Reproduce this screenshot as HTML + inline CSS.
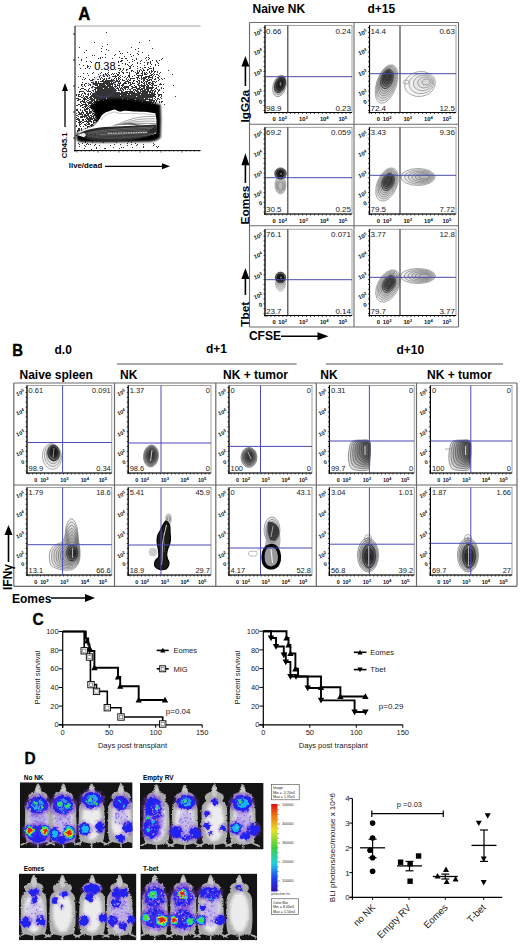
<!DOCTYPE html>
<html><head><meta charset="utf-8"><title>Figure</title><style>
html,body{margin:0;padding:0;background:#fff;width:520px;height:944px;overflow:hidden}
svg{display:block}
text{font-family:"Liberation Sans",sans-serif}
</style></head><body>
<svg width="520" height="944" viewBox="0 0 520 944">
<rect width="520" height="944" fill="#fff"/>
<text x="0" y="0" font-size="17.6" font-weight="bold" stroke="#000" stroke-width="0.35" transform="translate(78.2,20.2) scale(0.95,1)">A</text>
<line x1="75.0" y1="26.0" x2="200.6" y2="26.0" stroke="#9a9a9a" stroke-width="0.9" />
<path d="M106 32h1v1h-1zM149 40h1v1h-1zM94 42h1v1h-1zM139 42h1v1h-1zM107 44h1v1h-1zM102 46h1v1h-1zM79 47h1v1h-1zM131 47h1v1h-1zM101 48h1v1h-1zM138 48h1v1h-1zM152 48h1v1h-1zM106 49h1v1h-1zM135 49h1v1h-1zM86 50h1v1h-1zM108 50h1v1h-1zM101 51h1v1h-1zM119 51h1v1h-1zM138 51h1v1h-1zM84 52h1v1h-1zM127 52h1v1h-1zM142 52h1v1h-1zM120 53h1v1h-1zM122 53h1v1h-1zM137 53h1v1h-1zM105 54h1v1h-1zM115 54h1v1h-1zM130 54h1v1h-1zM138 54h1v1h-1zM92 55h1v1h-1zM94 55h1v1h-1zM114 55h1v1h-1zM133 55h1v1h-1zM148 55h1v1h-1zM124 56h1v1h-1zM131 56h1v1h-1zM78 57h1v1h-1zM86 57h1v1h-1zM100 57h1v1h-1zM102 57h1v1h-1zM105 57h1v1h-1zM119 57h1v1h-1zM146 57h1v1h-1zM148 57h1v1h-1zM98 58h1v1h-1zM100 58h1v1h-1zM112 58h1v1h-1zM121 58h1v1h-1zM122 58h1v1h-1zM125 58h1v1h-1zM126 58h1v1h-1zM136 58h1v1h-1zM145 58h1v1h-1zM149 58h1v1h-1zM162 58h1v1h-1zM81 59h1v1h-1zM132 59h1v1h-1zM136 59h1v1h-1zM148 59h1v1h-1zM161 59h1v1h-1zM81 60h1v1h-1zM121 60h1v1h-1zM122 60h1v1h-1zM127 60h1v1h-1zM134 60h1v1h-1zM141 60h1v1h-1zM146 60h1v1h-1zM152 60h1v1h-1zM156 60h1v1h-1zM159 60h1v1h-1zM86 61h1v1h-1zM90 61h1v1h-1zM118 61h1v1h-1zM120 61h1v1h-1zM121 61h1v1h-1zM132 61h1v1h-1zM140 61h1v1h-1zM150 61h1v1h-1zM156 61h1v1h-1zM91 62h1v1h-1zM96 62h1v1h-1zM99 62h1v1h-1zM118 62h1v1h-1zM129 62h1v1h-1zM137 62h1v1h-1zM144 62h1v1h-1zM147 62h1v1h-1zM148 62h1v1h-1zM150 62h1v1h-1zM157 62h1v1h-1zM122 63h1v1h-1zM125 63h1v1h-1zM137 63h1v1h-1zM140 63h1v1h-1zM147 63h1v1h-1zM150 63h1v1h-1zM158 63h1v1h-1zM79 64h1v1h-1zM125 64h1v1h-1zM127 64h1v1h-1zM132 64h1v1h-1zM147 64h1v1h-1zM151 64h1v1h-1zM155 64h1v1h-1zM83 65h1v1h-1zM87 65h1v1h-1zM118 65h1v1h-1zM119 65h1v1h-1zM128 65h1v1h-1zM131 65h1v1h-1zM144 65h1v1h-1zM155 65h1v1h-1zM158 65h1v1h-1zM87 66h1v1h-1zM88 66h1v1h-1zM90 66h1v1h-1zM129 66h1v1h-1zM130 66h1v1h-1zM133 66h1v1h-1zM137 66h1v1h-1zM150 66h1v1h-1zM87 67h1v1h-1zM130 67h1v1h-1zM140 67h1v1h-1zM144 67h1v1h-1zM145 67h1v1h-1zM148 67h1v1h-1zM153 67h1v1h-1zM80 68h1v1h-1zM85 68h1v1h-1zM89 68h1v1h-1zM118 68h1v1h-1zM119 68h1v1h-1zM120 68h1v1h-1zM123 68h1v1h-1zM129 68h1v1h-1zM130 68h1v1h-1zM137 68h1v1h-1zM142 68h1v1h-1zM149 68h1v1h-1zM150 68h1v1h-1zM151 68h1v1h-1zM153 68h1v1h-1zM115 69h1v1h-1zM120 69h1v1h-1zM123 69h1v1h-1zM126 69h1v1h-1zM127 69h1v1h-1zM140 69h1v1h-1zM143 69h1v1h-1zM147 69h1v1h-1zM148 69h1v1h-1zM153 69h1v1h-1zM108 70h1v1h-1zM119 70h1v1h-1zM122 70h1v1h-1zM126 70h1v1h-1zM131 70h1v1h-1zM132 70h1v1h-1zM137 70h1v1h-1zM139 70h1v1h-1zM141 70h1v1h-1zM143 70h1v1h-1zM144 70h1v1h-1zM147 70h1v1h-1zM151 70h1v1h-1zM153 70h1v1h-1zM168 70h1v1h-1zM121 71h1v1h-1zM131 71h1v1h-1zM133 71h1v1h-1zM137 71h1v1h-1zM139 71h1v1h-1zM142 71h1v1h-1zM149 71h1v1h-1zM151 71h1v1h-1zM152 71h1v1h-1zM154 71h1v1h-1zM155 71h1v1h-1zM157 71h1v1h-1zM93 72h1v1h-1zM101 72h1v1h-1zM108 72h1v1h-1zM118 72h1v1h-1zM119 72h1v1h-1zM122 72h1v1h-1zM123 72h1v1h-1zM126 72h1v1h-1zM127 72h1v1h-1zM129 72h1v1h-1zM135 72h1v1h-1zM137 72h1v1h-1zM138 72h1v1h-1zM142 72h1v1h-1zM144 72h1v1h-1zM146 72h1v1h-1zM149 72h1v1h-1zM151 72h1v1h-1zM154 72h1v1h-1zM157 72h1v1h-1zM160 72h1v1h-1zM83 73h1v1h-1zM87 73h1v1h-1zM92 73h1v1h-1zM100 73h1v1h-1zM105 73h1v1h-1zM107 73h1v1h-1zM112 73h1v1h-1zM114 73h1v1h-1zM116 73h1v1h-1zM119 73h1v1h-1zM123 73h1v1h-1zM129 73h1v1h-1zM136 73h1v1h-1zM137 73h1v1h-1zM138 73h1v1h-1zM141 73h1v1h-1zM142 73h1v1h-1zM144 73h1v1h-1zM145 73h1v1h-1zM147 73h1v1h-1zM150 73h1v1h-1zM153 73h1v1h-1zM159 73h1v1h-1zM98 74h1v1h-1zM103 74h1v1h-1zM105 74h1v1h-1zM106 74h1v1h-1zM108 74h1v1h-1zM111 74h1v1h-1zM113 74h1v1h-1zM117 74h1v1h-1zM118 74h1v1h-1zM129 74h1v1h-1zM136 74h1v1h-1zM142 74h1v1h-1zM144 74h1v1h-1zM145 74h1v1h-1zM146 74h1v1h-1zM151 74h1v1h-1zM152 74h1v1h-1zM154 74h1v1h-1zM156 74h1v1h-1zM157 74h1v1h-1zM172 74h1v1h-1zM88 75h1v1h-1zM100 75h1v1h-1zM103 75h1v1h-1zM106 75h1v1h-1zM107 75h1v1h-1zM109 75h1v1h-1zM115 75h1v1h-1zM117 75h1v1h-1zM118 75h1v1h-1zM120 75h1v1h-1zM128 75h1v1h-1zM129 75h1v1h-1zM134 75h1v1h-1zM137 75h1v1h-1zM138 75h1v1h-1zM139 75h1v1h-1zM140 75h1v1h-1zM141 75h1v1h-1zM142 75h1v1h-1zM149 75h1v1h-1zM150 75h1v1h-1zM151 75h1v1h-1zM153 75h1v1h-1zM158 75h1v1h-1zM78 76h1v1h-1zM80 76h1v1h-1zM99 76h1v1h-1zM103 76h1v1h-1zM104 76h1v1h-1zM107 76h1v1h-1zM112 76h1v1h-1zM113 76h1v1h-1zM114 76h1v1h-1zM115 76h1v1h-1zM116 76h1v1h-1zM119 76h1v1h-1zM122 76h1v1h-1zM125 76h1v1h-1zM128 76h1v1h-1zM129 76h1v1h-1zM132 76h1v1h-1zM138 76h1v1h-1zM141 76h1v1h-1zM145 76h1v1h-1zM146 76h1v1h-1zM147 76h1v1h-1zM148 76h1v1h-1zM149 76h1v1h-1zM152 76h1v1h-1zM155 76h1v1h-1zM159 76h1v1h-1zM83 77h1v1h-1zM94 77h1v1h-1zM99 77h1v1h-1zM101 77h1v1h-1zM109 77h1v1h-1zM115 77h1v1h-1zM118 77h1v1h-1zM120 77h1v1h-1zM124 77h1v1h-1zM127 77h1v1h-1zM129 77h1v1h-1zM136 77h1v1h-1zM137 77h1v1h-1zM138 77h1v1h-1zM141 77h1v1h-1zM143 77h1v1h-1zM144 77h1v1h-1zM145 77h1v1h-1zM146 77h1v1h-1zM148 77h1v1h-1zM149 77h1v1h-1zM150 77h1v1h-1zM151 77h1v1h-1zM152 77h1v1h-1zM157 77h1v1h-1zM158 77h1v1h-1zM85 78h1v1h-1zM100 78h1v1h-1zM102 78h1v1h-1zM104 78h1v1h-1zM106 78h1v1h-1zM108 78h1v1h-1zM109 78h1v1h-1zM114 78h1v1h-1zM116 78h1v1h-1zM118 78h1v1h-1zM119 78h1v1h-1zM126 78h1v1h-1zM130 78h1v1h-1zM131 78h1v1h-1zM132 78h1v1h-1zM133 78h1v1h-1zM134 78h1v1h-1zM137 78h1v1h-1zM139 78h1v1h-1zM141 78h1v1h-1zM142 78h1v1h-1zM143 78h1v1h-1zM144 78h1v1h-1zM145 78h1v1h-1zM148 78h1v1h-1zM152 78h1v1h-1zM155 78h1v1h-1zM158 78h1v1h-1zM161 78h1v1h-1zM164 78h1v1h-1zM82 79h1v1h-1zM84 79h1v1h-1zM89 79h1v1h-1zM92 79h1v1h-1zM93 79h1v1h-1zM97 79h1v1h-1zM98 79h1v1h-1zM100 79h1v1h-1zM103 79h1v1h-1zM104 79h1v1h-1zM106 79h1v1h-1zM111 79h1v1h-1zM113 79h1v1h-1zM116 79h1v1h-1zM118 79h1v1h-1zM120 79h1v1h-1zM122 79h1v1h-1zM126 79h1v1h-1zM128 79h1v1h-1zM130 79h1v1h-1zM137 79h1v1h-1zM141 79h1v1h-1zM143 79h1v1h-1zM144 79h1v1h-1zM146 79h1v1h-1zM147 79h1v1h-1zM149 79h1v1h-1zM150 79h1v1h-1zM151 79h1v1h-1zM154 79h1v1h-1zM155 79h1v1h-1zM159 79h1v1h-1zM162 79h1v1h-1zM90 80h1v1h-1zM91 80h1v1h-1zM92 80h1v1h-1zM102 80h1v1h-1zM103 80h1v1h-1zM105 80h1v1h-1zM106 80h1v1h-1zM107 80h1v1h-1zM108 80h1v1h-1zM109 80h1v1h-1zM110 80h1v1h-1zM111 80h1v1h-1zM112 80h1v1h-1zM113 80h1v1h-1zM114 80h1v1h-1zM116 80h1v1h-1zM117 80h1v1h-1zM119 80h1v1h-1zM122 80h1v1h-1zM123 80h1v1h-1zM124 80h1v1h-1zM127 80h1v1h-1zM129 80h1v1h-1zM130 80h1v1h-1zM133 80h1v1h-1zM134 80h1v1h-1zM138 80h1v1h-1zM139 80h1v1h-1zM143 80h1v1h-1zM144 80h1v1h-1zM147 80h1v1h-1zM148 80h1v1h-1zM149 80h1v1h-1zM151 80h1v1h-1zM158 80h1v1h-1zM95 81h1v1h-1zM96 81h1v1h-1zM98 81h1v1h-1zM100 81h1v1h-1zM101 81h1v1h-1zM102 81h1v1h-1zM103 81h1v1h-1zM104 81h1v1h-1zM105 81h1v1h-1zM106 81h1v1h-1zM107 81h1v1h-1zM108 81h1v1h-1zM109 81h1v1h-1zM110 81h1v1h-1zM111 81h1v1h-1zM112 81h1v1h-1zM115 81h1v1h-1zM116 81h1v1h-1zM117 81h1v1h-1zM118 81h1v1h-1zM119 81h1v1h-1zM125 81h1v1h-1zM126 81h1v1h-1zM127 81h1v1h-1zM128 81h1v1h-1zM133 81h1v1h-1zM136 81h1v1h-1zM137 81h1v1h-1zM139 81h1v1h-1zM141 81h1v1h-1zM143 81h1v1h-1zM145 81h1v1h-1zM146 81h1v1h-1zM147 81h1v1h-1zM152 81h1v1h-1zM153 81h1v1h-1zM154 81h1v1h-1zM156 81h1v1h-1zM82 82h1v1h-1zM91 82h1v1h-1zM92 82h1v1h-1zM93 82h1v1h-1zM95 82h1v1h-1zM96 82h1v1h-1zM98 82h1v1h-1zM103 82h1v1h-1zM104 82h1v1h-1zM105 82h1v1h-1zM106 82h1v1h-1zM107 82h1v1h-1zM108 82h1v1h-1zM109 82h1v1h-1zM111 82h1v1h-1zM113 82h1v1h-1zM114 82h1v1h-1zM115 82h1v1h-1zM118 82h1v1h-1zM120 82h1v1h-1zM124 82h1v1h-1zM125 82h1v1h-1zM128 82h1v1h-1zM129 82h1v1h-1zM130 82h1v1h-1zM132 82h1v1h-1zM137 82h1v1h-1zM139 82h1v1h-1zM141 82h1v1h-1zM142 82h1v1h-1zM144 82h1v1h-1zM146 82h1v1h-1zM148 82h1v1h-1zM149 82h1v1h-1zM150 82h1v1h-1zM152 82h1v1h-1zM155 82h1v1h-1zM85 83h1v1h-1zM86 83h1v1h-1zM88 83h1v1h-1zM93 83h1v1h-1zM94 83h1v1h-1zM95 83h1v1h-1zM96 83h1v1h-1zM97 83h1v1h-1zM98 83h1v1h-1zM99 83h1v1h-1zM100 83h1v1h-1zM101 83h1v1h-1zM102 83h1v1h-1zM103 83h1v1h-1zM104 83h1v1h-1zM105 83h1v1h-1zM106 83h1v1h-1zM107 83h1v1h-1zM108 83h1v1h-1zM109 83h1v1h-1zM110 83h1v1h-1zM111 83h1v1h-1zM112 83h1v1h-1zM113 83h1v1h-1zM118 83h1v1h-1zM119 83h1v1h-1zM120 83h1v1h-1zM123 83h1v1h-1zM124 83h1v1h-1zM125 83h1v1h-1zM126 83h1v1h-1zM128 83h1v1h-1zM130 83h1v1h-1zM132 83h1v1h-1zM133 83h1v1h-1zM134 83h1v1h-1zM138 83h1v1h-1zM139 83h1v1h-1zM143 83h1v1h-1zM144 83h1v1h-1zM146 83h1v1h-1zM148 83h1v1h-1zM149 83h1v1h-1zM151 83h1v1h-1zM152 83h1v1h-1zM153 83h1v1h-1zM160 83h1v1h-1zM81 84h1v1h-1zM82 84h1v1h-1zM84 84h1v1h-1zM89 84h1v1h-1zM90 84h1v1h-1zM93 84h1v1h-1zM94 84h1v1h-1zM95 84h1v1h-1zM96 84h1v1h-1zM97 84h1v1h-1zM99 84h1v1h-1zM100 84h1v1h-1zM101 84h1v1h-1zM102 84h1v1h-1zM103 84h1v1h-1zM104 84h1v1h-1zM106 84h1v1h-1zM107 84h1v1h-1zM108 84h1v1h-1zM109 84h1v1h-1zM110 84h1v1h-1zM111 84h1v1h-1zM112 84h1v1h-1zM114 84h1v1h-1zM115 84h1v1h-1zM117 84h1v1h-1zM119 84h1v1h-1zM122 84h1v1h-1zM123 84h1v1h-1zM130 84h1v1h-1zM131 84h1v1h-1zM137 84h1v1h-1zM138 84h1v1h-1zM141 84h1v1h-1zM144 84h1v1h-1zM146 84h1v1h-1zM147 84h1v1h-1zM149 84h1v1h-1zM150 84h1v1h-1zM152 84h1v1h-1zM153 84h1v1h-1zM159 84h1v1h-1zM160 84h1v1h-1zM161 84h1v1h-1zM163 84h1v1h-1zM81 85h1v1h-1zM84 85h1v1h-1zM88 85h1v1h-1zM90 85h1v1h-1zM95 85h1v1h-1zM96 85h1v1h-1zM97 85h1v1h-1zM99 85h1v1h-1zM100 85h1v1h-1zM101 85h1v1h-1zM102 85h1v1h-1zM103 85h1v1h-1zM104 85h1v1h-1zM105 85h1v1h-1zM107 85h1v1h-1zM108 85h1v1h-1zM109 85h1v1h-1zM110 85h1v1h-1zM112 85h1v1h-1zM115 85h1v1h-1zM117 85h1v1h-1zM118 85h1v1h-1zM119 85h1v1h-1zM121 85h1v1h-1zM122 85h1v1h-1zM123 85h1v1h-1zM129 85h1v1h-1zM130 85h1v1h-1zM134 85h1v1h-1zM138 85h1v1h-1zM139 85h1v1h-1zM140 85h1v1h-1zM141 85h1v1h-1zM142 85h1v1h-1zM143 85h1v1h-1zM144 85h1v1h-1zM145 85h1v1h-1zM147 85h1v1h-1zM148 85h1v1h-1zM151 85h1v1h-1zM152 85h1v1h-1zM154 85h1v1h-1zM155 85h1v1h-1zM156 85h1v1h-1zM173 85h1v1h-1zM82 86h1v1h-1zM85 86h1v1h-1zM92 86h1v1h-1zM93 86h1v1h-1zM97 86h1v1h-1zM98 86h1v1h-1zM99 86h1v1h-1zM100 86h1v1h-1zM101 86h1v1h-1zM102 86h1v1h-1zM103 86h1v1h-1zM104 86h1v1h-1zM105 86h1v1h-1zM106 86h1v1h-1zM107 86h1v1h-1zM108 86h1v1h-1zM109 86h1v1h-1zM110 86h1v1h-1zM111 86h1v1h-1zM112 86h1v1h-1zM114 86h1v1h-1zM115 86h1v1h-1zM116 86h1v1h-1zM119 86h1v1h-1zM122 86h1v1h-1zM124 86h1v1h-1zM125 86h1v1h-1zM126 86h1v1h-1zM127 86h1v1h-1zM128 86h1v1h-1zM131 86h1v1h-1zM132 86h1v1h-1zM135 86h1v1h-1zM136 86h1v1h-1zM139 86h1v1h-1zM141 86h1v1h-1zM142 86h1v1h-1zM143 86h1v1h-1zM144 86h1v1h-1zM146 86h1v1h-1zM147 86h1v1h-1zM148 86h1v1h-1zM152 86h1v1h-1zM158 86h1v1h-1zM78 87h1v1h-1zM91 87h1v1h-1zM92 87h1v1h-1zM94 87h1v1h-1zM95 87h1v1h-1zM96 87h1v1h-1zM97 87h1v1h-1zM98 87h1v1h-1zM99 87h1v1h-1zM100 87h1v1h-1zM101 87h1v1h-1zM102 87h1v1h-1zM103 87h1v1h-1zM104 87h1v1h-1zM105 87h1v1h-1zM106 87h1v1h-1zM107 87h1v1h-1zM109 87h1v1h-1zM110 87h1v1h-1zM111 87h1v1h-1zM112 87h1v1h-1zM113 87h1v1h-1zM115 87h1v1h-1zM117 87h1v1h-1zM119 87h1v1h-1zM121 87h1v1h-1zM123 87h1v1h-1zM124 87h1v1h-1zM125 87h1v1h-1zM126 87h1v1h-1zM127 87h1v1h-1zM128 87h1v1h-1zM132 87h1v1h-1zM133 87h1v1h-1zM134 87h1v1h-1zM135 87h1v1h-1zM136 87h1v1h-1zM139 87h1v1h-1zM140 87h1v1h-1zM143 87h1v1h-1zM144 87h1v1h-1zM146 87h1v1h-1zM147 87h1v1h-1zM148 87h1v1h-1zM149 87h1v1h-1zM150 87h1v1h-1zM151 87h1v1h-1zM152 87h1v1h-1zM153 87h1v1h-1zM156 87h1v1h-1zM161 87h1v1h-1zM81 88h1v1h-1zM82 88h1v1h-1zM83 88h1v1h-1zM89 88h1v1h-1zM95 88h1v1h-1zM96 88h1v1h-1zM97 88h1v1h-1zM98 88h1v1h-1zM99 88h1v1h-1zM100 88h1v1h-1zM101 88h1v1h-1zM102 88h1v1h-1zM104 88h1v1h-1zM105 88h1v1h-1zM106 88h1v1h-1zM107 88h1v1h-1zM108 88h1v1h-1zM109 88h1v1h-1zM110 88h1v1h-1zM111 88h1v1h-1zM112 88h1v1h-1zM113 88h1v1h-1zM114 88h1v1h-1zM116 88h1v1h-1zM117 88h1v1h-1zM118 88h1v1h-1zM120 88h1v1h-1zM121 88h1v1h-1zM122 88h1v1h-1zM124 88h1v1h-1zM125 88h1v1h-1zM128 88h1v1h-1zM131 88h1v1h-1zM132 88h1v1h-1zM136 88h1v1h-1zM137 88h1v1h-1zM138 88h1v1h-1zM139 88h1v1h-1zM141 88h1v1h-1zM142 88h1v1h-1zM143 88h1v1h-1zM144 88h1v1h-1zM146 88h1v1h-1zM147 88h1v1h-1zM148 88h1v1h-1zM149 88h1v1h-1zM150 88h1v1h-1zM151 88h1v1h-1zM152 88h1v1h-1zM155 88h1v1h-1zM156 88h1v1h-1zM161 88h1v1h-1zM163 88h1v1h-1zM80 89h1v1h-1zM84 89h1v1h-1zM85 89h1v1h-1zM88 89h1v1h-1zM94 89h1v1h-1zM95 89h1v1h-1zM97 89h1v1h-1zM98 89h1v1h-1zM99 89h1v1h-1zM100 89h1v1h-1zM101 89h1v1h-1zM102 89h1v1h-1zM103 89h1v1h-1zM104 89h1v1h-1zM105 89h1v1h-1zM106 89h1v1h-1zM107 89h1v1h-1zM108 89h1v1h-1zM109 89h1v1h-1zM110 89h1v1h-1zM111 89h1v1h-1zM112 89h1v1h-1zM113 89h1v1h-1zM114 89h1v1h-1zM115 89h1v1h-1zM118 89h1v1h-1zM120 89h1v1h-1zM122 89h1v1h-1zM123 89h1v1h-1zM125 89h1v1h-1zM127 89h1v1h-1zM129 89h1v1h-1zM130 89h1v1h-1zM133 89h1v1h-1zM134 89h1v1h-1zM135 89h1v1h-1zM137 89h1v1h-1zM138 89h1v1h-1zM139 89h1v1h-1zM140 89h1v1h-1zM141 89h1v1h-1zM142 89h1v1h-1zM144 89h1v1h-1zM145 89h1v1h-1zM146 89h1v1h-1zM147 89h1v1h-1zM148 89h1v1h-1zM151 89h1v1h-1zM154 89h1v1h-1zM157 89h1v1h-1zM159 89h1v1h-1zM86 90h1v1h-1zM88 90h1v1h-1zM92 90h1v1h-1zM93 90h1v1h-1zM95 90h1v1h-1zM97 90h1v1h-1zM98 90h1v1h-1zM99 90h1v1h-1zM100 90h1v1h-1zM101 90h1v1h-1zM102 90h1v1h-1zM103 90h1v1h-1zM104 90h1v1h-1zM105 90h1v1h-1zM106 90h1v1h-1zM107 90h1v1h-1zM108 90h1v1h-1zM109 90h1v1h-1zM110 90h1v1h-1zM111 90h1v1h-1zM112 90h1v1h-1zM113 90h1v1h-1zM114 90h1v1h-1zM115 90h1v1h-1zM116 90h1v1h-1zM118 90h1v1h-1zM119 90h1v1h-1zM120 90h1v1h-1zM121 90h1v1h-1zM123 90h1v1h-1zM130 90h1v1h-1zM133 90h1v1h-1zM135 90h1v1h-1zM136 90h1v1h-1zM137 90h1v1h-1zM140 90h1v1h-1zM142 90h1v1h-1zM143 90h1v1h-1zM144 90h1v1h-1zM145 90h1v1h-1zM147 90h1v1h-1zM148 90h1v1h-1zM150 90h1v1h-1zM151 90h1v1h-1zM152 90h1v1h-1zM153 90h1v1h-1zM155 90h1v1h-1zM158 90h1v1h-1zM159 90h1v1h-1zM79 91h1v1h-1zM80 91h1v1h-1zM81 91h1v1h-1zM82 91h1v1h-1zM83 91h1v1h-1zM87 91h1v1h-1zM88 91h1v1h-1zM89 91h1v1h-1zM90 91h1v1h-1zM93 91h1v1h-1zM95 91h1v1h-1zM96 91h1v1h-1zM97 91h1v1h-1zM98 91h1v1h-1zM99 91h1v1h-1zM100 91h1v1h-1zM101 91h1v1h-1zM102 91h1v1h-1zM103 91h1v1h-1zM104 91h1v1h-1zM105 91h1v1h-1zM106 91h1v1h-1zM107 91h1v1h-1zM108 91h1v1h-1zM109 91h1v1h-1zM110 91h1v1h-1zM111 91h1v1h-1zM112 91h1v1h-1zM113 91h1v1h-1zM114 91h1v1h-1zM115 91h1v1h-1zM121 91h1v1h-1zM122 91h1v1h-1zM125 91h1v1h-1zM126 91h1v1h-1zM127 91h1v1h-1zM128 91h1v1h-1zM129 91h1v1h-1zM130 91h1v1h-1zM131 91h1v1h-1zM132 91h1v1h-1zM134 91h1v1h-1zM136 91h1v1h-1zM137 91h1v1h-1zM138 91h1v1h-1zM140 91h1v1h-1zM141 91h1v1h-1zM142 91h1v1h-1zM143 91h1v1h-1zM144 91h1v1h-1zM145 91h1v1h-1zM146 91h1v1h-1zM147 91h1v1h-1zM148 91h1v1h-1zM149 91h1v1h-1zM150 91h1v1h-1zM152 91h1v1h-1zM154 91h1v1h-1zM155 91h1v1h-1zM158 91h1v1h-1zM79 92h1v1h-1zM84 92h1v1h-1zM91 92h1v1h-1zM95 92h1v1h-1zM96 92h1v1h-1zM97 92h1v1h-1zM98 92h1v1h-1zM99 92h1v1h-1zM100 92h1v1h-1zM101 92h1v1h-1zM102 92h1v1h-1zM103 92h1v1h-1zM104 92h1v1h-1zM105 92h1v1h-1zM106 92h1v1h-1zM107 92h1v1h-1zM108 92h1v1h-1zM109 92h1v1h-1zM110 92h1v1h-1zM111 92h1v1h-1zM112 92h1v1h-1zM113 92h1v1h-1zM114 92h1v1h-1zM115 92h1v1h-1zM116 92h1v1h-1zM117 92h1v1h-1zM118 92h1v1h-1zM119 92h1v1h-1zM121 92h1v1h-1zM122 92h1v1h-1zM123 92h1v1h-1zM124 92h1v1h-1zM125 92h1v1h-1zM126 92h1v1h-1zM127 92h1v1h-1zM129 92h1v1h-1zM130 92h1v1h-1zM131 92h1v1h-1zM132 92h1v1h-1zM133 92h1v1h-1zM134 92h1v1h-1zM137 92h1v1h-1zM138 92h1v1h-1zM139 92h1v1h-1zM140 92h1v1h-1zM142 92h1v1h-1zM143 92h1v1h-1zM144 92h1v1h-1zM145 92h1v1h-1zM146 92h1v1h-1zM147 92h1v1h-1zM149 92h1v1h-1zM150 92h1v1h-1zM151 92h1v1h-1zM152 92h1v1h-1zM154 92h1v1h-1zM157 92h1v1h-1zM163 92h1v1h-1zM82 93h1v1h-1zM84 93h1v1h-1zM85 93h1v1h-1zM88 93h1v1h-1zM90 93h1v1h-1zM92 93h1v1h-1zM93 93h1v1h-1zM94 93h1v1h-1zM95 93h1v1h-1zM96 93h1v1h-1zM97 93h1v1h-1zM98 93h1v1h-1zM99 93h1v1h-1zM100 93h1v1h-1zM101 93h1v1h-1zM102 93h1v1h-1zM103 93h1v1h-1zM104 93h1v1h-1zM105 93h1v1h-1zM106 93h1v1h-1zM107 93h1v1h-1zM108 93h1v1h-1zM109 93h1v1h-1zM110 93h1v1h-1zM111 93h1v1h-1zM112 93h1v1h-1zM113 93h1v1h-1zM114 93h1v1h-1zM115 93h1v1h-1zM116 93h1v1h-1zM117 93h1v1h-1zM118 93h1v1h-1zM119 93h1v1h-1zM120 93h1v1h-1zM121 93h1v1h-1zM122 93h1v1h-1zM123 93h1v1h-1zM124 93h1v1h-1zM125 93h1v1h-1zM126 93h1v1h-1zM127 93h1v1h-1zM128 93h1v1h-1zM129 93h1v1h-1zM130 93h1v1h-1zM131 93h1v1h-1zM132 93h1v1h-1zM133 93h1v1h-1zM134 93h1v1h-1zM135 93h1v1h-1zM136 93h1v1h-1zM137 93h1v1h-1zM138 93h1v1h-1zM139 93h1v1h-1zM140 93h1v1h-1zM141 93h1v1h-1zM142 93h1v1h-1zM143 93h1v1h-1zM144 93h1v1h-1zM145 93h1v1h-1zM146 93h1v1h-1zM147 93h1v1h-1zM149 93h1v1h-1zM151 93h1v1h-1zM152 93h1v1h-1zM153 93h1v1h-1zM154 93h1v1h-1zM157 93h1v1h-1zM76 94h1v1h-1zM78 94h1v1h-1zM79 94h1v1h-1zM81 94h1v1h-1zM85 94h1v1h-1zM87 94h1v1h-1zM88 94h1v1h-1zM90 94h1v1h-1zM92 94h1v1h-1zM93 94h1v1h-1zM94 94h1v1h-1zM95 94h1v1h-1zM96 94h1v1h-1zM97 94h1v1h-1zM98 94h1v1h-1zM99 94h1v1h-1zM100 94h1v1h-1zM101 94h1v1h-1zM102 94h1v1h-1zM103 94h1v1h-1zM104 94h1v1h-1zM105 94h1v1h-1zM106 94h1v1h-1zM107 94h1v1h-1zM108 94h1v1h-1zM109 94h1v1h-1zM110 94h1v1h-1zM111 94h1v1h-1zM112 94h1v1h-1zM113 94h1v1h-1zM114 94h1v1h-1zM115 94h1v1h-1zM116 94h1v1h-1zM117 94h1v1h-1zM118 94h1v1h-1zM119 94h1v1h-1zM120 94h1v1h-1zM121 94h1v1h-1zM122 94h1v1h-1zM123 94h1v1h-1zM124 94h1v1h-1zM125 94h1v1h-1zM126 94h1v1h-1zM128 94h1v1h-1zM129 94h1v1h-1zM131 94h1v1h-1zM132 94h1v1h-1zM133 94h1v1h-1zM134 94h1v1h-1zM135 94h1v1h-1zM136 94h1v1h-1zM137 94h1v1h-1zM138 94h1v1h-1zM139 94h1v1h-1zM141 94h1v1h-1zM142 94h1v1h-1zM143 94h1v1h-1zM144 94h1v1h-1zM145 94h1v1h-1zM146 94h1v1h-1zM147 94h1v1h-1zM148 94h1v1h-1zM149 94h1v1h-1zM150 94h1v1h-1zM151 94h1v1h-1zM152 94h1v1h-1zM153 94h1v1h-1zM154 94h1v1h-1zM155 94h1v1h-1zM158 94h1v1h-1zM159 94h1v1h-1zM160 94h1v1h-1zM161 94h1v1h-1zM76 95h1v1h-1zM78 95h1v1h-1zM81 95h1v1h-1zM83 95h1v1h-1zM88 95h1v1h-1zM91 95h1v1h-1zM92 95h1v1h-1zM93 95h1v1h-1zM94 95h1v1h-1zM95 95h1v1h-1zM96 95h1v1h-1zM97 95h1v1h-1zM98 95h1v1h-1zM99 95h1v1h-1zM100 95h1v1h-1zM101 95h1v1h-1zM102 95h1v1h-1zM103 95h1v1h-1zM104 95h1v1h-1zM105 95h1v1h-1zM106 95h1v1h-1zM107 95h1v1h-1zM108 95h1v1h-1zM109 95h1v1h-1zM110 95h1v1h-1zM111 95h1v1h-1zM112 95h1v1h-1zM113 95h1v1h-1zM114 95h1v1h-1zM115 95h1v1h-1zM116 95h1v1h-1zM117 95h1v1h-1zM118 95h1v1h-1zM119 95h1v1h-1zM121 95h1v1h-1zM122 95h1v1h-1zM123 95h1v1h-1zM124 95h1v1h-1zM125 95h1v1h-1zM126 95h1v1h-1zM127 95h1v1h-1zM128 95h1v1h-1zM129 95h1v1h-1zM130 95h1v1h-1zM131 95h1v1h-1zM132 95h1v1h-1zM133 95h1v1h-1zM134 95h1v1h-1zM135 95h1v1h-1zM136 95h1v1h-1zM137 95h1v1h-1zM138 95h1v1h-1zM139 95h1v1h-1zM140 95h1v1h-1zM141 95h1v1h-1zM142 95h1v1h-1zM143 95h1v1h-1zM144 95h1v1h-1zM145 95h1v1h-1zM146 95h1v1h-1zM147 95h1v1h-1zM148 95h1v1h-1zM149 95h1v1h-1zM150 95h1v1h-1zM151 95h1v1h-1zM152 95h1v1h-1zM153 95h1v1h-1zM154 95h1v1h-1zM158 95h1v1h-1zM159 95h1v1h-1zM161 95h1v1h-1zM78 96h1v1h-1zM79 96h1v1h-1zM80 96h1v1h-1zM83 96h1v1h-1zM85 96h1v1h-1zM86 96h1v1h-1zM87 96h1v1h-1zM90 96h1v1h-1zM91 96h1v1h-1zM92 96h1v1h-1zM93 96h1v1h-1zM94 96h1v1h-1zM95 96h1v1h-1zM96 96h1v1h-1zM97 96h1v1h-1zM98 96h1v1h-1zM99 96h1v1h-1zM100 96h1v1h-1zM101 96h1v1h-1zM102 96h1v1h-1zM103 96h1v1h-1zM104 96h1v1h-1zM105 96h1v1h-1zM106 96h1v1h-1zM107 96h1v1h-1zM108 96h1v1h-1zM109 96h1v1h-1zM110 96h1v1h-1zM111 96h1v1h-1zM112 96h1v1h-1zM113 96h1v1h-1zM114 96h1v1h-1zM115 96h1v1h-1zM116 96h1v1h-1zM117 96h1v1h-1zM118 96h1v1h-1zM119 96h1v1h-1zM120 96h1v1h-1zM121 96h1v1h-1zM122 96h1v1h-1zM123 96h1v1h-1zM124 96h1v1h-1zM125 96h1v1h-1zM126 96h1v1h-1zM127 96h1v1h-1zM128 96h1v1h-1zM129 96h1v1h-1zM130 96h1v1h-1zM131 96h1v1h-1zM132 96h1v1h-1zM133 96h1v1h-1zM134 96h1v1h-1zM135 96h1v1h-1zM137 96h1v1h-1zM138 96h1v1h-1zM139 96h1v1h-1zM140 96h1v1h-1zM141 96h1v1h-1zM142 96h1v1h-1zM143 96h1v1h-1zM144 96h1v1h-1zM145 96h1v1h-1zM146 96h1v1h-1zM147 96h1v1h-1zM148 96h1v1h-1zM149 96h1v1h-1zM150 96h1v1h-1zM151 96h1v1h-1zM152 96h1v1h-1zM153 96h1v1h-1zM154 96h1v1h-1zM155 96h1v1h-1zM158 96h1v1h-1zM161 96h1v1h-1zM175 96h1v1h-1zM81 97h1v1h-1zM82 97h1v1h-1zM84 97h1v1h-1zM86 97h1v1h-1zM87 97h1v1h-1zM89 97h1v1h-1zM90 97h1v1h-1zM91 97h1v1h-1zM93 97h1v1h-1zM94 97h1v1h-1zM95 97h1v1h-1zM96 97h1v1h-1zM97 97h1v1h-1zM98 97h1v1h-1zM99 97h1v1h-1zM100 97h1v1h-1zM101 97h1v1h-1zM102 97h1v1h-1zM103 97h1v1h-1zM104 97h1v1h-1zM105 97h1v1h-1zM106 97h1v1h-1zM107 97h1v1h-1zM108 97h1v1h-1zM109 97h1v1h-1zM110 97h1v1h-1zM111 97h1v1h-1zM112 97h1v1h-1zM113 97h1v1h-1zM114 97h1v1h-1zM115 97h1v1h-1zM116 97h1v1h-1zM117 97h1v1h-1zM118 97h1v1h-1zM119 97h1v1h-1zM120 97h1v1h-1zM121 97h1v1h-1zM122 97h1v1h-1zM123 97h1v1h-1zM124 97h1v1h-1zM125 97h1v1h-1zM126 97h1v1h-1zM127 97h1v1h-1zM128 97h1v1h-1zM129 97h1v1h-1zM130 97h1v1h-1zM131 97h1v1h-1zM132 97h1v1h-1zM133 97h1v1h-1zM134 97h1v1h-1zM135 97h1v1h-1zM136 97h1v1h-1zM137 97h1v1h-1zM138 97h1v1h-1zM139 97h1v1h-1zM140 97h1v1h-1zM141 97h1v1h-1zM142 97h1v1h-1zM143 97h1v1h-1zM144 97h1v1h-1zM145 97h1v1h-1zM146 97h1v1h-1zM147 97h1v1h-1zM148 97h1v1h-1zM149 97h1v1h-1zM150 97h1v1h-1zM151 97h1v1h-1zM152 97h1v1h-1zM155 97h1v1h-1zM160 97h1v1h-1zM76 98h1v1h-1zM77 98h1v1h-1zM78 98h1v1h-1zM83 98h1v1h-1zM84 98h1v1h-1zM85 98h1v1h-1zM87 98h1v1h-1zM88 98h1v1h-1zM90 98h1v1h-1zM91 98h1v1h-1zM92 98h1v1h-1zM94 98h1v1h-1zM95 98h1v1h-1zM96 98h1v1h-1zM97 98h1v1h-1zM98 98h1v1h-1zM99 98h1v1h-1zM100 98h1v1h-1zM101 98h1v1h-1zM102 98h1v1h-1zM103 98h1v1h-1zM104 98h1v1h-1zM105 98h1v1h-1zM107 98h1v1h-1zM108 98h1v1h-1zM109 98h1v1h-1zM110 98h1v1h-1zM111 98h1v1h-1zM112 98h1v1h-1zM113 98h1v1h-1zM114 98h1v1h-1zM115 98h1v1h-1zM116 98h1v1h-1zM117 98h1v1h-1zM118 98h1v1h-1zM119 98h1v1h-1zM120 98h1v1h-1zM121 98h1v1h-1zM123 98h1v1h-1zM124 98h1v1h-1zM125 98h1v1h-1zM126 98h1v1h-1zM127 98h1v1h-1zM128 98h1v1h-1zM129 98h1v1h-1zM130 98h1v1h-1zM131 98h1v1h-1zM132 98h1v1h-1zM133 98h1v1h-1zM134 98h1v1h-1zM135 98h1v1h-1zM136 98h1v1h-1zM137 98h1v1h-1zM138 98h1v1h-1zM139 98h1v1h-1zM140 98h1v1h-1zM141 98h1v1h-1zM142 98h1v1h-1zM143 98h1v1h-1zM145 98h1v1h-1zM146 98h1v1h-1zM147 98h1v1h-1zM149 98h1v1h-1zM152 98h1v1h-1zM154 98h1v1h-1zM157 98h1v1h-1zM158 98h1v1h-1zM161 98h1v1h-1zM78 99h1v1h-1zM79 99h1v1h-1zM80 99h1v1h-1zM83 99h1v1h-1zM84 99h1v1h-1zM85 99h1v1h-1zM86 99h1v1h-1zM89 99h1v1h-1zM90 99h1v1h-1zM91 99h1v1h-1zM92 99h1v1h-1zM93 99h1v1h-1zM94 99h1v1h-1zM96 99h1v1h-1zM97 99h1v1h-1zM98 99h1v1h-1zM99 99h1v1h-1zM100 99h1v1h-1zM101 99h1v1h-1zM102 99h1v1h-1zM103 99h1v1h-1zM104 99h1v1h-1zM105 99h1v1h-1zM106 99h1v1h-1zM107 99h1v1h-1zM108 99h1v1h-1zM109 99h1v1h-1zM110 99h1v1h-1zM111 99h1v1h-1zM112 99h1v1h-1zM113 99h1v1h-1zM114 99h1v1h-1zM115 99h1v1h-1zM116 99h1v1h-1zM117 99h1v1h-1zM118 99h1v1h-1zM119 99h1v1h-1zM120 99h1v1h-1zM121 99h1v1h-1zM122 99h1v1h-1zM123 99h1v1h-1zM124 99h1v1h-1zM125 99h1v1h-1zM126 99h1v1h-1zM128 99h1v1h-1zM129 99h1v1h-1zM130 99h1v1h-1zM131 99h1v1h-1zM132 99h1v1h-1zM133 99h1v1h-1zM134 99h1v1h-1zM136 99h1v1h-1zM137 99h1v1h-1zM138 99h1v1h-1zM139 99h1v1h-1zM140 99h1v1h-1zM141 99h1v1h-1zM142 99h1v1h-1zM143 99h1v1h-1zM144 99h1v1h-1zM145 99h1v1h-1zM146 99h1v1h-1zM147 99h1v1h-1zM148 99h1v1h-1zM149 99h1v1h-1zM150 99h1v1h-1zM151 99h1v1h-1zM152 99h1v1h-1zM155 99h1v1h-1zM157 99h1v1h-1zM159 99h1v1h-1zM77 100h1v1h-1zM78 100h1v1h-1zM82 100h1v1h-1zM84 100h1v1h-1zM87 100h1v1h-1zM88 100h1v1h-1zM91 100h1v1h-1zM92 100h1v1h-1zM93 100h1v1h-1zM94 100h1v1h-1zM96 100h1v1h-1zM97 100h1v1h-1zM99 100h1v1h-1zM100 100h1v1h-1zM101 100h1v1h-1zM102 100h1v1h-1zM104 100h1v1h-1zM105 100h1v1h-1zM106 100h1v1h-1zM107 100h1v1h-1zM108 100h1v1h-1zM110 100h1v1h-1zM111 100h1v1h-1zM112 100h1v1h-1zM113 100h1v1h-1zM114 100h1v1h-1zM115 100h1v1h-1zM116 100h1v1h-1zM117 100h1v1h-1zM118 100h1v1h-1zM119 100h1v1h-1zM120 100h1v1h-1zM122 100h1v1h-1zM123 100h1v1h-1zM124 100h1v1h-1zM125 100h1v1h-1zM126 100h1v1h-1zM127 100h1v1h-1zM128 100h1v1h-1zM129 100h1v1h-1zM130 100h1v1h-1zM131 100h1v1h-1zM132 100h1v1h-1zM133 100h1v1h-1zM134 100h1v1h-1zM135 100h1v1h-1zM136 100h1v1h-1zM137 100h1v1h-1zM138 100h1v1h-1zM139 100h1v1h-1zM140 100h1v1h-1zM141 100h1v1h-1zM142 100h1v1h-1zM143 100h1v1h-1zM144 100h1v1h-1zM145 100h1v1h-1zM149 100h1v1h-1zM150 100h1v1h-1zM151 100h1v1h-1zM152 100h1v1h-1zM153 100h1v1h-1zM154 100h1v1h-1zM156 100h1v1h-1zM80 101h1v1h-1zM81 101h1v1h-1zM82 101h1v1h-1zM83 101h1v1h-1zM84 101h1v1h-1zM86 101h1v1h-1zM89 101h1v1h-1zM90 101h1v1h-1zM91 101h1v1h-1zM92 101h1v1h-1zM94 101h1v1h-1zM95 101h1v1h-1zM96 101h1v1h-1zM97 101h1v1h-1zM98 101h1v1h-1zM99 101h1v1h-1zM100 101h1v1h-1zM101 101h1v1h-1zM102 101h1v1h-1zM103 101h1v1h-1zM104 101h1v1h-1zM105 101h1v1h-1zM106 101h1v1h-1zM107 101h1v1h-1zM108 101h1v1h-1zM109 101h1v1h-1zM110 101h1v1h-1zM111 101h1v1h-1zM112 101h1v1h-1zM113 101h1v1h-1zM114 101h1v1h-1zM115 101h1v1h-1zM116 101h1v1h-1zM117 101h1v1h-1zM118 101h1v1h-1zM119 101h1v1h-1zM120 101h1v1h-1zM121 101h1v1h-1zM122 101h1v1h-1zM124 101h1v1h-1zM125 101h1v1h-1zM126 101h1v1h-1zM127 101h1v1h-1zM128 101h1v1h-1zM129 101h1v1h-1zM130 101h1v1h-1zM131 101h1v1h-1zM132 101h1v1h-1zM133 101h1v1h-1zM134 101h1v1h-1zM136 101h1v1h-1zM137 101h1v1h-1zM138 101h1v1h-1zM139 101h1v1h-1zM140 101h1v1h-1zM141 101h1v1h-1zM143 101h1v1h-1zM144 101h1v1h-1zM145 101h1v1h-1zM146 101h1v1h-1zM147 101h1v1h-1zM148 101h1v1h-1zM149 101h1v1h-1zM150 101h1v1h-1zM151 101h1v1h-1zM153 101h1v1h-1zM154 101h1v1h-1zM156 101h1v1h-1zM159 101h1v1h-1zM161 101h1v1h-1zM162 101h1v1h-1zM80 102h1v1h-1zM83 102h1v1h-1zM84 102h1v1h-1zM85 102h1v1h-1zM87 102h1v1h-1zM88 102h1v1h-1zM89 102h1v1h-1zM90 102h1v1h-1zM91 102h1v1h-1zM93 102h1v1h-1zM94 102h1v1h-1zM95 102h1v1h-1zM96 102h1v1h-1zM97 102h1v1h-1zM98 102h1v1h-1zM100 102h1v1h-1zM101 102h1v1h-1zM102 102h1v1h-1zM103 102h1v1h-1zM104 102h1v1h-1zM105 102h1v1h-1zM106 102h1v1h-1zM107 102h1v1h-1zM108 102h1v1h-1zM109 102h1v1h-1zM110 102h1v1h-1zM111 102h1v1h-1zM114 102h1v1h-1zM115 102h1v1h-1zM116 102h1v1h-1zM117 102h1v1h-1zM118 102h1v1h-1zM119 102h1v1h-1zM120 102h1v1h-1zM121 102h1v1h-1zM122 102h1v1h-1zM123 102h1v1h-1zM124 102h1v1h-1zM125 102h1v1h-1zM127 102h1v1h-1zM128 102h1v1h-1zM130 102h1v1h-1zM131 102h1v1h-1zM132 102h1v1h-1zM133 102h1v1h-1zM135 102h1v1h-1zM136 102h1v1h-1zM137 102h1v1h-1zM138 102h1v1h-1zM139 102h1v1h-1zM140 102h1v1h-1zM141 102h1v1h-1zM142 102h1v1h-1zM143 102h1v1h-1zM144 102h1v1h-1zM145 102h1v1h-1zM146 102h1v1h-1zM147 102h1v1h-1zM148 102h1v1h-1zM149 102h1v1h-1zM150 102h1v1h-1zM151 102h1v1h-1zM152 102h1v1h-1zM153 102h1v1h-1zM155 102h1v1h-1zM159 102h1v1h-1zM161 102h1v1h-1zM81 103h1v1h-1zM85 103h1v1h-1zM88 103h1v1h-1zM89 103h1v1h-1zM90 103h1v1h-1zM91 103h1v1h-1zM92 103h1v1h-1zM94 103h1v1h-1zM96 103h1v1h-1zM97 103h1v1h-1zM98 103h1v1h-1zM99 103h1v1h-1zM100 103h1v1h-1zM103 103h1v1h-1zM104 103h1v1h-1zM107 103h1v1h-1zM110 103h1v1h-1zM112 103h1v1h-1zM114 103h1v1h-1zM115 103h1v1h-1zM116 103h1v1h-1zM117 103h1v1h-1zM118 103h1v1h-1zM120 103h1v1h-1zM121 103h1v1h-1zM122 103h1v1h-1zM124 103h1v1h-1zM127 103h1v1h-1zM131 103h1v1h-1zM132 103h1v1h-1zM133 103h1v1h-1zM135 103h1v1h-1zM137 103h1v1h-1zM138 103h1v1h-1zM142 103h1v1h-1zM143 103h1v1h-1zM147 103h1v1h-1zM149 103h1v1h-1zM150 103h1v1h-1zM152 103h1v1h-1zM155 103h1v1h-1zM78 104h1v1h-1zM79 104h1v1h-1zM82 104h1v1h-1zM83 104h1v1h-1zM84 104h1v1h-1zM85 104h1v1h-1zM86 104h1v1h-1zM88 104h1v1h-1zM91 104h1v1h-1zM92 104h1v1h-1zM93 104h1v1h-1zM94 104h1v1h-1zM95 104h1v1h-1zM97 104h1v1h-1zM98 104h1v1h-1zM100 104h1v1h-1zM101 104h1v1h-1zM103 104h1v1h-1zM104 104h1v1h-1zM105 104h1v1h-1zM109 104h1v1h-1zM110 104h1v1h-1zM112 104h1v1h-1zM113 104h1v1h-1zM116 104h1v1h-1zM118 104h1v1h-1zM119 104h1v1h-1zM121 104h1v1h-1zM123 104h1v1h-1zM126 104h1v1h-1zM127 104h1v1h-1zM133 104h1v1h-1zM136 104h1v1h-1zM138 104h1v1h-1zM144 104h1v1h-1zM145 104h1v1h-1zM148 104h1v1h-1zM150 104h1v1h-1zM152 104h1v1h-1zM153 104h1v1h-1zM154 104h1v1h-1zM155 104h1v1h-1zM164 104h1v1h-1zM76 105h1v1h-1zM77 105h1v1h-1zM80 105h1v1h-1zM81 105h1v1h-1zM82 105h1v1h-1zM85 105h1v1h-1zM86 105h1v1h-1zM87 105h1v1h-1zM89 105h1v1h-1zM90 105h1v1h-1zM91 105h1v1h-1zM92 105h1v1h-1zM93 105h1v1h-1zM95 105h1v1h-1zM96 105h1v1h-1zM97 105h1v1h-1zM98 105h1v1h-1zM99 105h1v1h-1zM100 105h1v1h-1zM102 105h1v1h-1zM103 105h1v1h-1zM105 105h1v1h-1zM107 105h1v1h-1zM110 105h1v1h-1zM113 105h1v1h-1zM114 105h1v1h-1zM115 105h1v1h-1zM119 105h1v1h-1zM120 105h1v1h-1zM124 105h1v1h-1zM125 105h1v1h-1zM130 105h1v1h-1zM132 105h1v1h-1zM134 105h1v1h-1zM135 105h1v1h-1zM136 105h1v1h-1zM141 105h1v1h-1zM143 105h1v1h-1zM147 105h1v1h-1zM148 105h1v1h-1zM155 105h1v1h-1zM158 105h1v1h-1zM80 106h1v1h-1zM84 106h1v1h-1zM85 106h1v1h-1zM86 106h1v1h-1zM88 106h1v1h-1zM90 106h1v1h-1zM91 106h1v1h-1zM92 106h1v1h-1zM94 106h1v1h-1zM96 106h1v1h-1zM97 106h1v1h-1zM98 106h1v1h-1zM104 106h1v1h-1zM108 106h1v1h-1zM111 106h1v1h-1zM123 106h1v1h-1zM129 106h1v1h-1zM131 106h1v1h-1zM137 106h1v1h-1zM138 106h1v1h-1zM142 106h1v1h-1zM143 106h1v1h-1zM144 106h1v1h-1zM146 106h1v1h-1zM150 106h1v1h-1zM154 106h1v1h-1zM156 106h1v1h-1zM159 106h1v1h-1zM82 107h1v1h-1zM83 107h1v1h-1zM85 107h1v1h-1zM87 107h1v1h-1zM89 107h1v1h-1zM90 107h1v1h-1zM91 107h1v1h-1zM92 107h1v1h-1zM93 107h1v1h-1zM94 107h1v1h-1zM98 107h1v1h-1zM99 107h1v1h-1zM101 107h1v1h-1zM109 107h1v1h-1zM110 107h1v1h-1zM118 107h1v1h-1zM124 107h1v1h-1zM129 107h1v1h-1zM131 107h1v1h-1zM134 107h1v1h-1zM139 107h1v1h-1zM143 107h1v1h-1zM144 107h1v1h-1zM153 107h1v1h-1zM84 108h1v1h-1zM86 108h1v1h-1zM87 108h1v1h-1zM88 108h1v1h-1zM91 108h1v1h-1zM92 108h1v1h-1zM93 108h1v1h-1zM94 108h1v1h-1zM96 108h1v1h-1zM98 108h1v1h-1zM100 108h1v1h-1zM103 108h1v1h-1zM106 108h1v1h-1zM110 108h1v1h-1zM111 108h1v1h-1zM112 108h1v1h-1zM119 108h1v1h-1zM122 108h1v1h-1zM124 108h1v1h-1zM129 108h1v1h-1zM136 108h1v1h-1zM143 108h1v1h-1zM146 108h1v1h-1zM149 108h1v1h-1zM156 108h1v1h-1zM76 109h1v1h-1zM77 109h1v1h-1zM80 109h1v1h-1zM84 109h1v1h-1zM85 109h1v1h-1zM86 109h1v1h-1zM87 109h1v1h-1zM89 109h1v1h-1zM93 109h1v1h-1zM94 109h1v1h-1zM96 109h1v1h-1zM97 109h1v1h-1zM98 109h1v1h-1zM101 109h1v1h-1zM102 109h1v1h-1zM104 109h1v1h-1zM108 109h1v1h-1zM111 109h1v1h-1zM126 109h1v1h-1zM127 109h1v1h-1zM129 109h1v1h-1zM136 109h1v1h-1zM143 109h1v1h-1zM151 109h1v1h-1zM156 109h1v1h-1zM76 110h1v1h-1zM77 110h1v1h-1zM80 110h1v1h-1zM82 110h1v1h-1zM84 110h1v1h-1zM85 110h1v1h-1zM89 110h1v1h-1zM92 110h1v1h-1zM95 110h1v1h-1zM96 110h1v1h-1zM102 110h1v1h-1zM110 110h1v1h-1zM111 110h1v1h-1zM123 110h1v1h-1zM124 110h1v1h-1zM132 110h1v1h-1zM133 110h1v1h-1zM135 110h1v1h-1zM137 110h1v1h-1zM157 110h1v1h-1zM78 111h1v1h-1zM82 111h1v1h-1zM85 111h1v1h-1zM86 111h1v1h-1zM87 111h1v1h-1zM89 111h1v1h-1zM90 111h1v1h-1zM91 111h1v1h-1zM93 111h1v1h-1zM94 111h1v1h-1zM96 111h1v1h-1zM97 111h1v1h-1zM98 111h1v1h-1zM103 111h1v1h-1zM104 111h1v1h-1zM105 111h1v1h-1zM109 111h1v1h-1zM114 111h1v1h-1zM115 111h1v1h-1zM118 111h1v1h-1zM121 111h1v1h-1zM158 111h1v1h-1zM78 112h1v1h-1zM79 112h1v1h-1zM81 112h1v1h-1zM82 112h1v1h-1zM83 112h1v1h-1zM86 112h1v1h-1zM87 112h1v1h-1zM89 112h1v1h-1zM90 112h1v1h-1zM91 112h1v1h-1zM95 112h1v1h-1zM96 112h1v1h-1zM97 112h1v1h-1zM98 112h1v1h-1zM115 112h1v1h-1zM124 112h1v1h-1zM142 112h1v1h-1zM150 112h1v1h-1zM76 113h1v1h-1zM79 113h1v1h-1zM80 113h1v1h-1zM81 113h1v1h-1zM83 113h1v1h-1zM86 113h1v1h-1zM87 113h1v1h-1zM88 113h1v1h-1zM89 113h1v1h-1zM90 113h1v1h-1zM92 113h1v1h-1zM93 113h1v1h-1zM95 113h1v1h-1zM96 113h1v1h-1zM98 113h1v1h-1zM99 113h1v1h-1zM103 113h1v1h-1zM114 113h1v1h-1zM128 113h1v1h-1zM137 113h1v1h-1zM78 114h1v1h-1zM79 114h1v1h-1zM80 114h1v1h-1zM81 114h1v1h-1zM82 114h1v1h-1zM84 114h1v1h-1zM85 114h1v1h-1zM87 114h1v1h-1zM88 114h1v1h-1zM92 114h1v1h-1zM94 114h1v1h-1zM95 114h1v1h-1zM96 114h1v1h-1zM105 114h1v1h-1zM107 114h1v1h-1zM110 114h1v1h-1zM117 114h1v1h-1zM127 114h1v1h-1zM128 114h1v1h-1zM132 114h1v1h-1zM135 114h1v1h-1zM136 114h1v1h-1zM137 114h1v1h-1zM147 114h1v1h-1zM76 115h1v1h-1zM77 115h1v1h-1zM82 115h1v1h-1zM84 115h1v1h-1zM85 115h1v1h-1zM86 115h1v1h-1zM87 115h1v1h-1zM88 115h1v1h-1zM90 115h1v1h-1zM91 115h1v1h-1zM93 115h1v1h-1zM94 115h1v1h-1zM95 115h1v1h-1zM97 115h1v1h-1zM99 115h1v1h-1zM101 115h1v1h-1zM104 115h1v1h-1zM129 115h1v1h-1zM140 115h1v1h-1zM78 116h1v1h-1zM80 116h1v1h-1zM81 116h1v1h-1zM82 116h1v1h-1zM83 116h1v1h-1zM84 116h1v1h-1zM85 116h1v1h-1zM86 116h1v1h-1zM88 116h1v1h-1zM89 116h1v1h-1zM91 116h1v1h-1zM92 116h1v1h-1zM93 116h1v1h-1zM96 116h1v1h-1zM98 116h1v1h-1zM100 116h1v1h-1zM105 116h1v1h-1zM132 116h1v1h-1zM141 116h1v1h-1zM142 116h1v1h-1zM76 117h1v1h-1zM80 117h1v1h-1zM81 117h1v1h-1zM82 117h1v1h-1zM84 117h1v1h-1zM86 117h1v1h-1zM87 117h1v1h-1zM89 117h1v1h-1zM90 117h1v1h-1zM91 117h1v1h-1zM93 117h1v1h-1zM95 117h1v1h-1zM97 117h1v1h-1zM99 117h1v1h-1zM104 117h1v1h-1zM111 117h1v1h-1zM113 117h1v1h-1zM115 117h1v1h-1zM136 117h1v1h-1zM140 117h1v1h-1zM147 117h1v1h-1zM154 117h1v1h-1zM157 117h1v1h-1zM77 118h1v1h-1zM78 118h1v1h-1zM86 118h1v1h-1zM87 118h1v1h-1zM88 118h1v1h-1zM89 118h1v1h-1zM90 118h1v1h-1zM91 118h1v1h-1zM92 118h1v1h-1zM93 118h1v1h-1zM94 118h1v1h-1zM96 118h1v1h-1zM99 118h1v1h-1zM101 118h1v1h-1zM102 118h1v1h-1zM105 118h1v1h-1zM106 118h1v1h-1zM111 118h1v1h-1zM122 118h1v1h-1zM76 119h1v1h-1zM77 119h1v1h-1zM78 119h1v1h-1zM79 119h1v1h-1zM82 119h1v1h-1zM83 119h1v1h-1zM85 119h1v1h-1zM87 119h1v1h-1zM88 119h1v1h-1zM89 119h1v1h-1zM90 119h1v1h-1zM91 119h1v1h-1zM92 119h1v1h-1zM94 119h1v1h-1zM95 119h1v1h-1zM97 119h1v1h-1zM100 119h1v1h-1zM101 119h1v1h-1zM78 120h1v1h-1zM79 120h1v1h-1zM82 120h1v1h-1zM83 120h1v1h-1zM86 120h1v1h-1zM88 120h1v1h-1zM89 120h1v1h-1zM90 120h1v1h-1zM93 120h1v1h-1zM94 120h1v1h-1zM95 120h1v1h-1zM96 120h1v1h-1zM97 120h1v1h-1zM99 120h1v1h-1zM105 120h1v1h-1zM107 120h1v1h-1zM109 120h1v1h-1zM76 121h1v1h-1zM79 121h1v1h-1zM80 121h1v1h-1zM81 121h1v1h-1zM84 121h1v1h-1zM85 121h1v1h-1zM86 121h1v1h-1zM87 121h1v1h-1zM88 121h1v1h-1zM89 121h1v1h-1zM90 121h1v1h-1zM91 121h1v1h-1zM93 121h1v1h-1zM96 121h1v1h-1zM97 121h1v1h-1zM101 121h1v1h-1zM103 121h1v1h-1zM123 121h1v1h-1zM128 121h1v1h-1zM78 122h1v1h-1zM79 122h1v1h-1zM80 122h1v1h-1zM82 122h1v1h-1zM83 122h1v1h-1zM87 122h1v1h-1zM88 122h1v1h-1zM91 122h1v1h-1zM93 122h1v1h-1zM94 122h1v1h-1zM97 122h1v1h-1zM98 122h1v1h-1zM100 122h1v1h-1zM103 122h1v1h-1zM133 122h1v1h-1zM79 123h1v1h-1zM81 123h1v1h-1zM86 123h1v1h-1zM88 123h1v1h-1zM89 123h1v1h-1zM93 123h1v1h-1zM115 123h1v1h-1zM79 124h1v1h-1zM80 124h1v1h-1zM84 124h1v1h-1zM85 124h1v1h-1zM87 124h1v1h-1zM88 124h1v1h-1zM89 124h1v1h-1zM91 124h1v1h-1zM92 124h1v1h-1zM76 125h1v1h-1zM79 125h1v1h-1zM85 125h1v1h-1zM86 125h1v1h-1zM90 125h1v1h-1zM91 125h1v1h-1zM92 125h1v1h-1zM93 125h1v1h-1zM94 125h1v1h-1zM95 125h1v1h-1zM96 125h1v1h-1zM126 125h1v1h-1zM76 126h1v1h-1zM80 126h1v1h-1zM83 126h1v1h-1zM87 126h1v1h-1zM88 126h1v1h-1zM89 126h1v1h-1zM91 126h1v1h-1zM93 126h1v1h-1zM107 126h1v1h-1zM87 127h1v1h-1zM90 127h1v1h-1zM91 127h1v1h-1zM94 127h1v1h-1zM97 127h1v1h-1zM78 128h1v1h-1zM79 128h1v1h-1zM81 128h1v1h-1zM85 128h1v1h-1zM87 128h1v1h-1zM90 128h1v1h-1zM94 128h1v1h-1zM95 128h1v1h-1zM78 129h1v1h-1zM79 129h1v1h-1zM81 129h1v1h-1zM86 129h1v1h-1zM89 129h1v1h-1zM91 129h1v1h-1zM96 129h1v1h-1zM99 129h1v1h-1zM77 130h1v1h-1zM78 130h1v1h-1zM79 130h1v1h-1zM81 130h1v1h-1zM83 130h1v1h-1zM84 130h1v1h-1zM85 130h1v1h-1zM95 130h1v1h-1zM98 130h1v1h-1zM77 131h1v1h-1zM81 131h1v1h-1zM82 131h1v1h-1zM85 131h1v1h-1zM87 131h1v1h-1zM89 131h1v1h-1zM91 131h1v1h-1zM94 131h1v1h-1zM96 131h1v1h-1zM84 132h1v1h-1zM85 132h1v1h-1zM86 132h1v1h-1zM87 132h1v1h-1zM88 132h1v1h-1zM90 132h1v1h-1zM96 132h1v1h-1zM99 132h1v1h-1zM80 133h1v1h-1zM82 133h1v1h-1zM83 133h1v1h-1zM86 133h1v1h-1zM88 133h1v1h-1zM91 133h1v1h-1zM80 134h1v1h-1zM83 134h1v1h-1zM91 134h1v1h-1zM101 134h1v1h-1zM76 135h1v1h-1zM80 135h1v1h-1zM91 135h1v1h-1zM79 136h1v1h-1zM90 136h1v1h-1zM98 136h1v1h-1zM106 136h1v1h-1zM78 137h1v1h-1zM82 137h1v1h-1zM87 137h1v1h-1zM89 137h1v1h-1zM90 137h1v1h-1zM92 137h1v1h-1zM94 137h1v1h-1zM97 137h1v1h-1zM108 137h1v1h-1zM85 138h1v1h-1zM92 138h1v1h-1zM95 138h1v1h-1zM90 139h1v1h-1zM83 140h1v1h-1zM106 140h1v1h-1zM85 141h1v1h-1zM128 141h1v1h-1zM85 142h1v1h-1zM92 142h1v1h-1zM103 142h1v1h-1zM116 142h1v1h-1zM131 142h1v1h-1zM78 143h1v1h-1zM82 143h1v1h-1zM87 143h1v1h-1zM127 143h1v1h-1zM135 143h1v1h-1zM153 143h1v1h-1zM79 144h1v1h-1zM86 144h1v1h-1zM88 144h1v1h-1zM90 144h1v1h-1zM95 144h1v1h-1zM114 144h1v1h-1zM120 144h1v1h-1zM131 144h1v1h-1zM137 144h1v1h-1zM143 144h1v1h-1zM154 144h1v1h-1zM84 145h1v1h-1zM94 145h1v1h-1zM99 145h1v1h-1zM110 145h1v1h-1zM127 145h1v1h-1zM136 145h1v1h-1zM153 145h1v1h-1zM79 146h1v1h-1zM85 146h1v1h-1zM143 146h1v1h-1zM156 146h1v1h-1zM158 146h1v1h-1zM96 147h1v1h-1zM113 147h1v1h-1zM121 147h1v1h-1zM123 147h1v1h-1zM132 147h1v1h-1zM143 147h1v1h-1zM157 147h1v1h-1zM84 148h1v1h-1zM96 148h1v1h-1zM104 148h1v1h-1zM105 148h1v1h-1zM119 148h1v1h-1zM91 149h1v1h-1z" fill="#333"/>
<defs><filter id="fb1" x="-20%" y="-20%" width="140%" height="140%"><feGaussianBlur stdDeviation="1.2"/></filter><filter id="fb05" x="-20%" y="-20%" width="140%" height="140%"><feGaussianBlur stdDeviation="0.5"/></filter></defs>
<path d="M76.5,133 C84,130 90,128 95,125 C97,119 95,112 90,107 C94,103 97,101 100,100.3 C106,99 112,98.4 117.3,98.6 C126,98.8 136,100 143,101.2 C150,102 154,103 157,103.8 L160.5,104.6 L161,120 L160.5,137.5 C158,140 154,141.5 150,141.8 L100,142.5 L80,142 L76.5,140 Z" fill="#000" filter="url(#fb1)"/>
<path d="M100,118.5 C101,116 102.5,114.5 104.3,113.3 C106,112.2 107,111.8 108.6,111.6 C111,110.5 113,109.5 114.7,109.5 C117,110 118,111.4 119.8,111.6 C122,111.4 124,110.7 125.9,110.7 C130,111 133,111.5 136.3,111.6 C142,111.8 146,112 150.1,112.4 L155.3,113.3 L156.5,120 L156.2,133.2 C150,136 140,137.5 125,138.3 L100,138.6 C92,138 85,136 80,134 L77.5,133.2 C82,130 88,128 93,126.5 C96,124 98,121 100,118.5 Z" fill="#fff" filter="url(#fb05)"/>
<path d="M101.5,120 C103,116.5 105,115 108.6,113.8 C111,112.8 113,112 115,112 C117,112.4 118.5,113.5 120,113.6 C124,113.4 130,113.2 136,113.6 C142,113.8 148,114 154.5,115" fill="none" stroke="#999" stroke-width="0.55"/>
<path d="M113.0,125.5 C121.0,124.5 130.0,115.5 155.5,116.5" fill="none" stroke="#666" stroke-width="0.6"/>
<path d="M115.5,125.2 C123.5,124.2 132.0,117.9 155.5,118.9" fill="none" stroke="#666" stroke-width="0.6"/>
<path d="M118.0,124.9 C126.0,123.9 134.0,120.3 155.5,121.3" fill="none" stroke="#666" stroke-width="0.6"/>
<path d="M120.5,124.6 C128.5,123.6 136.0,122.7 155.5,123.7" fill="none" stroke="#444" stroke-width="0.6"/>
<path d="M123.0,124.3 C131.0,123.3 138.0,125.1 155.5,126.1" fill="none" stroke="#444" stroke-width="0.6"/>
<path d="M125.5,124.0 C133.5,123.0 140.0,127.5 155.5,128.5" fill="none" stroke="#444" stroke-width="0.6"/>
<path d="M128.0,123.7 C136.0,122.7 142.0,129.9 155.5,130.9" fill="none" stroke="#444" stroke-width="0.6"/>
<path d="M77.5,134.5 C85,129.5 95,127.5 110,126.8 C125,126.2 140,125.5 156,124.5 L157,131 C152,138 130,141 110,141.5 C95,141.5 85,139 77.5,134.5 Z" fill="#2a2a2a" filter="url(#fb05)"/>
<path d="M84,134.5 C95,129.5 125,128.5 154,127.0" fill="none" stroke="#999" stroke-width="0.55"/>
<path d="M84,134.8 C95,139.5 125,139.5 154,134.0" fill="none" stroke="#777" stroke-width="0.55"/>
<path d="M88,134.5 C97,131.1 125,129.8 152,128.4" fill="none" stroke="#888" stroke-width="0.55"/>
<path d="M88,134.8 C97,137.9 125,138.2 152,133.2" fill="none" stroke="#666" stroke-width="0.55"/>
<path d="M92,134.5 C99,132.7 125,131.1 150,129.9" fill="none" stroke="#777" stroke-width="0.55"/>
<path d="M92,134.8 C99,136.3 125,136.9 150,132.4" fill="none" stroke="#555" stroke-width="0.55"/>
<path d="M96,134.5 C101,134.3 125,132.3 148,131.3" fill="none" stroke="#666" stroke-width="0.55"/>
<path d="M96,134.8 C101,134.7 125,135.7 148,131.6" fill="none" stroke="#666" stroke-width="0.55"/>
<path d="M100,134.5 C103,135.9 125,133.6 146,132.8" fill="none" stroke="#888" stroke-width="0.55"/>
<path d="M100,134.8 C103,133.1 125,134.4 146,130.8" fill="none" stroke="#777" stroke-width="0.55"/>
<path d="M77,135 L84,132.8 L86,135 L84,137.2 Z" fill="#eee"/>
<path d="M108,133.3 L147,132.5" stroke="#ddd" stroke-width="1" stroke-dasharray="1.6,0.9"/>
<ellipse cx="103.7" cy="86.2" rx="11.5" ry="11" fill="none" stroke="#5555aa" stroke-width="0.7" stroke-dasharray="1.5,0.8"/>
<text x="94.2" y="69.8" font-size="11" font-weight="normal" text-anchor="start" fill="#000" >0.38</text>
<line x1="75.0" y1="26.0" x2="75.0" y2="151.6" stroke="#000" stroke-width="1" />
<line x1="74.0" y1="150.6" x2="200.6" y2="150.6" stroke="#000" stroke-width="1" />
<line x1="73.0" y1="34.0" x2="75.0" y2="34.0" stroke="#000" stroke-width="0.8" />
<line x1="73.0" y1="60.0" x2="75.0" y2="60.0" stroke="#000" stroke-width="0.8" />
<line x1="73.0" y1="86.0" x2="75.0" y2="86.0" stroke="#000" stroke-width="0.8" />
<line x1="73.0" y1="112.0" x2="75.0" y2="112.0" stroke="#000" stroke-width="0.8" />
<line x1="73.0" y1="138.0" x2="75.0" y2="138.0" stroke="#000" stroke-width="0.8" />
<line x1="77.0" y1="150.6" x2="77.0" y2="152.6" stroke="#000" stroke-width="0.6" />
<line x1="81.2" y1="150.6" x2="81.2" y2="151.6" stroke="#000" stroke-width="0.6" />
<line x1="85.4" y1="150.6" x2="85.4" y2="151.6" stroke="#000" stroke-width="0.6" />
<line x1="89.6" y1="150.6" x2="89.6" y2="151.6" stroke="#000" stroke-width="0.6" />
<line x1="93.8" y1="150.6" x2="93.8" y2="151.6" stroke="#000" stroke-width="0.6" />
<line x1="98.0" y1="150.6" x2="98.0" y2="152.6" stroke="#000" stroke-width="0.6" />
<line x1="102.2" y1="150.6" x2="102.2" y2="151.6" stroke="#000" stroke-width="0.6" />
<line x1="106.4" y1="150.6" x2="106.4" y2="151.6" stroke="#000" stroke-width="0.6" />
<line x1="110.6" y1="150.6" x2="110.6" y2="151.6" stroke="#000" stroke-width="0.6" />
<line x1="114.8" y1="150.6" x2="114.8" y2="151.6" stroke="#000" stroke-width="0.6" />
<line x1="119.0" y1="150.6" x2="119.0" y2="152.6" stroke="#000" stroke-width="0.6" />
<line x1="123.2" y1="150.6" x2="123.2" y2="151.6" stroke="#000" stroke-width="0.6" />
<line x1="127.4" y1="150.6" x2="127.4" y2="151.6" stroke="#000" stroke-width="0.6" />
<line x1="131.6" y1="150.6" x2="131.6" y2="151.6" stroke="#000" stroke-width="0.6" />
<line x1="135.8" y1="150.6" x2="135.8" y2="151.6" stroke="#000" stroke-width="0.6" />
<line x1="140.0" y1="150.6" x2="140.0" y2="152.6" stroke="#000" stroke-width="0.6" />
<line x1="144.2" y1="150.6" x2="144.2" y2="151.6" stroke="#000" stroke-width="0.6" />
<line x1="148.4" y1="150.6" x2="148.4" y2="151.6" stroke="#000" stroke-width="0.6" />
<line x1="152.6" y1="150.6" x2="152.6" y2="151.6" stroke="#000" stroke-width="0.6" />
<line x1="156.8" y1="150.6" x2="156.8" y2="151.6" stroke="#000" stroke-width="0.6" />
<line x1="161.0" y1="150.6" x2="161.0" y2="152.6" stroke="#000" stroke-width="0.6" />
<line x1="165.2" y1="150.6" x2="165.2" y2="151.6" stroke="#000" stroke-width="0.6" />
<line x1="169.4" y1="150.6" x2="169.4" y2="151.6" stroke="#000" stroke-width="0.6" />
<line x1="173.6" y1="150.6" x2="173.6" y2="151.6" stroke="#000" stroke-width="0.6" />
<line x1="177.8" y1="150.6" x2="177.8" y2="151.6" stroke="#000" stroke-width="0.6" />
<line x1="182.0" y1="150.6" x2="182.0" y2="152.6" stroke="#000" stroke-width="0.6" />
<line x1="186.2" y1="150.6" x2="186.2" y2="151.6" stroke="#000" stroke-width="0.6" />
<line x1="190.4" y1="150.6" x2="190.4" y2="151.6" stroke="#000" stroke-width="0.6" />
<line x1="194.6" y1="150.6" x2="194.6" y2="151.6" stroke="#000" stroke-width="0.6" />
<line x1="198.8" y1="150.6" x2="198.8" y2="151.6" stroke="#000" stroke-width="0.6" />
<text x="0" y="0" font-size="7.6" font-weight="bold" transform="translate(66.6,158.3) rotate(-90)">CD45.1</text>
<line x1="65.0" y1="127.0" x2="65.0" y2="90.0" stroke="#000" stroke-width="1.3" />
<path d="M65.0,83.0 L62.0,91.0 L68.0,91.0 Z" fill="#000"/>
<text x="68.8" y="167.8" font-size="7.8" font-weight="bold" text-anchor="start" fill="#000" >live/dead</text>
<line x1="105.0" y1="166.3" x2="163.0" y2="166.3" stroke="#000" stroke-width="1.3" />
<path d="M170.0,166.3 L162.0,163.3 L162.0,169.3 Z" fill="#000"/>
<text x="252.5" y="13.0" font-size="12" font-weight="bold" text-anchor="start" fill="#000" >Naive NK</text>
<text x="367.5" y="13.0" font-size="12" font-weight="bold" text-anchor="start" fill="#000" >d+15</text>
<line x1="249.5" y1="22.5" x2="458.5" y2="22.5" stroke="#6a6a6a" stroke-width="1.1" />
<line x1="249.5" y1="124.2" x2="458.5" y2="124.2" stroke="#6a6a6a" stroke-width="1.1" />
<line x1="249.5" y1="225.8" x2="458.5" y2="225.8" stroke="#6a6a6a" stroke-width="1.1" />
<line x1="249.5" y1="327.0" x2="458.5" y2="327.0" stroke="#6a6a6a" stroke-width="1.1" />
<line x1="249.5" y1="22.5" x2="249.5" y2="327.0" stroke="#6a6a6a" stroke-width="1.1" />
<line x1="354.0" y1="22.5" x2="354.0" y2="327.0" stroke="#6a6a6a" stroke-width="1.1" />
<line x1="458.5" y1="22.5" x2="458.5" y2="327.0" stroke="#6a6a6a" stroke-width="1.1" />
<rect x="265.0" y="25.5" width="87.0" height="87.0" fill="none" stroke="#8a8a8a" stroke-width="0.8" />
<line x1="265.0" y1="25.5" x2="265.0" y2="113.5" stroke="#000" stroke-width="1.2" />
<line x1="264.0" y1="112.5" x2="352.0" y2="112.5" stroke="#000" stroke-width="1.2" />
<line x1="263.5" y1="27.5" x2="265.0" y2="27.5" stroke="#000" stroke-width="0.7" />
<line x1="263.5" y1="32.4" x2="265.0" y2="32.4" stroke="#000" stroke-width="0.7" />
<line x1="263.5" y1="37.3" x2="265.0" y2="37.3" stroke="#000" stroke-width="0.7" />
<line x1="263.5" y1="42.1" x2="265.0" y2="42.1" stroke="#000" stroke-width="0.7" />
<line x1="263.5" y1="47.0" x2="265.0" y2="47.0" stroke="#000" stroke-width="0.7" />
<line x1="263.5" y1="51.9" x2="265.0" y2="51.9" stroke="#000" stroke-width="0.7" />
<line x1="263.5" y1="56.8" x2="265.0" y2="56.8" stroke="#000" stroke-width="0.7" />
<line x1="263.5" y1="61.7" x2="265.0" y2="61.7" stroke="#000" stroke-width="0.7" />
<line x1="263.5" y1="66.6" x2="265.0" y2="66.6" stroke="#000" stroke-width="0.7" />
<line x1="263.5" y1="71.4" x2="265.0" y2="71.4" stroke="#000" stroke-width="0.7" />
<line x1="263.5" y1="76.3" x2="265.0" y2="76.3" stroke="#000" stroke-width="0.7" />
<line x1="263.5" y1="81.2" x2="265.0" y2="81.2" stroke="#000" stroke-width="0.7" />
<line x1="263.5" y1="86.1" x2="265.0" y2="86.1" stroke="#000" stroke-width="0.7" />
<line x1="263.5" y1="91.0" x2="265.0" y2="91.0" stroke="#000" stroke-width="0.7" />
<line x1="263.5" y1="95.9" x2="265.0" y2="95.9" stroke="#000" stroke-width="0.7" />
<line x1="263.5" y1="100.7" x2="265.0" y2="100.7" stroke="#000" stroke-width="0.7" />
<line x1="263.5" y1="105.6" x2="265.0" y2="105.6" stroke="#000" stroke-width="0.7" />
<line x1="263.5" y1="110.5" x2="265.0" y2="110.5" stroke="#000" stroke-width="0.7" />
<line x1="267.0" y1="112.5" x2="267.0" y2="114.0" stroke="#000" stroke-width="0.7" />
<line x1="271.0" y1="112.5" x2="271.0" y2="114.0" stroke="#000" stroke-width="0.7" />
<line x1="274.9" y1="112.5" x2="274.9" y2="114.0" stroke="#000" stroke-width="0.7" />
<line x1="278.9" y1="112.5" x2="278.9" y2="114.0" stroke="#000" stroke-width="0.7" />
<line x1="282.8" y1="112.5" x2="282.8" y2="114.0" stroke="#000" stroke-width="0.7" />
<line x1="286.8" y1="112.5" x2="286.8" y2="114.0" stroke="#000" stroke-width="0.7" />
<line x1="290.7" y1="112.5" x2="290.7" y2="114.0" stroke="#000" stroke-width="0.7" />
<line x1="294.7" y1="112.5" x2="294.7" y2="114.0" stroke="#000" stroke-width="0.7" />
<line x1="298.6" y1="112.5" x2="298.6" y2="114.0" stroke="#000" stroke-width="0.7" />
<line x1="302.6" y1="112.5" x2="302.6" y2="114.0" stroke="#000" stroke-width="0.7" />
<line x1="306.5" y1="112.5" x2="306.5" y2="114.0" stroke="#000" stroke-width="0.7" />
<line x1="310.5" y1="112.5" x2="310.5" y2="114.0" stroke="#000" stroke-width="0.7" />
<line x1="314.4" y1="112.5" x2="314.4" y2="114.0" stroke="#000" stroke-width="0.7" />
<line x1="318.4" y1="112.5" x2="318.4" y2="114.0" stroke="#000" stroke-width="0.7" />
<line x1="322.3" y1="112.5" x2="322.3" y2="114.0" stroke="#000" stroke-width="0.7" />
<line x1="326.3" y1="112.5" x2="326.3" y2="114.0" stroke="#000" stroke-width="0.7" />
<line x1="330.2" y1="112.5" x2="330.2" y2="114.0" stroke="#000" stroke-width="0.7" />
<line x1="334.2" y1="112.5" x2="334.2" y2="114.0" stroke="#000" stroke-width="0.7" />
<line x1="338.1" y1="112.5" x2="338.1" y2="114.0" stroke="#000" stroke-width="0.7" />
<line x1="342.1" y1="112.5" x2="342.1" y2="114.0" stroke="#000" stroke-width="0.7" />
<line x1="346.0" y1="112.5" x2="346.0" y2="114.0" stroke="#000" stroke-width="0.7" />
<line x1="350.0" y1="112.5" x2="350.0" y2="114.0" stroke="#000" stroke-width="0.7" />
<text x="262.5" y="34.3" font-size="5.8" font-weight="bold" text-anchor="end" fill="#111" transform="rotate(-22 259.5 32.8)">10<tspan dy="-2" font-size="4.2">5</tspan></text>
<text x="262.5" y="53.5" font-size="5.8" font-weight="bold" text-anchor="end" fill="#111" transform="rotate(-22 259.5 52.0)">10<tspan dy="-2" font-size="4.2">4</tspan></text>
<text x="262.5" y="74.5" font-size="5.8" font-weight="bold" text-anchor="end" fill="#111" transform="rotate(-22 259.5 73.0)">10<tspan dy="-2" font-size="4.2">3</tspan></text>
<text x="262.5" y="94.3" font-size="5.8" font-weight="bold" text-anchor="end" fill="#111" transform="rotate(-22 259.5 92.8)">10<tspan dy="-2" font-size="4.2">2</tspan></text>
<text x="262.5" y="104.2" font-size="5.8" font-weight="bold" text-anchor="end" fill="#111" transform="rotate(-22 259.5 102.7)">0</text>
<text x="274.0" y="121.0" font-size="5.8" font-weight="bold" text-anchor="middle" fill="#111" >0</text>
<text x="282.7" y="121.0" font-size="5.8" font-weight="bold" text-anchor="middle" fill="#111" >10<tspan dy="-2" font-size="4.2">2</tspan></text>
<text x="303.5" y="121.0" font-size="5.8" font-weight="bold" text-anchor="middle" fill="#111" >10<tspan dy="-2" font-size="4.2">3</tspan></text>
<text x="324.3" y="121.0" font-size="5.8" font-weight="bold" text-anchor="middle" fill="#111" >10<tspan dy="-2" font-size="4.2">4</tspan></text>
<text x="342.8" y="121.0" font-size="5.8" font-weight="bold" text-anchor="middle" fill="#111" >10<tspan dy="-2" font-size="4.2">5</tspan></text>
<text x="266.0" y="33.5" font-size="8" font-weight="normal" text-anchor="start" fill="#222" >0.66</text>
<text x="351.0" y="33.5" font-size="8" font-weight="normal" text-anchor="end" fill="#222" >0.24</text>
<text x="266.0" y="110.5" font-size="8" font-weight="normal" text-anchor="start" fill="#222" >98.9</text>
<text x="351.0" y="110.5" font-size="8" font-weight="normal" text-anchor="end" fill="#222" >0.23</text>
<rect x="369.5" y="25.5" width="86.5" height="87.0" fill="none" stroke="#8a8a8a" stroke-width="0.8" />
<line x1="369.5" y1="25.5" x2="369.5" y2="113.5" stroke="#000" stroke-width="1.2" />
<line x1="368.5" y1="112.5" x2="456.0" y2="112.5" stroke="#000" stroke-width="1.2" />
<line x1="368.0" y1="27.5" x2="369.5" y2="27.5" stroke="#000" stroke-width="0.7" />
<line x1="368.0" y1="32.4" x2="369.5" y2="32.4" stroke="#000" stroke-width="0.7" />
<line x1="368.0" y1="37.3" x2="369.5" y2="37.3" stroke="#000" stroke-width="0.7" />
<line x1="368.0" y1="42.1" x2="369.5" y2="42.1" stroke="#000" stroke-width="0.7" />
<line x1="368.0" y1="47.0" x2="369.5" y2="47.0" stroke="#000" stroke-width="0.7" />
<line x1="368.0" y1="51.9" x2="369.5" y2="51.9" stroke="#000" stroke-width="0.7" />
<line x1="368.0" y1="56.8" x2="369.5" y2="56.8" stroke="#000" stroke-width="0.7" />
<line x1="368.0" y1="61.7" x2="369.5" y2="61.7" stroke="#000" stroke-width="0.7" />
<line x1="368.0" y1="66.6" x2="369.5" y2="66.6" stroke="#000" stroke-width="0.7" />
<line x1="368.0" y1="71.4" x2="369.5" y2="71.4" stroke="#000" stroke-width="0.7" />
<line x1="368.0" y1="76.3" x2="369.5" y2="76.3" stroke="#000" stroke-width="0.7" />
<line x1="368.0" y1="81.2" x2="369.5" y2="81.2" stroke="#000" stroke-width="0.7" />
<line x1="368.0" y1="86.1" x2="369.5" y2="86.1" stroke="#000" stroke-width="0.7" />
<line x1="368.0" y1="91.0" x2="369.5" y2="91.0" stroke="#000" stroke-width="0.7" />
<line x1="368.0" y1="95.9" x2="369.5" y2="95.9" stroke="#000" stroke-width="0.7" />
<line x1="368.0" y1="100.7" x2="369.5" y2="100.7" stroke="#000" stroke-width="0.7" />
<line x1="368.0" y1="105.6" x2="369.5" y2="105.6" stroke="#000" stroke-width="0.7" />
<line x1="368.0" y1="110.5" x2="369.5" y2="110.5" stroke="#000" stroke-width="0.7" />
<line x1="371.5" y1="112.5" x2="371.5" y2="114.0" stroke="#000" stroke-width="0.7" />
<line x1="375.4" y1="112.5" x2="375.4" y2="114.0" stroke="#000" stroke-width="0.7" />
<line x1="379.4" y1="112.5" x2="379.4" y2="114.0" stroke="#000" stroke-width="0.7" />
<line x1="383.3" y1="112.5" x2="383.3" y2="114.0" stroke="#000" stroke-width="0.7" />
<line x1="387.2" y1="112.5" x2="387.2" y2="114.0" stroke="#000" stroke-width="0.7" />
<line x1="391.1" y1="112.5" x2="391.1" y2="114.0" stroke="#000" stroke-width="0.7" />
<line x1="395.1" y1="112.5" x2="395.1" y2="114.0" stroke="#000" stroke-width="0.7" />
<line x1="399.0" y1="112.5" x2="399.0" y2="114.0" stroke="#000" stroke-width="0.7" />
<line x1="402.9" y1="112.5" x2="402.9" y2="114.0" stroke="#000" stroke-width="0.7" />
<line x1="406.9" y1="112.5" x2="406.9" y2="114.0" stroke="#000" stroke-width="0.7" />
<line x1="410.8" y1="112.5" x2="410.8" y2="114.0" stroke="#000" stroke-width="0.7" />
<line x1="414.7" y1="112.5" x2="414.7" y2="114.0" stroke="#000" stroke-width="0.7" />
<line x1="418.6" y1="112.5" x2="418.6" y2="114.0" stroke="#000" stroke-width="0.7" />
<line x1="422.6" y1="112.5" x2="422.6" y2="114.0" stroke="#000" stroke-width="0.7" />
<line x1="426.5" y1="112.5" x2="426.5" y2="114.0" stroke="#000" stroke-width="0.7" />
<line x1="430.4" y1="112.5" x2="430.4" y2="114.0" stroke="#000" stroke-width="0.7" />
<line x1="434.4" y1="112.5" x2="434.4" y2="114.0" stroke="#000" stroke-width="0.7" />
<line x1="438.3" y1="112.5" x2="438.3" y2="114.0" stroke="#000" stroke-width="0.7" />
<line x1="442.2" y1="112.5" x2="442.2" y2="114.0" stroke="#000" stroke-width="0.7" />
<line x1="446.1" y1="112.5" x2="446.1" y2="114.0" stroke="#000" stroke-width="0.7" />
<line x1="450.1" y1="112.5" x2="450.1" y2="114.0" stroke="#000" stroke-width="0.7" />
<line x1="454.0" y1="112.5" x2="454.0" y2="114.0" stroke="#000" stroke-width="0.7" />
<text x="367.0" y="34.3" font-size="5.8" font-weight="bold" text-anchor="end" fill="#111" transform="rotate(-22 364.0 32.8)">10<tspan dy="-2" font-size="4.2">5</tspan></text>
<text x="367.0" y="53.5" font-size="5.8" font-weight="bold" text-anchor="end" fill="#111" transform="rotate(-22 364.0 52.0)">10<tspan dy="-2" font-size="4.2">4</tspan></text>
<text x="367.0" y="74.5" font-size="5.8" font-weight="bold" text-anchor="end" fill="#111" transform="rotate(-22 364.0 73.0)">10<tspan dy="-2" font-size="4.2">3</tspan></text>
<text x="367.0" y="94.3" font-size="5.8" font-weight="bold" text-anchor="end" fill="#111" transform="rotate(-22 364.0 92.8)">10<tspan dy="-2" font-size="4.2">2</tspan></text>
<text x="367.0" y="104.2" font-size="5.8" font-weight="bold" text-anchor="end" fill="#111" transform="rotate(-22 364.0 102.7)">0</text>
<text x="378.4" y="121.0" font-size="5.8" font-weight="bold" text-anchor="middle" fill="#111" >0</text>
<text x="387.1" y="121.0" font-size="5.8" font-weight="bold" text-anchor="middle" fill="#111" >10<tspan dy="-2" font-size="4.2">2</tspan></text>
<text x="407.8" y="121.0" font-size="5.8" font-weight="bold" text-anchor="middle" fill="#111" >10<tspan dy="-2" font-size="4.2">3</tspan></text>
<text x="428.5" y="121.0" font-size="5.8" font-weight="bold" text-anchor="middle" fill="#111" >10<tspan dy="-2" font-size="4.2">4</tspan></text>
<text x="446.9" y="121.0" font-size="5.8" font-weight="bold" text-anchor="middle" fill="#111" >10<tspan dy="-2" font-size="4.2">5</tspan></text>
<text x="370.5" y="33.5" font-size="8" font-weight="normal" text-anchor="start" fill="#222" >14.4</text>
<text x="455.0" y="33.5" font-size="8" font-weight="normal" text-anchor="end" fill="#222" >0.63</text>
<text x="370.5" y="110.5" font-size="8" font-weight="normal" text-anchor="start" fill="#222" >72.4</text>
<text x="455.0" y="110.5" font-size="8" font-weight="normal" text-anchor="end" fill="#222" >12.5</text>
<rect x="265.0" y="127.3" width="87.0" height="86.7" fill="none" stroke="#8a8a8a" stroke-width="0.8" />
<line x1="265.0" y1="127.3" x2="265.0" y2="215.0" stroke="#000" stroke-width="1.2" />
<line x1="264.0" y1="214.0" x2="352.0" y2="214.0" stroke="#000" stroke-width="1.2" />
<line x1="263.5" y1="129.3" x2="265.0" y2="129.3" stroke="#000" stroke-width="0.7" />
<line x1="263.5" y1="134.2" x2="265.0" y2="134.2" stroke="#000" stroke-width="0.7" />
<line x1="263.5" y1="139.0" x2="265.0" y2="139.0" stroke="#000" stroke-width="0.7" />
<line x1="263.5" y1="143.9" x2="265.0" y2="143.9" stroke="#000" stroke-width="0.7" />
<line x1="263.5" y1="148.8" x2="265.0" y2="148.8" stroke="#000" stroke-width="0.7" />
<line x1="263.5" y1="153.6" x2="265.0" y2="153.6" stroke="#000" stroke-width="0.7" />
<line x1="263.5" y1="158.5" x2="265.0" y2="158.5" stroke="#000" stroke-width="0.7" />
<line x1="263.5" y1="163.4" x2="265.0" y2="163.4" stroke="#000" stroke-width="0.7" />
<line x1="263.5" y1="168.2" x2="265.0" y2="168.2" stroke="#000" stroke-width="0.7" />
<line x1="263.5" y1="173.1" x2="265.0" y2="173.1" stroke="#000" stroke-width="0.7" />
<line x1="263.5" y1="177.9" x2="265.0" y2="177.9" stroke="#000" stroke-width="0.7" />
<line x1="263.5" y1="182.8" x2="265.0" y2="182.8" stroke="#000" stroke-width="0.7" />
<line x1="263.5" y1="187.7" x2="265.0" y2="187.7" stroke="#000" stroke-width="0.7" />
<line x1="263.5" y1="192.5" x2="265.0" y2="192.5" stroke="#000" stroke-width="0.7" />
<line x1="263.5" y1="197.4" x2="265.0" y2="197.4" stroke="#000" stroke-width="0.7" />
<line x1="263.5" y1="202.3" x2="265.0" y2="202.3" stroke="#000" stroke-width="0.7" />
<line x1="263.5" y1="207.1" x2="265.0" y2="207.1" stroke="#000" stroke-width="0.7" />
<line x1="263.5" y1="212.0" x2="265.0" y2="212.0" stroke="#000" stroke-width="0.7" />
<line x1="267.0" y1="214.0" x2="267.0" y2="215.5" stroke="#000" stroke-width="0.7" />
<line x1="271.0" y1="214.0" x2="271.0" y2="215.5" stroke="#000" stroke-width="0.7" />
<line x1="274.9" y1="214.0" x2="274.9" y2="215.5" stroke="#000" stroke-width="0.7" />
<line x1="278.9" y1="214.0" x2="278.9" y2="215.5" stroke="#000" stroke-width="0.7" />
<line x1="282.8" y1="214.0" x2="282.8" y2="215.5" stroke="#000" stroke-width="0.7" />
<line x1="286.8" y1="214.0" x2="286.8" y2="215.5" stroke="#000" stroke-width="0.7" />
<line x1="290.7" y1="214.0" x2="290.7" y2="215.5" stroke="#000" stroke-width="0.7" />
<line x1="294.7" y1="214.0" x2="294.7" y2="215.5" stroke="#000" stroke-width="0.7" />
<line x1="298.6" y1="214.0" x2="298.6" y2="215.5" stroke="#000" stroke-width="0.7" />
<line x1="302.6" y1="214.0" x2="302.6" y2="215.5" stroke="#000" stroke-width="0.7" />
<line x1="306.5" y1="214.0" x2="306.5" y2="215.5" stroke="#000" stroke-width="0.7" />
<line x1="310.5" y1="214.0" x2="310.5" y2="215.5" stroke="#000" stroke-width="0.7" />
<line x1="314.4" y1="214.0" x2="314.4" y2="215.5" stroke="#000" stroke-width="0.7" />
<line x1="318.4" y1="214.0" x2="318.4" y2="215.5" stroke="#000" stroke-width="0.7" />
<line x1="322.3" y1="214.0" x2="322.3" y2="215.5" stroke="#000" stroke-width="0.7" />
<line x1="326.3" y1="214.0" x2="326.3" y2="215.5" stroke="#000" stroke-width="0.7" />
<line x1="330.2" y1="214.0" x2="330.2" y2="215.5" stroke="#000" stroke-width="0.7" />
<line x1="334.2" y1="214.0" x2="334.2" y2="215.5" stroke="#000" stroke-width="0.7" />
<line x1="338.1" y1="214.0" x2="338.1" y2="215.5" stroke="#000" stroke-width="0.7" />
<line x1="342.1" y1="214.0" x2="342.1" y2="215.5" stroke="#000" stroke-width="0.7" />
<line x1="346.0" y1="214.0" x2="346.0" y2="215.5" stroke="#000" stroke-width="0.7" />
<line x1="350.0" y1="214.0" x2="350.0" y2="215.5" stroke="#000" stroke-width="0.7" />
<text x="262.5" y="136.1" font-size="5.8" font-weight="bold" text-anchor="end" fill="#111" transform="rotate(-22 259.5 134.6)">10<tspan dy="-2" font-size="4.2">5</tspan></text>
<text x="262.5" y="155.2" font-size="5.8" font-weight="bold" text-anchor="end" fill="#111" transform="rotate(-22 259.5 153.7)">10<tspan dy="-2" font-size="4.2">4</tspan></text>
<text x="262.5" y="176.1" font-size="5.8" font-weight="bold" text-anchor="end" fill="#111" transform="rotate(-22 259.5 174.6)">10<tspan dy="-2" font-size="4.2">3</tspan></text>
<text x="262.5" y="195.9" font-size="5.8" font-weight="bold" text-anchor="end" fill="#111" transform="rotate(-22 259.5 194.4)">10<tspan dy="-2" font-size="4.2">2</tspan></text>
<text x="262.5" y="205.7" font-size="5.8" font-weight="bold" text-anchor="end" fill="#111" transform="rotate(-22 259.5 204.2)">0</text>
<text x="274.0" y="222.5" font-size="5.8" font-weight="bold" text-anchor="middle" fill="#111" >0</text>
<text x="282.7" y="222.5" font-size="5.8" font-weight="bold" text-anchor="middle" fill="#111" >10<tspan dy="-2" font-size="4.2">2</tspan></text>
<text x="303.5" y="222.5" font-size="5.8" font-weight="bold" text-anchor="middle" fill="#111" >10<tspan dy="-2" font-size="4.2">3</tspan></text>
<text x="324.3" y="222.5" font-size="5.8" font-weight="bold" text-anchor="middle" fill="#111" >10<tspan dy="-2" font-size="4.2">4</tspan></text>
<text x="342.8" y="222.5" font-size="5.8" font-weight="bold" text-anchor="middle" fill="#111" >10<tspan dy="-2" font-size="4.2">5</tspan></text>
<text x="266.0" y="135.3" font-size="8" font-weight="normal" text-anchor="start" fill="#222" >69.2</text>
<text x="351.0" y="135.3" font-size="8" font-weight="normal" text-anchor="end" fill="#222" >0.059</text>
<text x="266.0" y="212.0" font-size="8" font-weight="normal" text-anchor="start" fill="#222" >30.5</text>
<text x="351.0" y="212.0" font-size="8" font-weight="normal" text-anchor="end" fill="#222" >0.25</text>
<rect x="369.5" y="127.3" width="86.5" height="86.7" fill="none" stroke="#8a8a8a" stroke-width="0.8" />
<line x1="369.5" y1="127.3" x2="369.5" y2="215.0" stroke="#000" stroke-width="1.2" />
<line x1="368.5" y1="214.0" x2="456.0" y2="214.0" stroke="#000" stroke-width="1.2" />
<line x1="368.0" y1="129.3" x2="369.5" y2="129.3" stroke="#000" stroke-width="0.7" />
<line x1="368.0" y1="134.2" x2="369.5" y2="134.2" stroke="#000" stroke-width="0.7" />
<line x1="368.0" y1="139.0" x2="369.5" y2="139.0" stroke="#000" stroke-width="0.7" />
<line x1="368.0" y1="143.9" x2="369.5" y2="143.9" stroke="#000" stroke-width="0.7" />
<line x1="368.0" y1="148.8" x2="369.5" y2="148.8" stroke="#000" stroke-width="0.7" />
<line x1="368.0" y1="153.6" x2="369.5" y2="153.6" stroke="#000" stroke-width="0.7" />
<line x1="368.0" y1="158.5" x2="369.5" y2="158.5" stroke="#000" stroke-width="0.7" />
<line x1="368.0" y1="163.4" x2="369.5" y2="163.4" stroke="#000" stroke-width="0.7" />
<line x1="368.0" y1="168.2" x2="369.5" y2="168.2" stroke="#000" stroke-width="0.7" />
<line x1="368.0" y1="173.1" x2="369.5" y2="173.1" stroke="#000" stroke-width="0.7" />
<line x1="368.0" y1="177.9" x2="369.5" y2="177.9" stroke="#000" stroke-width="0.7" />
<line x1="368.0" y1="182.8" x2="369.5" y2="182.8" stroke="#000" stroke-width="0.7" />
<line x1="368.0" y1="187.7" x2="369.5" y2="187.7" stroke="#000" stroke-width="0.7" />
<line x1="368.0" y1="192.5" x2="369.5" y2="192.5" stroke="#000" stroke-width="0.7" />
<line x1="368.0" y1="197.4" x2="369.5" y2="197.4" stroke="#000" stroke-width="0.7" />
<line x1="368.0" y1="202.3" x2="369.5" y2="202.3" stroke="#000" stroke-width="0.7" />
<line x1="368.0" y1="207.1" x2="369.5" y2="207.1" stroke="#000" stroke-width="0.7" />
<line x1="368.0" y1="212.0" x2="369.5" y2="212.0" stroke="#000" stroke-width="0.7" />
<line x1="371.5" y1="214.0" x2="371.5" y2="215.5" stroke="#000" stroke-width="0.7" />
<line x1="375.4" y1="214.0" x2="375.4" y2="215.5" stroke="#000" stroke-width="0.7" />
<line x1="379.4" y1="214.0" x2="379.4" y2="215.5" stroke="#000" stroke-width="0.7" />
<line x1="383.3" y1="214.0" x2="383.3" y2="215.5" stroke="#000" stroke-width="0.7" />
<line x1="387.2" y1="214.0" x2="387.2" y2="215.5" stroke="#000" stroke-width="0.7" />
<line x1="391.1" y1="214.0" x2="391.1" y2="215.5" stroke="#000" stroke-width="0.7" />
<line x1="395.1" y1="214.0" x2="395.1" y2="215.5" stroke="#000" stroke-width="0.7" />
<line x1="399.0" y1="214.0" x2="399.0" y2="215.5" stroke="#000" stroke-width="0.7" />
<line x1="402.9" y1="214.0" x2="402.9" y2="215.5" stroke="#000" stroke-width="0.7" />
<line x1="406.9" y1="214.0" x2="406.9" y2="215.5" stroke="#000" stroke-width="0.7" />
<line x1="410.8" y1="214.0" x2="410.8" y2="215.5" stroke="#000" stroke-width="0.7" />
<line x1="414.7" y1="214.0" x2="414.7" y2="215.5" stroke="#000" stroke-width="0.7" />
<line x1="418.6" y1="214.0" x2="418.6" y2="215.5" stroke="#000" stroke-width="0.7" />
<line x1="422.6" y1="214.0" x2="422.6" y2="215.5" stroke="#000" stroke-width="0.7" />
<line x1="426.5" y1="214.0" x2="426.5" y2="215.5" stroke="#000" stroke-width="0.7" />
<line x1="430.4" y1="214.0" x2="430.4" y2="215.5" stroke="#000" stroke-width="0.7" />
<line x1="434.4" y1="214.0" x2="434.4" y2="215.5" stroke="#000" stroke-width="0.7" />
<line x1="438.3" y1="214.0" x2="438.3" y2="215.5" stroke="#000" stroke-width="0.7" />
<line x1="442.2" y1="214.0" x2="442.2" y2="215.5" stroke="#000" stroke-width="0.7" />
<line x1="446.1" y1="214.0" x2="446.1" y2="215.5" stroke="#000" stroke-width="0.7" />
<line x1="450.1" y1="214.0" x2="450.1" y2="215.5" stroke="#000" stroke-width="0.7" />
<line x1="454.0" y1="214.0" x2="454.0" y2="215.5" stroke="#000" stroke-width="0.7" />
<text x="367.0" y="136.1" font-size="5.8" font-weight="bold" text-anchor="end" fill="#111" transform="rotate(-22 364.0 134.6)">10<tspan dy="-2" font-size="4.2">5</tspan></text>
<text x="367.0" y="155.2" font-size="5.8" font-weight="bold" text-anchor="end" fill="#111" transform="rotate(-22 364.0 153.7)">10<tspan dy="-2" font-size="4.2">4</tspan></text>
<text x="367.0" y="176.1" font-size="5.8" font-weight="bold" text-anchor="end" fill="#111" transform="rotate(-22 364.0 174.6)">10<tspan dy="-2" font-size="4.2">3</tspan></text>
<text x="367.0" y="195.9" font-size="5.8" font-weight="bold" text-anchor="end" fill="#111" transform="rotate(-22 364.0 194.4)">10<tspan dy="-2" font-size="4.2">2</tspan></text>
<text x="367.0" y="205.7" font-size="5.8" font-weight="bold" text-anchor="end" fill="#111" transform="rotate(-22 364.0 204.2)">0</text>
<text x="378.4" y="222.5" font-size="5.8" font-weight="bold" text-anchor="middle" fill="#111" >0</text>
<text x="387.1" y="222.5" font-size="5.8" font-weight="bold" text-anchor="middle" fill="#111" >10<tspan dy="-2" font-size="4.2">2</tspan></text>
<text x="407.8" y="222.5" font-size="5.8" font-weight="bold" text-anchor="middle" fill="#111" >10<tspan dy="-2" font-size="4.2">3</tspan></text>
<text x="428.5" y="222.5" font-size="5.8" font-weight="bold" text-anchor="middle" fill="#111" >10<tspan dy="-2" font-size="4.2">4</tspan></text>
<text x="446.9" y="222.5" font-size="5.8" font-weight="bold" text-anchor="middle" fill="#111" >10<tspan dy="-2" font-size="4.2">5</tspan></text>
<text x="370.5" y="135.3" font-size="8" font-weight="normal" text-anchor="start" fill="#222" >3.43</text>
<text x="455.0" y="135.3" font-size="8" font-weight="normal" text-anchor="end" fill="#222" >9.36</text>
<text x="370.5" y="212.0" font-size="8" font-weight="normal" text-anchor="start" fill="#222" >79.5</text>
<text x="455.0" y="212.0" font-size="8" font-weight="normal" text-anchor="end" fill="#222" >7.72</text>
<rect x="265.0" y="229.2" width="87.0" height="86.3" fill="none" stroke="#8a8a8a" stroke-width="0.8" />
<line x1="265.0" y1="229.2" x2="265.0" y2="316.5" stroke="#000" stroke-width="1.2" />
<line x1="264.0" y1="315.5" x2="352.0" y2="315.5" stroke="#000" stroke-width="1.2" />
<line x1="263.5" y1="231.2" x2="265.0" y2="231.2" stroke="#000" stroke-width="0.7" />
<line x1="263.5" y1="236.0" x2="265.0" y2="236.0" stroke="#000" stroke-width="0.7" />
<line x1="263.5" y1="240.9" x2="265.0" y2="240.9" stroke="#000" stroke-width="0.7" />
<line x1="263.5" y1="245.7" x2="265.0" y2="245.7" stroke="#000" stroke-width="0.7" />
<line x1="263.5" y1="250.6" x2="265.0" y2="250.6" stroke="#000" stroke-width="0.7" />
<line x1="263.5" y1="255.4" x2="265.0" y2="255.4" stroke="#000" stroke-width="0.7" />
<line x1="263.5" y1="260.2" x2="265.0" y2="260.2" stroke="#000" stroke-width="0.7" />
<line x1="263.5" y1="265.1" x2="265.0" y2="265.1" stroke="#000" stroke-width="0.7" />
<line x1="263.5" y1="269.9" x2="265.0" y2="269.9" stroke="#000" stroke-width="0.7" />
<line x1="263.5" y1="274.8" x2="265.0" y2="274.8" stroke="#000" stroke-width="0.7" />
<line x1="263.5" y1="279.6" x2="265.0" y2="279.6" stroke="#000" stroke-width="0.7" />
<line x1="263.5" y1="284.5" x2="265.0" y2="284.5" stroke="#000" stroke-width="0.7" />
<line x1="263.5" y1="289.3" x2="265.0" y2="289.3" stroke="#000" stroke-width="0.7" />
<line x1="263.5" y1="294.1" x2="265.0" y2="294.1" stroke="#000" stroke-width="0.7" />
<line x1="263.5" y1="299.0" x2="265.0" y2="299.0" stroke="#000" stroke-width="0.7" />
<line x1="263.5" y1="303.8" x2="265.0" y2="303.8" stroke="#000" stroke-width="0.7" />
<line x1="263.5" y1="308.7" x2="265.0" y2="308.7" stroke="#000" stroke-width="0.7" />
<line x1="263.5" y1="313.5" x2="265.0" y2="313.5" stroke="#000" stroke-width="0.7" />
<line x1="267.0" y1="315.5" x2="267.0" y2="317.0" stroke="#000" stroke-width="0.7" />
<line x1="271.0" y1="315.5" x2="271.0" y2="317.0" stroke="#000" stroke-width="0.7" />
<line x1="274.9" y1="315.5" x2="274.9" y2="317.0" stroke="#000" stroke-width="0.7" />
<line x1="278.9" y1="315.5" x2="278.9" y2="317.0" stroke="#000" stroke-width="0.7" />
<line x1="282.8" y1="315.5" x2="282.8" y2="317.0" stroke="#000" stroke-width="0.7" />
<line x1="286.8" y1="315.5" x2="286.8" y2="317.0" stroke="#000" stroke-width="0.7" />
<line x1="290.7" y1="315.5" x2="290.7" y2="317.0" stroke="#000" stroke-width="0.7" />
<line x1="294.7" y1="315.5" x2="294.7" y2="317.0" stroke="#000" stroke-width="0.7" />
<line x1="298.6" y1="315.5" x2="298.6" y2="317.0" stroke="#000" stroke-width="0.7" />
<line x1="302.6" y1="315.5" x2="302.6" y2="317.0" stroke="#000" stroke-width="0.7" />
<line x1="306.5" y1="315.5" x2="306.5" y2="317.0" stroke="#000" stroke-width="0.7" />
<line x1="310.5" y1="315.5" x2="310.5" y2="317.0" stroke="#000" stroke-width="0.7" />
<line x1="314.4" y1="315.5" x2="314.4" y2="317.0" stroke="#000" stroke-width="0.7" />
<line x1="318.4" y1="315.5" x2="318.4" y2="317.0" stroke="#000" stroke-width="0.7" />
<line x1="322.3" y1="315.5" x2="322.3" y2="317.0" stroke="#000" stroke-width="0.7" />
<line x1="326.3" y1="315.5" x2="326.3" y2="317.0" stroke="#000" stroke-width="0.7" />
<line x1="330.2" y1="315.5" x2="330.2" y2="317.0" stroke="#000" stroke-width="0.7" />
<line x1="334.2" y1="315.5" x2="334.2" y2="317.0" stroke="#000" stroke-width="0.7" />
<line x1="338.1" y1="315.5" x2="338.1" y2="317.0" stroke="#000" stroke-width="0.7" />
<line x1="342.1" y1="315.5" x2="342.1" y2="317.0" stroke="#000" stroke-width="0.7" />
<line x1="346.0" y1="315.5" x2="346.0" y2="317.0" stroke="#000" stroke-width="0.7" />
<line x1="350.0" y1="315.5" x2="350.0" y2="317.0" stroke="#000" stroke-width="0.7" />
<text x="262.5" y="237.9" font-size="5.8" font-weight="bold" text-anchor="end" fill="#111" transform="rotate(-22 259.5 236.4)">10<tspan dy="-2" font-size="4.2">5</tspan></text>
<text x="262.5" y="257.0" font-size="5.8" font-weight="bold" text-anchor="end" fill="#111" transform="rotate(-22 259.5 255.5)">10<tspan dy="-2" font-size="4.2">4</tspan></text>
<text x="262.5" y="277.8" font-size="5.8" font-weight="bold" text-anchor="end" fill="#111" transform="rotate(-22 259.5 276.3)">10<tspan dy="-2" font-size="4.2">3</tspan></text>
<text x="262.5" y="297.5" font-size="5.8" font-weight="bold" text-anchor="end" fill="#111" transform="rotate(-22 259.5 296.0)">10<tspan dy="-2" font-size="4.2">2</tspan></text>
<text x="262.5" y="307.3" font-size="5.8" font-weight="bold" text-anchor="end" fill="#111" transform="rotate(-22 259.5 305.8)">0</text>
<text x="274.0" y="324.0" font-size="5.8" font-weight="bold" text-anchor="middle" fill="#111" >0</text>
<text x="282.7" y="324.0" font-size="5.8" font-weight="bold" text-anchor="middle" fill="#111" >10<tspan dy="-2" font-size="4.2">2</tspan></text>
<text x="303.5" y="324.0" font-size="5.8" font-weight="bold" text-anchor="middle" fill="#111" >10<tspan dy="-2" font-size="4.2">3</tspan></text>
<text x="324.3" y="324.0" font-size="5.8" font-weight="bold" text-anchor="middle" fill="#111" >10<tspan dy="-2" font-size="4.2">4</tspan></text>
<text x="342.8" y="324.0" font-size="5.8" font-weight="bold" text-anchor="middle" fill="#111" >10<tspan dy="-2" font-size="4.2">5</tspan></text>
<text x="266.0" y="237.2" font-size="8" font-weight="normal" text-anchor="start" fill="#222" >76.1</text>
<text x="351.0" y="237.2" font-size="8" font-weight="normal" text-anchor="end" fill="#222" >0.071</text>
<text x="266.0" y="313.5" font-size="8" font-weight="normal" text-anchor="start" fill="#222" >23.7</text>
<text x="351.0" y="313.5" font-size="8" font-weight="normal" text-anchor="end" fill="#222" >0.14</text>
<rect x="369.5" y="229.2" width="86.5" height="86.3" fill="none" stroke="#8a8a8a" stroke-width="0.8" />
<line x1="369.5" y1="229.2" x2="369.5" y2="316.5" stroke="#000" stroke-width="1.2" />
<line x1="368.5" y1="315.5" x2="456.0" y2="315.5" stroke="#000" stroke-width="1.2" />
<line x1="368.0" y1="231.2" x2="369.5" y2="231.2" stroke="#000" stroke-width="0.7" />
<line x1="368.0" y1="236.0" x2="369.5" y2="236.0" stroke="#000" stroke-width="0.7" />
<line x1="368.0" y1="240.9" x2="369.5" y2="240.9" stroke="#000" stroke-width="0.7" />
<line x1="368.0" y1="245.7" x2="369.5" y2="245.7" stroke="#000" stroke-width="0.7" />
<line x1="368.0" y1="250.6" x2="369.5" y2="250.6" stroke="#000" stroke-width="0.7" />
<line x1="368.0" y1="255.4" x2="369.5" y2="255.4" stroke="#000" stroke-width="0.7" />
<line x1="368.0" y1="260.2" x2="369.5" y2="260.2" stroke="#000" stroke-width="0.7" />
<line x1="368.0" y1="265.1" x2="369.5" y2="265.1" stroke="#000" stroke-width="0.7" />
<line x1="368.0" y1="269.9" x2="369.5" y2="269.9" stroke="#000" stroke-width="0.7" />
<line x1="368.0" y1="274.8" x2="369.5" y2="274.8" stroke="#000" stroke-width="0.7" />
<line x1="368.0" y1="279.6" x2="369.5" y2="279.6" stroke="#000" stroke-width="0.7" />
<line x1="368.0" y1="284.5" x2="369.5" y2="284.5" stroke="#000" stroke-width="0.7" />
<line x1="368.0" y1="289.3" x2="369.5" y2="289.3" stroke="#000" stroke-width="0.7" />
<line x1="368.0" y1="294.1" x2="369.5" y2="294.1" stroke="#000" stroke-width="0.7" />
<line x1="368.0" y1="299.0" x2="369.5" y2="299.0" stroke="#000" stroke-width="0.7" />
<line x1="368.0" y1="303.8" x2="369.5" y2="303.8" stroke="#000" stroke-width="0.7" />
<line x1="368.0" y1="308.7" x2="369.5" y2="308.7" stroke="#000" stroke-width="0.7" />
<line x1="368.0" y1="313.5" x2="369.5" y2="313.5" stroke="#000" stroke-width="0.7" />
<line x1="371.5" y1="315.5" x2="371.5" y2="317.0" stroke="#000" stroke-width="0.7" />
<line x1="375.4" y1="315.5" x2="375.4" y2="317.0" stroke="#000" stroke-width="0.7" />
<line x1="379.4" y1="315.5" x2="379.4" y2="317.0" stroke="#000" stroke-width="0.7" />
<line x1="383.3" y1="315.5" x2="383.3" y2="317.0" stroke="#000" stroke-width="0.7" />
<line x1="387.2" y1="315.5" x2="387.2" y2="317.0" stroke="#000" stroke-width="0.7" />
<line x1="391.1" y1="315.5" x2="391.1" y2="317.0" stroke="#000" stroke-width="0.7" />
<line x1="395.1" y1="315.5" x2="395.1" y2="317.0" stroke="#000" stroke-width="0.7" />
<line x1="399.0" y1="315.5" x2="399.0" y2="317.0" stroke="#000" stroke-width="0.7" />
<line x1="402.9" y1="315.5" x2="402.9" y2="317.0" stroke="#000" stroke-width="0.7" />
<line x1="406.9" y1="315.5" x2="406.9" y2="317.0" stroke="#000" stroke-width="0.7" />
<line x1="410.8" y1="315.5" x2="410.8" y2="317.0" stroke="#000" stroke-width="0.7" />
<line x1="414.7" y1="315.5" x2="414.7" y2="317.0" stroke="#000" stroke-width="0.7" />
<line x1="418.6" y1="315.5" x2="418.6" y2="317.0" stroke="#000" stroke-width="0.7" />
<line x1="422.6" y1="315.5" x2="422.6" y2="317.0" stroke="#000" stroke-width="0.7" />
<line x1="426.5" y1="315.5" x2="426.5" y2="317.0" stroke="#000" stroke-width="0.7" />
<line x1="430.4" y1="315.5" x2="430.4" y2="317.0" stroke="#000" stroke-width="0.7" />
<line x1="434.4" y1="315.5" x2="434.4" y2="317.0" stroke="#000" stroke-width="0.7" />
<line x1="438.3" y1="315.5" x2="438.3" y2="317.0" stroke="#000" stroke-width="0.7" />
<line x1="442.2" y1="315.5" x2="442.2" y2="317.0" stroke="#000" stroke-width="0.7" />
<line x1="446.1" y1="315.5" x2="446.1" y2="317.0" stroke="#000" stroke-width="0.7" />
<line x1="450.1" y1="315.5" x2="450.1" y2="317.0" stroke="#000" stroke-width="0.7" />
<line x1="454.0" y1="315.5" x2="454.0" y2="317.0" stroke="#000" stroke-width="0.7" />
<text x="367.0" y="237.9" font-size="5.8" font-weight="bold" text-anchor="end" fill="#111" transform="rotate(-22 364.0 236.4)">10<tspan dy="-2" font-size="4.2">5</tspan></text>
<text x="367.0" y="257.0" font-size="5.8" font-weight="bold" text-anchor="end" fill="#111" transform="rotate(-22 364.0 255.5)">10<tspan dy="-2" font-size="4.2">4</tspan></text>
<text x="367.0" y="277.8" font-size="5.8" font-weight="bold" text-anchor="end" fill="#111" transform="rotate(-22 364.0 276.3)">10<tspan dy="-2" font-size="4.2">3</tspan></text>
<text x="367.0" y="297.5" font-size="5.8" font-weight="bold" text-anchor="end" fill="#111" transform="rotate(-22 364.0 296.0)">10<tspan dy="-2" font-size="4.2">2</tspan></text>
<text x="367.0" y="307.3" font-size="5.8" font-weight="bold" text-anchor="end" fill="#111" transform="rotate(-22 364.0 305.8)">0</text>
<text x="378.4" y="324.0" font-size="5.8" font-weight="bold" text-anchor="middle" fill="#111" >0</text>
<text x="387.1" y="324.0" font-size="5.8" font-weight="bold" text-anchor="middle" fill="#111" >10<tspan dy="-2" font-size="4.2">2</tspan></text>
<text x="407.8" y="324.0" font-size="5.8" font-weight="bold" text-anchor="middle" fill="#111" >10<tspan dy="-2" font-size="4.2">3</tspan></text>
<text x="428.5" y="324.0" font-size="5.8" font-weight="bold" text-anchor="middle" fill="#111" >10<tspan dy="-2" font-size="4.2">4</tspan></text>
<text x="446.9" y="324.0" font-size="5.8" font-weight="bold" text-anchor="middle" fill="#111" >10<tspan dy="-2" font-size="4.2">5</tspan></text>
<text x="370.5" y="237.2" font-size="8" font-weight="normal" text-anchor="start" fill="#222" >3.77</text>
<text x="455.0" y="237.2" font-size="8" font-weight="normal" text-anchor="end" fill="#222" >12.8</text>
<text x="370.5" y="313.5" font-size="8" font-weight="normal" text-anchor="start" fill="#222" >79.7</text>
<text x="455.0" y="313.5" font-size="8" font-weight="normal" text-anchor="end" fill="#222" >3.77</text>
<g><ellipse transform="translate(279.50,86.00) rotate(15.0)" rx="6.50" ry="11.00" fill="#000" fill-opacity="0.12" stroke="#666" stroke-width="0.55"/><ellipse transform="translate(279.83,85.50) rotate(15.0)" rx="5.33" ry="9.33" fill="#000" fill-opacity="0.12" stroke="#666" stroke-width="0.55"/><ellipse transform="translate(280.17,85.00) rotate(15.0)" rx="4.17" ry="7.67" fill="#000" fill-opacity="0.12" stroke="#666" stroke-width="0.55"/><ellipse transform="translate(280.50,84.50) rotate(15.0)" rx="3.00" ry="6.00" fill="#000" fill-opacity="0.12" stroke="#666" stroke-width="0.55"/></g>
<g><ellipse transform="translate(280.00,84.50) rotate(20.0)" rx="5.00" ry="8.50" fill="#111" fill-opacity="0.5" stroke="#111" stroke-width="0.55"/><ellipse transform="translate(280.25,84.25) rotate(20.0)" rx="3.50" ry="6.25" fill="#111" fill-opacity="0.5" stroke="#111" stroke-width="0.55"/><ellipse transform="translate(280.50,84.00) rotate(20.0)" rx="2.00" ry="4.00" fill="#111" fill-opacity="0.5" stroke="#111" stroke-width="0.55"/></g>
<ellipse cx="280.5" cy="84" rx="0.9" ry="2" fill="#777"/>
<g><ellipse transform="translate(280.50,185.00) rotate(0.0)" rx="5.50" ry="9.00" fill="#000" fill-opacity="0.06" stroke="#777" stroke-width="0.55"/><ellipse transform="translate(280.50,185.25) rotate(0.0)" rx="4.75" ry="7.75" fill="#000" fill-opacity="0.06" stroke="#777" stroke-width="0.55"/><ellipse transform="translate(280.50,185.50) rotate(0.0)" rx="4.00" ry="6.50" fill="#000" fill-opacity="0.06" stroke="#777" stroke-width="0.55"/><ellipse transform="translate(280.50,185.75) rotate(0.0)" rx="3.25" ry="5.25" fill="#000" fill-opacity="0.06" stroke="#777" stroke-width="0.55"/><ellipse transform="translate(280.50,186.00) rotate(0.0)" rx="2.50" ry="4.00" fill="#000" fill-opacity="0.06" stroke="#777" stroke-width="0.55"/></g>
<g><ellipse transform="translate(280.50,173.50) rotate(0.0)" rx="5.80" ry="5.60" fill="#0a0a0a" fill-opacity="0.6" stroke="#000" stroke-width="0.55"/><ellipse transform="translate(280.50,173.50) rotate(0.0)" rx="3.90" ry="3.80" fill="#0a0a0a" fill-opacity="0.6" stroke="#000" stroke-width="0.55"/><ellipse transform="translate(280.50,173.50) rotate(0.0)" rx="2.00" ry="2.00" fill="#0a0a0a" fill-opacity="0.6" stroke="#000" stroke-width="0.55"/></g>
<circle cx="281" cy="173.8" r="0.9" fill="#888"/>
<g><ellipse transform="translate(280.50,283.00) rotate(0.0)" rx="5.00" ry="8.00" fill="#000" fill-opacity="0.06" stroke="#777" stroke-width="0.55"/><ellipse transform="translate(280.50,282.67) rotate(0.0)" rx="4.00" ry="6.33" fill="#000" fill-opacity="0.06" stroke="#777" stroke-width="0.55"/><ellipse transform="translate(280.50,282.33) rotate(0.0)" rx="3.00" ry="4.67" fill="#000" fill-opacity="0.06" stroke="#777" stroke-width="0.55"/><ellipse transform="translate(280.50,282.00) rotate(0.0)" rx="2.00" ry="3.00" fill="#000" fill-opacity="0.06" stroke="#777" stroke-width="0.55"/></g>
<g><ellipse transform="translate(280.50,277.50) rotate(0.0)" rx="5.20" ry="5.40" fill="#0a0a0a" fill-opacity="0.6" stroke="#000" stroke-width="0.55"/><ellipse transform="translate(280.50,277.50) rotate(0.0)" rx="3.60" ry="3.70" fill="#0a0a0a" fill-opacity="0.6" stroke="#000" stroke-width="0.55"/><ellipse transform="translate(280.50,277.50) rotate(0.0)" rx="2.00" ry="2.00" fill="#0a0a0a" fill-opacity="0.6" stroke="#000" stroke-width="0.55"/></g>
<circle cx="281" cy="277.5" r="0.9" fill="#888"/>
<g><ellipse transform="translate(386.50,84.00) rotate(18.0)" rx="10.00" ry="20.00" fill="#000" fill-opacity="0.05" stroke="#555" stroke-width="0.45"/><ellipse transform="translate(386.56,83.25) rotate(18.0)" rx="9.12" ry="18.25" fill="#000" fill-opacity="0.05" stroke="#555" stroke-width="0.45"/><ellipse transform="translate(386.62,82.50) rotate(18.0)" rx="8.25" ry="16.50" fill="#000" fill-opacity="0.05" stroke="#555" stroke-width="0.45"/><ellipse transform="translate(386.69,81.75) rotate(18.0)" rx="7.38" ry="14.75" fill="#000" fill-opacity="0.05" stroke="#555" stroke-width="0.45"/><ellipse transform="translate(386.75,81.00) rotate(18.0)" rx="6.50" ry="13.00" fill="#000" fill-opacity="0.05" stroke="#555" stroke-width="0.45"/><ellipse transform="translate(386.81,80.25) rotate(18.0)" rx="5.62" ry="11.25" fill="#000" fill-opacity="0.05" stroke="#555" stroke-width="0.45"/><ellipse transform="translate(386.88,79.50) rotate(18.0)" rx="4.75" ry="9.50" fill="#000" fill-opacity="0.05" stroke="#555" stroke-width="0.45"/><ellipse transform="translate(386.94,78.75) rotate(18.0)" rx="3.88" ry="7.75" fill="#000" fill-opacity="0.05" stroke="#555" stroke-width="0.45"/><ellipse transform="translate(387.00,78.00) rotate(18.0)" rx="3.00" ry="6.00" fill="#000" fill-opacity="0.05" stroke="#555" stroke-width="0.45"/></g>
<g><ellipse transform="translate(387.00,79.00) rotate(18.0)" rx="6.00" ry="10.00" fill="#000" fill-opacity="0.2" stroke="#222" stroke-width="0.5"/><ellipse transform="translate(387.17,78.33) rotate(18.0)" rx="4.67" ry="8.00" fill="#000" fill-opacity="0.2" stroke="#222" stroke-width="0.5"/><ellipse transform="translate(387.33,77.67) rotate(18.0)" rx="3.33" ry="6.00" fill="#000" fill-opacity="0.2" stroke="#222" stroke-width="0.5"/><ellipse transform="translate(387.50,77.00) rotate(18.0)" rx="2.00" ry="4.00" fill="#000" fill-opacity="0.2" stroke="#222" stroke-width="0.5"/></g>
<g><ellipse transform="translate(387.00,184.50) rotate(22.0)" rx="10.00" ry="17.50" fill="#000" fill-opacity="0.05" stroke="#555" stroke-width="0.45"/><ellipse transform="translate(387.14,184.00) rotate(22.0)" rx="9.00" ry="15.86" fill="#000" fill-opacity="0.05" stroke="#555" stroke-width="0.45"/><ellipse transform="translate(387.29,183.50) rotate(22.0)" rx="8.00" ry="14.21" fill="#000" fill-opacity="0.05" stroke="#555" stroke-width="0.45"/><ellipse transform="translate(387.43,183.00) rotate(22.0)" rx="7.00" ry="12.57" fill="#000" fill-opacity="0.05" stroke="#555" stroke-width="0.45"/><ellipse transform="translate(387.57,182.50) rotate(22.0)" rx="6.00" ry="10.93" fill="#000" fill-opacity="0.05" stroke="#555" stroke-width="0.45"/><ellipse transform="translate(387.71,182.00) rotate(22.0)" rx="5.00" ry="9.29" fill="#000" fill-opacity="0.05" stroke="#555" stroke-width="0.45"/><ellipse transform="translate(387.86,181.50) rotate(22.0)" rx="4.00" ry="7.64" fill="#000" fill-opacity="0.05" stroke="#555" stroke-width="0.45"/><ellipse transform="translate(388.00,181.00) rotate(22.0)" rx="3.00" ry="6.00" fill="#000" fill-opacity="0.05" stroke="#555" stroke-width="0.45"/></g>
<g><ellipse transform="translate(388.00,182.00) rotate(22.0)" rx="6.00" ry="9.00" fill="#000" fill-opacity="0.2" stroke="#222" stroke-width="0.5"/><ellipse transform="translate(388.17,181.67) rotate(22.0)" rx="4.67" ry="7.33" fill="#000" fill-opacity="0.2" stroke="#222" stroke-width="0.5"/><ellipse transform="translate(388.33,181.33) rotate(22.0)" rx="3.33" ry="5.67" fill="#000" fill-opacity="0.2" stroke="#222" stroke-width="0.5"/><ellipse transform="translate(388.50,181.00) rotate(22.0)" rx="2.00" ry="4.00" fill="#000" fill-opacity="0.2" stroke="#222" stroke-width="0.5"/></g>
<g><ellipse transform="translate(388.00,286.00) rotate(28.0)" rx="10.50" ry="17.50" fill="#000" fill-opacity="0.05" stroke="#555" stroke-width="0.45"/><ellipse transform="translate(388.14,285.57) rotate(28.0)" rx="9.43" ry="15.86" fill="#000" fill-opacity="0.05" stroke="#555" stroke-width="0.45"/><ellipse transform="translate(388.29,285.14) rotate(28.0)" rx="8.36" ry="14.21" fill="#000" fill-opacity="0.05" stroke="#555" stroke-width="0.45"/><ellipse transform="translate(388.43,284.71) rotate(28.0)" rx="7.29" ry="12.57" fill="#000" fill-opacity="0.05" stroke="#555" stroke-width="0.45"/><ellipse transform="translate(388.57,284.29) rotate(28.0)" rx="6.21" ry="10.93" fill="#000" fill-opacity="0.05" stroke="#555" stroke-width="0.45"/><ellipse transform="translate(388.71,283.86) rotate(28.0)" rx="5.14" ry="9.29" fill="#000" fill-opacity="0.05" stroke="#555" stroke-width="0.45"/><ellipse transform="translate(388.86,283.43) rotate(28.0)" rx="4.07" ry="7.64" fill="#000" fill-opacity="0.05" stroke="#555" stroke-width="0.45"/><ellipse transform="translate(389.00,283.00) rotate(28.0)" rx="3.00" ry="6.00" fill="#000" fill-opacity="0.05" stroke="#555" stroke-width="0.45"/></g>
<g><ellipse transform="translate(389.00,284.00) rotate(28.0)" rx="6.00" ry="9.00" fill="#000" fill-opacity="0.2" stroke="#222" stroke-width="0.5"/><ellipse transform="translate(389.17,283.67) rotate(28.0)" rx="4.67" ry="7.33" fill="#000" fill-opacity="0.2" stroke="#222" stroke-width="0.5"/><ellipse transform="translate(389.33,283.33) rotate(28.0)" rx="3.33" ry="5.67" fill="#000" fill-opacity="0.2" stroke="#222" stroke-width="0.5"/><ellipse transform="translate(389.50,283.00) rotate(28.0)" rx="2.00" ry="4.00" fill="#000" fill-opacity="0.2" stroke="#222" stroke-width="0.5"/></g>
<g><ellipse transform="translate(420.00,84.00) rotate(-10.0)" rx="15.50" ry="12.50" fill="#000" fill-opacity="0.03" stroke="#666" stroke-width="0.5"/><ellipse transform="translate(421.50,83.50) rotate(-10.0)" rx="12.62" ry="10.12" fill="#000" fill-opacity="0.03" stroke="#666" stroke-width="0.5"/><ellipse transform="translate(423.00,83.00) rotate(-10.0)" rx="9.75" ry="7.75" fill="#000" fill-opacity="0.03" stroke="#666" stroke-width="0.5"/><ellipse transform="translate(424.50,82.50) rotate(-10.0)" rx="6.88" ry="5.38" fill="#000" fill-opacity="0.03" stroke="#666" stroke-width="0.5"/><ellipse transform="translate(426.00,82.00) rotate(-10.0)" rx="4.00" ry="3.00" fill="#000" fill-opacity="0.03" stroke="#666" stroke-width="0.5"/></g>
<ellipse cx="406" cy="82" rx="3" ry="2" fill="none" stroke="#777" stroke-width="0.5"/>
<g><ellipse transform="translate(418.00,177.00) rotate(0.0)" rx="17.00" ry="8.50" fill="#000" fill-opacity="0.05" stroke="#555" stroke-width="0.5"/><ellipse transform="translate(419.20,177.00) rotate(0.0)" rx="14.60" ry="7.20" fill="#000" fill-opacity="0.05" stroke="#555" stroke-width="0.5"/><ellipse transform="translate(420.40,177.00) rotate(0.0)" rx="12.20" ry="5.90" fill="#000" fill-opacity="0.05" stroke="#555" stroke-width="0.5"/><ellipse transform="translate(421.60,177.00) rotate(0.0)" rx="9.80" ry="4.60" fill="#000" fill-opacity="0.05" stroke="#555" stroke-width="0.5"/><ellipse transform="translate(422.80,177.00) rotate(0.0)" rx="7.40" ry="3.30" fill="#000" fill-opacity="0.05" stroke="#555" stroke-width="0.5"/><ellipse transform="translate(424.00,177.00) rotate(0.0)" rx="5.00" ry="2.00" fill="#000" fill-opacity="0.05" stroke="#555" stroke-width="0.5"/></g>
<g><ellipse transform="translate(418.00,276.00) rotate(0.0)" rx="17.50" ry="7.50" fill="#000" fill-opacity="0.05" stroke="#555" stroke-width="0.5"/><ellipse transform="translate(419.20,276.00) rotate(0.0)" rx="15.00" ry="6.40" fill="#000" fill-opacity="0.05" stroke="#555" stroke-width="0.5"/><ellipse transform="translate(420.40,276.00) rotate(0.0)" rx="12.50" ry="5.30" fill="#000" fill-opacity="0.05" stroke="#555" stroke-width="0.5"/><ellipse transform="translate(421.60,276.00) rotate(0.0)" rx="10.00" ry="4.20" fill="#000" fill-opacity="0.05" stroke="#555" stroke-width="0.5"/><ellipse transform="translate(422.80,276.00) rotate(0.0)" rx="7.50" ry="3.10" fill="#000" fill-opacity="0.05" stroke="#555" stroke-width="0.5"/><ellipse transform="translate(424.00,276.00) rotate(0.0)" rx="5.00" ry="2.00" fill="#000" fill-opacity="0.05" stroke="#555" stroke-width="0.5"/></g>
<line x1="287.8" y1="25.5" x2="287.8" y2="112.5" stroke="#444" stroke-width="1.2" />
<line x1="265.0" y1="76.7" x2="352.0" y2="76.7" stroke="#4a4aa8" stroke-width="1" />
<line x1="400.0" y1="25.5" x2="400.0" y2="112.5" stroke="#444" stroke-width="1.2" />
<line x1="369.5" y1="73.7" x2="456.0" y2="73.7" stroke="#4a4aa8" stroke-width="1" />
<line x1="287.8" y1="127.3" x2="287.8" y2="214.0" stroke="#444" stroke-width="1.2" />
<line x1="265.0" y1="177.7" x2="352.0" y2="177.7" stroke="#4a4aa8" stroke-width="1" />
<line x1="400.0" y1="127.3" x2="400.0" y2="214.0" stroke="#444" stroke-width="1.2" />
<line x1="369.5" y1="175.3" x2="456.0" y2="175.3" stroke="#4a4aa8" stroke-width="1" />
<line x1="287.8" y1="229.2" x2="287.8" y2="315.5" stroke="#444" stroke-width="1.2" />
<line x1="265.0" y1="279.7" x2="352.0" y2="279.7" stroke="#4a4aa8" stroke-width="1" />
<line x1="400.0" y1="229.2" x2="400.0" y2="315.5" stroke="#444" stroke-width="1.2" />
<line x1="369.5" y1="277.3" x2="456.0" y2="277.3" stroke="#4a4aa8" stroke-width="1" />
<text x="0" y="0" font-size="11.8" font-weight="bold" transform="translate(248.6,122.6) rotate(-90)">IgG2a</text>
<line x1="245.4" y1="86.0" x2="245.4" y2="65.5" stroke="#000" stroke-width="1.6" />
<path d="M245.4,56.0 L241.4,66.5 L249.4,66.5 Z" fill="#000"/>
<text x="0" y="0" font-size="11.8" font-weight="bold" transform="translate(248.6,224.4) rotate(-90)">Eomes</text>
<line x1="245.4" y1="183.0" x2="245.4" y2="164.3" stroke="#000" stroke-width="1.6" />
<path d="M245.4,153.3 L241.4,165.3 L249.4,165.3 Z" fill="#000"/>
<text x="0" y="0" font-size="11.8" font-weight="bold" transform="translate(248.6,326.7) rotate(-90)">Tbet</text>
<line x1="245.4" y1="295.0" x2="245.4" y2="278.0" stroke="#000" stroke-width="1.6" />
<path d="M245.4,268.0 L241.4,279.0 L249.4,279.0 Z" fill="#000"/>
<text x="248.9" y="340.3" font-size="12" font-weight="bold" text-anchor="start" fill="#000" >CFSE</text>
<line x1="281.0" y1="336.2" x2="318.5" y2="336.2" stroke="#000" stroke-width="1.6" />
<path d="M328.5,336.2 L317.5,332.2 L317.5,340.2 Z" fill="#000"/>
<text x="0" y="0" font-size="16.6" font-weight="bold" stroke="#000" stroke-width="0.35" transform="translate(12.2,355.6) scale(0.9,1)">B</text>
<text x="54.5" y="353.7" font-size="12" font-weight="bold" text-anchor="start" fill="#000" >d.0</text>
<text x="206.0" y="353.2" font-size="12" font-weight="bold" text-anchor="start" fill="#000" >d+1</text>
<text x="396.4" y="354.0" font-size="12" font-weight="bold" text-anchor="start" fill="#000" >d+10</text>
<line x1="117.0" y1="364.0" x2="296.6" y2="364.0" stroke="#555" stroke-width="1.2" />
<line x1="326.0" y1="364.0" x2="503.0" y2="364.0" stroke="#555" stroke-width="1.2" />
<text x="19.5" y="378.7" font-size="12" font-weight="bold" text-anchor="start" fill="#000" >Naive spleen</text>
<text x="120.0" y="378.6" font-size="12" font-weight="bold" text-anchor="start" fill="#000" >NK</text>
<text x="223.0" y="378.6" font-size="12" font-weight="bold" text-anchor="start" fill="#000" >NK + tumor</text>
<text x="320.3" y="378.6" font-size="12" font-weight="bold" text-anchor="start" fill="#000" >NK</text>
<text x="427.0" y="378.6" font-size="12" font-weight="bold" text-anchor="start" fill="#000" >NK + tumor</text>
<line x1="13.8" y1="383.0" x2="517.0" y2="383.0" stroke="#6a6a6a" stroke-width="1.2" />
<line x1="13.8" y1="485.0" x2="517.0" y2="485.0" stroke="#6a6a6a" stroke-width="1.2" />
<line x1="13.8" y1="586.3" x2="517.0" y2="586.3" stroke="#6a6a6a" stroke-width="1.2" />
<line x1="13.8" y1="383.0" x2="13.8" y2="586.3" stroke="#6a6a6a" stroke-width="1.2" />
<line x1="114.5" y1="383.0" x2="114.5" y2="586.3" stroke="#6a6a6a" stroke-width="1.2" />
<line x1="215.8" y1="383.0" x2="215.8" y2="586.3" stroke="#6a6a6a" stroke-width="1.2" />
<line x1="316.3" y1="383.0" x2="316.3" y2="586.3" stroke="#6a6a6a" stroke-width="1.2" />
<line x1="416.5" y1="383.0" x2="416.5" y2="586.3" stroke="#6a6a6a" stroke-width="1.2" />
<line x1="517.0" y1="383.0" x2="517.0" y2="586.3" stroke="#6a6a6a" stroke-width="1.2" />
<rect x="27.0" y="385.5" width="84.8" height="87.5" fill="none" stroke="#8a8a8a" stroke-width="0.8" />
<line x1="27.0" y1="385.5" x2="27.0" y2="474.0" stroke="#000" stroke-width="1.2" />
<line x1="26.0" y1="473.0" x2="111.8" y2="473.0" stroke="#000" stroke-width="1.2" />
<line x1="25.5" y1="387.5" x2="27.0" y2="387.5" stroke="#000" stroke-width="0.7" />
<line x1="25.5" y1="392.4" x2="27.0" y2="392.4" stroke="#000" stroke-width="0.7" />
<line x1="25.5" y1="397.3" x2="27.0" y2="397.3" stroke="#000" stroke-width="0.7" />
<line x1="25.5" y1="402.2" x2="27.0" y2="402.2" stroke="#000" stroke-width="0.7" />
<line x1="25.5" y1="407.1" x2="27.0" y2="407.1" stroke="#000" stroke-width="0.7" />
<line x1="25.5" y1="412.1" x2="27.0" y2="412.1" stroke="#000" stroke-width="0.7" />
<line x1="25.5" y1="417.0" x2="27.0" y2="417.0" stroke="#000" stroke-width="0.7" />
<line x1="25.5" y1="421.9" x2="27.0" y2="421.9" stroke="#000" stroke-width="0.7" />
<line x1="25.5" y1="426.8" x2="27.0" y2="426.8" stroke="#000" stroke-width="0.7" />
<line x1="25.5" y1="431.7" x2="27.0" y2="431.7" stroke="#000" stroke-width="0.7" />
<line x1="25.5" y1="436.6" x2="27.0" y2="436.6" stroke="#000" stroke-width="0.7" />
<line x1="25.5" y1="441.5" x2="27.0" y2="441.5" stroke="#000" stroke-width="0.7" />
<line x1="25.5" y1="446.4" x2="27.0" y2="446.4" stroke="#000" stroke-width="0.7" />
<line x1="25.5" y1="451.4" x2="27.0" y2="451.4" stroke="#000" stroke-width="0.7" />
<line x1="25.5" y1="456.3" x2="27.0" y2="456.3" stroke="#000" stroke-width="0.7" />
<line x1="25.5" y1="461.2" x2="27.0" y2="461.2" stroke="#000" stroke-width="0.7" />
<line x1="25.5" y1="466.1" x2="27.0" y2="466.1" stroke="#000" stroke-width="0.7" />
<line x1="25.5" y1="471.0" x2="27.0" y2="471.0" stroke="#000" stroke-width="0.7" />
<line x1="29.0" y1="473.0" x2="29.0" y2="474.5" stroke="#000" stroke-width="0.7" />
<line x1="32.8" y1="473.0" x2="32.8" y2="474.5" stroke="#000" stroke-width="0.7" />
<line x1="36.7" y1="473.0" x2="36.7" y2="474.5" stroke="#000" stroke-width="0.7" />
<line x1="40.5" y1="473.0" x2="40.5" y2="474.5" stroke="#000" stroke-width="0.7" />
<line x1="44.4" y1="473.0" x2="44.4" y2="474.5" stroke="#000" stroke-width="0.7" />
<line x1="48.2" y1="473.0" x2="48.2" y2="474.5" stroke="#000" stroke-width="0.7" />
<line x1="52.1" y1="473.0" x2="52.1" y2="474.5" stroke="#000" stroke-width="0.7" />
<line x1="55.9" y1="473.0" x2="55.9" y2="474.5" stroke="#000" stroke-width="0.7" />
<line x1="59.8" y1="473.0" x2="59.8" y2="474.5" stroke="#000" stroke-width="0.7" />
<line x1="63.6" y1="473.0" x2="63.6" y2="474.5" stroke="#000" stroke-width="0.7" />
<line x1="67.5" y1="473.0" x2="67.5" y2="474.5" stroke="#000" stroke-width="0.7" />
<line x1="71.3" y1="473.0" x2="71.3" y2="474.5" stroke="#000" stroke-width="0.7" />
<line x1="75.2" y1="473.0" x2="75.2" y2="474.5" stroke="#000" stroke-width="0.7" />
<line x1="79.0" y1="473.0" x2="79.0" y2="474.5" stroke="#000" stroke-width="0.7" />
<line x1="82.9" y1="473.0" x2="82.9" y2="474.5" stroke="#000" stroke-width="0.7" />
<line x1="86.7" y1="473.0" x2="86.7" y2="474.5" stroke="#000" stroke-width="0.7" />
<line x1="90.6" y1="473.0" x2="90.6" y2="474.5" stroke="#000" stroke-width="0.7" />
<line x1="94.4" y1="473.0" x2="94.4" y2="474.5" stroke="#000" stroke-width="0.7" />
<line x1="98.3" y1="473.0" x2="98.3" y2="474.5" stroke="#000" stroke-width="0.7" />
<line x1="102.1" y1="473.0" x2="102.1" y2="474.5" stroke="#000" stroke-width="0.7" />
<line x1="106.0" y1="473.0" x2="106.0" y2="474.5" stroke="#000" stroke-width="0.7" />
<line x1="109.8" y1="473.0" x2="109.8" y2="474.5" stroke="#000" stroke-width="0.7" />
<text x="24.5" y="394.3" font-size="5.4" font-weight="bold" text-anchor="end" fill="#111" transform="rotate(-22 21.5 392.8)">10<tspan dy="-2" font-size="4.2">5</tspan></text>
<text x="24.5" y="413.7" font-size="5.4" font-weight="bold" text-anchor="end" fill="#111" transform="rotate(-22 21.5 412.2)">10<tspan dy="-2" font-size="4.2">4</tspan></text>
<text x="24.5" y="434.8" font-size="5.4" font-weight="bold" text-anchor="end" fill="#111" transform="rotate(-22 21.5 433.3)">10<tspan dy="-2" font-size="4.2">3</tspan></text>
<text x="24.5" y="454.7" font-size="5.4" font-weight="bold" text-anchor="end" fill="#111" transform="rotate(-22 21.5 453.2)">10<tspan dy="-2" font-size="4.2">2</tspan></text>
<text x="24.5" y="464.6" font-size="5.4" font-weight="bold" text-anchor="end" fill="#111" transform="rotate(-22 21.5 463.1)">0</text>
<text x="35.8" y="481.5" font-size="5.4" font-weight="bold" text-anchor="middle" fill="#111" >0</text>
<text x="44.3" y="481.5" font-size="5.4" font-weight="bold" text-anchor="middle" fill="#111" >10<tspan dy="-2" font-size="4.2">2</tspan></text>
<text x="64.5" y="481.5" font-size="5.4" font-weight="bold" text-anchor="middle" fill="#111" >10<tspan dy="-2" font-size="4.2">3</tspan></text>
<text x="84.8" y="481.5" font-size="5.4" font-weight="bold" text-anchor="middle" fill="#111" >10<tspan dy="-2" font-size="4.2">4</tspan></text>
<text x="102.8" y="481.5" font-size="5.4" font-weight="bold" text-anchor="middle" fill="#111" >10<tspan dy="-2" font-size="4.2">5</tspan></text>
<text x="28.5" y="393.0" font-size="7.5" font-weight="normal" text-anchor="start" fill="#222" >0.61</text>
<text x="110.8" y="393.0" font-size="7.5" font-weight="normal" text-anchor="end" fill="#222" >0.091</text>
<text x="28.5" y="471.0" font-size="7.5" font-weight="normal" text-anchor="start" fill="#222" >98.9</text>
<text x="110.8" y="471.0" font-size="7.5" font-weight="normal" text-anchor="end" fill="#222" >0.34</text>
<rect x="128.2" y="385.5" width="82.8" height="87.5" fill="none" stroke="#8a8a8a" stroke-width="0.8" />
<line x1="128.2" y1="385.5" x2="128.2" y2="474.0" stroke="#000" stroke-width="1.2" />
<line x1="127.2" y1="473.0" x2="211.0" y2="473.0" stroke="#000" stroke-width="1.2" />
<line x1="126.7" y1="387.5" x2="128.2" y2="387.5" stroke="#000" stroke-width="0.7" />
<line x1="126.7" y1="392.4" x2="128.2" y2="392.4" stroke="#000" stroke-width="0.7" />
<line x1="126.7" y1="397.3" x2="128.2" y2="397.3" stroke="#000" stroke-width="0.7" />
<line x1="126.7" y1="402.2" x2="128.2" y2="402.2" stroke="#000" stroke-width="0.7" />
<line x1="126.7" y1="407.1" x2="128.2" y2="407.1" stroke="#000" stroke-width="0.7" />
<line x1="126.7" y1="412.1" x2="128.2" y2="412.1" stroke="#000" stroke-width="0.7" />
<line x1="126.7" y1="417.0" x2="128.2" y2="417.0" stroke="#000" stroke-width="0.7" />
<line x1="126.7" y1="421.9" x2="128.2" y2="421.9" stroke="#000" stroke-width="0.7" />
<line x1="126.7" y1="426.8" x2="128.2" y2="426.8" stroke="#000" stroke-width="0.7" />
<line x1="126.7" y1="431.7" x2="128.2" y2="431.7" stroke="#000" stroke-width="0.7" />
<line x1="126.7" y1="436.6" x2="128.2" y2="436.6" stroke="#000" stroke-width="0.7" />
<line x1="126.7" y1="441.5" x2="128.2" y2="441.5" stroke="#000" stroke-width="0.7" />
<line x1="126.7" y1="446.4" x2="128.2" y2="446.4" stroke="#000" stroke-width="0.7" />
<line x1="126.7" y1="451.4" x2="128.2" y2="451.4" stroke="#000" stroke-width="0.7" />
<line x1="126.7" y1="456.3" x2="128.2" y2="456.3" stroke="#000" stroke-width="0.7" />
<line x1="126.7" y1="461.2" x2="128.2" y2="461.2" stroke="#000" stroke-width="0.7" />
<line x1="126.7" y1="466.1" x2="128.2" y2="466.1" stroke="#000" stroke-width="0.7" />
<line x1="126.7" y1="471.0" x2="128.2" y2="471.0" stroke="#000" stroke-width="0.7" />
<line x1="130.2" y1="473.0" x2="130.2" y2="474.5" stroke="#000" stroke-width="0.7" />
<line x1="134.0" y1="473.0" x2="134.0" y2="474.5" stroke="#000" stroke-width="0.7" />
<line x1="137.7" y1="473.0" x2="137.7" y2="474.5" stroke="#000" stroke-width="0.7" />
<line x1="141.5" y1="473.0" x2="141.5" y2="474.5" stroke="#000" stroke-width="0.7" />
<line x1="145.2" y1="473.0" x2="145.2" y2="474.5" stroke="#000" stroke-width="0.7" />
<line x1="149.0" y1="473.0" x2="149.0" y2="474.5" stroke="#000" stroke-width="0.7" />
<line x1="152.7" y1="473.0" x2="152.7" y2="474.5" stroke="#000" stroke-width="0.7" />
<line x1="156.5" y1="473.0" x2="156.5" y2="474.5" stroke="#000" stroke-width="0.7" />
<line x1="160.2" y1="473.0" x2="160.2" y2="474.5" stroke="#000" stroke-width="0.7" />
<line x1="164.0" y1="473.0" x2="164.0" y2="474.5" stroke="#000" stroke-width="0.7" />
<line x1="167.7" y1="473.0" x2="167.7" y2="474.5" stroke="#000" stroke-width="0.7" />
<line x1="171.5" y1="473.0" x2="171.5" y2="474.5" stroke="#000" stroke-width="0.7" />
<line x1="175.2" y1="473.0" x2="175.2" y2="474.5" stroke="#000" stroke-width="0.7" />
<line x1="179.0" y1="473.0" x2="179.0" y2="474.5" stroke="#000" stroke-width="0.7" />
<line x1="182.7" y1="473.0" x2="182.7" y2="474.5" stroke="#000" stroke-width="0.7" />
<line x1="186.5" y1="473.0" x2="186.5" y2="474.5" stroke="#000" stroke-width="0.7" />
<line x1="190.2" y1="473.0" x2="190.2" y2="474.5" stroke="#000" stroke-width="0.7" />
<line x1="194.0" y1="473.0" x2="194.0" y2="474.5" stroke="#000" stroke-width="0.7" />
<line x1="197.7" y1="473.0" x2="197.7" y2="474.5" stroke="#000" stroke-width="0.7" />
<line x1="201.5" y1="473.0" x2="201.5" y2="474.5" stroke="#000" stroke-width="0.7" />
<line x1="205.2" y1="473.0" x2="205.2" y2="474.5" stroke="#000" stroke-width="0.7" />
<line x1="209.0" y1="473.0" x2="209.0" y2="474.5" stroke="#000" stroke-width="0.7" />
<text x="125.7" y="394.3" font-size="5.4" font-weight="bold" text-anchor="end" fill="#111" transform="rotate(-22 122.7 392.8)">10<tspan dy="-2" font-size="4.2">5</tspan></text>
<text x="125.7" y="413.7" font-size="5.4" font-weight="bold" text-anchor="end" fill="#111" transform="rotate(-22 122.7 412.2)">10<tspan dy="-2" font-size="4.2">4</tspan></text>
<text x="125.7" y="434.8" font-size="5.4" font-weight="bold" text-anchor="end" fill="#111" transform="rotate(-22 122.7 433.3)">10<tspan dy="-2" font-size="4.2">3</tspan></text>
<text x="125.7" y="454.7" font-size="5.4" font-weight="bold" text-anchor="end" fill="#111" transform="rotate(-22 122.7 453.2)">10<tspan dy="-2" font-size="4.2">2</tspan></text>
<text x="125.7" y="464.6" font-size="5.4" font-weight="bold" text-anchor="end" fill="#111" transform="rotate(-22 122.7 463.1)">0</text>
<text x="136.8" y="481.5" font-size="5.4" font-weight="bold" text-anchor="middle" fill="#111" >0</text>
<text x="145.0" y="481.5" font-size="5.4" font-weight="bold" text-anchor="middle" fill="#111" >10<tspan dy="-2" font-size="4.2">2</tspan></text>
<text x="164.8" y="481.5" font-size="5.4" font-weight="bold" text-anchor="middle" fill="#111" >10<tspan dy="-2" font-size="4.2">3</tspan></text>
<text x="184.6" y="481.5" font-size="5.4" font-weight="bold" text-anchor="middle" fill="#111" >10<tspan dy="-2" font-size="4.2">4</tspan></text>
<text x="202.2" y="481.5" font-size="5.4" font-weight="bold" text-anchor="middle" fill="#111" >10<tspan dy="-2" font-size="4.2">5</tspan></text>
<text x="129.7" y="393.0" font-size="7.5" font-weight="normal" text-anchor="start" fill="#222" >1.37</text>
<text x="210.0" y="393.0" font-size="7.5" font-weight="normal" text-anchor="end" fill="#222" >0</text>
<text x="129.7" y="471.0" font-size="7.5" font-weight="normal" text-anchor="start" fill="#222" >98.6</text>
<text x="210.0" y="471.0" font-size="7.5" font-weight="normal" text-anchor="end" fill="#222" >0</text>
<rect x="229.0" y="385.5" width="83.0" height="87.5" fill="none" stroke="#8a8a8a" stroke-width="0.8" />
<line x1="229.0" y1="385.5" x2="229.0" y2="474.0" stroke="#000" stroke-width="1.2" />
<line x1="228.0" y1="473.0" x2="312.0" y2="473.0" stroke="#000" stroke-width="1.2" />
<line x1="227.5" y1="387.5" x2="229.0" y2="387.5" stroke="#000" stroke-width="0.7" />
<line x1="227.5" y1="392.4" x2="229.0" y2="392.4" stroke="#000" stroke-width="0.7" />
<line x1="227.5" y1="397.3" x2="229.0" y2="397.3" stroke="#000" stroke-width="0.7" />
<line x1="227.5" y1="402.2" x2="229.0" y2="402.2" stroke="#000" stroke-width="0.7" />
<line x1="227.5" y1="407.1" x2="229.0" y2="407.1" stroke="#000" stroke-width="0.7" />
<line x1="227.5" y1="412.1" x2="229.0" y2="412.1" stroke="#000" stroke-width="0.7" />
<line x1="227.5" y1="417.0" x2="229.0" y2="417.0" stroke="#000" stroke-width="0.7" />
<line x1="227.5" y1="421.9" x2="229.0" y2="421.9" stroke="#000" stroke-width="0.7" />
<line x1="227.5" y1="426.8" x2="229.0" y2="426.8" stroke="#000" stroke-width="0.7" />
<line x1="227.5" y1="431.7" x2="229.0" y2="431.7" stroke="#000" stroke-width="0.7" />
<line x1="227.5" y1="436.6" x2="229.0" y2="436.6" stroke="#000" stroke-width="0.7" />
<line x1="227.5" y1="441.5" x2="229.0" y2="441.5" stroke="#000" stroke-width="0.7" />
<line x1="227.5" y1="446.4" x2="229.0" y2="446.4" stroke="#000" stroke-width="0.7" />
<line x1="227.5" y1="451.4" x2="229.0" y2="451.4" stroke="#000" stroke-width="0.7" />
<line x1="227.5" y1="456.3" x2="229.0" y2="456.3" stroke="#000" stroke-width="0.7" />
<line x1="227.5" y1="461.2" x2="229.0" y2="461.2" stroke="#000" stroke-width="0.7" />
<line x1="227.5" y1="466.1" x2="229.0" y2="466.1" stroke="#000" stroke-width="0.7" />
<line x1="227.5" y1="471.0" x2="229.0" y2="471.0" stroke="#000" stroke-width="0.7" />
<line x1="231.0" y1="473.0" x2="231.0" y2="474.5" stroke="#000" stroke-width="0.7" />
<line x1="234.8" y1="473.0" x2="234.8" y2="474.5" stroke="#000" stroke-width="0.7" />
<line x1="238.5" y1="473.0" x2="238.5" y2="474.5" stroke="#000" stroke-width="0.7" />
<line x1="242.3" y1="473.0" x2="242.3" y2="474.5" stroke="#000" stroke-width="0.7" />
<line x1="246.0" y1="473.0" x2="246.0" y2="474.5" stroke="#000" stroke-width="0.7" />
<line x1="249.8" y1="473.0" x2="249.8" y2="474.5" stroke="#000" stroke-width="0.7" />
<line x1="253.6" y1="473.0" x2="253.6" y2="474.5" stroke="#000" stroke-width="0.7" />
<line x1="257.3" y1="473.0" x2="257.3" y2="474.5" stroke="#000" stroke-width="0.7" />
<line x1="261.1" y1="473.0" x2="261.1" y2="474.5" stroke="#000" stroke-width="0.7" />
<line x1="264.9" y1="473.0" x2="264.9" y2="474.5" stroke="#000" stroke-width="0.7" />
<line x1="268.6" y1="473.0" x2="268.6" y2="474.5" stroke="#000" stroke-width="0.7" />
<line x1="272.4" y1="473.0" x2="272.4" y2="474.5" stroke="#000" stroke-width="0.7" />
<line x1="276.1" y1="473.0" x2="276.1" y2="474.5" stroke="#000" stroke-width="0.7" />
<line x1="279.9" y1="473.0" x2="279.9" y2="474.5" stroke="#000" stroke-width="0.7" />
<line x1="283.7" y1="473.0" x2="283.7" y2="474.5" stroke="#000" stroke-width="0.7" />
<line x1="287.4" y1="473.0" x2="287.4" y2="474.5" stroke="#000" stroke-width="0.7" />
<line x1="291.2" y1="473.0" x2="291.2" y2="474.5" stroke="#000" stroke-width="0.7" />
<line x1="295.0" y1="473.0" x2="295.0" y2="474.5" stroke="#000" stroke-width="0.7" />
<line x1="298.7" y1="473.0" x2="298.7" y2="474.5" stroke="#000" stroke-width="0.7" />
<line x1="302.5" y1="473.0" x2="302.5" y2="474.5" stroke="#000" stroke-width="0.7" />
<line x1="306.2" y1="473.0" x2="306.2" y2="474.5" stroke="#000" stroke-width="0.7" />
<line x1="310.0" y1="473.0" x2="310.0" y2="474.5" stroke="#000" stroke-width="0.7" />
<text x="226.5" y="394.3" font-size="5.4" font-weight="bold" text-anchor="end" fill="#111" transform="rotate(-22 223.5 392.8)">10<tspan dy="-2" font-size="4.2">5</tspan></text>
<text x="226.5" y="413.7" font-size="5.4" font-weight="bold" text-anchor="end" fill="#111" transform="rotate(-22 223.5 412.2)">10<tspan dy="-2" font-size="4.2">4</tspan></text>
<text x="226.5" y="434.8" font-size="5.4" font-weight="bold" text-anchor="end" fill="#111" transform="rotate(-22 223.5 433.3)">10<tspan dy="-2" font-size="4.2">3</tspan></text>
<text x="226.5" y="454.7" font-size="5.4" font-weight="bold" text-anchor="end" fill="#111" transform="rotate(-22 223.5 453.2)">10<tspan dy="-2" font-size="4.2">2</tspan></text>
<text x="226.5" y="464.6" font-size="5.4" font-weight="bold" text-anchor="end" fill="#111" transform="rotate(-22 223.5 463.1)">0</text>
<text x="237.6" y="481.5" font-size="5.4" font-weight="bold" text-anchor="middle" fill="#111" >0</text>
<text x="245.9" y="481.5" font-size="5.4" font-weight="bold" text-anchor="middle" fill="#111" >10<tspan dy="-2" font-size="4.2">2</tspan></text>
<text x="265.7" y="481.5" font-size="5.4" font-weight="bold" text-anchor="middle" fill="#111" >10<tspan dy="-2" font-size="4.2">3</tspan></text>
<text x="285.6" y="481.5" font-size="5.4" font-weight="bold" text-anchor="middle" fill="#111" >10<tspan dy="-2" font-size="4.2">4</tspan></text>
<text x="303.2" y="481.5" font-size="5.4" font-weight="bold" text-anchor="middle" fill="#111" >10<tspan dy="-2" font-size="4.2">5</tspan></text>
<text x="230.5" y="393.0" font-size="7.5" font-weight="normal" text-anchor="start" fill="#222" >0</text>
<text x="311.0" y="393.0" font-size="7.5" font-weight="normal" text-anchor="end" fill="#222" >0</text>
<text x="230.5" y="471.0" font-size="7.5" font-weight="normal" text-anchor="start" fill="#222" >100</text>
<text x="311.0" y="471.0" font-size="7.5" font-weight="normal" text-anchor="end" fill="#222" >0</text>
<rect x="329.4" y="385.5" width="84.8" height="87.5" fill="none" stroke="#8a8a8a" stroke-width="0.8" />
<line x1="329.4" y1="385.5" x2="329.4" y2="474.0" stroke="#000" stroke-width="1.2" />
<line x1="328.4" y1="473.0" x2="414.2" y2="473.0" stroke="#000" stroke-width="1.2" />
<line x1="327.9" y1="387.5" x2="329.4" y2="387.5" stroke="#000" stroke-width="0.7" />
<line x1="327.9" y1="392.4" x2="329.4" y2="392.4" stroke="#000" stroke-width="0.7" />
<line x1="327.9" y1="397.3" x2="329.4" y2="397.3" stroke="#000" stroke-width="0.7" />
<line x1="327.9" y1="402.2" x2="329.4" y2="402.2" stroke="#000" stroke-width="0.7" />
<line x1="327.9" y1="407.1" x2="329.4" y2="407.1" stroke="#000" stroke-width="0.7" />
<line x1="327.9" y1="412.1" x2="329.4" y2="412.1" stroke="#000" stroke-width="0.7" />
<line x1="327.9" y1="417.0" x2="329.4" y2="417.0" stroke="#000" stroke-width="0.7" />
<line x1="327.9" y1="421.9" x2="329.4" y2="421.9" stroke="#000" stroke-width="0.7" />
<line x1="327.9" y1="426.8" x2="329.4" y2="426.8" stroke="#000" stroke-width="0.7" />
<line x1="327.9" y1="431.7" x2="329.4" y2="431.7" stroke="#000" stroke-width="0.7" />
<line x1="327.9" y1="436.6" x2="329.4" y2="436.6" stroke="#000" stroke-width="0.7" />
<line x1="327.9" y1="441.5" x2="329.4" y2="441.5" stroke="#000" stroke-width="0.7" />
<line x1="327.9" y1="446.4" x2="329.4" y2="446.4" stroke="#000" stroke-width="0.7" />
<line x1="327.9" y1="451.4" x2="329.4" y2="451.4" stroke="#000" stroke-width="0.7" />
<line x1="327.9" y1="456.3" x2="329.4" y2="456.3" stroke="#000" stroke-width="0.7" />
<line x1="327.9" y1="461.2" x2="329.4" y2="461.2" stroke="#000" stroke-width="0.7" />
<line x1="327.9" y1="466.1" x2="329.4" y2="466.1" stroke="#000" stroke-width="0.7" />
<line x1="327.9" y1="471.0" x2="329.4" y2="471.0" stroke="#000" stroke-width="0.7" />
<line x1="331.4" y1="473.0" x2="331.4" y2="474.5" stroke="#000" stroke-width="0.7" />
<line x1="335.2" y1="473.0" x2="335.2" y2="474.5" stroke="#000" stroke-width="0.7" />
<line x1="339.1" y1="473.0" x2="339.1" y2="474.5" stroke="#000" stroke-width="0.7" />
<line x1="342.9" y1="473.0" x2="342.9" y2="474.5" stroke="#000" stroke-width="0.7" />
<line x1="346.8" y1="473.0" x2="346.8" y2="474.5" stroke="#000" stroke-width="0.7" />
<line x1="350.6" y1="473.0" x2="350.6" y2="474.5" stroke="#000" stroke-width="0.7" />
<line x1="354.5" y1="473.0" x2="354.5" y2="474.5" stroke="#000" stroke-width="0.7" />
<line x1="358.3" y1="473.0" x2="358.3" y2="474.5" stroke="#000" stroke-width="0.7" />
<line x1="362.2" y1="473.0" x2="362.2" y2="474.5" stroke="#000" stroke-width="0.7" />
<line x1="366.0" y1="473.0" x2="366.0" y2="474.5" stroke="#000" stroke-width="0.7" />
<line x1="369.9" y1="473.0" x2="369.9" y2="474.5" stroke="#000" stroke-width="0.7" />
<line x1="373.7" y1="473.0" x2="373.7" y2="474.5" stroke="#000" stroke-width="0.7" />
<line x1="377.6" y1="473.0" x2="377.6" y2="474.5" stroke="#000" stroke-width="0.7" />
<line x1="381.4" y1="473.0" x2="381.4" y2="474.5" stroke="#000" stroke-width="0.7" />
<line x1="385.3" y1="473.0" x2="385.3" y2="474.5" stroke="#000" stroke-width="0.7" />
<line x1="389.1" y1="473.0" x2="389.1" y2="474.5" stroke="#000" stroke-width="0.7" />
<line x1="393.0" y1="473.0" x2="393.0" y2="474.5" stroke="#000" stroke-width="0.7" />
<line x1="396.8" y1="473.0" x2="396.8" y2="474.5" stroke="#000" stroke-width="0.7" />
<line x1="400.7" y1="473.0" x2="400.7" y2="474.5" stroke="#000" stroke-width="0.7" />
<line x1="404.5" y1="473.0" x2="404.5" y2="474.5" stroke="#000" stroke-width="0.7" />
<line x1="408.4" y1="473.0" x2="408.4" y2="474.5" stroke="#000" stroke-width="0.7" />
<line x1="412.2" y1="473.0" x2="412.2" y2="474.5" stroke="#000" stroke-width="0.7" />
<text x="326.9" y="394.3" font-size="5.4" font-weight="bold" text-anchor="end" fill="#111" transform="rotate(-22 323.9 392.8)">10<tspan dy="-2" font-size="4.2">5</tspan></text>
<text x="326.9" y="413.7" font-size="5.4" font-weight="bold" text-anchor="end" fill="#111" transform="rotate(-22 323.9 412.2)">10<tspan dy="-2" font-size="4.2">4</tspan></text>
<text x="326.9" y="434.8" font-size="5.4" font-weight="bold" text-anchor="end" fill="#111" transform="rotate(-22 323.9 433.3)">10<tspan dy="-2" font-size="4.2">3</tspan></text>
<text x="326.9" y="454.7" font-size="5.4" font-weight="bold" text-anchor="end" fill="#111" transform="rotate(-22 323.9 453.2)">10<tspan dy="-2" font-size="4.2">2</tspan></text>
<text x="326.9" y="464.6" font-size="5.4" font-weight="bold" text-anchor="end" fill="#111" transform="rotate(-22 323.9 463.1)">0</text>
<text x="338.2" y="481.5" font-size="5.4" font-weight="bold" text-anchor="middle" fill="#111" >0</text>
<text x="346.7" y="481.5" font-size="5.4" font-weight="bold" text-anchor="middle" fill="#111" >10<tspan dy="-2" font-size="4.2">2</tspan></text>
<text x="366.9" y="481.5" font-size="5.4" font-weight="bold" text-anchor="middle" fill="#111" >10<tspan dy="-2" font-size="4.2">3</tspan></text>
<text x="387.2" y="481.5" font-size="5.4" font-weight="bold" text-anchor="middle" fill="#111" >10<tspan dy="-2" font-size="4.2">4</tspan></text>
<text x="405.2" y="481.5" font-size="5.4" font-weight="bold" text-anchor="middle" fill="#111" >10<tspan dy="-2" font-size="4.2">5</tspan></text>
<text x="330.9" y="393.0" font-size="7.5" font-weight="normal" text-anchor="start" fill="#222" >0.31</text>
<text x="413.2" y="393.0" font-size="7.5" font-weight="normal" text-anchor="end" fill="#222" >0</text>
<text x="330.9" y="471.0" font-size="7.5" font-weight="normal" text-anchor="start" fill="#222" >99.7</text>
<text x="413.2" y="471.0" font-size="7.5" font-weight="normal" text-anchor="end" fill="#222" >0</text>
<rect x="430.4" y="385.5" width="81.6" height="87.5" fill="none" stroke="#8a8a8a" stroke-width="0.8" />
<line x1="430.4" y1="385.5" x2="430.4" y2="474.0" stroke="#000" stroke-width="1.2" />
<line x1="429.4" y1="473.0" x2="512.0" y2="473.0" stroke="#000" stroke-width="1.2" />
<line x1="428.9" y1="387.5" x2="430.4" y2="387.5" stroke="#000" stroke-width="0.7" />
<line x1="428.9" y1="392.4" x2="430.4" y2="392.4" stroke="#000" stroke-width="0.7" />
<line x1="428.9" y1="397.3" x2="430.4" y2="397.3" stroke="#000" stroke-width="0.7" />
<line x1="428.9" y1="402.2" x2="430.4" y2="402.2" stroke="#000" stroke-width="0.7" />
<line x1="428.9" y1="407.1" x2="430.4" y2="407.1" stroke="#000" stroke-width="0.7" />
<line x1="428.9" y1="412.1" x2="430.4" y2="412.1" stroke="#000" stroke-width="0.7" />
<line x1="428.9" y1="417.0" x2="430.4" y2="417.0" stroke="#000" stroke-width="0.7" />
<line x1="428.9" y1="421.9" x2="430.4" y2="421.9" stroke="#000" stroke-width="0.7" />
<line x1="428.9" y1="426.8" x2="430.4" y2="426.8" stroke="#000" stroke-width="0.7" />
<line x1="428.9" y1="431.7" x2="430.4" y2="431.7" stroke="#000" stroke-width="0.7" />
<line x1="428.9" y1="436.6" x2="430.4" y2="436.6" stroke="#000" stroke-width="0.7" />
<line x1="428.9" y1="441.5" x2="430.4" y2="441.5" stroke="#000" stroke-width="0.7" />
<line x1="428.9" y1="446.4" x2="430.4" y2="446.4" stroke="#000" stroke-width="0.7" />
<line x1="428.9" y1="451.4" x2="430.4" y2="451.4" stroke="#000" stroke-width="0.7" />
<line x1="428.9" y1="456.3" x2="430.4" y2="456.3" stroke="#000" stroke-width="0.7" />
<line x1="428.9" y1="461.2" x2="430.4" y2="461.2" stroke="#000" stroke-width="0.7" />
<line x1="428.9" y1="466.1" x2="430.4" y2="466.1" stroke="#000" stroke-width="0.7" />
<line x1="428.9" y1="471.0" x2="430.4" y2="471.0" stroke="#000" stroke-width="0.7" />
<line x1="432.4" y1="473.0" x2="432.4" y2="474.5" stroke="#000" stroke-width="0.7" />
<line x1="436.1" y1="473.0" x2="436.1" y2="474.5" stroke="#000" stroke-width="0.7" />
<line x1="439.8" y1="473.0" x2="439.8" y2="474.5" stroke="#000" stroke-width="0.7" />
<line x1="443.5" y1="473.0" x2="443.5" y2="474.5" stroke="#000" stroke-width="0.7" />
<line x1="447.2" y1="473.0" x2="447.2" y2="474.5" stroke="#000" stroke-width="0.7" />
<line x1="450.9" y1="473.0" x2="450.9" y2="474.5" stroke="#000" stroke-width="0.7" />
<line x1="454.6" y1="473.0" x2="454.6" y2="474.5" stroke="#000" stroke-width="0.7" />
<line x1="458.3" y1="473.0" x2="458.3" y2="474.5" stroke="#000" stroke-width="0.7" />
<line x1="462.0" y1="473.0" x2="462.0" y2="474.5" stroke="#000" stroke-width="0.7" />
<line x1="465.7" y1="473.0" x2="465.7" y2="474.5" stroke="#000" stroke-width="0.7" />
<line x1="469.4" y1="473.0" x2="469.4" y2="474.5" stroke="#000" stroke-width="0.7" />
<line x1="473.0" y1="473.0" x2="473.0" y2="474.5" stroke="#000" stroke-width="0.7" />
<line x1="476.7" y1="473.0" x2="476.7" y2="474.5" stroke="#000" stroke-width="0.7" />
<line x1="480.4" y1="473.0" x2="480.4" y2="474.5" stroke="#000" stroke-width="0.7" />
<line x1="484.1" y1="473.0" x2="484.1" y2="474.5" stroke="#000" stroke-width="0.7" />
<line x1="487.8" y1="473.0" x2="487.8" y2="474.5" stroke="#000" stroke-width="0.7" />
<line x1="491.5" y1="473.0" x2="491.5" y2="474.5" stroke="#000" stroke-width="0.7" />
<line x1="495.2" y1="473.0" x2="495.2" y2="474.5" stroke="#000" stroke-width="0.7" />
<line x1="498.9" y1="473.0" x2="498.9" y2="474.5" stroke="#000" stroke-width="0.7" />
<line x1="502.6" y1="473.0" x2="502.6" y2="474.5" stroke="#000" stroke-width="0.7" />
<line x1="506.3" y1="473.0" x2="506.3" y2="474.5" stroke="#000" stroke-width="0.7" />
<line x1="510.0" y1="473.0" x2="510.0" y2="474.5" stroke="#000" stroke-width="0.7" />
<text x="427.9" y="394.3" font-size="5.4" font-weight="bold" text-anchor="end" fill="#111" transform="rotate(-22 424.9 392.8)">10<tspan dy="-2" font-size="4.2">5</tspan></text>
<text x="427.9" y="413.7" font-size="5.4" font-weight="bold" text-anchor="end" fill="#111" transform="rotate(-22 424.9 412.2)">10<tspan dy="-2" font-size="4.2">4</tspan></text>
<text x="427.9" y="434.8" font-size="5.4" font-weight="bold" text-anchor="end" fill="#111" transform="rotate(-22 424.9 433.3)">10<tspan dy="-2" font-size="4.2">3</tspan></text>
<text x="427.9" y="454.7" font-size="5.4" font-weight="bold" text-anchor="end" fill="#111" transform="rotate(-22 424.9 453.2)">10<tspan dy="-2" font-size="4.2">2</tspan></text>
<text x="427.9" y="464.6" font-size="5.4" font-weight="bold" text-anchor="end" fill="#111" transform="rotate(-22 424.9 463.1)">0</text>
<text x="438.8" y="481.5" font-size="5.4" font-weight="bold" text-anchor="middle" fill="#111" >0</text>
<text x="447.0" y="481.5" font-size="5.4" font-weight="bold" text-anchor="middle" fill="#111" >10<tspan dy="-2" font-size="4.2">2</tspan></text>
<text x="466.5" y="481.5" font-size="5.4" font-weight="bold" text-anchor="middle" fill="#111" >10<tspan dy="-2" font-size="4.2">3</tspan></text>
<text x="486.0" y="481.5" font-size="5.4" font-weight="bold" text-anchor="middle" fill="#111" >10<tspan dy="-2" font-size="4.2">4</tspan></text>
<text x="503.4" y="481.5" font-size="5.4" font-weight="bold" text-anchor="middle" fill="#111" >10<tspan dy="-2" font-size="4.2">5</tspan></text>
<text x="431.9" y="393.0" font-size="7.5" font-weight="normal" text-anchor="start" fill="#222" >0</text>
<text x="511.0" y="393.0" font-size="7.5" font-weight="normal" text-anchor="end" fill="#222" >0</text>
<text x="431.9" y="471.0" font-size="7.5" font-weight="normal" text-anchor="start" fill="#222" >100</text>
<text x="511.0" y="471.0" font-size="7.5" font-weight="normal" text-anchor="end" fill="#222" >0</text>
<rect x="27.0" y="487.5" width="84.8" height="87.5" fill="none" stroke="#8a8a8a" stroke-width="0.8" />
<line x1="27.0" y1="487.5" x2="27.0" y2="576.0" stroke="#000" stroke-width="1.2" />
<line x1="26.0" y1="575.0" x2="111.8" y2="575.0" stroke="#000" stroke-width="1.2" />
<line x1="25.5" y1="489.5" x2="27.0" y2="489.5" stroke="#000" stroke-width="0.7" />
<line x1="25.5" y1="494.4" x2="27.0" y2="494.4" stroke="#000" stroke-width="0.7" />
<line x1="25.5" y1="499.3" x2="27.0" y2="499.3" stroke="#000" stroke-width="0.7" />
<line x1="25.5" y1="504.2" x2="27.0" y2="504.2" stroke="#000" stroke-width="0.7" />
<line x1="25.5" y1="509.1" x2="27.0" y2="509.1" stroke="#000" stroke-width="0.7" />
<line x1="25.5" y1="514.1" x2="27.0" y2="514.1" stroke="#000" stroke-width="0.7" />
<line x1="25.5" y1="519.0" x2="27.0" y2="519.0" stroke="#000" stroke-width="0.7" />
<line x1="25.5" y1="523.9" x2="27.0" y2="523.9" stroke="#000" stroke-width="0.7" />
<line x1="25.5" y1="528.8" x2="27.0" y2="528.8" stroke="#000" stroke-width="0.7" />
<line x1="25.5" y1="533.7" x2="27.0" y2="533.7" stroke="#000" stroke-width="0.7" />
<line x1="25.5" y1="538.6" x2="27.0" y2="538.6" stroke="#000" stroke-width="0.7" />
<line x1="25.5" y1="543.5" x2="27.0" y2="543.5" stroke="#000" stroke-width="0.7" />
<line x1="25.5" y1="548.4" x2="27.0" y2="548.4" stroke="#000" stroke-width="0.7" />
<line x1="25.5" y1="553.4" x2="27.0" y2="553.4" stroke="#000" stroke-width="0.7" />
<line x1="25.5" y1="558.3" x2="27.0" y2="558.3" stroke="#000" stroke-width="0.7" />
<line x1="25.5" y1="563.2" x2="27.0" y2="563.2" stroke="#000" stroke-width="0.7" />
<line x1="25.5" y1="568.1" x2="27.0" y2="568.1" stroke="#000" stroke-width="0.7" />
<line x1="25.5" y1="573.0" x2="27.0" y2="573.0" stroke="#000" stroke-width="0.7" />
<line x1="29.0" y1="575.0" x2="29.0" y2="576.5" stroke="#000" stroke-width="0.7" />
<line x1="32.8" y1="575.0" x2="32.8" y2="576.5" stroke="#000" stroke-width="0.7" />
<line x1="36.7" y1="575.0" x2="36.7" y2="576.5" stroke="#000" stroke-width="0.7" />
<line x1="40.5" y1="575.0" x2="40.5" y2="576.5" stroke="#000" stroke-width="0.7" />
<line x1="44.4" y1="575.0" x2="44.4" y2="576.5" stroke="#000" stroke-width="0.7" />
<line x1="48.2" y1="575.0" x2="48.2" y2="576.5" stroke="#000" stroke-width="0.7" />
<line x1="52.1" y1="575.0" x2="52.1" y2="576.5" stroke="#000" stroke-width="0.7" />
<line x1="55.9" y1="575.0" x2="55.9" y2="576.5" stroke="#000" stroke-width="0.7" />
<line x1="59.8" y1="575.0" x2="59.8" y2="576.5" stroke="#000" stroke-width="0.7" />
<line x1="63.6" y1="575.0" x2="63.6" y2="576.5" stroke="#000" stroke-width="0.7" />
<line x1="67.5" y1="575.0" x2="67.5" y2="576.5" stroke="#000" stroke-width="0.7" />
<line x1="71.3" y1="575.0" x2="71.3" y2="576.5" stroke="#000" stroke-width="0.7" />
<line x1="75.2" y1="575.0" x2="75.2" y2="576.5" stroke="#000" stroke-width="0.7" />
<line x1="79.0" y1="575.0" x2="79.0" y2="576.5" stroke="#000" stroke-width="0.7" />
<line x1="82.9" y1="575.0" x2="82.9" y2="576.5" stroke="#000" stroke-width="0.7" />
<line x1="86.7" y1="575.0" x2="86.7" y2="576.5" stroke="#000" stroke-width="0.7" />
<line x1="90.6" y1="575.0" x2="90.6" y2="576.5" stroke="#000" stroke-width="0.7" />
<line x1="94.4" y1="575.0" x2="94.4" y2="576.5" stroke="#000" stroke-width="0.7" />
<line x1="98.3" y1="575.0" x2="98.3" y2="576.5" stroke="#000" stroke-width="0.7" />
<line x1="102.1" y1="575.0" x2="102.1" y2="576.5" stroke="#000" stroke-width="0.7" />
<line x1="106.0" y1="575.0" x2="106.0" y2="576.5" stroke="#000" stroke-width="0.7" />
<line x1="109.8" y1="575.0" x2="109.8" y2="576.5" stroke="#000" stroke-width="0.7" />
<text x="24.5" y="496.3" font-size="5.4" font-weight="bold" text-anchor="end" fill="#111" transform="rotate(-22 21.5 494.8)">10<tspan dy="-2" font-size="4.2">5</tspan></text>
<text x="24.5" y="515.7" font-size="5.4" font-weight="bold" text-anchor="end" fill="#111" transform="rotate(-22 21.5 514.2)">10<tspan dy="-2" font-size="4.2">4</tspan></text>
<text x="24.5" y="536.8" font-size="5.4" font-weight="bold" text-anchor="end" fill="#111" transform="rotate(-22 21.5 535.3)">10<tspan dy="-2" font-size="4.2">3</tspan></text>
<text x="24.5" y="556.7" font-size="5.4" font-weight="bold" text-anchor="end" fill="#111" transform="rotate(-22 21.5 555.2)">10<tspan dy="-2" font-size="4.2">2</tspan></text>
<text x="24.5" y="566.6" font-size="5.4" font-weight="bold" text-anchor="end" fill="#111" transform="rotate(-22 21.5 565.1)">0</text>
<text x="35.8" y="583.5" font-size="5.4" font-weight="bold" text-anchor="middle" fill="#111" >0</text>
<text x="44.3" y="583.5" font-size="5.4" font-weight="bold" text-anchor="middle" fill="#111" >10<tspan dy="-2" font-size="4.2">2</tspan></text>
<text x="64.5" y="583.5" font-size="5.4" font-weight="bold" text-anchor="middle" fill="#111" >10<tspan dy="-2" font-size="4.2">3</tspan></text>
<text x="84.8" y="583.5" font-size="5.4" font-weight="bold" text-anchor="middle" fill="#111" >10<tspan dy="-2" font-size="4.2">4</tspan></text>
<text x="102.8" y="583.5" font-size="5.4" font-weight="bold" text-anchor="middle" fill="#111" >10<tspan dy="-2" font-size="4.2">5</tspan></text>
<text x="28.5" y="495.0" font-size="7.5" font-weight="normal" text-anchor="start" fill="#222" >1.79</text>
<text x="110.8" y="495.0" font-size="7.5" font-weight="normal" text-anchor="end" fill="#222" >18.6</text>
<text x="28.5" y="573.0" font-size="7.5" font-weight="normal" text-anchor="start" fill="#222" >13.1</text>
<text x="110.8" y="573.0" font-size="7.5" font-weight="normal" text-anchor="end" fill="#222" >66.6</text>
<rect x="128.2" y="487.5" width="82.8" height="87.5" fill="none" stroke="#8a8a8a" stroke-width="0.8" />
<line x1="128.2" y1="487.5" x2="128.2" y2="576.0" stroke="#000" stroke-width="1.2" />
<line x1="127.2" y1="575.0" x2="211.0" y2="575.0" stroke="#000" stroke-width="1.2" />
<line x1="126.7" y1="489.5" x2="128.2" y2="489.5" stroke="#000" stroke-width="0.7" />
<line x1="126.7" y1="494.4" x2="128.2" y2="494.4" stroke="#000" stroke-width="0.7" />
<line x1="126.7" y1="499.3" x2="128.2" y2="499.3" stroke="#000" stroke-width="0.7" />
<line x1="126.7" y1="504.2" x2="128.2" y2="504.2" stroke="#000" stroke-width="0.7" />
<line x1="126.7" y1="509.1" x2="128.2" y2="509.1" stroke="#000" stroke-width="0.7" />
<line x1="126.7" y1="514.1" x2="128.2" y2="514.1" stroke="#000" stroke-width="0.7" />
<line x1="126.7" y1="519.0" x2="128.2" y2="519.0" stroke="#000" stroke-width="0.7" />
<line x1="126.7" y1="523.9" x2="128.2" y2="523.9" stroke="#000" stroke-width="0.7" />
<line x1="126.7" y1="528.8" x2="128.2" y2="528.8" stroke="#000" stroke-width="0.7" />
<line x1="126.7" y1="533.7" x2="128.2" y2="533.7" stroke="#000" stroke-width="0.7" />
<line x1="126.7" y1="538.6" x2="128.2" y2="538.6" stroke="#000" stroke-width="0.7" />
<line x1="126.7" y1="543.5" x2="128.2" y2="543.5" stroke="#000" stroke-width="0.7" />
<line x1="126.7" y1="548.4" x2="128.2" y2="548.4" stroke="#000" stroke-width="0.7" />
<line x1="126.7" y1="553.4" x2="128.2" y2="553.4" stroke="#000" stroke-width="0.7" />
<line x1="126.7" y1="558.3" x2="128.2" y2="558.3" stroke="#000" stroke-width="0.7" />
<line x1="126.7" y1="563.2" x2="128.2" y2="563.2" stroke="#000" stroke-width="0.7" />
<line x1="126.7" y1="568.1" x2="128.2" y2="568.1" stroke="#000" stroke-width="0.7" />
<line x1="126.7" y1="573.0" x2="128.2" y2="573.0" stroke="#000" stroke-width="0.7" />
<line x1="130.2" y1="575.0" x2="130.2" y2="576.5" stroke="#000" stroke-width="0.7" />
<line x1="134.0" y1="575.0" x2="134.0" y2="576.5" stroke="#000" stroke-width="0.7" />
<line x1="137.7" y1="575.0" x2="137.7" y2="576.5" stroke="#000" stroke-width="0.7" />
<line x1="141.5" y1="575.0" x2="141.5" y2="576.5" stroke="#000" stroke-width="0.7" />
<line x1="145.2" y1="575.0" x2="145.2" y2="576.5" stroke="#000" stroke-width="0.7" />
<line x1="149.0" y1="575.0" x2="149.0" y2="576.5" stroke="#000" stroke-width="0.7" />
<line x1="152.7" y1="575.0" x2="152.7" y2="576.5" stroke="#000" stroke-width="0.7" />
<line x1="156.5" y1="575.0" x2="156.5" y2="576.5" stroke="#000" stroke-width="0.7" />
<line x1="160.2" y1="575.0" x2="160.2" y2="576.5" stroke="#000" stroke-width="0.7" />
<line x1="164.0" y1="575.0" x2="164.0" y2="576.5" stroke="#000" stroke-width="0.7" />
<line x1="167.7" y1="575.0" x2="167.7" y2="576.5" stroke="#000" stroke-width="0.7" />
<line x1="171.5" y1="575.0" x2="171.5" y2="576.5" stroke="#000" stroke-width="0.7" />
<line x1="175.2" y1="575.0" x2="175.2" y2="576.5" stroke="#000" stroke-width="0.7" />
<line x1="179.0" y1="575.0" x2="179.0" y2="576.5" stroke="#000" stroke-width="0.7" />
<line x1="182.7" y1="575.0" x2="182.7" y2="576.5" stroke="#000" stroke-width="0.7" />
<line x1="186.5" y1="575.0" x2="186.5" y2="576.5" stroke="#000" stroke-width="0.7" />
<line x1="190.2" y1="575.0" x2="190.2" y2="576.5" stroke="#000" stroke-width="0.7" />
<line x1="194.0" y1="575.0" x2="194.0" y2="576.5" stroke="#000" stroke-width="0.7" />
<line x1="197.7" y1="575.0" x2="197.7" y2="576.5" stroke="#000" stroke-width="0.7" />
<line x1="201.5" y1="575.0" x2="201.5" y2="576.5" stroke="#000" stroke-width="0.7" />
<line x1="205.2" y1="575.0" x2="205.2" y2="576.5" stroke="#000" stroke-width="0.7" />
<line x1="209.0" y1="575.0" x2="209.0" y2="576.5" stroke="#000" stroke-width="0.7" />
<text x="125.7" y="496.3" font-size="5.4" font-weight="bold" text-anchor="end" fill="#111" transform="rotate(-22 122.7 494.8)">10<tspan dy="-2" font-size="4.2">5</tspan></text>
<text x="125.7" y="515.7" font-size="5.4" font-weight="bold" text-anchor="end" fill="#111" transform="rotate(-22 122.7 514.2)">10<tspan dy="-2" font-size="4.2">4</tspan></text>
<text x="125.7" y="536.8" font-size="5.4" font-weight="bold" text-anchor="end" fill="#111" transform="rotate(-22 122.7 535.3)">10<tspan dy="-2" font-size="4.2">3</tspan></text>
<text x="125.7" y="556.7" font-size="5.4" font-weight="bold" text-anchor="end" fill="#111" transform="rotate(-22 122.7 555.2)">10<tspan dy="-2" font-size="4.2">2</tspan></text>
<text x="125.7" y="566.6" font-size="5.4" font-weight="bold" text-anchor="end" fill="#111" transform="rotate(-22 122.7 565.1)">0</text>
<text x="136.8" y="583.5" font-size="5.4" font-weight="bold" text-anchor="middle" fill="#111" >0</text>
<text x="145.0" y="583.5" font-size="5.4" font-weight="bold" text-anchor="middle" fill="#111" >10<tspan dy="-2" font-size="4.2">2</tspan></text>
<text x="164.8" y="583.5" font-size="5.4" font-weight="bold" text-anchor="middle" fill="#111" >10<tspan dy="-2" font-size="4.2">3</tspan></text>
<text x="184.6" y="583.5" font-size="5.4" font-weight="bold" text-anchor="middle" fill="#111" >10<tspan dy="-2" font-size="4.2">4</tspan></text>
<text x="202.2" y="583.5" font-size="5.4" font-weight="bold" text-anchor="middle" fill="#111" >10<tspan dy="-2" font-size="4.2">5</tspan></text>
<text x="129.7" y="495.0" font-size="7.5" font-weight="normal" text-anchor="start" fill="#222" >5.41</text>
<text x="210.0" y="495.0" font-size="7.5" font-weight="normal" text-anchor="end" fill="#222" >45.9</text>
<text x="129.7" y="573.0" font-size="7.5" font-weight="normal" text-anchor="start" fill="#222" >18.9</text>
<text x="210.0" y="573.0" font-size="7.5" font-weight="normal" text-anchor="end" fill="#222" >29.7</text>
<rect x="229.0" y="487.5" width="83.0" height="87.5" fill="none" stroke="#8a8a8a" stroke-width="0.8" />
<line x1="229.0" y1="487.5" x2="229.0" y2="576.0" stroke="#000" stroke-width="1.2" />
<line x1="228.0" y1="575.0" x2="312.0" y2="575.0" stroke="#000" stroke-width="1.2" />
<line x1="227.5" y1="489.5" x2="229.0" y2="489.5" stroke="#000" stroke-width="0.7" />
<line x1="227.5" y1="494.4" x2="229.0" y2="494.4" stroke="#000" stroke-width="0.7" />
<line x1="227.5" y1="499.3" x2="229.0" y2="499.3" stroke="#000" stroke-width="0.7" />
<line x1="227.5" y1="504.2" x2="229.0" y2="504.2" stroke="#000" stroke-width="0.7" />
<line x1="227.5" y1="509.1" x2="229.0" y2="509.1" stroke="#000" stroke-width="0.7" />
<line x1="227.5" y1="514.1" x2="229.0" y2="514.1" stroke="#000" stroke-width="0.7" />
<line x1="227.5" y1="519.0" x2="229.0" y2="519.0" stroke="#000" stroke-width="0.7" />
<line x1="227.5" y1="523.9" x2="229.0" y2="523.9" stroke="#000" stroke-width="0.7" />
<line x1="227.5" y1="528.8" x2="229.0" y2="528.8" stroke="#000" stroke-width="0.7" />
<line x1="227.5" y1="533.7" x2="229.0" y2="533.7" stroke="#000" stroke-width="0.7" />
<line x1="227.5" y1="538.6" x2="229.0" y2="538.6" stroke="#000" stroke-width="0.7" />
<line x1="227.5" y1="543.5" x2="229.0" y2="543.5" stroke="#000" stroke-width="0.7" />
<line x1="227.5" y1="548.4" x2="229.0" y2="548.4" stroke="#000" stroke-width="0.7" />
<line x1="227.5" y1="553.4" x2="229.0" y2="553.4" stroke="#000" stroke-width="0.7" />
<line x1="227.5" y1="558.3" x2="229.0" y2="558.3" stroke="#000" stroke-width="0.7" />
<line x1="227.5" y1="563.2" x2="229.0" y2="563.2" stroke="#000" stroke-width="0.7" />
<line x1="227.5" y1="568.1" x2="229.0" y2="568.1" stroke="#000" stroke-width="0.7" />
<line x1="227.5" y1="573.0" x2="229.0" y2="573.0" stroke="#000" stroke-width="0.7" />
<line x1="231.0" y1="575.0" x2="231.0" y2="576.5" stroke="#000" stroke-width="0.7" />
<line x1="234.8" y1="575.0" x2="234.8" y2="576.5" stroke="#000" stroke-width="0.7" />
<line x1="238.5" y1="575.0" x2="238.5" y2="576.5" stroke="#000" stroke-width="0.7" />
<line x1="242.3" y1="575.0" x2="242.3" y2="576.5" stroke="#000" stroke-width="0.7" />
<line x1="246.0" y1="575.0" x2="246.0" y2="576.5" stroke="#000" stroke-width="0.7" />
<line x1="249.8" y1="575.0" x2="249.8" y2="576.5" stroke="#000" stroke-width="0.7" />
<line x1="253.6" y1="575.0" x2="253.6" y2="576.5" stroke="#000" stroke-width="0.7" />
<line x1="257.3" y1="575.0" x2="257.3" y2="576.5" stroke="#000" stroke-width="0.7" />
<line x1="261.1" y1="575.0" x2="261.1" y2="576.5" stroke="#000" stroke-width="0.7" />
<line x1="264.9" y1="575.0" x2="264.9" y2="576.5" stroke="#000" stroke-width="0.7" />
<line x1="268.6" y1="575.0" x2="268.6" y2="576.5" stroke="#000" stroke-width="0.7" />
<line x1="272.4" y1="575.0" x2="272.4" y2="576.5" stroke="#000" stroke-width="0.7" />
<line x1="276.1" y1="575.0" x2="276.1" y2="576.5" stroke="#000" stroke-width="0.7" />
<line x1="279.9" y1="575.0" x2="279.9" y2="576.5" stroke="#000" stroke-width="0.7" />
<line x1="283.7" y1="575.0" x2="283.7" y2="576.5" stroke="#000" stroke-width="0.7" />
<line x1="287.4" y1="575.0" x2="287.4" y2="576.5" stroke="#000" stroke-width="0.7" />
<line x1="291.2" y1="575.0" x2="291.2" y2="576.5" stroke="#000" stroke-width="0.7" />
<line x1="295.0" y1="575.0" x2="295.0" y2="576.5" stroke="#000" stroke-width="0.7" />
<line x1="298.7" y1="575.0" x2="298.7" y2="576.5" stroke="#000" stroke-width="0.7" />
<line x1="302.5" y1="575.0" x2="302.5" y2="576.5" stroke="#000" stroke-width="0.7" />
<line x1="306.2" y1="575.0" x2="306.2" y2="576.5" stroke="#000" stroke-width="0.7" />
<line x1="310.0" y1="575.0" x2="310.0" y2="576.5" stroke="#000" stroke-width="0.7" />
<text x="226.5" y="496.3" font-size="5.4" font-weight="bold" text-anchor="end" fill="#111" transform="rotate(-22 223.5 494.8)">10<tspan dy="-2" font-size="4.2">5</tspan></text>
<text x="226.5" y="515.7" font-size="5.4" font-weight="bold" text-anchor="end" fill="#111" transform="rotate(-22 223.5 514.2)">10<tspan dy="-2" font-size="4.2">4</tspan></text>
<text x="226.5" y="536.8" font-size="5.4" font-weight="bold" text-anchor="end" fill="#111" transform="rotate(-22 223.5 535.3)">10<tspan dy="-2" font-size="4.2">3</tspan></text>
<text x="226.5" y="556.7" font-size="5.4" font-weight="bold" text-anchor="end" fill="#111" transform="rotate(-22 223.5 555.2)">10<tspan dy="-2" font-size="4.2">2</tspan></text>
<text x="226.5" y="566.6" font-size="5.4" font-weight="bold" text-anchor="end" fill="#111" transform="rotate(-22 223.5 565.1)">0</text>
<text x="237.6" y="583.5" font-size="5.4" font-weight="bold" text-anchor="middle" fill="#111" >0</text>
<text x="245.9" y="583.5" font-size="5.4" font-weight="bold" text-anchor="middle" fill="#111" >10<tspan dy="-2" font-size="4.2">2</tspan></text>
<text x="265.7" y="583.5" font-size="5.4" font-weight="bold" text-anchor="middle" fill="#111" >10<tspan dy="-2" font-size="4.2">3</tspan></text>
<text x="285.6" y="583.5" font-size="5.4" font-weight="bold" text-anchor="middle" fill="#111" >10<tspan dy="-2" font-size="4.2">4</tspan></text>
<text x="303.2" y="583.5" font-size="5.4" font-weight="bold" text-anchor="middle" fill="#111" >10<tspan dy="-2" font-size="4.2">5</tspan></text>
<text x="230.5" y="495.0" font-size="7.5" font-weight="normal" text-anchor="start" fill="#222" >0</text>
<text x="311.0" y="495.0" font-size="7.5" font-weight="normal" text-anchor="end" fill="#222" >43.1</text>
<text x="230.5" y="573.0" font-size="7.5" font-weight="normal" text-anchor="start" fill="#222" >4.17</text>
<text x="311.0" y="573.0" font-size="7.5" font-weight="normal" text-anchor="end" fill="#222" >52.8</text>
<rect x="329.4" y="487.5" width="84.8" height="87.5" fill="none" stroke="#8a8a8a" stroke-width="0.8" />
<line x1="329.4" y1="487.5" x2="329.4" y2="576.0" stroke="#000" stroke-width="1.2" />
<line x1="328.4" y1="575.0" x2="414.2" y2="575.0" stroke="#000" stroke-width="1.2" />
<line x1="327.9" y1="489.5" x2="329.4" y2="489.5" stroke="#000" stroke-width="0.7" />
<line x1="327.9" y1="494.4" x2="329.4" y2="494.4" stroke="#000" stroke-width="0.7" />
<line x1="327.9" y1="499.3" x2="329.4" y2="499.3" stroke="#000" stroke-width="0.7" />
<line x1="327.9" y1="504.2" x2="329.4" y2="504.2" stroke="#000" stroke-width="0.7" />
<line x1="327.9" y1="509.1" x2="329.4" y2="509.1" stroke="#000" stroke-width="0.7" />
<line x1="327.9" y1="514.1" x2="329.4" y2="514.1" stroke="#000" stroke-width="0.7" />
<line x1="327.9" y1="519.0" x2="329.4" y2="519.0" stroke="#000" stroke-width="0.7" />
<line x1="327.9" y1="523.9" x2="329.4" y2="523.9" stroke="#000" stroke-width="0.7" />
<line x1="327.9" y1="528.8" x2="329.4" y2="528.8" stroke="#000" stroke-width="0.7" />
<line x1="327.9" y1="533.7" x2="329.4" y2="533.7" stroke="#000" stroke-width="0.7" />
<line x1="327.9" y1="538.6" x2="329.4" y2="538.6" stroke="#000" stroke-width="0.7" />
<line x1="327.9" y1="543.5" x2="329.4" y2="543.5" stroke="#000" stroke-width="0.7" />
<line x1="327.9" y1="548.4" x2="329.4" y2="548.4" stroke="#000" stroke-width="0.7" />
<line x1="327.9" y1="553.4" x2="329.4" y2="553.4" stroke="#000" stroke-width="0.7" />
<line x1="327.9" y1="558.3" x2="329.4" y2="558.3" stroke="#000" stroke-width="0.7" />
<line x1="327.9" y1="563.2" x2="329.4" y2="563.2" stroke="#000" stroke-width="0.7" />
<line x1="327.9" y1="568.1" x2="329.4" y2="568.1" stroke="#000" stroke-width="0.7" />
<line x1="327.9" y1="573.0" x2="329.4" y2="573.0" stroke="#000" stroke-width="0.7" />
<line x1="331.4" y1="575.0" x2="331.4" y2="576.5" stroke="#000" stroke-width="0.7" />
<line x1="335.2" y1="575.0" x2="335.2" y2="576.5" stroke="#000" stroke-width="0.7" />
<line x1="339.1" y1="575.0" x2="339.1" y2="576.5" stroke="#000" stroke-width="0.7" />
<line x1="342.9" y1="575.0" x2="342.9" y2="576.5" stroke="#000" stroke-width="0.7" />
<line x1="346.8" y1="575.0" x2="346.8" y2="576.5" stroke="#000" stroke-width="0.7" />
<line x1="350.6" y1="575.0" x2="350.6" y2="576.5" stroke="#000" stroke-width="0.7" />
<line x1="354.5" y1="575.0" x2="354.5" y2="576.5" stroke="#000" stroke-width="0.7" />
<line x1="358.3" y1="575.0" x2="358.3" y2="576.5" stroke="#000" stroke-width="0.7" />
<line x1="362.2" y1="575.0" x2="362.2" y2="576.5" stroke="#000" stroke-width="0.7" />
<line x1="366.0" y1="575.0" x2="366.0" y2="576.5" stroke="#000" stroke-width="0.7" />
<line x1="369.9" y1="575.0" x2="369.9" y2="576.5" stroke="#000" stroke-width="0.7" />
<line x1="373.7" y1="575.0" x2="373.7" y2="576.5" stroke="#000" stroke-width="0.7" />
<line x1="377.6" y1="575.0" x2="377.6" y2="576.5" stroke="#000" stroke-width="0.7" />
<line x1="381.4" y1="575.0" x2="381.4" y2="576.5" stroke="#000" stroke-width="0.7" />
<line x1="385.3" y1="575.0" x2="385.3" y2="576.5" stroke="#000" stroke-width="0.7" />
<line x1="389.1" y1="575.0" x2="389.1" y2="576.5" stroke="#000" stroke-width="0.7" />
<line x1="393.0" y1="575.0" x2="393.0" y2="576.5" stroke="#000" stroke-width="0.7" />
<line x1="396.8" y1="575.0" x2="396.8" y2="576.5" stroke="#000" stroke-width="0.7" />
<line x1="400.7" y1="575.0" x2="400.7" y2="576.5" stroke="#000" stroke-width="0.7" />
<line x1="404.5" y1="575.0" x2="404.5" y2="576.5" stroke="#000" stroke-width="0.7" />
<line x1="408.4" y1="575.0" x2="408.4" y2="576.5" stroke="#000" stroke-width="0.7" />
<line x1="412.2" y1="575.0" x2="412.2" y2="576.5" stroke="#000" stroke-width="0.7" />
<text x="326.9" y="496.3" font-size="5.4" font-weight="bold" text-anchor="end" fill="#111" transform="rotate(-22 323.9 494.8)">10<tspan dy="-2" font-size="4.2">5</tspan></text>
<text x="326.9" y="515.7" font-size="5.4" font-weight="bold" text-anchor="end" fill="#111" transform="rotate(-22 323.9 514.2)">10<tspan dy="-2" font-size="4.2">4</tspan></text>
<text x="326.9" y="536.8" font-size="5.4" font-weight="bold" text-anchor="end" fill="#111" transform="rotate(-22 323.9 535.3)">10<tspan dy="-2" font-size="4.2">3</tspan></text>
<text x="326.9" y="556.7" font-size="5.4" font-weight="bold" text-anchor="end" fill="#111" transform="rotate(-22 323.9 555.2)">10<tspan dy="-2" font-size="4.2">2</tspan></text>
<text x="326.9" y="566.6" font-size="5.4" font-weight="bold" text-anchor="end" fill="#111" transform="rotate(-22 323.9 565.1)">0</text>
<text x="338.2" y="583.5" font-size="5.4" font-weight="bold" text-anchor="middle" fill="#111" >0</text>
<text x="346.7" y="583.5" font-size="5.4" font-weight="bold" text-anchor="middle" fill="#111" >10<tspan dy="-2" font-size="4.2">2</tspan></text>
<text x="366.9" y="583.5" font-size="5.4" font-weight="bold" text-anchor="middle" fill="#111" >10<tspan dy="-2" font-size="4.2">3</tspan></text>
<text x="387.2" y="583.5" font-size="5.4" font-weight="bold" text-anchor="middle" fill="#111" >10<tspan dy="-2" font-size="4.2">4</tspan></text>
<text x="405.2" y="583.5" font-size="5.4" font-weight="bold" text-anchor="middle" fill="#111" >10<tspan dy="-2" font-size="4.2">5</tspan></text>
<text x="330.9" y="495.0" font-size="7.5" font-weight="normal" text-anchor="start" fill="#222" >3.04</text>
<text x="413.2" y="495.0" font-size="7.5" font-weight="normal" text-anchor="end" fill="#222" >1.01</text>
<text x="330.9" y="573.0" font-size="7.5" font-weight="normal" text-anchor="start" fill="#222" >56.8</text>
<text x="413.2" y="573.0" font-size="7.5" font-weight="normal" text-anchor="end" fill="#222" >39.2</text>
<rect x="430.4" y="487.5" width="81.6" height="87.5" fill="none" stroke="#8a8a8a" stroke-width="0.8" />
<line x1="430.4" y1="487.5" x2="430.4" y2="576.0" stroke="#000" stroke-width="1.2" />
<line x1="429.4" y1="575.0" x2="512.0" y2="575.0" stroke="#000" stroke-width="1.2" />
<line x1="428.9" y1="489.5" x2="430.4" y2="489.5" stroke="#000" stroke-width="0.7" />
<line x1="428.9" y1="494.4" x2="430.4" y2="494.4" stroke="#000" stroke-width="0.7" />
<line x1="428.9" y1="499.3" x2="430.4" y2="499.3" stroke="#000" stroke-width="0.7" />
<line x1="428.9" y1="504.2" x2="430.4" y2="504.2" stroke="#000" stroke-width="0.7" />
<line x1="428.9" y1="509.1" x2="430.4" y2="509.1" stroke="#000" stroke-width="0.7" />
<line x1="428.9" y1="514.1" x2="430.4" y2="514.1" stroke="#000" stroke-width="0.7" />
<line x1="428.9" y1="519.0" x2="430.4" y2="519.0" stroke="#000" stroke-width="0.7" />
<line x1="428.9" y1="523.9" x2="430.4" y2="523.9" stroke="#000" stroke-width="0.7" />
<line x1="428.9" y1="528.8" x2="430.4" y2="528.8" stroke="#000" stroke-width="0.7" />
<line x1="428.9" y1="533.7" x2="430.4" y2="533.7" stroke="#000" stroke-width="0.7" />
<line x1="428.9" y1="538.6" x2="430.4" y2="538.6" stroke="#000" stroke-width="0.7" />
<line x1="428.9" y1="543.5" x2="430.4" y2="543.5" stroke="#000" stroke-width="0.7" />
<line x1="428.9" y1="548.4" x2="430.4" y2="548.4" stroke="#000" stroke-width="0.7" />
<line x1="428.9" y1="553.4" x2="430.4" y2="553.4" stroke="#000" stroke-width="0.7" />
<line x1="428.9" y1="558.3" x2="430.4" y2="558.3" stroke="#000" stroke-width="0.7" />
<line x1="428.9" y1="563.2" x2="430.4" y2="563.2" stroke="#000" stroke-width="0.7" />
<line x1="428.9" y1="568.1" x2="430.4" y2="568.1" stroke="#000" stroke-width="0.7" />
<line x1="428.9" y1="573.0" x2="430.4" y2="573.0" stroke="#000" stroke-width="0.7" />
<line x1="432.4" y1="575.0" x2="432.4" y2="576.5" stroke="#000" stroke-width="0.7" />
<line x1="436.1" y1="575.0" x2="436.1" y2="576.5" stroke="#000" stroke-width="0.7" />
<line x1="439.8" y1="575.0" x2="439.8" y2="576.5" stroke="#000" stroke-width="0.7" />
<line x1="443.5" y1="575.0" x2="443.5" y2="576.5" stroke="#000" stroke-width="0.7" />
<line x1="447.2" y1="575.0" x2="447.2" y2="576.5" stroke="#000" stroke-width="0.7" />
<line x1="450.9" y1="575.0" x2="450.9" y2="576.5" stroke="#000" stroke-width="0.7" />
<line x1="454.6" y1="575.0" x2="454.6" y2="576.5" stroke="#000" stroke-width="0.7" />
<line x1="458.3" y1="575.0" x2="458.3" y2="576.5" stroke="#000" stroke-width="0.7" />
<line x1="462.0" y1="575.0" x2="462.0" y2="576.5" stroke="#000" stroke-width="0.7" />
<line x1="465.7" y1="575.0" x2="465.7" y2="576.5" stroke="#000" stroke-width="0.7" />
<line x1="469.4" y1="575.0" x2="469.4" y2="576.5" stroke="#000" stroke-width="0.7" />
<line x1="473.0" y1="575.0" x2="473.0" y2="576.5" stroke="#000" stroke-width="0.7" />
<line x1="476.7" y1="575.0" x2="476.7" y2="576.5" stroke="#000" stroke-width="0.7" />
<line x1="480.4" y1="575.0" x2="480.4" y2="576.5" stroke="#000" stroke-width="0.7" />
<line x1="484.1" y1="575.0" x2="484.1" y2="576.5" stroke="#000" stroke-width="0.7" />
<line x1="487.8" y1="575.0" x2="487.8" y2="576.5" stroke="#000" stroke-width="0.7" />
<line x1="491.5" y1="575.0" x2="491.5" y2="576.5" stroke="#000" stroke-width="0.7" />
<line x1="495.2" y1="575.0" x2="495.2" y2="576.5" stroke="#000" stroke-width="0.7" />
<line x1="498.9" y1="575.0" x2="498.9" y2="576.5" stroke="#000" stroke-width="0.7" />
<line x1="502.6" y1="575.0" x2="502.6" y2="576.5" stroke="#000" stroke-width="0.7" />
<line x1="506.3" y1="575.0" x2="506.3" y2="576.5" stroke="#000" stroke-width="0.7" />
<line x1="510.0" y1="575.0" x2="510.0" y2="576.5" stroke="#000" stroke-width="0.7" />
<text x="427.9" y="496.3" font-size="5.4" font-weight="bold" text-anchor="end" fill="#111" transform="rotate(-22 424.9 494.8)">10<tspan dy="-2" font-size="4.2">5</tspan></text>
<text x="427.9" y="515.7" font-size="5.4" font-weight="bold" text-anchor="end" fill="#111" transform="rotate(-22 424.9 514.2)">10<tspan dy="-2" font-size="4.2">4</tspan></text>
<text x="427.9" y="536.8" font-size="5.4" font-weight="bold" text-anchor="end" fill="#111" transform="rotate(-22 424.9 535.3)">10<tspan dy="-2" font-size="4.2">3</tspan></text>
<text x="427.9" y="556.7" font-size="5.4" font-weight="bold" text-anchor="end" fill="#111" transform="rotate(-22 424.9 555.2)">10<tspan dy="-2" font-size="4.2">2</tspan></text>
<text x="427.9" y="566.6" font-size="5.4" font-weight="bold" text-anchor="end" fill="#111" transform="rotate(-22 424.9 565.1)">0</text>
<text x="438.8" y="583.5" font-size="5.4" font-weight="bold" text-anchor="middle" fill="#111" >0</text>
<text x="447.0" y="583.5" font-size="5.4" font-weight="bold" text-anchor="middle" fill="#111" >10<tspan dy="-2" font-size="4.2">2</tspan></text>
<text x="466.5" y="583.5" font-size="5.4" font-weight="bold" text-anchor="middle" fill="#111" >10<tspan dy="-2" font-size="4.2">3</tspan></text>
<text x="486.0" y="583.5" font-size="5.4" font-weight="bold" text-anchor="middle" fill="#111" >10<tspan dy="-2" font-size="4.2">4</tspan></text>
<text x="503.4" y="583.5" font-size="5.4" font-weight="bold" text-anchor="middle" fill="#111" >10<tspan dy="-2" font-size="4.2">5</tspan></text>
<text x="431.9" y="495.0" font-size="7.5" font-weight="normal" text-anchor="start" fill="#222" >1.87</text>
<text x="511.0" y="495.0" font-size="7.5" font-weight="normal" text-anchor="end" fill="#222" >1.66</text>
<text x="431.9" y="573.0" font-size="7.5" font-weight="normal" text-anchor="start" fill="#222" >69.7</text>
<text x="511.0" y="573.0" font-size="7.5" font-weight="normal" text-anchor="end" fill="#222" >27</text>
<g><ellipse transform="translate(52.00,456.50) rotate(-5.0)" rx="9.60" ry="13.00" fill="#000" fill-opacity="0.05" stroke="#666" stroke-width="0.5"/><ellipse transform="translate(52.38,455.62) rotate(-5.0)" rx="7.95" ry="11.00" fill="#000" fill-opacity="0.05" stroke="#666" stroke-width="0.5"/><ellipse transform="translate(52.75,454.75) rotate(-5.0)" rx="6.30" ry="9.00" fill="#000" fill-opacity="0.05" stroke="#666" stroke-width="0.5"/><ellipse transform="translate(53.12,453.88) rotate(-5.0)" rx="4.65" ry="7.00" fill="#000" fill-opacity="0.05" stroke="#666" stroke-width="0.5"/><ellipse transform="translate(53.50,453.00) rotate(-5.0)" rx="3.00" ry="5.00" fill="#000" fill-opacity="0.05" stroke="#666" stroke-width="0.5"/></g>
<g><ellipse transform="translate(53.50,453.00) rotate(-5.0)" rx="6.00" ry="8.00" fill="#111" fill-opacity="0.6" stroke="#111" stroke-width="0.55"/><ellipse transform="translate(53.75,452.50) rotate(-5.0)" rx="4.00" ry="5.50" fill="#111" fill-opacity="0.6" stroke="#111" stroke-width="0.55"/><ellipse transform="translate(54.00,452.00) rotate(-5.0)" rx="2.00" ry="3.00" fill="#111" fill-opacity="0.6" stroke="#111" stroke-width="0.55"/></g>
<path d="M54,448 L53,458" stroke="#aaa" stroke-width="0.8"/>
<g><ellipse transform="translate(151.00,456.00) rotate(5.0)" rx="7.50" ry="11.00" fill="#000" fill-opacity="0.2" stroke="#333" stroke-width="0.5"/><ellipse transform="translate(151.08,455.83) rotate(5.0)" rx="6.58" ry="9.83" fill="#000" fill-opacity="0.2" stroke="#333" stroke-width="0.5"/><ellipse transform="translate(151.17,455.67) rotate(5.0)" rx="5.67" ry="8.67" fill="#000" fill-opacity="0.2" stroke="#333" stroke-width="0.5"/><ellipse transform="translate(151.25,455.50) rotate(5.0)" rx="4.75" ry="7.50" fill="#000" fill-opacity="0.2" stroke="#333" stroke-width="0.5"/><ellipse transform="translate(151.33,455.33) rotate(5.0)" rx="3.83" ry="6.33" fill="#000" fill-opacity="0.2" stroke="#333" stroke-width="0.5"/><ellipse transform="translate(151.42,455.17) rotate(5.0)" rx="2.92" ry="5.17" fill="#000" fill-opacity="0.2" stroke="#333" stroke-width="0.5"/><ellipse transform="translate(151.50,455.00) rotate(5.0)" rx="2.00" ry="4.00" fill="#000" fill-opacity="0.2" stroke="#333" stroke-width="0.5"/></g>
<path d="M152,450 L150.5,461" stroke="#ddd" stroke-width="0.9"/>
<g><ellipse transform="translate(249.00,457.40) rotate(0.0)" rx="8.00" ry="10.00" fill="#000" fill-opacity="0.2" stroke="#333" stroke-width="0.5"/><ellipse transform="translate(249.08,457.17) rotate(0.0)" rx="7.00" ry="8.83" fill="#000" fill-opacity="0.2" stroke="#333" stroke-width="0.5"/><ellipse transform="translate(249.17,456.93) rotate(0.0)" rx="6.00" ry="7.67" fill="#000" fill-opacity="0.2" stroke="#333" stroke-width="0.5"/><ellipse transform="translate(249.25,456.70) rotate(0.0)" rx="5.00" ry="6.50" fill="#000" fill-opacity="0.2" stroke="#333" stroke-width="0.5"/><ellipse transform="translate(249.33,456.47) rotate(0.0)" rx="4.00" ry="5.33" fill="#000" fill-opacity="0.2" stroke="#333" stroke-width="0.5"/><ellipse transform="translate(249.42,456.23) rotate(0.0)" rx="3.00" ry="4.17" fill="#000" fill-opacity="0.2" stroke="#333" stroke-width="0.5"/><ellipse transform="translate(249.50,456.00) rotate(0.0)" rx="2.00" ry="3.00" fill="#000" fill-opacity="0.2" stroke="#333" stroke-width="0.5"/></g>
<path d="M248,452 L251,459" stroke="#ccc" stroke-width="0.8"/>
<g><path d="M352.00,441.50 C354.17,439.83 359.08,440.08 362.00,440.00 C364.92,439.92 368.08,439.33 369.50,441.00 C370.92,442.67 370.42,446.83 370.50,450.00 C370.58,453.17 370.33,456.75 370.00,460.00 C369.67,463.25 370.17,467.75 368.50,469.50 C366.83,471.25 362.83,470.67 360.00,470.50 C357.17,470.33 353.42,470.25 351.50,468.50 C349.58,466.75 348.92,463.08 348.50,460.00 C348.08,456.92 348.42,453.08 349.00,450.00 C349.58,446.92 349.83,443.17 352.00,441.50Z" fill="#000" fill-opacity="0.12" stroke="#333" stroke-width="0.5"/><path d="M353.71,441.86 C355.65,440.39 360.11,440.55 362.71,440.50 C365.32,440.45 368.11,439.96 369.36,441.57 C370.61,443.18 370.15,447.17 370.21,450.14 C370.27,453.12 370.05,456.48 369.71,459.43 C369.38,462.38 369.73,466.36 368.21,467.86 C366.70,469.36 363.14,468.76 360.64,468.43 C358.14,468.10 354.88,467.57 353.21,465.86 C351.55,464.14 351.00,460.90 350.64,458.14 C350.29,455.38 350.56,452.00 351.07,449.29 C351.58,446.57 351.77,443.32 353.71,441.86Z" fill="#000" fill-opacity="0.12" stroke="#333" stroke-width="0.5"/><path d="M355.43,442.21 C357.14,440.95 361.13,441.01 363.43,441.00 C365.73,440.99 368.13,440.60 369.21,442.14 C370.30,443.69 369.89,447.50 369.93,450.29 C369.96,453.07 369.76,456.20 369.43,458.86 C369.10,461.51 369.29,464.96 367.93,466.21 C366.57,467.46 363.45,466.86 361.29,466.36 C359.12,465.86 356.35,464.89 354.93,463.21 C353.51,461.54 353.08,458.73 352.79,456.29 C352.49,453.85 352.70,450.92 353.14,448.57 C353.58,446.23 353.71,443.48 355.43,442.21Z" fill="#000" fill-opacity="0.12" stroke="#333" stroke-width="0.5"/><path d="M357.14,442.57 C358.63,441.51 362.15,441.48 364.14,441.50 C366.13,441.52 368.15,441.23 369.07,442.71 C369.99,444.20 369.63,447.83 369.64,450.43 C369.65,453.02 369.48,455.93 369.14,458.29 C368.81,460.64 368.85,463.57 367.64,464.57 C366.44,465.57 363.76,464.95 361.93,464.29 C360.10,463.62 357.81,462.21 356.64,460.57 C355.48,458.93 355.17,456.55 354.93,454.43 C354.69,452.31 354.85,449.83 355.21,447.86 C355.58,445.88 355.65,443.63 357.14,442.57Z" fill="#000" fill-opacity="0.12" stroke="#333" stroke-width="0.5"/><path d="M358.86,442.93 C360.12,442.07 363.18,441.94 364.86,442.00 C366.54,442.06 368.18,441.86 368.93,443.29 C369.68,444.71 369.37,448.17 369.36,450.57 C369.35,452.98 369.19,455.65 368.86,457.71 C368.52,459.77 368.40,462.18 367.36,462.93 C366.31,463.68 364.07,463.05 362.57,462.21 C361.07,461.38 359.27,459.54 358.36,457.93 C357.44,456.32 357.25,454.37 357.07,452.57 C356.89,450.77 356.99,448.75 357.29,447.14 C357.58,445.54 357.60,443.79 358.86,442.93Z" fill="#000" fill-opacity="0.12" stroke="#333" stroke-width="0.5"/><path d="M360.57,443.29 C361.61,442.63 364.20,442.40 365.57,442.50 C366.94,442.60 368.20,442.49 368.79,443.86 C369.37,445.23 369.11,448.50 369.07,450.71 C369.04,452.93 368.90,455.38 368.57,457.14 C368.24,458.90 367.96,460.79 367.07,461.29 C366.18,461.79 364.38,461.14 363.21,460.14 C362.05,459.14 360.74,456.86 360.07,455.29 C359.40,453.71 359.33,452.19 359.21,450.71 C359.10,449.24 359.13,447.67 359.36,446.43 C359.58,445.19 359.54,443.94 360.57,443.29Z" fill="#000" fill-opacity="0.12" stroke="#333" stroke-width="0.5"/><path d="M362.29,443.64 C363.10,443.19 365.23,442.87 366.29,443.00 C367.35,443.13 368.23,443.12 368.64,444.43 C369.06,445.74 368.85,448.83 368.79,450.86 C368.73,452.88 368.62,455.11 368.29,456.57 C367.95,458.04 367.52,459.39 366.79,459.64 C366.05,459.89 364.69,459.24 363.86,458.07 C363.02,456.90 362.20,454.18 361.79,452.64 C361.37,451.11 361.42,450.01 361.36,448.86 C361.30,447.70 361.27,446.58 361.43,445.71 C361.58,444.85 361.48,444.10 362.29,443.64Z" fill="#000" fill-opacity="0.12" stroke="#333" stroke-width="0.5"/><path d="M364.00,444.00 C364.58,443.75 366.25,443.33 367.00,443.50 C367.75,443.67 368.25,443.75 368.50,445.00 C368.75,446.25 368.58,449.17 368.50,451.00 C368.42,452.83 368.33,454.83 368.00,456.00 C367.67,457.17 367.08,458.00 366.50,458.00 C365.92,458.00 365.00,457.33 364.50,456.00 C364.00,454.67 363.67,451.50 363.50,450.00 C363.33,448.50 363.50,447.83 363.50,447.00 C363.50,446.17 363.42,445.50 363.50,445.00 C363.58,444.50 363.42,444.25 364.00,444.00Z" fill="#000" fill-opacity="0.12" stroke="#333" stroke-width="0.5"/></g>
<path d="M365,446 L365,455" stroke="#ddd" stroke-width="0.9"/>
<g><path d="M452.50,441.50 C454.67,439.83 459.58,440.08 462.50,440.00 C465.42,439.92 468.58,439.33 470.00,441.00 C471.42,442.67 470.92,446.83 471.00,450.00 C471.08,453.17 470.83,456.75 470.50,460.00 C470.17,463.25 470.67,467.75 469.00,469.50 C467.33,471.25 463.33,470.67 460.50,470.50 C457.67,470.33 453.92,470.25 452.00,468.50 C450.08,466.75 449.42,463.08 449.00,460.00 C448.58,456.92 448.92,453.08 449.50,450.00 C450.08,446.92 450.33,443.17 452.50,441.50Z" fill="#000" fill-opacity="0.12" stroke="#333" stroke-width="0.5"/><path d="M454.21,441.86 C456.15,440.39 460.61,440.55 463.21,440.50 C465.82,440.45 468.61,439.96 469.86,441.57 C471.11,443.18 470.65,447.17 470.71,450.14 C470.77,453.12 470.55,456.48 470.21,459.43 C469.88,462.38 470.23,466.36 468.71,467.86 C467.20,469.36 463.64,468.76 461.14,468.43 C458.64,468.10 455.38,467.57 453.71,465.86 C452.05,464.14 451.50,460.90 451.14,458.14 C450.79,455.38 451.06,452.00 451.57,449.29 C452.08,446.57 452.27,443.32 454.21,441.86Z" fill="#000" fill-opacity="0.12" stroke="#333" stroke-width="0.5"/><path d="M455.93,442.21 C457.64,440.95 461.63,441.01 463.93,441.00 C466.23,440.99 468.63,440.60 469.71,442.14 C470.80,443.69 470.39,447.50 470.43,450.29 C470.46,453.07 470.26,456.20 469.93,458.86 C469.60,461.51 469.79,464.96 468.43,466.21 C467.07,467.46 463.95,466.86 461.79,466.36 C459.62,465.86 456.85,464.89 455.43,463.21 C454.01,461.54 453.58,458.73 453.29,456.29 C452.99,453.85 453.20,450.92 453.64,448.57 C454.08,446.23 454.21,443.48 455.93,442.21Z" fill="#000" fill-opacity="0.12" stroke="#333" stroke-width="0.5"/><path d="M457.64,442.57 C459.13,441.51 462.65,441.48 464.64,441.50 C466.63,441.52 468.65,441.23 469.57,442.71 C470.49,444.20 470.13,447.83 470.14,450.43 C470.15,453.02 469.98,455.93 469.64,458.29 C469.31,460.64 469.35,463.57 468.14,464.57 C466.94,465.57 464.26,464.95 462.43,464.29 C460.60,463.62 458.31,462.21 457.14,460.57 C455.98,458.93 455.67,456.55 455.43,454.43 C455.19,452.31 455.35,449.83 455.71,447.86 C456.08,445.88 456.15,443.63 457.64,442.57Z" fill="#000" fill-opacity="0.12" stroke="#333" stroke-width="0.5"/><path d="M459.36,442.93 C460.62,442.07 463.68,441.94 465.36,442.00 C467.04,442.06 468.68,441.86 469.43,443.29 C470.18,444.71 469.87,448.17 469.86,450.57 C469.85,452.98 469.69,455.65 469.36,457.71 C469.02,459.77 468.90,462.18 467.86,462.93 C466.81,463.68 464.57,463.05 463.07,462.21 C461.57,461.38 459.77,459.54 458.86,457.93 C457.94,456.32 457.75,454.37 457.57,452.57 C457.39,450.77 457.49,448.75 457.79,447.14 C458.08,445.54 458.10,443.79 459.36,442.93Z" fill="#000" fill-opacity="0.12" stroke="#333" stroke-width="0.5"/><path d="M461.07,443.29 C462.11,442.63 464.70,442.40 466.07,442.50 C467.44,442.60 468.70,442.49 469.29,443.86 C469.87,445.23 469.61,448.50 469.57,450.71 C469.54,452.93 469.40,455.38 469.07,457.14 C468.74,458.90 468.46,460.79 467.57,461.29 C466.68,461.79 464.88,461.14 463.71,460.14 C462.55,459.14 461.24,456.86 460.57,455.29 C459.90,453.71 459.83,452.19 459.71,450.71 C459.60,449.24 459.63,447.67 459.86,446.43 C460.08,445.19 460.04,443.94 461.07,443.29Z" fill="#000" fill-opacity="0.12" stroke="#333" stroke-width="0.5"/><path d="M462.79,443.64 C463.60,443.19 465.73,442.87 466.79,443.00 C467.85,443.13 468.73,443.12 469.14,444.43 C469.56,445.74 469.35,448.83 469.29,450.86 C469.23,452.88 469.12,455.11 468.79,456.57 C468.45,458.04 468.02,459.39 467.29,459.64 C466.55,459.89 465.19,459.24 464.36,458.07 C463.52,456.90 462.70,454.18 462.29,452.64 C461.87,451.11 461.92,450.01 461.86,448.86 C461.80,447.70 461.77,446.58 461.93,445.71 C462.08,444.85 461.98,444.10 462.79,443.64Z" fill="#000" fill-opacity="0.12" stroke="#333" stroke-width="0.5"/><path d="M464.50,444.00 C465.08,443.75 466.75,443.33 467.50,443.50 C468.25,443.67 468.75,443.75 469.00,445.00 C469.25,446.25 469.08,449.17 469.00,451.00 C468.92,452.83 468.83,454.83 468.50,456.00 C468.17,457.17 467.58,458.00 467.00,458.00 C466.42,458.00 465.50,457.33 465.00,456.00 C464.50,454.67 464.17,451.50 464.00,450.00 C463.83,448.50 464.00,447.83 464.00,447.00 C464.00,446.17 463.92,445.50 464.00,445.00 C464.08,444.50 463.92,444.25 464.50,444.00Z" fill="#000" fill-opacity="0.12" stroke="#333" stroke-width="0.5"/></g>
<path d="M465.5,446 L465.5,455" stroke="#ddd" stroke-width="0.9"/>
<path d="M445,449 L452,449" stroke="#888" stroke-width="0.7"/>
<g><path d="M70.80,518.80 C72.22,518.30 73.88,520.13 75.00,522.00 C76.12,523.87 76.92,527.00 77.50,530.00 C78.08,533.00 78.08,536.67 78.50,540.00 C78.92,543.33 79.83,546.67 80.00,550.00 C80.17,553.33 80.17,557.17 79.50,560.00 C78.83,562.83 77.58,565.33 76.00,567.00 C74.42,568.67 72.67,569.58 70.00,570.00 C67.33,570.42 63.00,570.17 60.00,569.50 C57.00,568.83 53.75,567.58 52.00,566.00 C50.25,564.42 49.83,562.33 49.50,560.00 C49.17,557.67 49.25,554.42 50.00,552.00 C50.75,549.58 52.00,547.17 54.00,545.50 C56.00,543.83 60.17,543.75 62.00,542.00 C63.83,540.25 64.25,537.83 65.00,535.00 C65.75,532.17 65.53,527.70 66.50,525.00 C67.47,522.30 69.38,519.30 70.80,518.80Z" fill="#000" fill-opacity="0.05" stroke="#333" stroke-width="0.45"/><path d="M70.93,522.04 C72.24,521.60 73.76,523.24 74.79,524.93 C75.83,526.62 76.58,529.45 77.12,532.16 C77.67,534.88 77.70,538.20 78.09,541.23 C78.47,544.26 79.30,547.30 79.44,550.33 C79.59,553.37 79.58,556.85 78.97,559.43 C78.37,562.02 77.23,564.31 75.79,565.84 C74.35,567.37 72.76,568.23 70.35,568.62 C67.94,569.02 64.04,568.81 61.33,568.22 C58.62,567.63 55.69,566.50 54.09,565.07 C52.50,563.63 52.09,561.74 51.76,559.62 C51.44,557.49 51.49,554.54 52.14,552.32 C52.79,550.11 53.89,547.89 55.67,546.33 C57.44,544.78 61.16,544.63 62.80,543.01 C64.45,541.39 64.85,539.18 65.54,536.61 C66.24,534.04 66.09,530.02 66.98,527.60 C67.88,525.17 69.63,522.49 70.93,522.04Z" fill="#000" fill-opacity="0.05" stroke="#333" stroke-width="0.45"/><path d="M71.07,525.29 C72.25,524.90 73.64,526.36 74.59,527.86 C75.54,529.37 76.24,531.89 76.75,534.33 C77.26,536.76 77.31,539.74 77.67,542.46 C78.03,545.19 78.76,547.93 78.89,550.67 C79.02,553.40 79.00,556.53 78.45,558.87 C77.90,561.20 76.87,563.28 75.58,564.67 C74.29,566.07 72.85,566.87 70.70,567.25 C68.55,567.63 65.09,567.46 62.67,566.94 C60.25,566.43 57.63,565.42 56.19,564.14 C54.75,562.85 54.35,561.15 54.03,559.23 C53.71,557.32 53.72,554.66 54.27,552.65 C54.82,550.64 55.78,548.60 57.33,547.17 C58.89,545.73 62.15,545.51 63.61,544.02 C65.06,542.53 65.44,540.52 66.08,538.21 C66.73,535.91 66.64,532.35 67.47,530.20 C68.30,528.04 69.88,525.68 71.07,525.29Z" fill="#000" fill-opacity="0.05" stroke="#333" stroke-width="0.45"/><path d="M71.20,528.53 C72.27,528.20 73.52,529.47 74.38,530.79 C75.24,532.12 75.89,534.34 76.37,536.49 C76.85,538.64 76.93,541.28 77.26,543.70 C77.58,546.11 78.22,548.57 78.33,551.00 C78.44,553.43 78.42,556.22 77.92,558.30 C77.43,560.39 76.52,562.25 75.37,563.51 C74.23,564.77 72.94,565.51 71.05,565.87 C69.15,566.23 66.13,566.11 64.00,565.67 C61.87,565.22 59.57,564.34 58.28,563.21 C57.00,562.07 56.61,560.55 56.29,558.85 C55.98,557.14 55.96,554.78 56.41,552.97 C56.86,551.16 57.67,549.32 59.00,548.00 C60.33,546.68 63.14,546.39 64.41,545.03 C65.68,543.67 66.04,541.86 66.63,539.82 C67.22,537.78 67.19,534.67 67.95,532.79 C68.71,530.91 70.13,528.87 71.20,528.53Z" fill="#000" fill-opacity="0.05" stroke="#333" stroke-width="0.45"/><path d="M71.33,531.78 C72.29,531.50 73.40,532.58 74.18,533.72 C74.95,534.87 75.55,536.78 76.00,538.65 C76.44,540.52 76.55,542.81 76.84,544.93 C77.14,547.04 77.69,549.20 77.78,551.33 C77.87,553.47 77.83,555.90 77.40,557.74 C76.96,559.58 76.16,561.22 75.17,562.35 C74.17,563.48 73.04,564.16 71.40,564.50 C69.76,564.84 67.17,564.76 65.33,564.39 C63.50,564.02 61.51,563.26 60.38,562.28 C59.25,561.29 58.86,559.96 58.56,558.46 C58.25,556.96 58.19,554.90 58.55,553.29 C58.90,551.69 59.56,550.04 60.67,548.83 C61.78,547.62 64.13,547.27 65.21,546.04 C66.30,544.80 66.63,543.20 67.17,541.43 C67.71,539.65 67.74,537.00 68.43,535.39 C69.13,533.78 70.38,532.06 71.33,531.78Z" fill="#000" fill-opacity="0.05" stroke="#333" stroke-width="0.45"/><path d="M71.47,535.02 C72.31,534.80 73.28,535.69 73.97,536.66 C74.66,537.62 75.21,539.23 75.62,540.81 C76.03,542.40 76.16,544.35 76.43,546.16 C76.70,547.97 77.15,549.83 77.22,551.67 C77.30,553.50 77.25,555.59 76.87,557.17 C76.50,558.76 75.81,560.20 74.96,561.19 C74.10,562.18 73.13,562.80 71.75,563.12 C70.37,563.44 68.21,563.41 66.67,563.11 C65.12,562.81 63.45,562.18 62.47,561.34 C61.50,560.50 61.12,559.36 60.82,558.08 C60.52,556.79 60.43,555.02 60.68,553.62 C60.93,552.22 61.44,550.76 62.33,549.67 C63.22,548.57 65.12,548.15 66.02,547.05 C66.91,545.94 67.23,544.55 67.71,543.04 C68.19,541.53 68.29,539.32 68.92,537.99 C69.54,536.65 70.62,535.24 71.47,535.02Z" fill="#000" fill-opacity="0.05" stroke="#333" stroke-width="0.45"/><path d="M71.60,538.27 C72.33,538.10 73.16,538.80 73.77,539.59 C74.37,540.37 74.87,541.68 75.25,542.98 C75.62,544.28 75.78,545.89 76.01,547.39 C76.25,548.90 76.61,550.46 76.67,552.00 C76.72,553.54 76.67,555.27 76.35,556.61 C76.03,557.95 75.46,559.17 74.75,560.02 C74.04,560.88 73.22,561.44 72.10,561.75 C70.97,562.05 69.26,562.06 68.00,561.83 C66.74,561.61 65.39,561.10 64.57,560.41 C63.75,559.72 63.38,558.77 63.09,557.69 C62.79,556.61 62.67,555.14 62.82,553.94 C62.97,552.74 63.33,551.48 64.00,550.50 C64.67,549.52 66.11,549.03 66.82,548.06 C67.53,547.08 67.82,545.89 68.25,544.64 C68.68,543.40 68.84,541.65 69.40,540.59 C69.96,539.52 70.87,538.43 71.60,538.27Z" fill="#000" fill-opacity="0.05" stroke="#333" stroke-width="0.45"/><path d="M71.73,541.51 C72.35,541.40 73.04,541.91 73.56,542.52 C74.08,543.12 74.53,544.12 74.87,545.14 C75.21,546.16 75.39,547.42 75.60,548.62 C75.81,549.82 76.07,551.10 76.11,552.33 C76.15,553.57 76.08,554.96 75.82,556.04 C75.56,557.13 75.10,558.14 74.54,558.86 C73.98,559.58 73.32,560.09 72.45,560.37 C71.58,560.65 70.30,560.70 69.33,560.56 C68.37,560.41 67.33,560.02 66.66,559.48 C66.00,558.94 65.63,558.17 65.35,557.31 C65.07,556.44 64.90,555.26 64.96,554.27 C65.01,553.27 65.22,552.20 65.67,551.33 C66.11,550.47 67.10,549.91 67.62,549.07 C68.14,548.22 68.42,547.23 68.79,546.25 C69.17,545.27 69.40,543.97 69.88,543.18 C70.37,542.40 71.12,541.62 71.73,541.51Z" fill="#000" fill-opacity="0.05" stroke="#333" stroke-width="0.45"/><path d="M71.87,544.76 C72.36,544.70 72.92,545.03 73.35,545.45 C73.79,545.87 74.19,546.57 74.50,547.30 C74.80,548.04 75.01,548.96 75.19,549.85 C75.36,550.75 75.54,551.73 75.56,552.67 C75.57,553.60 75.50,554.64 75.30,555.48 C75.09,556.32 74.75,557.11 74.33,557.70 C73.91,558.28 73.41,558.73 72.80,559.00 C72.19,559.26 71.34,559.35 70.67,559.28 C69.99,559.20 69.27,558.94 68.76,558.55 C68.25,558.16 67.89,557.58 67.61,556.92 C67.34,556.26 67.14,555.38 67.09,554.59 C67.05,553.80 67.11,552.92 67.33,552.17 C67.56,551.41 68.09,550.80 68.43,550.08 C68.76,549.36 69.01,548.57 69.34,547.86 C69.66,547.14 69.95,546.30 70.37,545.78 C70.79,545.27 71.37,544.81 71.87,544.76Z" fill="#000" fill-opacity="0.05" stroke="#333" stroke-width="0.45"/><path d="M72.00,548.00 C72.38,548.00 72.79,548.14 73.15,548.38 C73.50,548.62 73.85,549.01 74.12,549.46 C74.39,549.92 74.63,550.50 74.77,551.09 C74.92,551.68 75.00,552.36 75.00,553.00 C75.00,553.64 74.92,554.32 74.77,554.91 C74.63,555.50 74.39,556.08 74.12,556.54 C73.85,556.99 73.50,557.38 73.15,557.62 C72.79,557.86 72.38,558.00 72.00,558.00 C71.62,558.00 71.21,557.86 70.85,557.62 C70.50,557.38 70.15,556.99 69.88,556.54 C69.61,556.08 69.37,555.50 69.23,554.91 C69.08,554.32 69.00,553.64 69.00,553.00 C69.00,552.36 69.08,551.68 69.23,551.09 C69.37,550.50 69.61,549.92 69.88,549.46 C70.15,549.01 70.50,548.62 70.85,548.38 C71.21,548.14 71.62,548.00 72.00,548.00Z" fill="#000" fill-opacity="0.05" stroke="#333" stroke-width="0.45"/></g>
<g><ellipse transform="translate(72.00,553.00) rotate(0.0)" rx="5.50" ry="8.00" fill="#111" fill-opacity="0.3" stroke="#111" stroke-width="0.55"/><ellipse transform="translate(72.25,553.00) rotate(0.0)" rx="3.75" ry="5.50" fill="#111" fill-opacity="0.3" stroke="#111" stroke-width="0.55"/><ellipse transform="translate(72.50,553.00) rotate(0.0)" rx="2.00" ry="3.00" fill="#111" fill-opacity="0.3" stroke="#111" stroke-width="0.55"/></g>
<path d="M72.5,548 L72.5,558" stroke="#ccc" stroke-width="0.8"/>
<g><ellipse transform="translate(168.50,519.00) rotate(0.0)" rx="2.60" ry="5.00" fill="#000" fill-opacity="0.05" stroke="#666" stroke-width="0.6"/><ellipse transform="translate(168.50,519.00) rotate(0.0)" rx="1.80" ry="3.50" fill="#000" fill-opacity="0.05" stroke="#666" stroke-width="0.6"/><ellipse transform="translate(168.50,519.00) rotate(0.0)" rx="1.00" ry="2.00" fill="#000" fill-opacity="0.05" stroke="#666" stroke-width="0.6"/></g>
<path d="M166,521 C169,522 170.5,526 170,533 C171,538 170.5,543 168,548 C166.5,552 166,555 167.5,559 C169.5,562 169.5,566 166,569 C162,570.5 157,569.5 155,566.5 C153.8,563 155.5,559.5 158.5,557.5 C159.5,553 158.5,549 157.5,545 C156.5,540 157,535 160,531 C162,527 163.5,523 166,521 Z" fill="#1a1a1a" stroke="#000" stroke-width="1.2"/>
<path d="M166.5,525 C165,532 163,538 162.5,545 C162,552 162.5,558 161.5,565" fill="none" stroke="#ccc" stroke-width="1"/>
<path d="M163,533 C164,540 165,546 164,552" fill="none" stroke="#777" stroke-width="0.6"/>
<g><ellipse transform="translate(153.00,552.00) rotate(0.0)" rx="4.00" ry="4.00" fill="#000" fill-opacity="0.04" stroke="#999" stroke-width="0.5"/><ellipse transform="translate(153.00,552.00) rotate(0.0)" rx="2.75" ry="2.75" fill="#000" fill-opacity="0.04" stroke="#999" stroke-width="0.5"/><ellipse transform="translate(153.00,552.00) rotate(0.0)" rx="1.50" ry="1.50" fill="#000" fill-opacity="0.04" stroke="#999" stroke-width="0.5"/></g>
<g><ellipse transform="translate(272.00,530.00) rotate(0.0)" rx="8.00" ry="13.00" fill="#000" fill-opacity="0.08" stroke="#555" stroke-width="0.5"/><ellipse transform="translate(272.25,530.00) rotate(0.0)" rx="6.50" ry="10.75" fill="#000" fill-opacity="0.08" stroke="#555" stroke-width="0.5"/><ellipse transform="translate(272.50,530.00) rotate(0.0)" rx="5.00" ry="8.50" fill="#000" fill-opacity="0.08" stroke="#555" stroke-width="0.5"/><ellipse transform="translate(272.75,530.00) rotate(0.0)" rx="3.50" ry="6.25" fill="#000" fill-opacity="0.08" stroke="#555" stroke-width="0.5"/><ellipse transform="translate(273.00,530.00) rotate(0.0)" rx="2.00" ry="4.00" fill="#000" fill-opacity="0.08" stroke="#555" stroke-width="0.5"/></g>
<path d="M266,540 C265,534 266,528 268,522 C272,521 277,524 279,529 C281,536 281,543 279,549 L264,549 Z" fill="#666" opacity="0.5"/>
<path d="M268,522 C272,521 277,524 279,529 C280,534 278,538 275,541 L270,540 C268,535 267,528 268,522 Z" fill="#222" opacity="0.75"/>
<path d="M273,526 L271,537" stroke="#bbb" stroke-width="0.8"/>
<path d="M270.5,545.5 C276,545 279,550 279.5,556 C280,562 277.5,567.5 271.5,568 C266,568 263,564 263,557 C263,551 265.5,546 270.5,545.5 Z" fill="#999" stroke="#050505" stroke-width="3.2"/>
<path d="M271,549 L272.5,563" stroke="#eee" stroke-width="1.1"/>
<ellipse cx="252.8" cy="553.7" rx="4.5" ry="2.5" fill="none" stroke="#888" stroke-width="0.6"/>
<path d="M256,552 L261,547" stroke="#999" stroke-width="0.5"/>
<g><ellipse transform="translate(368.00,555.00) rotate(0.0)" rx="10.50" ry="17.00" fill="#000" fill-opacity="0.1" stroke="#333" stroke-width="0.5"/><ellipse transform="translate(368.17,555.17) rotate(0.0)" rx="9.25" ry="15.17" fill="#000" fill-opacity="0.1" stroke="#333" stroke-width="0.5"/><ellipse transform="translate(368.33,555.33) rotate(0.0)" rx="8.00" ry="13.33" fill="#000" fill-opacity="0.1" stroke="#333" stroke-width="0.5"/><ellipse transform="translate(368.50,555.50) rotate(0.0)" rx="6.75" ry="11.50" fill="#000" fill-opacity="0.1" stroke="#333" stroke-width="0.5"/><ellipse transform="translate(368.67,555.67) rotate(0.0)" rx="5.50" ry="9.67" fill="#000" fill-opacity="0.1" stroke="#333" stroke-width="0.5"/><ellipse transform="translate(368.83,555.83) rotate(0.0)" rx="4.25" ry="7.83" fill="#000" fill-opacity="0.1" stroke="#333" stroke-width="0.5"/><ellipse transform="translate(369.00,556.00) rotate(0.0)" rx="3.00" ry="6.00" fill="#000" fill-opacity="0.1" stroke="#333" stroke-width="0.5"/></g>
<g><ellipse transform="translate(369.00,556.00) rotate(0.0)" rx="6.50" ry="12.00" fill="#111" fill-opacity="0.35" stroke="#111" stroke-width="0.55"/><ellipse transform="translate(369.00,556.50) rotate(0.0)" rx="4.25" ry="8.00" fill="#111" fill-opacity="0.35" stroke="#111" stroke-width="0.55"/><ellipse transform="translate(369.00,557.00) rotate(0.0)" rx="2.00" ry="4.00" fill="#111" fill-opacity="0.35" stroke="#111" stroke-width="0.55"/></g>
<path d="M368.5,546 L368.5,566" stroke="#ccc" stroke-width="0.8"/>
<g><ellipse transform="translate(368.00,538.50) rotate(0.0)" rx="3.50" ry="4.00" fill="#000" fill-opacity="0.03" stroke="#666" stroke-width="0.5"/><ellipse transform="translate(368.00,538.50) rotate(0.0)" rx="1.00" ry="1.50" fill="#000" fill-opacity="0.03" stroke="#666" stroke-width="0.5"/></g>
<g><ellipse transform="translate(468.00,555.00) rotate(0.0)" rx="10.50" ry="17.00" fill="#000" fill-opacity="0.1" stroke="#333" stroke-width="0.5"/><ellipse transform="translate(468.17,555.17) rotate(0.0)" rx="9.25" ry="15.17" fill="#000" fill-opacity="0.1" stroke="#333" stroke-width="0.5"/><ellipse transform="translate(468.33,555.33) rotate(0.0)" rx="8.00" ry="13.33" fill="#000" fill-opacity="0.1" stroke="#333" stroke-width="0.5"/><ellipse transform="translate(468.50,555.50) rotate(0.0)" rx="6.75" ry="11.50" fill="#000" fill-opacity="0.1" stroke="#333" stroke-width="0.5"/><ellipse transform="translate(468.67,555.67) rotate(0.0)" rx="5.50" ry="9.67" fill="#000" fill-opacity="0.1" stroke="#333" stroke-width="0.5"/><ellipse transform="translate(468.83,555.83) rotate(0.0)" rx="4.25" ry="7.83" fill="#000" fill-opacity="0.1" stroke="#333" stroke-width="0.5"/><ellipse transform="translate(469.00,556.00) rotate(0.0)" rx="3.00" ry="6.00" fill="#000" fill-opacity="0.1" stroke="#333" stroke-width="0.5"/></g>
<g><ellipse transform="translate(469.00,556.00) rotate(0.0)" rx="6.50" ry="12.00" fill="#111" fill-opacity="0.35" stroke="#111" stroke-width="0.55"/><ellipse transform="translate(469.00,556.50) rotate(0.0)" rx="4.25" ry="8.00" fill="#111" fill-opacity="0.35" stroke="#111" stroke-width="0.55"/><ellipse transform="translate(469.00,557.00) rotate(0.0)" rx="2.00" ry="4.00" fill="#111" fill-opacity="0.35" stroke="#111" stroke-width="0.55"/></g>
<path d="M468.5,546 L468.5,566" stroke="#ccc" stroke-width="0.8"/>
<g><ellipse transform="translate(468.00,538.50) rotate(0.0)" rx="3.50" ry="4.00" fill="#000" fill-opacity="0.03" stroke="#666" stroke-width="0.5"/><ellipse transform="translate(468.00,538.50) rotate(0.0)" rx="1.00" ry="1.50" fill="#000" fill-opacity="0.03" stroke="#666" stroke-width="0.5"/></g>
<line x1="62.6" y1="385.5" x2="62.6" y2="473.0" stroke="#4a4ab8" stroke-width="1" />
<line x1="27.0" y1="442.5" x2="111.8" y2="442.5" stroke="#4a4ab8" stroke-width="1" />
<line x1="161.0" y1="385.5" x2="161.0" y2="473.0" stroke="#4a4ab8" stroke-width="1" />
<line x1="128.2" y1="443.0" x2="211.0" y2="443.0" stroke="#4a4ab8" stroke-width="1" />
<line x1="260.5" y1="385.5" x2="260.5" y2="473.0" stroke="#4a4ab8" stroke-width="1" />
<line x1="229.0" y1="446.4" x2="312.0" y2="446.4" stroke="#4a4ab8" stroke-width="1" />
<line x1="369.4" y1="385.5" x2="369.4" y2="473.0" stroke="#4a4ab8" stroke-width="1" />
<line x1="329.4" y1="441.0" x2="414.2" y2="441.0" stroke="#4a4ab8" stroke-width="1" />
<line x1="470.8" y1="385.5" x2="470.8" y2="473.0" stroke="#4a4ab8" stroke-width="1" />
<line x1="430.4" y1="441.0" x2="512.0" y2="441.0" stroke="#4a4ab8" stroke-width="1" />
<line x1="62.6" y1="487.5" x2="62.6" y2="575.0" stroke="#4a4ab8" stroke-width="1" />
<line x1="27.0" y1="544.7" x2="111.8" y2="544.7" stroke="#4a4ab8" stroke-width="1" />
<line x1="161.0" y1="487.5" x2="161.0" y2="575.0" stroke="#4a4ab8" stroke-width="1" />
<line x1="128.2" y1="545.0" x2="211.0" y2="545.0" stroke="#4a4ab8" stroke-width="1" />
<line x1="260.5" y1="487.5" x2="260.5" y2="575.0" stroke="#4a4ab8" stroke-width="1" />
<line x1="229.0" y1="548.0" x2="312.0" y2="548.0" stroke="#4a4ab8" stroke-width="1" />
<line x1="369.4" y1="487.5" x2="369.4" y2="575.0" stroke="#4a4ab8" stroke-width="1" />
<line x1="329.4" y1="544.2" x2="414.2" y2="544.2" stroke="#4a4ab8" stroke-width="1" />
<line x1="470.8" y1="487.5" x2="470.8" y2="575.0" stroke="#4a4ab8" stroke-width="1" />
<line x1="430.4" y1="543.3" x2="512.0" y2="543.3" stroke="#4a4ab8" stroke-width="1" />
<text x="0" y="0" font-size="12" font-weight="bold" transform="translate(12.2,590) rotate(-90)">IFNγ</text>
<line x1="8.5" y1="562.0" x2="8.5" y2="534.0" stroke="#000" stroke-width="1.6" />
<path d="M8.5,525.0 L4.5,535.0 L12.5,535.0 Z" fill="#000"/>
<text x="12.0" y="602.5" font-size="12" font-weight="bold" text-anchor="start" fill="#000" >Eomes</text>
<line x1="51.0" y1="598.0" x2="86.0" y2="598.0" stroke="#000" stroke-width="1.6" />
<path d="M95.0,598.0 L85.0,594.0 L85.0,602.0 Z" fill="#000"/>
<text x="0" y="0" font-size="17" font-weight="bold" stroke="#000" stroke-width="0.35" transform="translate(32.5,624.5) scale(0.91,1)">C</text>
<line x1="62.7" y1="631.5" x2="62.7" y2="727.8" stroke="#000" stroke-width="1.2" />
<line x1="58.7" y1="724.8" x2="202.2" y2="724.8" stroke="#000" stroke-width="1.2" />
<line x1="58.7" y1="724.8" x2="62.7" y2="724.8" stroke="#000" stroke-width="1" />
<text x="58.7" y="727.4" font-size="7.5" font-weight="normal" text-anchor="end" fill="#222" >0</text>
<line x1="58.7" y1="706.1" x2="62.7" y2="706.1" stroke="#000" stroke-width="1" />
<text x="58.7" y="708.7" font-size="7.5" font-weight="normal" text-anchor="end" fill="#222" >20</text>
<line x1="58.7" y1="687.5" x2="62.7" y2="687.5" stroke="#000" stroke-width="1" />
<text x="58.7" y="690.1" font-size="7.5" font-weight="normal" text-anchor="end" fill="#222" >40</text>
<line x1="58.7" y1="668.8" x2="62.7" y2="668.8" stroke="#000" stroke-width="1" />
<text x="58.7" y="671.4" font-size="7.5" font-weight="normal" text-anchor="end" fill="#222" >60</text>
<line x1="58.7" y1="650.2" x2="62.7" y2="650.2" stroke="#000" stroke-width="1" />
<text x="58.7" y="652.8" font-size="7.5" font-weight="normal" text-anchor="end" fill="#222" >80</text>
<line x1="58.7" y1="631.5" x2="62.7" y2="631.5" stroke="#000" stroke-width="1" />
<text x="58.7" y="634.1" font-size="7.5" font-weight="normal" text-anchor="end" fill="#222" >100</text>
<line x1="62.7" y1="724.8" x2="62.7" y2="727.8" stroke="#000" stroke-width="1" />
<text x="62.7" y="734.8" font-size="7.5" font-weight="normal" text-anchor="middle" fill="#222" >0</text>
<line x1="109.2" y1="724.8" x2="109.2" y2="727.8" stroke="#000" stroke-width="1" />
<text x="109.2" y="734.8" font-size="7.5" font-weight="normal" text-anchor="middle" fill="#222" >50</text>
<line x1="155.7" y1="724.8" x2="155.7" y2="727.8" stroke="#000" stroke-width="1" />
<text x="155.7" y="734.8" font-size="7.5" font-weight="normal" text-anchor="middle" fill="#222" >100</text>
<line x1="202.2" y1="724.8" x2="202.2" y2="727.8" stroke="#000" stroke-width="1" />
<text x="202.2" y="734.8" font-size="7.5" font-weight="normal" text-anchor="middle" fill="#222" >150</text>
<text x="0" y="0" font-size="7.6" fill="#222" transform="translate(40.3,704.6) rotate(-90)">Percent survival</text>
<text x="132.5" y="748.3" font-size="7.6" font-weight="normal" text-anchor="middle" fill="#222" >Days post transplant</text>
<path d="M62.7,631.5 L85.8,631.5 L85.8,638.5 L88.2,638.5 L88.2,644.6 L89.5,644.6 L89.5,651.0 L94.4,651.0 L94.4,667.7 L118.0,667.7 L118.0,677.0 L120.2,677.0 L120.2,686.2 L138.7,686.2 L138.7,700.0 L165.0,700.0" fill="none" stroke="#000" stroke-width="1.9" stroke-linejoin="miter"/>
<path d="M87.0,637.8 L83.8,643.6 L90.2,643.6 Z" fill="#000"/>
<path d="M89.5,644.8 L86.3,650.6 L92.7,650.6 Z" fill="#000"/>
<path d="M94.4,664.5 L91.2,670.3 L97.6,670.3 Z" fill="#000"/>
<path d="M118.0,673.8 L114.8,679.6 L121.2,679.6 Z" fill="#000"/>
<path d="M120.2,683.0 L117.0,688.8 L123.4,688.8 Z" fill="#000"/>
<path d="M138.7,696.8 L135.5,702.6 L141.9,702.6 Z" fill="#000"/>
<path d="M165.0,696.8 L161.8,702.6 L168.2,702.6 Z" fill="#000"/>
<path d="M62.7,631.5 L84.2,631.5 L84.2,650.8 L89.5,650.8 L89.5,657.0 L90.4,657.0 L90.4,684.6 L96.5,684.6 L96.5,691.4 L107.3,691.4 L107.3,707.7 L121.0,707.7 L121.0,717.0 L162.7,717.0 L162.7,724.6" fill="none" stroke="#000" stroke-width="1.6" stroke-linejoin="miter"/>
<rect x="81.0" y="647.6" width="6.4" height="6.4" fill="#fff" stroke="#000" stroke-width="0.9"/>
<rect x="82.5" y="649.1" width="3.4" height="3.4" fill="none" stroke="#666" stroke-width="0.6"/>
<rect x="86.3" y="653.8" width="6.4" height="6.4" fill="#fff" stroke="#000" stroke-width="0.9"/>
<rect x="87.8" y="655.3" width="3.4" height="3.4" fill="none" stroke="#666" stroke-width="0.6"/>
<rect x="87.8" y="681.4" width="6.4" height="6.4" fill="#fff" stroke="#000" stroke-width="0.9"/>
<rect x="89.3" y="682.9" width="3.4" height="3.4" fill="none" stroke="#666" stroke-width="0.6"/>
<rect x="93.3" y="688.2" width="6.4" height="6.4" fill="#fff" stroke="#000" stroke-width="0.9"/>
<rect x="94.8" y="689.7" width="3.4" height="3.4" fill="none" stroke="#666" stroke-width="0.6"/>
<rect x="104.1" y="704.5" width="6.4" height="6.4" fill="#fff" stroke="#000" stroke-width="0.9"/>
<rect x="105.6" y="706.0" width="3.4" height="3.4" fill="none" stroke="#666" stroke-width="0.6"/>
<rect x="117.8" y="713.8" width="6.4" height="6.4" fill="#fff" stroke="#000" stroke-width="0.9"/>
<rect x="119.3" y="715.3" width="3.4" height="3.4" fill="none" stroke="#666" stroke-width="0.6"/>
<rect x="159.5" y="720.8" width="6.4" height="6.4" fill="#fff" stroke="#000" stroke-width="0.9"/>
<rect x="161.0" y="722.3" width="3.4" height="3.4" fill="none" stroke="#666" stroke-width="0.6"/>
<line x1="156.7" y1="650.4" x2="168.7" y2="650.4" stroke="#000" stroke-width="1.6" />
<path d="M162.8,647.8 L160.2,652.5 L165.4,652.5 Z" fill="#000"/>
<text x="173.4" y="653.4" font-size="7.6" font-weight="normal" text-anchor="start" fill="#222" >Eomes</text>
<line x1="156.7" y1="668.8" x2="168.7" y2="668.8" stroke="#000" stroke-width="1.6" />
<rect x="159.7" y="665.8" width="6.0" height="6.0" fill="#fff" stroke="#000" stroke-width="0.9"/>
<rect x="161.2" y="667.3" width="3.0" height="3.0" fill="none" stroke="#666" stroke-width="0.6"/>
<text x="173.4" y="671.8" font-size="7.6" font-weight="normal" text-anchor="start" fill="#222" >MIG</text>
<text x="165.8" y="713.6" font-size="8" font-weight="normal" text-anchor="start" fill="#222" >p=0.04</text>
<line x1="263.3" y1="631.2" x2="263.3" y2="727.8" stroke="#000" stroke-width="1.2" />
<line x1="259.3" y1="724.8" x2="402.8" y2="724.8" stroke="#000" stroke-width="1.2" />
<line x1="259.3" y1="724.8" x2="263.3" y2="724.8" stroke="#000" stroke-width="1" />
<text x="259.3" y="727.4" font-size="7.5" font-weight="normal" text-anchor="end" fill="#222" >0</text>
<line x1="259.3" y1="706.1" x2="263.3" y2="706.1" stroke="#000" stroke-width="1" />
<text x="259.3" y="708.7" font-size="7.5" font-weight="normal" text-anchor="end" fill="#222" >20</text>
<line x1="259.3" y1="687.4" x2="263.3" y2="687.4" stroke="#000" stroke-width="1" />
<text x="259.3" y="690.0" font-size="7.5" font-weight="normal" text-anchor="end" fill="#222" >40</text>
<line x1="259.3" y1="668.6" x2="263.3" y2="668.6" stroke="#000" stroke-width="1" />
<text x="259.3" y="671.2" font-size="7.5" font-weight="normal" text-anchor="end" fill="#222" >60</text>
<line x1="259.3" y1="649.9" x2="263.3" y2="649.9" stroke="#000" stroke-width="1" />
<text x="259.3" y="652.5" font-size="7.5" font-weight="normal" text-anchor="end" fill="#222" >80</text>
<line x1="259.3" y1="631.2" x2="263.3" y2="631.2" stroke="#000" stroke-width="1" />
<text x="259.3" y="633.8" font-size="7.5" font-weight="normal" text-anchor="end" fill="#222" >100</text>
<line x1="263.3" y1="724.8" x2="263.3" y2="727.8" stroke="#000" stroke-width="1" />
<text x="263.3" y="734.8" font-size="7.5" font-weight="normal" text-anchor="middle" fill="#222" >0</text>
<line x1="309.8" y1="724.8" x2="309.8" y2="727.8" stroke="#000" stroke-width="1" />
<text x="309.8" y="734.8" font-size="7.5" font-weight="normal" text-anchor="middle" fill="#222" >50</text>
<line x1="356.3" y1="724.8" x2="356.3" y2="727.8" stroke="#000" stroke-width="1" />
<text x="356.3" y="734.8" font-size="7.5" font-weight="normal" text-anchor="middle" fill="#222" >100</text>
<line x1="402.8" y1="724.8" x2="402.8" y2="727.8" stroke="#000" stroke-width="1" />
<text x="402.8" y="734.8" font-size="7.5" font-weight="normal" text-anchor="middle" fill="#222" >150</text>
<text x="0" y="0" font-size="7.6" fill="#222" transform="translate(240.2,704.6) rotate(-90)">Percent survival</text>
<text x="333.3" y="748.3" font-size="7.6" font-weight="normal" text-anchor="middle" fill="#222" >Days post transplant</text>
<path d="M263.3,631.2 L286.5,631.2 L286.5,638.0 L288.5,638.0 L288.5,645.0 L290.4,645.0 L290.4,653.5 L295.4,653.5 L295.4,668.8 L298.0,668.8 L298.0,676.5 L321.0,676.5 L321.0,687.3 L340.4,687.3 L340.4,696.5 L365.4,696.5" fill="none" stroke="#000" stroke-width="1.9" stroke-linejoin="miter"/>
<path d="M286.5,634.8 L283.3,640.6 L289.7,640.6 Z" fill="#000"/>
<path d="M288.5,641.8 L285.3,647.6 L291.7,647.6 Z" fill="#000"/>
<path d="M290.4,650.3 L287.2,656.1 L293.6,656.1 Z" fill="#000"/>
<path d="M295.4,665.6 L292.2,671.4 L298.6,671.4 Z" fill="#000"/>
<path d="M321.0,684.1 L317.8,689.9 L324.2,689.9 Z" fill="#000"/>
<path d="M340.4,693.3 L337.2,699.1 L343.6,699.1 Z" fill="#000"/>
<path d="M365.4,693.3 L362.2,699.1 L368.6,699.1 Z" fill="#000"/>
<path d="M263.3,631.2 L271.0,631.2 L271.0,638.0 L276.0,638.0 L276.0,646.5 L283.8,646.5 L283.8,653.5 L285.8,653.5 L285.8,662.0 L290.4,662.0 L290.4,676.5 L307.7,676.5 L307.7,688.0 L321.0,688.0 L321.0,700.4 L354.6,700.4 L354.6,712.0 L365.4,712.0" fill="none" stroke="#000" stroke-width="1.9" stroke-linejoin="miter"/>
<path d="M271.0,641.2 L267.8,635.4 L274.2,635.4 Z" fill="#000"/>
<path d="M276.0,649.7 L272.8,643.9 L279.2,643.9 Z" fill="#000"/>
<path d="M283.8,658.2 L280.6,652.4 L287.0,652.4 Z" fill="#000"/>
<path d="M285.8,665.2 L282.6,659.4 L289.0,659.4 Z" fill="#000"/>
<path d="M290.4,679.7 L287.2,673.9 L293.6,673.9 Z" fill="#000"/>
<path d="M296.0,679.7 L292.8,673.9 L299.2,673.9 Z" fill="#000"/>
<path d="M307.7,691.2 L304.5,685.4 L310.9,685.4 Z" fill="#000"/>
<path d="M321.0,703.6 L317.8,697.8 L324.2,697.8 Z" fill="#000"/>
<path d="M354.6,715.2 L351.4,709.4 L357.8,709.4 Z" fill="#000"/>
<path d="M365.4,715.2 L362.2,709.4 L368.6,709.4 Z" fill="#000"/>
<line x1="353.8" y1="652.3" x2="366.5" y2="652.3" stroke="#000" stroke-width="1.6" />
<path d="M360.0,649.7 L357.4,654.4 L362.6,654.4 Z" fill="#000"/>
<text x="370.3" y="655.0" font-size="7.6" font-weight="normal" text-anchor="start" fill="#222" >Eomes</text>
<line x1="353.8" y1="669.6" x2="366.5" y2="669.6" stroke="#000" stroke-width="1.6" />
<path d="M360.0,672.2 L357.4,667.5 L362.6,667.5 Z" fill="#000"/>
<text x="370.3" y="672.3" font-size="7.6" font-weight="normal" text-anchor="start" fill="#222" >Tbet</text>
<text x="378.8" y="709.0" font-size="8" font-weight="normal" text-anchor="start" fill="#222" >p=0.29</text>
<text x="0" y="0" font-size="17" font-weight="bold" stroke="#000" stroke-width="0.35" transform="translate(24.6,764.2) scale(0.91,1)">D</text>
<text x="23.7" y="779.5" font-size="6.5" font-weight="bold" text-anchor="start" fill="#000" >No NK</text>
<text x="143.0" y="779.5" font-size="6.5" font-weight="bold" text-anchor="start" fill="#000" >Empty RV</text>
<text x="23.7" y="870.5" font-size="6.3" font-weight="bold" text-anchor="start" fill="#000" >Eomes</text>
<text x="143.0" y="870.5" font-size="6.5" font-weight="bold" text-anchor="start" fill="#000" >T-bet</text>
<defs><filter id="mb" x="-30%" y="-30%" width="160%" height="160%"><feGaussianBlur stdDeviation="0.9"/></filter><filter id="mb2" x="-30%" y="-30%" width="160%" height="160%"><feGaussianBlur stdDeviation="1.6"/></filter><filter id="mb3" x="-30%" y="-30%" width="160%" height="160%"><feGaussianBlur stdDeviation="0.6"/></filter></defs>
<defs><filter id="rough" x="-10%" y="-10%" width="120%" height="120%"><feTurbulence type="fractalNoise" baseFrequency="0.28" numOctaves="2" seed="5" result="t"/><feDisplacementMap in="SourceGraphic" in2="t" scale="5" xChannelSelector="R" yChannelSelector="G"/><feGaussianBlur stdDeviation="0.35"/></filter><filter id="mtex" x="-10%" y="-10%" width="120%" height="120%"><feTurbulence type="fractalNoise" baseFrequency="0.5" numOctaves="2" seed="9" result="t"/><feDisplacementMap in="SourceGraphic" in2="t" scale="2.5" xChannelSelector="R" yChannelSelector="G"/><feGaussianBlur stdDeviation="0.5"/></filter></defs>
<clipPath id="pc1"><rect x="19.8" y="782.3" width="112.8" height="65.7"/></clipPath><g clip-path="url(#pc1)"><rect x="19.8" y="782.3" width="112.8" height="65.7" fill="#141414"/><g filter="url(#mtex)"><path d="M28.8,841.5 L20.8,845.0 M47.2,841.5 L55.2,845.0 M38.0,842.5 L38.0,848.5" stroke="#b0b0b0" stroke-width="1.5" fill="none" filter="url(#mb3)"/><path d="M38.0,783.5 C39.5,783.5 40.5,787.5 41.5,791.5 C44.0,792.0 47.5,793.5 47.5,796.5 C47.5,799.0 46.0,799.5 46.0,800.5 C50.2,802.5 51.2,807.5 50.8,813.5 C51.2,823.5 51.8,834.5 49.2,841.5 L40.0,843.5 L36.0,843.5 L26.8,841.5 C24.2,834.5 24.8,823.5 25.2,813.5 C24.8,807.5 25.8,802.5 30.0,800.5 C30.0,799.5 28.5,799.0 28.5,796.5 C28.5,793.5 32.0,792.0 34.5,791.5 C35.5,787.5 36.5,783.5 38.0,783.5 Z" fill="#ababab" filter="url(#mb3)"/><ellipse cx="38.0" cy="820.0" rx="9.8" ry="20.2" fill="#ececec" filter="url(#mb2)"/><ellipse cx="38.0" cy="791.5" rx="2.5" ry="5" fill="#c8c8c8" filter="url(#mb3)"/><path d="M54.1,841.5 L46.1,845.0 M72.7,841.5 L80.7,845.0 M63.4,842.5 L63.4,848.5" stroke="#b0b0b0" stroke-width="1.5" fill="none" filter="url(#mb3)"/><path d="M63.4,783.5 C64.9,783.5 65.9,787.5 66.9,791.5 C69.4,792.0 72.9,793.5 72.9,796.5 C72.9,799.0 71.4,799.5 71.4,800.5 C75.7,802.5 76.7,807.5 76.2,813.5 C76.7,823.5 77.2,834.5 74.7,841.5 L65.4,843.5 L61.4,843.5 L52.1,841.5 C49.6,834.5 50.1,823.5 50.6,813.5 C50.1,807.5 51.1,802.5 55.4,800.5 C55.4,799.5 53.9,799.0 53.9,796.5 C53.9,793.5 57.4,792.0 59.9,791.5 C60.9,787.5 61.9,783.5 63.4,783.5 Z" fill="#ababab" filter="url(#mb3)"/><ellipse cx="63.4" cy="820.0" rx="9.8" ry="20.2" fill="#ececec" filter="url(#mb2)"/><ellipse cx="63.4" cy="791.5" rx="2.5" ry="5" fill="#c8c8c8" filter="url(#mb3)"/><path d="M82.5,841.5 L74.5,845.0 M101.0,841.5 L109.0,845.0 M91.7,842.5 L91.7,848.5" stroke="#b0b0b0" stroke-width="1.5" fill="none" filter="url(#mb3)"/><path d="M91.7,783.5 C93.2,783.5 94.2,787.5 95.2,791.5 C97.7,792.0 101.2,793.5 101.2,796.5 C101.2,799.0 99.7,799.5 99.7,800.5 C104.0,802.5 105.0,807.5 104.5,813.5 C105.0,823.5 105.5,834.5 103.0,841.5 L93.7,843.5 L89.7,843.5 L80.5,841.5 C78.0,834.5 78.5,823.5 79.0,813.5 C78.5,807.5 79.5,802.5 83.7,800.5 C83.7,799.5 82.2,799.0 82.2,796.5 C82.2,793.5 85.7,792.0 88.2,791.5 C89.2,787.5 90.2,783.5 91.7,783.5 Z" fill="#ababab" filter="url(#mb3)"/><ellipse cx="91.7" cy="820.0" rx="9.8" ry="20.2" fill="#ececec" filter="url(#mb2)"/><ellipse cx="91.7" cy="791.5" rx="2.5" ry="5" fill="#c8c8c8" filter="url(#mb3)"/><path d="M111.8,841.5 L103.8,845.0 M130.2,841.5 L138.2,845.0 M121.0,842.5 L121.0,848.5" stroke="#b0b0b0" stroke-width="1.5" fill="none" filter="url(#mb3)"/><path d="M121.0,783.5 C122.5,783.5 123.5,787.5 124.5,791.5 C127.0,792.0 130.5,793.5 130.5,796.5 C130.5,799.0 129.0,799.5 129.0,800.5 C133.2,802.5 134.2,807.5 133.8,813.5 C134.2,823.5 134.8,834.5 132.2,841.5 L123.0,843.5 L119.0,843.5 L109.8,841.5 C107.2,834.5 107.8,823.5 108.2,813.5 C107.8,807.5 108.8,802.5 113.0,800.5 C113.0,799.5 111.5,799.0 111.5,796.5 C111.5,793.5 115.0,792.0 117.5,791.5 C118.5,787.5 119.5,783.5 121.0,783.5 Z" fill="#ababab" filter="url(#mb3)"/><ellipse cx="121.0" cy="820.0" rx="9.8" ry="20.2" fill="#ececec" filter="url(#mb2)"/><ellipse cx="121.0" cy="791.5" rx="2.5" ry="5" fill="#c8c8c8" filter="url(#mb3)"/></g><g filter="url(#rough)"><ellipse cx="38.0" cy="818.0" rx="9.0" ry="8.0" fill="#6a4ad8" opacity="0.45" filter="url(#mb2)"/><ellipse cx="63.0" cy="820.0" rx="9.0" ry="8.0" fill="#6a4ad8" opacity="0.35" filter="url(#mb2)"/><ellipse cx="121.0" cy="818.0" rx="8.0" ry="8.0" fill="#6a4ad8" opacity="0.25" filter="url(#mb2)"/><ellipse cx="38.0" cy="805.0" rx="13.0" ry="11.1" fill="#7a3fd0" opacity="0.55" filter="url(#mb)"/><ellipse cx="38.0" cy="805.0" rx="10.0" ry="8.5" fill="#2020f0"/><ellipse cx="38.0" cy="805.0" rx="6.2" ry="5.3" fill="#18b8f0"/><ellipse cx="36.0" cy="803.0" rx="3.9" ry="3.9" fill="#7a3fd0" opacity="0.55" filter="url(#mb)"/><ellipse cx="36.0" cy="803.0" rx="3.0" ry="3.0" fill="#2020f0"/><ellipse cx="36.0" cy="803.0" rx="2.2" ry="2.2" fill="#18b8f0"/><ellipse cx="36.0" cy="803.0" rx="1.5" ry="1.5" fill="#40e040"/><ellipse cx="42.0" cy="807.0" rx="3.9" ry="3.9" fill="#7a3fd0" opacity="0.55" filter="url(#mb)"/><ellipse cx="42.0" cy="807.0" rx="3.0" ry="3.0" fill="#2020f0"/><ellipse cx="42.0" cy="807.0" rx="2.2" ry="2.2" fill="#18b8f0"/><ellipse cx="42.0" cy="807.0" rx="1.5" ry="1.5" fill="#40e040"/><ellipse cx="38.0" cy="834.0" rx="13.0" ry="11.7" fill="#7a3fd0" opacity="0.55" filter="url(#mb)"/><ellipse cx="38.0" cy="834.0" rx="10.0" ry="9.0" fill="#2020f0"/><ellipse cx="29.5" cy="831.0" rx="7.2" ry="7.8" fill="#7a3fd0" opacity="0.55" filter="url(#mb)"/><ellipse cx="29.5" cy="831.0" rx="5.5" ry="6.0" fill="#2020f0"/><ellipse cx="29.5" cy="831.0" rx="4.7" ry="5.1" fill="#18b8f0"/><ellipse cx="29.5" cy="831.0" rx="3.8" ry="4.2" fill="#40e040"/><ellipse cx="29.5" cy="831.0" rx="3.0" ry="3.3" fill="#f0e020"/><ellipse cx="29.5" cy="831.0" rx="2.2" ry="2.4" fill="#e82010"/><ellipse cx="45.0" cy="831.0" rx="6.5" ry="7.8" fill="#7a3fd0" opacity="0.55" filter="url(#mb)"/><ellipse cx="45.0" cy="831.0" rx="5.0" ry="6.0" fill="#2020f0"/><ellipse cx="45.0" cy="831.0" rx="4.2" ry="5.1" fill="#18b8f0"/><ellipse cx="45.0" cy="831.0" rx="3.5" ry="4.2" fill="#40e040"/><ellipse cx="45.0" cy="831.0" rx="2.8" ry="3.3" fill="#f0e020"/><ellipse cx="45.0" cy="831.0" rx="2.0" ry="2.4" fill="#e82010"/><ellipse cx="63.0" cy="805.0" rx="13.7" ry="12.3" fill="#7a3fd0" opacity="0.55" filter="url(#mb)"/><ellipse cx="63.0" cy="805.0" rx="10.5" ry="9.5" fill="#2020f0"/><ellipse cx="63.0" cy="805.0" rx="6.6" ry="5.9" fill="#18b8f0"/><ellipse cx="60.0" cy="804.0" rx="5.2" ry="5.2" fill="#7a3fd0" opacity="0.55" filter="url(#mb)"/><ellipse cx="60.0" cy="804.0" rx="4.0" ry="4.0" fill="#2020f0"/><ellipse cx="60.0" cy="804.0" rx="3.0" ry="3.0" fill="#18b8f0"/><ellipse cx="60.0" cy="804.0" rx="2.0" ry="2.0" fill="#40e040"/><ellipse cx="67.0" cy="806.0" rx="5.2" ry="5.2" fill="#7a3fd0" opacity="0.55" filter="url(#mb)"/><ellipse cx="67.0" cy="806.0" rx="4.0" ry="4.0" fill="#2020f0"/><ellipse cx="67.0" cy="806.0" rx="3.0" ry="3.0" fill="#18b8f0"/><ellipse cx="67.0" cy="806.0" rx="2.0" ry="2.0" fill="#40e040"/><ellipse cx="63.0" cy="812.0" rx="3.2" ry="3.2" fill="#7a3fd0" opacity="0.55" filter="url(#mb)"/><ellipse cx="63.0" cy="812.0" rx="2.5" ry="2.5" fill="#2020f0"/><ellipse cx="63.0" cy="812.0" rx="1.6" ry="1.6" fill="#18b8f0"/><ellipse cx="55.0" cy="834.0" rx="6.5" ry="9.1" fill="#7a3fd0" opacity="0.55" filter="url(#mb)"/><ellipse cx="55.0" cy="834.0" rx="5.0" ry="7.0" fill="#2020f0"/><ellipse cx="55.0" cy="834.0" rx="3.1" ry="4.4" fill="#18b8f0"/><ellipse cx="69.0" cy="833.0" rx="8.5" ry="9.8" fill="#7a3fd0" opacity="0.55" filter="url(#mb)"/><ellipse cx="69.0" cy="833.0" rx="6.5" ry="7.5" fill="#2020f0"/><ellipse cx="69.0" cy="833.0" rx="5.5" ry="6.4" fill="#18b8f0"/><ellipse cx="69.0" cy="833.0" rx="4.5" ry="5.2" fill="#40e040"/><ellipse cx="69.0" cy="833.0" rx="3.6" ry="4.1" fill="#f0e020"/><ellipse cx="69.0" cy="833.0" rx="2.6" ry="3.0" fill="#e82010"/><ellipse cx="62.0" cy="840.0" rx="6.5" ry="5.2" fill="#7a3fd0" opacity="0.55" filter="url(#mb)"/><ellipse cx="62.0" cy="840.0" rx="5.0" ry="4.0" fill="#2020f0"/><ellipse cx="92.0" cy="800.0" rx="13.0" ry="10.4" fill="#7a3fd0" opacity="0.55" filter="url(#mb)"/><ellipse cx="92.0" cy="800.0" rx="10.0" ry="8.0" fill="#2020f0"/><ellipse cx="92.0" cy="800.0" rx="6.2" ry="5.0" fill="#18b8f0"/><ellipse cx="90.0" cy="800.0" rx="3.9" ry="3.9" fill="#7a3fd0" opacity="0.55" filter="url(#mb)"/><ellipse cx="90.0" cy="800.0" rx="3.0" ry="3.0" fill="#2020f0"/><ellipse cx="90.0" cy="800.0" rx="2.2" ry="2.2" fill="#18b8f0"/><ellipse cx="90.0" cy="800.0" rx="1.5" ry="1.5" fill="#40e040"/><ellipse cx="96.0" cy="803.0" rx="3.2" ry="3.2" fill="#7a3fd0" opacity="0.55" filter="url(#mb)"/><ellipse cx="96.0" cy="803.0" rx="2.5" ry="2.5" fill="#2020f0"/><ellipse cx="96.0" cy="803.0" rx="1.9" ry="1.9" fill="#18b8f0"/><ellipse cx="96.0" cy="803.0" rx="1.2" ry="1.2" fill="#40e040"/><ellipse cx="85.0" cy="829.0" rx="7.8" ry="7.8" fill="#7a3fd0" opacity="0.55" filter="url(#mb)"/><ellipse cx="85.0" cy="829.0" rx="6.0" ry="6.0" fill="#2020f0"/><ellipse cx="85.0" cy="829.0" rx="3.8" ry="3.8" fill="#18b8f0"/><ellipse cx="100.0" cy="827.0" rx="5.9" ry="7.2" fill="#7a3fd0" opacity="0.55" filter="url(#mb)"/><ellipse cx="100.0" cy="827.0" rx="4.5" ry="5.5" fill="#2020f0"/><ellipse cx="121.0" cy="803.0" rx="10.4" ry="9.1" fill="#7a3fd0" opacity="0.55" filter="url(#mb)"/><ellipse cx="121.0" cy="803.0" rx="8.0" ry="7.0" fill="#2020f0"/><ellipse cx="119.0" cy="801.0" rx="2.6" ry="2.6" fill="#7a3fd0" opacity="0.55" filter="url(#mb)"/><ellipse cx="119.0" cy="801.0" rx="2.0" ry="2.0" fill="#2020f0"/><ellipse cx="119.0" cy="801.0" rx="1.2" ry="1.2" fill="#18b8f0"/><ellipse cx="124.0" cy="806.0" rx="2.6" ry="2.6" fill="#7a3fd0" opacity="0.55" filter="url(#mb)"/><ellipse cx="124.0" cy="806.0" rx="2.0" ry="2.0" fill="#2020f0"/><ellipse cx="124.0" cy="806.0" rx="1.2" ry="1.2" fill="#18b8f0"/><ellipse cx="128.0" cy="827.0" rx="6.5" ry="7.8" fill="#7a3fd0" opacity="0.55" filter="url(#mb)"/><ellipse cx="128.0" cy="827.0" rx="5.0" ry="6.0" fill="#2020f0"/><ellipse cx="121.0" cy="838.0" rx="5.2" ry="5.2" fill="#7a3fd0" opacity="0.55" filter="url(#mb)"/><ellipse cx="121.0" cy="838.0" rx="4.0" ry="4.0" fill="#2020f0"/></g><rect x="39.4" y="814.7" width="1.2" height="1.2" fill="#d8c8f8" opacity="0.8"/><rect x="36.2" y="811.2" width="1.2" height="1.2" fill="#b090f0" opacity="0.8"/><rect x="34.6" y="820.0" width="1.2" height="1.2" fill="#6040e0" opacity="0.8"/><rect x="32.0" y="816.1" width="1.2" height="1.2" fill="#9a70f0" opacity="0.8"/><rect x="39.1" y="816.6" width="1.2" height="1.2" fill="#b090f0" opacity="0.8"/><rect x="38.8" y="817.8" width="1.2" height="1.2" fill="#9a70f0" opacity="0.8"/><rect x="39.9" y="810.8" width="1.2" height="1.2" fill="#d8c8f8" opacity="0.8"/><rect x="32.3" y="812.7" width="1.2" height="1.2" fill="#9a70f0" opacity="0.8"/><rect x="32.8" y="812.1" width="1.2" height="1.2" fill="#6040e0" opacity="0.8"/><rect x="43.9" y="818.7" width="1.2" height="1.2" fill="#9a70f0" opacity="0.8"/><rect x="40.5" y="814.7" width="1.2" height="1.2" fill="#9a70f0" opacity="0.8"/><rect x="33.1" y="819.1" width="1.2" height="1.2" fill="#d8c8f8" opacity="0.8"/><rect x="39.5" y="817.1" width="1.2" height="1.2" fill="#9a70f0" opacity="0.8"/><rect x="34.0" y="813.4" width="1.2" height="1.2" fill="#6040e0" opacity="0.8"/><rect x="33.2" y="815.1" width="1.2" height="1.2" fill="#9a70f0" opacity="0.8"/><rect x="45.3" y="818.2" width="1.2" height="1.2" fill="#d8c8f8" opacity="0.8"/><rect x="43.4" y="814.2" width="1.2" height="1.2" fill="#d8c8f8" opacity="0.8"/><rect x="36.8" y="821.1" width="1.2" height="1.2" fill="#6040e0" opacity="0.8"/><rect x="42.7" y="813.9" width="1.2" height="1.2" fill="#9a70f0" opacity="0.8"/><rect x="38.6" y="820.8" width="1.2" height="1.2" fill="#b090f0" opacity="0.8"/><rect x="34.9" y="816.6" width="1.2" height="1.2" fill="#b090f0" opacity="0.8"/><rect x="38.2" y="810.2" width="1.2" height="1.2" fill="#d8c8f8" opacity="0.8"/><rect x="45.9" y="814.7" width="1.2" height="1.2" fill="#d8c8f8" opacity="0.8"/><rect x="32.2" y="817.5" width="1.2" height="1.2" fill="#b090f0" opacity="0.8"/><rect x="35.7" y="815.6" width="1.2" height="1.2" fill="#6040e0" opacity="0.8"/><rect x="41.1" y="823.9" width="1.2" height="1.2" fill="#9a70f0" opacity="0.8"/><rect x="45.4" y="818.8" width="1.2" height="1.2" fill="#9a70f0" opacity="0.8"/><rect x="41.2" y="816.0" width="1.2" height="1.2" fill="#9a70f0" opacity="0.8"/><rect x="31.3" y="814.4" width="1.2" height="1.2" fill="#6040e0" opacity="0.8"/><rect x="39.5" y="815.6" width="1.2" height="1.2" fill="#d8c8f8" opacity="0.8"/><rect x="43.0" y="818.7" width="1.2" height="1.2" fill="#b090f0" opacity="0.8"/><rect x="43.0" y="816.0" width="1.2" height="1.2" fill="#b090f0" opacity="0.8"/><rect x="34.9" y="813.7" width="1.2" height="1.2" fill="#6040e0" opacity="0.8"/><rect x="44.6" y="813.0" width="1.2" height="1.2" fill="#d8c8f8" opacity="0.8"/><rect x="43.5" y="820.8" width="1.2" height="1.2" fill="#9a70f0" opacity="0.8"/><rect x="41.8" y="818.6" width="1.2" height="1.2" fill="#d8c8f8" opacity="0.8"/><rect x="68.4" y="825.7" width="1.2" height="1.2" fill="#b090f0" opacity="0.8"/><rect x="63.5" y="825.0" width="1.2" height="1.2" fill="#6040e0" opacity="0.8"/><rect x="60.2" y="819.1" width="1.2" height="1.2" fill="#6040e0" opacity="0.8"/><rect x="57.3" y="824.6" width="1.2" height="1.2" fill="#d8c8f8" opacity="0.8"/><rect x="69.0" y="821.8" width="1.2" height="1.2" fill="#9a70f0" opacity="0.8"/><rect x="65.3" y="821.2" width="1.2" height="1.2" fill="#d8c8f8" opacity="0.8"/><rect x="67.5" y="818.2" width="1.2" height="1.2" fill="#6040e0" opacity="0.8"/><rect x="63.5" y="819.3" width="1.2" height="1.2" fill="#d8c8f8" opacity="0.8"/><rect x="65.1" y="816.7" width="1.2" height="1.2" fill="#9a70f0" opacity="0.8"/><rect x="57.2" y="825.9" width="1.2" height="1.2" fill="#d8c8f8" opacity="0.8"/><rect x="66.7" y="826.4" width="1.2" height="1.2" fill="#9a70f0" opacity="0.8"/><rect x="59.4" y="818.1" width="1.2" height="1.2" fill="#6040e0" opacity="0.8"/><rect x="56.3" y="820.7" width="1.2" height="1.2" fill="#9a70f0" opacity="0.8"/><rect x="54.9" y="817.3" width="1.2" height="1.2" fill="#6040e0" opacity="0.8"/><rect x="69.8" y="824.6" width="1.2" height="1.2" fill="#b090f0" opacity="0.8"/><rect x="68.5" y="818.0" width="1.2" height="1.2" fill="#b090f0" opacity="0.8"/><rect x="60.2" y="814.2" width="1.2" height="1.2" fill="#d8c8f8" opacity="0.8"/><rect x="66.8" y="812.8" width="1.2" height="1.2" fill="#b090f0" opacity="0.8"/><rect x="69.0" y="825.4" width="1.2" height="1.2" fill="#9a70f0" opacity="0.8"/><rect x="57.6" y="819.7" width="1.2" height="1.2" fill="#9a70f0" opacity="0.8"/><rect x="62.0" y="822.1" width="1.2" height="1.2" fill="#b090f0" opacity="0.8"/><rect x="55.1" y="822.0" width="1.2" height="1.2" fill="#b090f0" opacity="0.8"/><rect x="57.2" y="823.8" width="1.2" height="1.2" fill="#9a70f0" opacity="0.8"/><rect x="66.4" y="815.6" width="1.2" height="1.2" fill="#d8c8f8" opacity="0.8"/><rect x="68.7" y="821.7" width="1.2" height="1.2" fill="#9a70f0" opacity="0.8"/><rect x="59.9" y="821.7" width="1.2" height="1.2" fill="#d8c8f8" opacity="0.8"/><rect x="68.1" y="819.6" width="1.2" height="1.2" fill="#9a70f0" opacity="0.8"/><rect x="63.0" y="823.6" width="1.2" height="1.2" fill="#b090f0" opacity="0.8"/><rect x="71.3" y="821.9" width="1.2" height="1.2" fill="#d8c8f8" opacity="0.8"/><rect x="65.6" y="822.6" width="1.2" height="1.2" fill="#6040e0" opacity="0.8"/><rect x="63.7" y="826.2" width="1.2" height="1.2" fill="#d8c8f8" opacity="0.8"/><rect x="62.0" y="824.5" width="1.2" height="1.2" fill="#b090f0" opacity="0.8"/><rect x="62.2" y="822.0" width="1.2" height="1.2" fill="#6040e0" opacity="0.8"/><rect x="68.3" y="818.5" width="1.2" height="1.2" fill="#9a70f0" opacity="0.8"/><rect x="56.5" y="817.5" width="1.2" height="1.2" fill="#9a70f0" opacity="0.8"/><rect x="69.5" y="815.8" width="1.2" height="1.2" fill="#9a70f0" opacity="0.8"/><rect x="115.3" y="813.4" width="1.2" height="1.2" fill="#6040e0" opacity="0.8"/><rect x="119.9" y="815.8" width="1.2" height="1.2" fill="#d8c8f8" opacity="0.8"/><rect x="118.0" y="816.2" width="1.2" height="1.2" fill="#6040e0" opacity="0.8"/><rect x="122.3" y="816.8" width="1.2" height="1.2" fill="#d8c8f8" opacity="0.8"/><rect x="115.4" y="814.5" width="1.2" height="1.2" fill="#6040e0" opacity="0.8"/><rect x="115.6" y="812.9" width="1.2" height="1.2" fill="#6040e0" opacity="0.8"/><rect x="118.1" y="814.2" width="1.2" height="1.2" fill="#6040e0" opacity="0.8"/><rect x="121.1" y="820.5" width="1.2" height="1.2" fill="#9a70f0" opacity="0.8"/><rect x="121.1" y="816.7" width="1.2" height="1.2" fill="#6040e0" opacity="0.8"/><rect x="120.0" y="816.9" width="1.2" height="1.2" fill="#d8c8f8" opacity="0.8"/><rect x="126.6" y="816.0" width="1.2" height="1.2" fill="#6040e0" opacity="0.8"/><rect x="127.6" y="822.2" width="1.2" height="1.2" fill="#9a70f0" opacity="0.8"/><rect x="120.8" y="810.2" width="1.2" height="1.2" fill="#d8c8f8" opacity="0.8"/><rect x="116.2" y="817.7" width="1.2" height="1.2" fill="#6040e0" opacity="0.8"/><rect x="121.5" y="811.3" width="1.2" height="1.2" fill="#6040e0" opacity="0.8"/><rect x="120.2" y="818.2" width="1.2" height="1.2" fill="#9a70f0" opacity="0.8"/><rect x="114.9" y="821.7" width="1.2" height="1.2" fill="#6040e0" opacity="0.8"/><rect x="117.9" y="812.2" width="1.2" height="1.2" fill="#6040e0" opacity="0.8"/><rect x="115.5" y="816.4" width="1.2" height="1.2" fill="#6040e0" opacity="0.8"/><rect x="124.4" y="820.9" width="1.2" height="1.2" fill="#b090f0" opacity="0.8"/><rect x="117.7" y="812.5" width="1.2" height="1.2" fill="#6040e0" opacity="0.8"/><rect x="115.4" y="817.8" width="1.2" height="1.2" fill="#b090f0" opacity="0.8"/><rect x="127.1" y="818.2" width="1.2" height="1.2" fill="#d8c8f8" opacity="0.8"/><rect x="122.1" y="814.1" width="1.2" height="1.2" fill="#d8c8f8" opacity="0.8"/><rect x="125.3" y="824.4" width="1.2" height="1.2" fill="#b090f0" opacity="0.8"/><rect x="119.0" y="822.4" width="1.2" height="1.2" fill="#6040e0" opacity="0.8"/><rect x="117.2" y="812.9" width="1.2" height="1.2" fill="#b090f0" opacity="0.8"/><rect x="117.9" y="811.9" width="1.2" height="1.2" fill="#d8c8f8" opacity="0.8"/><rect x="123.9" y="813.2" width="1.2" height="1.2" fill="#9a70f0" opacity="0.8"/><rect x="124.4" y="817.1" width="1.2" height="1.2" fill="#d8c8f8" opacity="0.8"/><rect x="126.2" y="823.0" width="1.2" height="1.2" fill="#9a70f0" opacity="0.8"/><rect x="116.0" y="820.6" width="1.2" height="1.2" fill="#d8c8f8" opacity="0.8"/></g>
<clipPath id="pc2"><rect x="140" y="783" width="123.6" height="66.5"/></clipPath><g clip-path="url(#pc2)"><rect x="140" y="783" width="123.6" height="66.5" fill="#141414"/><g filter="url(#mtex)"><path d="M147.2,843.0 L139.2,846.5 M165.8,843.0 L173.8,846.5 M156.5,844.0 L156.5,850.0" stroke="#b0b0b0" stroke-width="1.5" fill="none" filter="url(#mb3)"/><path d="M156.5,784.2 C158.0,784.2 159.0,788.2 160.0,792.2 C162.5,792.7 166.0,794.2 166.0,797.2 C166.0,799.7 164.5,800.2 164.5,801.2 C168.8,803.2 169.8,808.2 169.2,814.2 C169.8,824.2 170.2,836.0 167.8,843.0 L158.5,845.0 L154.5,845.0 L145.2,843.0 C142.8,836.0 143.2,824.2 143.8,814.2 C143.2,808.2 144.2,803.2 148.5,801.2 C148.5,800.2 147.0,799.7 147.0,797.2 C147.0,794.2 150.5,792.7 153.0,792.2 C154.0,788.2 155.0,784.2 156.5,784.2 Z" fill="#ababab" filter="url(#mb3)"/><ellipse cx="156.5" cy="821.2" rx="9.8" ry="20.4" fill="#ececec" filter="url(#mb2)"/><ellipse cx="156.5" cy="792.2" rx="2.5" ry="5" fill="#c8c8c8" filter="url(#mb3)"/><path d="M175.6,843.0 L167.6,846.5 M194.1,843.0 L202.1,846.5 M184.8,844.0 L184.8,850.0" stroke="#b0b0b0" stroke-width="1.5" fill="none" filter="url(#mb3)"/><path d="M184.8,784.2 C186.3,784.2 187.3,788.2 188.3,792.2 C190.8,792.7 194.3,794.2 194.3,797.2 C194.3,799.7 192.8,800.2 192.8,801.2 C197.1,803.2 198.1,808.2 197.6,814.2 C198.1,824.2 198.6,836.0 196.1,843.0 L186.8,845.0 L182.8,845.0 L173.6,843.0 C171.1,836.0 171.6,824.2 172.1,814.2 C171.6,808.2 172.6,803.2 176.8,801.2 C176.8,800.2 175.3,799.7 175.3,797.2 C175.3,794.2 178.8,792.7 181.3,792.2 C182.3,788.2 183.3,784.2 184.8,784.2 Z" fill="#ababab" filter="url(#mb3)"/><ellipse cx="184.8" cy="821.2" rx="9.8" ry="20.4" fill="#ececec" filter="url(#mb2)"/><ellipse cx="184.8" cy="792.2" rx="2.5" ry="5" fill="#c8c8c8" filter="url(#mb3)"/><path d="M205.1,843.0 L197.1,846.5 M223.6,843.0 L231.6,846.5 M214.3,844.0 L214.3,850.0" stroke="#b0b0b0" stroke-width="1.5" fill="none" filter="url(#mb3)"/><path d="M214.3,784.2 C215.8,784.2 216.8,788.2 217.8,792.2 C220.3,792.7 223.8,794.2 223.8,797.2 C223.8,799.7 222.3,800.2 222.3,801.2 C226.6,803.2 227.6,808.2 227.1,814.2 C227.6,824.2 228.1,836.0 225.6,843.0 L216.3,845.0 L212.3,845.0 L203.1,843.0 C200.6,836.0 201.1,824.2 201.6,814.2 C201.1,808.2 202.1,803.2 206.3,801.2 C206.3,800.2 204.8,799.7 204.8,797.2 C204.8,794.2 208.3,792.7 210.8,792.2 C211.8,788.2 212.8,784.2 214.3,784.2 Z" fill="#ababab" filter="url(#mb3)"/><ellipse cx="214.3" cy="821.2" rx="9.8" ry="20.4" fill="#ececec" filter="url(#mb2)"/><ellipse cx="214.3" cy="792.2" rx="2.5" ry="5" fill="#c8c8c8" filter="url(#mb3)"/><path d="M233.4,843.0 L225.4,846.5 M251.9,843.0 L259.9,846.5 M242.7,844.0 L242.7,850.0" stroke="#b0b0b0" stroke-width="1.5" fill="none" filter="url(#mb3)"/><path d="M242.7,784.2 C244.2,784.2 245.2,788.2 246.2,792.2 C248.7,792.7 252.2,794.2 252.2,797.2 C252.2,799.7 250.7,800.2 250.7,801.2 C254.9,803.2 255.9,808.2 255.4,814.2 C255.9,824.2 256.4,836.0 253.9,843.0 L244.7,845.0 L240.7,845.0 L231.4,843.0 C228.9,836.0 229.4,824.2 229.9,814.2 C229.4,808.2 230.4,803.2 234.7,801.2 C234.7,800.2 233.2,799.7 233.2,797.2 C233.2,794.2 236.7,792.7 239.2,792.2 C240.2,788.2 241.2,784.2 242.7,784.2 Z" fill="#ababab" filter="url(#mb3)"/><ellipse cx="242.7" cy="821.2" rx="9.8" ry="20.4" fill="#ececec" filter="url(#mb2)"/><ellipse cx="242.7" cy="792.2" rx="2.5" ry="5" fill="#c8c8c8" filter="url(#mb3)"/></g><g filter="url(#rough)"><ellipse cx="156.0" cy="820.0" rx="8.0" ry="18.0" fill="#6a4ad8" opacity="0.45" filter="url(#mb2)"/><ellipse cx="186.0" cy="825.0" rx="8.0" ry="14.0" fill="#6a4ad8" opacity="0.3" filter="url(#mb2)"/><ellipse cx="243.0" cy="822.0" rx="8.0" ry="14.0" fill="#6a4ad8" opacity="0.35" filter="url(#mb2)"/><ellipse cx="153.0" cy="809.0" rx="11.1" ry="15.6" fill="#7a3fd0" opacity="0.55" filter="url(#mb)"/><ellipse cx="153.0" cy="809.0" rx="8.5" ry="12.0" fill="#2020f0"/><ellipse cx="151.0" cy="828.0" rx="10.4" ry="13.0" fill="#7a3fd0" opacity="0.55" filter="url(#mb)"/><ellipse cx="151.0" cy="828.0" rx="8.0" ry="10.0" fill="#2020f0"/><ellipse cx="157.0" cy="808.0" rx="3.9" ry="3.9" fill="#7a3fd0" opacity="0.55" filter="url(#mb)"/><ellipse cx="157.0" cy="808.0" rx="3.0" ry="3.0" fill="#2020f0"/><ellipse cx="157.0" cy="808.0" rx="2.2" ry="2.2" fill="#18b8f0"/><ellipse cx="157.0" cy="808.0" rx="1.5" ry="1.5" fill="#40e040"/><ellipse cx="148.0" cy="818.0" rx="3.2" ry="3.2" fill="#7a3fd0" opacity="0.55" filter="url(#mb)"/><ellipse cx="148.0" cy="818.0" rx="2.5" ry="2.5" fill="#2020f0"/><ellipse cx="148.0" cy="818.0" rx="1.9" ry="1.9" fill="#18b8f0"/><ellipse cx="148.0" cy="818.0" rx="1.2" ry="1.2" fill="#40e040"/><ellipse cx="148.0" cy="830.0" rx="3.2" ry="3.2" fill="#7a3fd0" opacity="0.55" filter="url(#mb)"/><ellipse cx="148.0" cy="830.0" rx="2.5" ry="2.5" fill="#2020f0"/><ellipse cx="148.0" cy="830.0" rx="1.9" ry="1.9" fill="#18b8f0"/><ellipse cx="148.0" cy="830.0" rx="1.2" ry="1.2" fill="#40e040"/><ellipse cx="153.0" cy="822.0" rx="3.9" ry="3.9" fill="#7a3fd0" opacity="0.55" filter="url(#mb)"/><ellipse cx="153.0" cy="822.0" rx="3.0" ry="3.0" fill="#2020f0"/><ellipse cx="153.0" cy="822.0" rx="1.9" ry="1.9" fill="#18b8f0"/><ellipse cx="186.0" cy="802.0" rx="11.7" ry="9.1" fill="#7a3fd0" opacity="0.55" filter="url(#mb)"/><ellipse cx="186.0" cy="802.0" rx="9.0" ry="7.0" fill="#2020f0"/><ellipse cx="186.0" cy="802.0" rx="5.6" ry="4.4" fill="#18b8f0"/><ellipse cx="185.0" cy="801.0" rx="3.9" ry="3.9" fill="#7a3fd0" opacity="0.55" filter="url(#mb)"/><ellipse cx="185.0" cy="801.0" rx="3.0" ry="3.0" fill="#2020f0"/><ellipse cx="185.0" cy="801.0" rx="2.2" ry="2.2" fill="#18b8f0"/><ellipse cx="185.0" cy="801.0" rx="1.5" ry="1.5" fill="#40e040"/><ellipse cx="176.0" cy="832.0" rx="7.8" ry="7.8" fill="#7a3fd0" opacity="0.55" filter="url(#mb)"/><ellipse cx="176.0" cy="832.0" rx="6.0" ry="6.0" fill="#2020f0"/><ellipse cx="195.0" cy="833.0" rx="7.8" ry="7.8" fill="#7a3fd0" opacity="0.55" filter="url(#mb)"/><ellipse cx="195.0" cy="833.0" rx="6.0" ry="6.0" fill="#2020f0"/><ellipse cx="186.0" cy="838.0" rx="6.5" ry="3.9" fill="#7a3fd0" opacity="0.55" filter="url(#mb)"/><ellipse cx="186.0" cy="838.0" rx="5.0" ry="3.0" fill="#2020f0"/><ellipse cx="215.0" cy="802.0" rx="4.5" ry="4.5" fill="#7a3fd0" opacity="0.55" filter="url(#mb)"/><ellipse cx="215.0" cy="802.0" rx="3.5" ry="3.5" fill="#2020f0"/><ellipse cx="207.0" cy="814.0" rx="3.9" ry="3.9" fill="#7a3fd0" opacity="0.55" filter="url(#mb)"/><ellipse cx="207.0" cy="814.0" rx="3.0" ry="3.0" fill="#2020f0"/><ellipse cx="207.0" cy="826.0" rx="3.9" ry="3.9" fill="#7a3fd0" opacity="0.55" filter="url(#mb)"/><ellipse cx="207.0" cy="826.0" rx="3.0" ry="3.0" fill="#2020f0"/><ellipse cx="223.0" cy="828.0" rx="3.9" ry="3.9" fill="#7a3fd0" opacity="0.55" filter="url(#mb)"/><ellipse cx="223.0" cy="828.0" rx="3.0" ry="3.0" fill="#2020f0"/><ellipse cx="211.0" cy="833.0" rx="2.6" ry="2.6" fill="#7a3fd0" opacity="0.55" filter="url(#mb)"/><ellipse cx="211.0" cy="833.0" rx="2.0" ry="2.0" fill="#2020f0"/><ellipse cx="242.0" cy="803.0" rx="13.0" ry="10.4" fill="#7a3fd0" opacity="0.55" filter="url(#mb)"/><ellipse cx="242.0" cy="803.0" rx="10.0" ry="8.0" fill="#2020f0"/><ellipse cx="242.0" cy="803.0" rx="6.2" ry="5.0" fill="#18b8f0"/><ellipse cx="240.0" cy="801.0" rx="3.9" ry="3.9" fill="#7a3fd0" opacity="0.55" filter="url(#mb)"/><ellipse cx="240.0" cy="801.0" rx="3.0" ry="3.0" fill="#2020f0"/><ellipse cx="240.0" cy="801.0" rx="2.2" ry="2.2" fill="#18b8f0"/><ellipse cx="240.0" cy="801.0" rx="1.5" ry="1.5" fill="#40e040"/><ellipse cx="236.0" cy="828.0" rx="7.8" ry="7.8" fill="#7a3fd0" opacity="0.55" filter="url(#mb)"/><ellipse cx="236.0" cy="828.0" rx="6.0" ry="6.0" fill="#2020f0"/><ellipse cx="236.0" cy="828.0" rx="3.8" ry="3.8" fill="#18b8f0"/><ellipse cx="253.0" cy="830.0" rx="7.8" ry="7.8" fill="#7a3fd0" opacity="0.55" filter="url(#mb)"/><ellipse cx="253.0" cy="830.0" rx="6.0" ry="6.0" fill="#2020f0"/><ellipse cx="245.0" cy="836.0" rx="6.5" ry="5.2" fill="#7a3fd0" opacity="0.55" filter="url(#mb)"/><ellipse cx="245.0" cy="836.0" rx="5.0" ry="4.0" fill="#2020f0"/></g><rect x="159.8" y="830.8" width="1.2" height="1.2" fill="#d8c8f8" opacity="0.8"/><rect x="156.1" y="804.9" width="1.2" height="1.2" fill="#b090f0" opacity="0.8"/><rect x="161.7" y="816.0" width="1.2" height="1.2" fill="#9a70f0" opacity="0.8"/><rect x="156.6" y="810.6" width="1.2" height="1.2" fill="#d8c8f8" opacity="0.8"/><rect x="157.3" y="813.3" width="1.2" height="1.2" fill="#d8c8f8" opacity="0.8"/><rect x="158.4" y="835.6" width="1.2" height="1.2" fill="#b090f0" opacity="0.8"/><rect x="155.8" y="804.2" width="1.2" height="1.2" fill="#b090f0" opacity="0.8"/><rect x="151.7" y="815.4" width="1.2" height="1.2" fill="#9a70f0" opacity="0.8"/><rect x="156.4" y="831.5" width="1.2" height="1.2" fill="#6040e0" opacity="0.8"/><rect x="159.4" y="814.1" width="1.2" height="1.2" fill="#d8c8f8" opacity="0.8"/><rect x="162.5" y="819.9" width="1.2" height="1.2" fill="#9a70f0" opacity="0.8"/><rect x="162.5" y="825.0" width="1.2" height="1.2" fill="#d8c8f8" opacity="0.8"/><rect x="152.3" y="833.9" width="1.2" height="1.2" fill="#d8c8f8" opacity="0.8"/><rect x="148.5" y="825.6" width="1.2" height="1.2" fill="#b090f0" opacity="0.8"/><rect x="157.4" y="836.9" width="1.2" height="1.2" fill="#d8c8f8" opacity="0.8"/><rect x="155.1" y="808.4" width="1.2" height="1.2" fill="#d8c8f8" opacity="0.8"/><rect x="150.7" y="831.6" width="1.2" height="1.2" fill="#6040e0" opacity="0.8"/><rect x="155.5" y="804.9" width="1.2" height="1.2" fill="#b090f0" opacity="0.8"/><rect x="151.9" y="811.7" width="1.2" height="1.2" fill="#b090f0" opacity="0.8"/><rect x="149.6" y="816.9" width="1.2" height="1.2" fill="#b090f0" opacity="0.8"/><rect x="151.1" y="828.6" width="1.2" height="1.2" fill="#b090f0" opacity="0.8"/><rect x="152.2" y="824.5" width="1.2" height="1.2" fill="#d8c8f8" opacity="0.8"/><rect x="156.3" y="823.4" width="1.2" height="1.2" fill="#9a70f0" opacity="0.8"/><rect x="158.8" y="814.4" width="1.2" height="1.2" fill="#b090f0" opacity="0.8"/><rect x="161.2" y="809.7" width="1.2" height="1.2" fill="#b090f0" opacity="0.8"/><rect x="158.2" y="833.4" width="1.2" height="1.2" fill="#6040e0" opacity="0.8"/><rect x="157.4" y="825.9" width="1.2" height="1.2" fill="#6040e0" opacity="0.8"/><rect x="154.2" y="814.8" width="1.2" height="1.2" fill="#b090f0" opacity="0.8"/><rect x="150.8" y="806.5" width="1.2" height="1.2" fill="#b090f0" opacity="0.8"/><rect x="159.8" y="806.7" width="1.2" height="1.2" fill="#6040e0" opacity="0.8"/><rect x="159.5" y="831.2" width="1.2" height="1.2" fill="#9a70f0" opacity="0.8"/><rect x="149.0" y="816.0" width="1.2" height="1.2" fill="#d8c8f8" opacity="0.8"/><rect x="155.7" y="814.2" width="1.2" height="1.2" fill="#b090f0" opacity="0.8"/><rect x="151.0" y="825.6" width="1.2" height="1.2" fill="#6040e0" opacity="0.8"/><rect x="156.8" y="809.0" width="1.2" height="1.2" fill="#d8c8f8" opacity="0.8"/><rect x="152.1" y="810.5" width="1.2" height="1.2" fill="#b090f0" opacity="0.8"/><rect x="154.0" y="828.7" width="1.2" height="1.2" fill="#9a70f0" opacity="0.8"/><rect x="153.2" y="835.4" width="1.2" height="1.2" fill="#6040e0" opacity="0.8"/><rect x="159.1" y="819.2" width="1.2" height="1.2" fill="#b090f0" opacity="0.8"/><rect x="159.0" y="808.9" width="1.2" height="1.2" fill="#6040e0" opacity="0.8"/><rect x="156.2" y="818.7" width="1.2" height="1.2" fill="#d8c8f8" opacity="0.8"/><rect x="153.4" y="823.3" width="1.2" height="1.2" fill="#6040e0" opacity="0.8"/><rect x="155.3" y="824.0" width="1.2" height="1.2" fill="#9a70f0" opacity="0.8"/><rect x="153.2" y="833.1" width="1.2" height="1.2" fill="#d8c8f8" opacity="0.8"/><rect x="159.3" y="819.8" width="1.2" height="1.2" fill="#9a70f0" opacity="0.8"/><rect x="153.1" y="812.9" width="1.2" height="1.2" fill="#b090f0" opacity="0.8"/><rect x="150.7" y="817.8" width="1.2" height="1.2" fill="#9a70f0" opacity="0.8"/><rect x="156.4" y="832.5" width="1.2" height="1.2" fill="#6040e0" opacity="0.8"/><rect x="150.5" y="816.0" width="1.2" height="1.2" fill="#d8c8f8" opacity="0.8"/><rect x="160.3" y="814.0" width="1.2" height="1.2" fill="#6040e0" opacity="0.8"/><rect x="160.7" y="820.5" width="1.2" height="1.2" fill="#9a70f0" opacity="0.8"/><rect x="155.1" y="811.5" width="1.2" height="1.2" fill="#9a70f0" opacity="0.8"/><rect x="153.5" y="819.9" width="1.2" height="1.2" fill="#b090f0" opacity="0.8"/><rect x="152.0" y="819.1" width="1.2" height="1.2" fill="#d8c8f8" opacity="0.8"/><rect x="149.3" y="829.5" width="1.2" height="1.2" fill="#b090f0" opacity="0.8"/><rect x="149.8" y="815.4" width="1.2" height="1.2" fill="#6040e0" opacity="0.8"/><rect x="163.0" y="818.6" width="1.2" height="1.2" fill="#d8c8f8" opacity="0.8"/><rect x="156.6" y="829.2" width="1.2" height="1.2" fill="#9a70f0" opacity="0.8"/><rect x="163.2" y="817.6" width="1.2" height="1.2" fill="#b090f0" opacity="0.8"/><rect x="155.4" y="806.1" width="1.2" height="1.2" fill="#9a70f0" opacity="0.8"/><rect x="158.7" y="808.0" width="1.2" height="1.2" fill="#b090f0" opacity="0.8"/><rect x="161.8" y="813.3" width="1.2" height="1.2" fill="#d8c8f8" opacity="0.8"/><rect x="160.0" y="827.2" width="1.2" height="1.2" fill="#6040e0" opacity="0.8"/><rect x="157.0" y="836.2" width="1.2" height="1.2" fill="#6040e0" opacity="0.8"/><rect x="160.3" y="834.9" width="1.2" height="1.2" fill="#d8c8f8" opacity="0.8"/><rect x="163.5" y="822.6" width="1.2" height="1.2" fill="#b090f0" opacity="0.8"/><rect x="148.8" y="826.7" width="1.2" height="1.2" fill="#b090f0" opacity="0.8"/><rect x="155.0" y="802.3" width="1.2" height="1.2" fill="#6040e0" opacity="0.8"/><rect x="150.0" y="818.6" width="1.2" height="1.2" fill="#b090f0" opacity="0.8"/><rect x="157.6" y="830.3" width="1.2" height="1.2" fill="#6040e0" opacity="0.8"/><rect x="157.8" y="834.9" width="1.2" height="1.2" fill="#9a70f0" opacity="0.8"/><rect x="152.1" y="808.7" width="1.2" height="1.2" fill="#d8c8f8" opacity="0.8"/><rect x="189.8" y="813.0" width="1.2" height="1.2" fill="#6040e0" opacity="0.8"/><rect x="180.7" y="818.5" width="1.2" height="1.2" fill="#b090f0" opacity="0.8"/><rect x="182.6" y="813.0" width="1.2" height="1.2" fill="#b090f0" opacity="0.8"/><rect x="185.7" y="835.2" width="1.2" height="1.2" fill="#b090f0" opacity="0.8"/><rect x="191.7" y="827.4" width="1.2" height="1.2" fill="#d8c8f8" opacity="0.8"/><rect x="179.9" y="819.1" width="1.2" height="1.2" fill="#b090f0" opacity="0.8"/><rect x="183.2" y="831.5" width="1.2" height="1.2" fill="#6040e0" opacity="0.8"/><rect x="189.3" y="826.3" width="1.2" height="1.2" fill="#d8c8f8" opacity="0.8"/><rect x="179.8" y="825.6" width="1.2" height="1.2" fill="#6040e0" opacity="0.8"/><rect x="185.1" y="825.7" width="1.2" height="1.2" fill="#9a70f0" opacity="0.8"/><rect x="189.7" y="827.7" width="1.2" height="1.2" fill="#9a70f0" opacity="0.8"/><rect x="184.7" y="836.7" width="1.2" height="1.2" fill="#9a70f0" opacity="0.8"/><rect x="183.7" y="814.6" width="1.2" height="1.2" fill="#b090f0" opacity="0.8"/><rect x="193.0" y="826.0" width="1.2" height="1.2" fill="#d8c8f8" opacity="0.8"/><rect x="181.1" y="822.6" width="1.2" height="1.2" fill="#9a70f0" opacity="0.8"/><rect x="186.7" y="812.0" width="1.2" height="1.2" fill="#9a70f0" opacity="0.8"/><rect x="188.0" y="826.1" width="1.2" height="1.2" fill="#d8c8f8" opacity="0.8"/><rect x="185.3" y="813.2" width="1.2" height="1.2" fill="#d8c8f8" opacity="0.8"/><rect x="178.3" y="828.2" width="1.2" height="1.2" fill="#d8c8f8" opacity="0.8"/><rect x="192.7" y="824.4" width="1.2" height="1.2" fill="#b090f0" opacity="0.8"/><rect x="186.5" y="813.9" width="1.2" height="1.2" fill="#b090f0" opacity="0.8"/><rect x="183.2" y="822.0" width="1.2" height="1.2" fill="#d8c8f8" opacity="0.8"/><rect x="184.1" y="817.2" width="1.2" height="1.2" fill="#9a70f0" opacity="0.8"/><rect x="180.9" y="814.5" width="1.2" height="1.2" fill="#d8c8f8" opacity="0.8"/><rect x="185.5" y="830.2" width="1.2" height="1.2" fill="#6040e0" opacity="0.8"/><rect x="187.2" y="822.7" width="1.2" height="1.2" fill="#9a70f0" opacity="0.8"/><rect x="180.8" y="834.3" width="1.2" height="1.2" fill="#b090f0" opacity="0.8"/><rect x="182.2" y="832.9" width="1.2" height="1.2" fill="#6040e0" opacity="0.8"/><rect x="179.3" y="821.5" width="1.2" height="1.2" fill="#b090f0" opacity="0.8"/><rect x="186.5" y="834.5" width="1.2" height="1.2" fill="#d8c8f8" opacity="0.8"/><rect x="185.1" y="820.4" width="1.2" height="1.2" fill="#6040e0" opacity="0.8"/><rect x="186.5" y="837.7" width="1.2" height="1.2" fill="#6040e0" opacity="0.8"/><rect x="190.1" y="818.6" width="1.2" height="1.2" fill="#6040e0" opacity="0.8"/><rect x="188.9" y="823.1" width="1.2" height="1.2" fill="#d8c8f8" opacity="0.8"/><rect x="190.2" y="833.8" width="1.2" height="1.2" fill="#6040e0" opacity="0.8"/><rect x="186.7" y="817.1" width="1.2" height="1.2" fill="#6040e0" opacity="0.8"/><rect x="188.0" y="823.2" width="1.2" height="1.2" fill="#b090f0" opacity="0.8"/><rect x="188.6" y="821.4" width="1.2" height="1.2" fill="#9a70f0" opacity="0.8"/><rect x="178.6" y="821.4" width="1.2" height="1.2" fill="#9a70f0" opacity="0.8"/><rect x="186.6" y="818.9" width="1.2" height="1.2" fill="#d8c8f8" opacity="0.8"/><rect x="189.7" y="837.3" width="1.2" height="1.2" fill="#9a70f0" opacity="0.8"/><rect x="184.7" y="817.3" width="1.2" height="1.2" fill="#9a70f0" opacity="0.8"/><rect x="191.8" y="834.5" width="1.2" height="1.2" fill="#d8c8f8" opacity="0.8"/><rect x="190.2" y="826.8" width="1.2" height="1.2" fill="#6040e0" opacity="0.8"/><rect x="181.0" y="817.8" width="1.2" height="1.2" fill="#9a70f0" opacity="0.8"/><rect x="189.2" y="826.2" width="1.2" height="1.2" fill="#6040e0" opacity="0.8"/><rect x="179.7" y="819.3" width="1.2" height="1.2" fill="#6040e0" opacity="0.8"/><rect x="191.2" y="822.1" width="1.2" height="1.2" fill="#9a70f0" opacity="0.8"/><rect x="185.4" y="825.0" width="1.2" height="1.2" fill="#9a70f0" opacity="0.8"/><rect x="178.3" y="827.9" width="1.2" height="1.2" fill="#6040e0" opacity="0.8"/><rect x="182.2" y="821.7" width="1.2" height="1.2" fill="#6040e0" opacity="0.8"/><rect x="182.8" y="827.8" width="1.2" height="1.2" fill="#b090f0" opacity="0.8"/><rect x="190.3" y="826.3" width="1.2" height="1.2" fill="#d8c8f8" opacity="0.8"/><rect x="184.4" y="837.1" width="1.2" height="1.2" fill="#d8c8f8" opacity="0.8"/><rect x="182.8" y="821.5" width="1.2" height="1.2" fill="#b090f0" opacity="0.8"/><rect x="186.0" y="816.9" width="1.2" height="1.2" fill="#b090f0" opacity="0.8"/><rect x="240.0" y="817.2" width="1.2" height="1.2" fill="#9a70f0" opacity="0.8"/><rect x="239.4" y="816.8" width="1.2" height="1.2" fill="#d8c8f8" opacity="0.8"/><rect x="243.8" y="811.8" width="1.2" height="1.2" fill="#b090f0" opacity="0.8"/><rect x="239.9" y="818.3" width="1.2" height="1.2" fill="#b090f0" opacity="0.8"/><rect x="242.5" y="821.0" width="1.2" height="1.2" fill="#9a70f0" opacity="0.8"/><rect x="244.7" y="831.7" width="1.2" height="1.2" fill="#9a70f0" opacity="0.8"/><rect x="244.9" y="815.1" width="1.2" height="1.2" fill="#d8c8f8" opacity="0.8"/><rect x="236.2" y="826.8" width="1.2" height="1.2" fill="#d8c8f8" opacity="0.8"/><rect x="249.1" y="825.0" width="1.2" height="1.2" fill="#b090f0" opacity="0.8"/><rect x="248.7" y="822.7" width="1.2" height="1.2" fill="#9a70f0" opacity="0.8"/><rect x="242.3" y="821.4" width="1.2" height="1.2" fill="#6040e0" opacity="0.8"/><rect x="239.6" y="822.5" width="1.2" height="1.2" fill="#b090f0" opacity="0.8"/><rect x="239.1" y="810.7" width="1.2" height="1.2" fill="#d8c8f8" opacity="0.8"/><rect x="240.8" y="809.6" width="1.2" height="1.2" fill="#6040e0" opacity="0.8"/><rect x="236.7" y="830.1" width="1.2" height="1.2" fill="#6040e0" opacity="0.8"/><rect x="238.8" y="833.0" width="1.2" height="1.2" fill="#b090f0" opacity="0.8"/><rect x="240.0" y="823.1" width="1.2" height="1.2" fill="#b090f0" opacity="0.8"/><rect x="247.0" y="810.8" width="1.2" height="1.2" fill="#6040e0" opacity="0.8"/><rect x="239.6" y="817.3" width="1.2" height="1.2" fill="#9a70f0" opacity="0.8"/><rect x="242.1" y="818.1" width="1.2" height="1.2" fill="#b090f0" opacity="0.8"/><rect x="247.7" y="814.1" width="1.2" height="1.2" fill="#d8c8f8" opacity="0.8"/><rect x="236.5" y="821.4" width="1.2" height="1.2" fill="#d8c8f8" opacity="0.8"/><rect x="249.2" y="830.1" width="1.2" height="1.2" fill="#d8c8f8" opacity="0.8"/><rect x="247.6" y="826.9" width="1.2" height="1.2" fill="#b090f0" opacity="0.8"/><rect x="246.1" y="814.3" width="1.2" height="1.2" fill="#b090f0" opacity="0.8"/><rect x="248.9" y="819.5" width="1.2" height="1.2" fill="#6040e0" opacity="0.8"/><rect x="240.4" y="834.6" width="1.2" height="1.2" fill="#9a70f0" opacity="0.8"/><rect x="243.7" y="810.3" width="1.2" height="1.2" fill="#6040e0" opacity="0.8"/><rect x="243.8" y="833.6" width="1.2" height="1.2" fill="#6040e0" opacity="0.8"/><rect x="249.1" y="827.5" width="1.2" height="1.2" fill="#6040e0" opacity="0.8"/><rect x="235.6" y="821.5" width="1.2" height="1.2" fill="#6040e0" opacity="0.8"/><rect x="236.3" y="819.3" width="1.2" height="1.2" fill="#9a70f0" opacity="0.8"/><rect x="250.0" y="815.6" width="1.2" height="1.2" fill="#6040e0" opacity="0.8"/><rect x="241.5" y="823.4" width="1.2" height="1.2" fill="#9a70f0" opacity="0.8"/><rect x="244.0" y="815.0" width="1.2" height="1.2" fill="#6040e0" opacity="0.8"/><rect x="239.5" y="832.3" width="1.2" height="1.2" fill="#b090f0" opacity="0.8"/><rect x="243.9" y="823.9" width="1.2" height="1.2" fill="#b090f0" opacity="0.8"/><rect x="243.4" y="811.3" width="1.2" height="1.2" fill="#6040e0" opacity="0.8"/><rect x="241.5" y="827.4" width="1.2" height="1.2" fill="#d8c8f8" opacity="0.8"/><rect x="237.3" y="819.9" width="1.2" height="1.2" fill="#d8c8f8" opacity="0.8"/><rect x="249.5" y="817.0" width="1.2" height="1.2" fill="#6040e0" opacity="0.8"/><rect x="244.0" y="820.4" width="1.2" height="1.2" fill="#6040e0" opacity="0.8"/><rect x="240.7" y="825.1" width="1.2" height="1.2" fill="#6040e0" opacity="0.8"/><rect x="244.9" y="810.9" width="1.2" height="1.2" fill="#6040e0" opacity="0.8"/><rect x="249.4" y="818.3" width="1.2" height="1.2" fill="#9a70f0" opacity="0.8"/><rect x="238.7" y="819.2" width="1.2" height="1.2" fill="#9a70f0" opacity="0.8"/><rect x="248.2" y="820.5" width="1.2" height="1.2" fill="#b090f0" opacity="0.8"/><rect x="249.8" y="822.0" width="1.2" height="1.2" fill="#6040e0" opacity="0.8"/><rect x="247.1" y="814.4" width="1.2" height="1.2" fill="#d8c8f8" opacity="0.8"/><rect x="238.6" y="832.1" width="1.2" height="1.2" fill="#9a70f0" opacity="0.8"/><rect x="237.3" y="817.0" width="1.2" height="1.2" fill="#6040e0" opacity="0.8"/><rect x="244.7" y="811.2" width="1.2" height="1.2" fill="#9a70f0" opacity="0.8"/><rect x="242.1" y="818.0" width="1.2" height="1.2" fill="#d8c8f8" opacity="0.8"/><rect x="239.7" y="812.1" width="1.2" height="1.2" fill="#b090f0" opacity="0.8"/><rect x="242.1" y="826.6" width="1.2" height="1.2" fill="#d8c8f8" opacity="0.8"/><rect x="243.6" y="814.7" width="1.2" height="1.2" fill="#9a70f0" opacity="0.8"/></g>
<clipPath id="pc3"><rect x="18.9" y="873.6" width="117.5" height="66.7"/></clipPath><g clip-path="url(#pc3)"><rect x="18.9" y="873.6" width="117.5" height="66.7" fill="#141414"/><g filter="url(#mtex)"><path d="M24.6,933.8 L16.6,937.3 M43.1,933.8 L51.1,937.3 M33.9,934.8 L33.9,940.8" stroke="#b0b0b0" stroke-width="1.5" fill="none" filter="url(#mb3)"/><path d="M33.9,874.8 C35.4,874.8 36.4,878.8 37.4,882.8 C39.9,883.3 43.4,884.8 43.4,887.8 C43.4,890.3 41.9,890.8 41.9,891.8 C46.1,893.8 47.1,898.8 46.6,904.8 C47.1,914.8 47.6,926.8 45.1,933.8 L35.9,935.8 L31.9,935.8 L22.6,933.8 C20.1,926.8 20.6,914.8 21.1,904.8 C20.6,898.8 21.6,893.8 25.9,891.8 C25.9,890.8 24.4,890.3 24.4,887.8 C24.4,884.8 27.9,883.3 30.4,882.8 C31.4,878.8 32.4,874.8 33.9,874.8 Z" fill="#ababab" filter="url(#mb3)"/><ellipse cx="33.9" cy="911.9" rx="9.8" ry="20.5" fill="#ececec" filter="url(#mb2)"/><ellipse cx="33.9" cy="882.8" rx="2.5" ry="5" fill="#c8c8c8" filter="url(#mb3)"/><path d="M53.2,933.8 L45.2,937.3 M71.8,933.8 L79.8,937.3 M62.5,934.8 L62.5,940.8" stroke="#b0b0b0" stroke-width="1.5" fill="none" filter="url(#mb3)"/><path d="M62.5,874.8 C64.0,874.8 65.0,878.8 66.0,882.8 C68.5,883.3 72.0,884.8 72.0,887.8 C72.0,890.3 70.5,890.8 70.5,891.8 C74.8,893.8 75.8,898.8 75.2,904.8 C75.8,914.8 76.2,926.8 73.8,933.8 L64.5,935.8 L60.5,935.8 L51.2,933.8 C48.8,926.8 49.2,914.8 49.8,904.8 C49.2,898.8 50.2,893.8 54.5,891.8 C54.5,890.8 53.0,890.3 53.0,887.8 C53.0,884.8 56.5,883.3 59.0,882.8 C60.0,878.8 61.0,874.8 62.5,874.8 Z" fill="#ababab" filter="url(#mb3)"/><ellipse cx="62.5" cy="911.9" rx="9.8" ry="20.5" fill="#ececec" filter="url(#mb2)"/><ellipse cx="62.5" cy="882.8" rx="2.5" ry="5" fill="#c8c8c8" filter="url(#mb3)"/><path d="M83.0,933.8 L75.0,937.3 M101.5,933.8 L109.5,937.3 M92.3,934.8 L92.3,940.8" stroke="#b0b0b0" stroke-width="1.5" fill="none" filter="url(#mb3)"/><path d="M92.3,874.8 C93.8,874.8 94.8,878.8 95.8,882.8 C98.3,883.3 101.8,884.8 101.8,887.8 C101.8,890.3 100.3,890.8 100.3,891.8 C104.5,893.8 105.5,898.8 105.0,904.8 C105.5,914.8 106.0,926.8 103.5,933.8 L94.3,935.8 L90.3,935.8 L81.0,933.8 C78.5,926.8 79.0,914.8 79.5,904.8 C79.0,898.8 80.0,893.8 84.3,891.8 C84.3,890.8 82.8,890.3 82.8,887.8 C82.8,884.8 86.3,883.3 88.8,882.8 C89.8,878.8 90.8,874.8 92.3,874.8 Z" fill="#ababab" filter="url(#mb3)"/><ellipse cx="92.3" cy="911.9" rx="9.8" ry="20.5" fill="#ececec" filter="url(#mb2)"/><ellipse cx="92.3" cy="882.8" rx="2.5" ry="5" fill="#c8c8c8" filter="url(#mb3)"/><path d="M110.5,933.8 L102.5,937.3 M128.9,933.8 L136.9,937.3 M119.7,934.8 L119.7,940.8" stroke="#b0b0b0" stroke-width="1.5" fill="none" filter="url(#mb3)"/><path d="M119.7,874.8 C121.2,874.8 122.2,878.8 123.2,882.8 C125.7,883.3 129.2,884.8 129.2,887.8 C129.2,890.3 127.7,890.8 127.7,891.8 C131.9,893.8 132.9,898.8 132.4,904.8 C132.9,914.8 133.4,926.8 130.9,933.8 L121.7,935.8 L117.7,935.8 L108.5,933.8 C106.0,926.8 106.5,914.8 107.0,904.8 C106.5,898.8 107.5,893.8 111.7,891.8 C111.7,890.8 110.2,890.3 110.2,887.8 C110.2,884.8 113.7,883.3 116.2,882.8 C117.2,878.8 118.2,874.8 119.7,874.8 Z" fill="#ababab" filter="url(#mb3)"/><ellipse cx="119.7" cy="911.9" rx="9.8" ry="20.5" fill="#ececec" filter="url(#mb2)"/><ellipse cx="119.7" cy="882.8" rx="2.5" ry="5" fill="#c8c8c8" filter="url(#mb3)"/></g><g filter="url(#rough)"><ellipse cx="120.0" cy="910.0" rx="10.0" ry="16.0" fill="#6a4ad8" opacity="0.35" filter="url(#mb2)"/><ellipse cx="34.0" cy="912.0" rx="8.0" ry="12.0" fill="#6a4ad8" opacity="0.2" filter="url(#mb2)"/><ellipse cx="34.0" cy="892.6" rx="6.5" ry="5.2" fill="#7a3fd0" opacity="0.55" filter="url(#mb)"/><ellipse cx="34.0" cy="892.6" rx="5.0" ry="4.0" fill="#2020f0"/><ellipse cx="35.0" cy="900.0" rx="3.9" ry="3.9" fill="#7a3fd0" opacity="0.55" filter="url(#mb)"/><ellipse cx="35.0" cy="900.0" rx="3.0" ry="3.0" fill="#2020f0"/><ellipse cx="26.0" cy="922.0" rx="6.5" ry="6.5" fill="#7a3fd0" opacity="0.55" filter="url(#mb)"/><ellipse cx="26.0" cy="922.0" rx="5.0" ry="5.0" fill="#2020f0"/><ellipse cx="41.0" cy="921.0" rx="5.9" ry="6.5" fill="#7a3fd0" opacity="0.55" filter="url(#mb)"/><ellipse cx="41.0" cy="921.0" rx="4.5" ry="5.0" fill="#2020f0"/><ellipse cx="64.0" cy="894.0" rx="4.5" ry="4.5" fill="#7a3fd0" opacity="0.55" filter="url(#mb)"/><ellipse cx="64.0" cy="894.0" rx="3.5" ry="3.5" fill="#2020f0"/><ellipse cx="55.0" cy="901.0" rx="3.9" ry="3.9" fill="#7a3fd0" opacity="0.55" filter="url(#mb)"/><ellipse cx="55.0" cy="901.0" rx="3.0" ry="3.0" fill="#2020f0"/><ellipse cx="62.0" cy="907.0" rx="2.0" ry="2.0" fill="#7a3fd0" opacity="0.55" filter="url(#mb)"/><ellipse cx="62.0" cy="907.0" rx="1.5" ry="1.5" fill="#2020f0"/><ellipse cx="92.0" cy="889.0" rx="10.4" ry="6.5" fill="#7a3fd0" opacity="0.55" filter="url(#mb)"/><ellipse cx="92.0" cy="889.0" rx="8.0" ry="5.0" fill="#2020f0"/><ellipse cx="90.0" cy="897.0" rx="5.2" ry="5.2" fill="#7a3fd0" opacity="0.55" filter="url(#mb)"/><ellipse cx="90.0" cy="897.0" rx="4.0" ry="4.0" fill="#2020f0"/><ellipse cx="84.0" cy="921.0" rx="6.5" ry="6.5" fill="#7a3fd0" opacity="0.55" filter="url(#mb)"/><ellipse cx="84.0" cy="921.0" rx="5.0" ry="5.0" fill="#2020f0"/><ellipse cx="103.0" cy="918.0" rx="5.2" ry="5.2" fill="#7a3fd0" opacity="0.55" filter="url(#mb)"/><ellipse cx="103.0" cy="918.0" rx="4.0" ry="4.0" fill="#2020f0"/><ellipse cx="117.0" cy="893.0" rx="6.5" ry="6.5" fill="#7a3fd0" opacity="0.55" filter="url(#mb)"/><ellipse cx="117.0" cy="893.0" rx="5.0" ry="5.0" fill="#2020f0"/><ellipse cx="124.0" cy="893.0" rx="5.2" ry="5.2" fill="#7a3fd0" opacity="0.55" filter="url(#mb)"/><ellipse cx="124.0" cy="893.0" rx="4.0" ry="4.0" fill="#2020f0"/><ellipse cx="116.0" cy="903.0" rx="6.5" ry="6.5" fill="#7a3fd0" opacity="0.55" filter="url(#mb)"/><ellipse cx="116.0" cy="903.0" rx="5.0" ry="5.0" fill="#2020f0"/><ellipse cx="113.0" cy="921.0" rx="6.5" ry="6.5" fill="#7a3fd0" opacity="0.55" filter="url(#mb)"/><ellipse cx="113.0" cy="921.0" rx="5.0" ry="5.0" fill="#2020f0"/><ellipse cx="122.0" cy="926.0" rx="5.2" ry="5.2" fill="#7a3fd0" opacity="0.55" filter="url(#mb)"/><ellipse cx="122.0" cy="926.0" rx="4.0" ry="4.0" fill="#2020f0"/><ellipse cx="131.0" cy="920.0" rx="5.2" ry="5.2" fill="#7a3fd0" opacity="0.55" filter="url(#mb)"/><ellipse cx="131.0" cy="920.0" rx="4.0" ry="4.0" fill="#2020f0"/></g><rect x="119.5" y="921.7" width="1.2" height="1.2" fill="#6040e0" opacity="0.8"/><rect x="122.5" y="920.5" width="1.2" height="1.2" fill="#b090f0" opacity="0.8"/><rect x="127.4" y="916.9" width="1.2" height="1.2" fill="#9a70f0" opacity="0.8"/><rect x="114.4" y="919.7" width="1.2" height="1.2" fill="#b090f0" opacity="0.8"/><rect x="125.3" y="911.8" width="1.2" height="1.2" fill="#9a70f0" opacity="0.8"/><rect x="123.5" y="900.3" width="1.2" height="1.2" fill="#9a70f0" opacity="0.8"/><rect x="119.7" y="914.6" width="1.2" height="1.2" fill="#d8c8f8" opacity="0.8"/><rect x="120.9" y="922.6" width="1.2" height="1.2" fill="#b090f0" opacity="0.8"/><rect x="117.6" y="917.8" width="1.2" height="1.2" fill="#6040e0" opacity="0.8"/><rect x="126.0" y="903.9" width="1.2" height="1.2" fill="#d8c8f8" opacity="0.8"/><rect x="114.4" y="912.9" width="1.2" height="1.2" fill="#9a70f0" opacity="0.8"/><rect x="120.3" y="914.9" width="1.2" height="1.2" fill="#9a70f0" opacity="0.8"/><rect x="117.2" y="923.1" width="1.2" height="1.2" fill="#9a70f0" opacity="0.8"/><rect x="115.7" y="916.4" width="1.2" height="1.2" fill="#6040e0" opacity="0.8"/><rect x="124.3" y="915.6" width="1.2" height="1.2" fill="#9a70f0" opacity="0.8"/><rect x="118.8" y="918.6" width="1.2" height="1.2" fill="#d8c8f8" opacity="0.8"/><rect x="125.1" y="905.2" width="1.2" height="1.2" fill="#6040e0" opacity="0.8"/><rect x="117.4" y="914.8" width="1.2" height="1.2" fill="#d8c8f8" opacity="0.8"/><rect x="129.3" y="908.3" width="1.2" height="1.2" fill="#b090f0" opacity="0.8"/><rect x="123.7" y="900.6" width="1.2" height="1.2" fill="#6040e0" opacity="0.8"/><rect x="117.9" y="903.1" width="1.2" height="1.2" fill="#d8c8f8" opacity="0.8"/><rect x="125.0" y="903.9" width="1.2" height="1.2" fill="#d8c8f8" opacity="0.8"/><rect x="116.5" y="924.8" width="1.2" height="1.2" fill="#d8c8f8" opacity="0.8"/><rect x="123.4" y="903.5" width="1.2" height="1.2" fill="#6040e0" opacity="0.8"/><rect x="118.3" y="918.6" width="1.2" height="1.2" fill="#d8c8f8" opacity="0.8"/><rect x="125.6" y="913.5" width="1.2" height="1.2" fill="#6040e0" opacity="0.8"/><rect x="114.7" y="916.2" width="1.2" height="1.2" fill="#9a70f0" opacity="0.8"/><rect x="118.6" y="902.9" width="1.2" height="1.2" fill="#9a70f0" opacity="0.8"/><rect x="119.3" y="900.0" width="1.2" height="1.2" fill="#d8c8f8" opacity="0.8"/><rect x="127.0" y="916.3" width="1.2" height="1.2" fill="#9a70f0" opacity="0.8"/><rect x="110.7" y="913.8" width="1.2" height="1.2" fill="#d8c8f8" opacity="0.8"/><rect x="112.9" y="918.3" width="1.2" height="1.2" fill="#b090f0" opacity="0.8"/><rect x="128.9" y="913.1" width="1.2" height="1.2" fill="#6040e0" opacity="0.8"/><rect x="110.5" y="909.4" width="1.2" height="1.2" fill="#6040e0" opacity="0.8"/><rect x="118.0" y="908.2" width="1.2" height="1.2" fill="#b090f0" opacity="0.8"/><rect x="122.0" y="920.5" width="1.2" height="1.2" fill="#d8c8f8" opacity="0.8"/><rect x="124.1" y="915.8" width="1.2" height="1.2" fill="#b090f0" opacity="0.8"/><rect x="111.1" y="907.8" width="1.2" height="1.2" fill="#6040e0" opacity="0.8"/><rect x="116.6" y="919.2" width="1.2" height="1.2" fill="#6040e0" opacity="0.8"/><rect x="121.9" y="925.2" width="1.2" height="1.2" fill="#6040e0" opacity="0.8"/><rect x="126.1" y="907.8" width="1.2" height="1.2" fill="#b090f0" opacity="0.8"/><rect x="122.2" y="904.7" width="1.2" height="1.2" fill="#6040e0" opacity="0.8"/><rect x="122.2" y="908.2" width="1.2" height="1.2" fill="#6040e0" opacity="0.8"/><rect x="117.4" y="899.6" width="1.2" height="1.2" fill="#6040e0" opacity="0.8"/><rect x="114.5" y="904.7" width="1.2" height="1.2" fill="#b090f0" opacity="0.8"/><rect x="116.7" y="912.0" width="1.2" height="1.2" fill="#d8c8f8" opacity="0.8"/><rect x="125.8" y="901.2" width="1.2" height="1.2" fill="#9a70f0" opacity="0.8"/><rect x="119.9" y="896.5" width="1.2" height="1.2" fill="#6040e0" opacity="0.8"/><rect x="126.8" y="917.6" width="1.2" height="1.2" fill="#d8c8f8" opacity="0.8"/><rect x="120.7" y="921.4" width="1.2" height="1.2" fill="#6040e0" opacity="0.8"/><rect x="116.7" y="903.6" width="1.2" height="1.2" fill="#b090f0" opacity="0.8"/><rect x="124.6" y="911.8" width="1.2" height="1.2" fill="#b090f0" opacity="0.8"/><rect x="119.3" y="898.9" width="1.2" height="1.2" fill="#9a70f0" opacity="0.8"/><rect x="113.8" y="903.7" width="1.2" height="1.2" fill="#d8c8f8" opacity="0.8"/><rect x="114.1" y="898.9" width="1.2" height="1.2" fill="#d8c8f8" opacity="0.8"/><rect x="127.9" y="913.5" width="1.2" height="1.2" fill="#6040e0" opacity="0.8"/><rect x="126.2" y="914.3" width="1.2" height="1.2" fill="#d8c8f8" opacity="0.8"/><rect x="122.3" y="914.2" width="1.2" height="1.2" fill="#b090f0" opacity="0.8"/><rect x="116.3" y="902.7" width="1.2" height="1.2" fill="#9a70f0" opacity="0.8"/><rect x="119.7" y="925.8" width="1.2" height="1.2" fill="#6040e0" opacity="0.8"/><rect x="121.1" y="921.4" width="1.2" height="1.2" fill="#d8c8f8" opacity="0.8"/><rect x="128.4" y="904.5" width="1.2" height="1.2" fill="#d8c8f8" opacity="0.8"/><rect x="120.5" y="907.9" width="1.2" height="1.2" fill="#6040e0" opacity="0.8"/><rect x="124.5" y="901.9" width="1.2" height="1.2" fill="#6040e0" opacity="0.8"/><rect x="127.1" y="913.2" width="1.2" height="1.2" fill="#6040e0" opacity="0.8"/><rect x="121.9" y="909.5" width="1.2" height="1.2" fill="#d8c8f8" opacity="0.8"/><rect x="110.1" y="908.5" width="1.2" height="1.2" fill="#d8c8f8" opacity="0.8"/><rect x="117.3" y="913.6" width="1.2" height="1.2" fill="#6040e0" opacity="0.8"/><rect x="114.1" y="913.5" width="1.2" height="1.2" fill="#9a70f0" opacity="0.8"/><rect x="125.3" y="912.4" width="1.2" height="1.2" fill="#9a70f0" opacity="0.8"/><rect x="122.7" y="922.8" width="1.2" height="1.2" fill="#b090f0" opacity="0.8"/><rect x="121.0" y="916.8" width="1.2" height="1.2" fill="#9a70f0" opacity="0.8"/><rect x="121.0" y="903.7" width="1.2" height="1.2" fill="#b090f0" opacity="0.8"/><rect x="119.3" y="898.5" width="1.2" height="1.2" fill="#6040e0" opacity="0.8"/><rect x="121.5" y="903.6" width="1.2" height="1.2" fill="#9a70f0" opacity="0.8"/><rect x="123.8" y="920.1" width="1.2" height="1.2" fill="#b090f0" opacity="0.8"/><rect x="121.7" y="911.8" width="1.2" height="1.2" fill="#9a70f0" opacity="0.8"/><rect x="114.1" y="908.0" width="1.2" height="1.2" fill="#6040e0" opacity="0.8"/><rect x="116.8" y="903.6" width="1.2" height="1.2" fill="#d8c8f8" opacity="0.8"/><rect x="110.6" y="906.8" width="1.2" height="1.2" fill="#9a70f0" opacity="0.8"/><rect x="31.8" y="906.8" width="1.2" height="1.2" fill="#b090f0" opacity="0.8"/><rect x="29.0" y="919.3" width="1.2" height="1.2" fill="#6040e0" opacity="0.8"/><rect x="29.2" y="915.4" width="1.2" height="1.2" fill="#b090f0" opacity="0.8"/><rect x="38.8" y="914.3" width="1.2" height="1.2" fill="#9a70f0" opacity="0.8"/><rect x="35.6" y="914.4" width="1.2" height="1.2" fill="#9a70f0" opacity="0.8"/><rect x="26.6" y="908.3" width="1.2" height="1.2" fill="#9a70f0" opacity="0.8"/><rect x="37.0" y="900.9" width="1.2" height="1.2" fill="#b090f0" opacity="0.8"/><rect x="37.3" y="911.4" width="1.2" height="1.2" fill="#6040e0" opacity="0.8"/><rect x="41.5" y="911.1" width="1.2" height="1.2" fill="#b090f0" opacity="0.8"/><rect x="31.5" y="902.0" width="1.2" height="1.2" fill="#9a70f0" opacity="0.8"/><rect x="34.6" y="918.4" width="1.2" height="1.2" fill="#b090f0" opacity="0.8"/><rect x="34.6" y="923.5" width="1.2" height="1.2" fill="#b090f0" opacity="0.8"/><rect x="37.6" y="921.8" width="1.2" height="1.2" fill="#9a70f0" opacity="0.8"/><rect x="41.6" y="913.2" width="1.2" height="1.2" fill="#b090f0" opacity="0.8"/><rect x="30.2" y="920.6" width="1.2" height="1.2" fill="#6040e0" opacity="0.8"/><rect x="28.0" y="919.7" width="1.2" height="1.2" fill="#9a70f0" opacity="0.8"/><rect x="38.5" y="916.7" width="1.2" height="1.2" fill="#d8c8f8" opacity="0.8"/><rect x="39.2" y="913.8" width="1.2" height="1.2" fill="#b090f0" opacity="0.8"/><rect x="33.4" y="905.0" width="1.2" height="1.2" fill="#6040e0" opacity="0.8"/><rect x="34.7" y="912.7" width="1.2" height="1.2" fill="#6040e0" opacity="0.8"/><rect x="29.3" y="918.3" width="1.2" height="1.2" fill="#d8c8f8" opacity="0.8"/><rect x="36.1" y="904.3" width="1.2" height="1.2" fill="#9a70f0" opacity="0.8"/><rect x="30.8" y="902.4" width="1.2" height="1.2" fill="#6040e0" opacity="0.8"/><rect x="40.4" y="913.5" width="1.2" height="1.2" fill="#d8c8f8" opacity="0.8"/><rect x="39.0" y="913.8" width="1.2" height="1.2" fill="#b090f0" opacity="0.8"/><rect x="31.5" y="902.8" width="1.2" height="1.2" fill="#6040e0" opacity="0.8"/><rect x="37.8" y="914.0" width="1.2" height="1.2" fill="#b090f0" opacity="0.8"/><rect x="34.1" y="903.0" width="1.2" height="1.2" fill="#b090f0" opacity="0.8"/><rect x="41.1" y="915.3" width="1.2" height="1.2" fill="#6040e0" opacity="0.8"/><rect x="40.1" y="918.5" width="1.2" height="1.2" fill="#d8c8f8" opacity="0.8"/><rect x="30.8" y="918.6" width="1.2" height="1.2" fill="#9a70f0" opacity="0.8"/><rect x="40.8" y="918.0" width="1.2" height="1.2" fill="#b090f0" opacity="0.8"/><rect x="34.9" y="913.1" width="1.2" height="1.2" fill="#9a70f0" opacity="0.8"/><rect x="31.0" y="920.4" width="1.2" height="1.2" fill="#9a70f0" opacity="0.8"/><rect x="39.2" y="906.0" width="1.2" height="1.2" fill="#9a70f0" opacity="0.8"/><rect x="28.2" y="917.9" width="1.2" height="1.2" fill="#b090f0" opacity="0.8"/><rect x="36.0" y="909.4" width="1.2" height="1.2" fill="#6040e0" opacity="0.8"/><rect x="28.4" y="915.2" width="1.2" height="1.2" fill="#b090f0" opacity="0.8"/><rect x="28.8" y="909.8" width="1.2" height="1.2" fill="#d8c8f8" opacity="0.8"/><rect x="40.1" y="918.1" width="1.2" height="1.2" fill="#d8c8f8" opacity="0.8"/><rect x="28.8" y="916.5" width="1.2" height="1.2" fill="#9a70f0" opacity="0.8"/><rect x="31.3" y="913.0" width="1.2" height="1.2" fill="#6040e0" opacity="0.8"/><rect x="40.1" y="911.1" width="1.2" height="1.2" fill="#b090f0" opacity="0.8"/><rect x="36.0" y="909.8" width="1.2" height="1.2" fill="#b090f0" opacity="0.8"/><rect x="36.9" y="922.0" width="1.2" height="1.2" fill="#d8c8f8" opacity="0.8"/><rect x="35.7" y="919.1" width="1.2" height="1.2" fill="#6040e0" opacity="0.8"/><rect x="33.0" y="903.7" width="1.2" height="1.2" fill="#d8c8f8" opacity="0.8"/><rect x="35.4" y="917.4" width="1.2" height="1.2" fill="#d8c8f8" opacity="0.8"/></g>
<clipPath id="pc4"><rect x="140.4" y="873.6" width="116.8" height="66.7"/></clipPath><g clip-path="url(#pc4)"><rect x="140.4" y="873.6" width="116.8" height="66.7" fill="#141414"/><g filter="url(#mtex)"><path d="M145.4,933.8 L137.4,937.3 M163.9,933.8 L171.9,937.3 M154.7,934.8 L154.7,940.8" stroke="#b0b0b0" stroke-width="1.5" fill="none" filter="url(#mb3)"/><path d="M154.7,874.8 C156.2,874.8 157.2,878.8 158.2,882.8 C160.7,883.3 164.2,884.8 164.2,887.8 C164.2,890.3 162.7,890.8 162.7,891.8 C166.9,893.8 167.9,898.8 167.4,904.8 C167.9,914.8 168.4,926.8 165.9,933.8 L156.7,935.8 L152.7,935.8 L143.4,933.8 C140.9,926.8 141.4,914.8 141.9,904.8 C141.4,898.8 142.4,893.8 146.7,891.8 C146.7,890.8 145.2,890.3 145.2,887.8 C145.2,884.8 148.7,883.3 151.2,882.8 C152.2,878.8 153.2,874.8 154.7,874.8 Z" fill="#ababab" filter="url(#mb3)"/><ellipse cx="154.7" cy="911.9" rx="9.8" ry="20.5" fill="#ececec" filter="url(#mb2)"/><ellipse cx="154.7" cy="882.8" rx="2.5" ry="5" fill="#c8c8c8" filter="url(#mb3)"/><path d="M174.1,933.8 L166.1,937.3 M192.6,933.8 L200.6,937.3 M183.3,934.8 L183.3,940.8" stroke="#b0b0b0" stroke-width="1.5" fill="none" filter="url(#mb3)"/><path d="M183.3,874.8 C184.8,874.8 185.8,878.8 186.8,882.8 C189.3,883.3 192.8,884.8 192.8,887.8 C192.8,890.3 191.3,890.8 191.3,891.8 C195.6,893.8 196.6,898.8 196.1,904.8 C196.6,914.8 197.1,926.8 194.6,933.8 L185.3,935.8 L181.3,935.8 L172.1,933.8 C169.6,926.8 170.1,914.8 170.6,904.8 C170.1,898.8 171.1,893.8 175.3,891.8 C175.3,890.8 173.8,890.3 173.8,887.8 C173.8,884.8 177.3,883.3 179.8,882.8 C180.8,878.8 181.8,874.8 183.3,874.8 Z" fill="#ababab" filter="url(#mb3)"/><ellipse cx="183.3" cy="911.9" rx="9.8" ry="20.5" fill="#ececec" filter="url(#mb2)"/><ellipse cx="183.3" cy="882.8" rx="2.5" ry="5" fill="#c8c8c8" filter="url(#mb3)"/><path d="M201.4,933.8 L193.4,937.3 M219.9,933.8 L227.9,937.3 M210.7,934.8 L210.7,940.8" stroke="#b0b0b0" stroke-width="1.5" fill="none" filter="url(#mb3)"/><path d="M210.7,874.8 C212.2,874.8 213.2,878.8 214.2,882.8 C216.7,883.3 220.2,884.8 220.2,887.8 C220.2,890.3 218.7,890.8 218.7,891.8 C222.9,893.8 223.9,898.8 223.4,904.8 C223.9,914.8 224.4,926.8 221.9,933.8 L212.7,935.8 L208.7,935.8 L199.4,933.8 C196.9,926.8 197.4,914.8 197.9,904.8 C197.4,898.8 198.4,893.8 202.7,891.8 C202.7,890.8 201.2,890.3 201.2,887.8 C201.2,884.8 204.7,883.3 207.2,882.8 C208.2,878.8 209.2,874.8 210.7,874.8 Z" fill="#ababab" filter="url(#mb3)"/><ellipse cx="210.7" cy="911.9" rx="9.8" ry="20.5" fill="#ececec" filter="url(#mb2)"/><ellipse cx="210.7" cy="882.8" rx="2.5" ry="5" fill="#c8c8c8" filter="url(#mb3)"/><path d="M230.1,933.8 L222.1,937.3 M248.6,933.8 L256.6,937.3 M239.3,934.8 L239.3,940.8" stroke="#b0b0b0" stroke-width="1.5" fill="none" filter="url(#mb3)"/><path d="M239.3,874.8 C240.8,874.8 241.8,878.8 242.8,882.8 C245.3,883.3 248.8,884.8 248.8,887.8 C248.8,890.3 247.3,890.8 247.3,891.8 C251.6,893.8 252.6,898.8 252.1,904.8 C252.6,914.8 253.1,926.8 250.6,933.8 L241.3,935.8 L237.3,935.8 L228.1,933.8 C225.6,926.8 226.1,914.8 226.6,904.8 C226.1,898.8 227.1,893.8 231.3,891.8 C231.3,890.8 229.8,890.3 229.8,887.8 C229.8,884.8 233.3,883.3 235.8,882.8 C236.8,878.8 237.8,874.8 239.3,874.8 Z" fill="#ababab" filter="url(#mb3)"/><ellipse cx="239.3" cy="911.9" rx="9.8" ry="20.5" fill="#ececec" filter="url(#mb2)"/><ellipse cx="239.3" cy="882.8" rx="2.5" ry="5" fill="#c8c8c8" filter="url(#mb3)"/></g><g filter="url(#rough)"><ellipse cx="155.0" cy="906.0" rx="9.0" ry="24.0" fill="#6a4ad8" opacity="0.5" filter="url(#mb2)"/><ellipse cx="183.0" cy="906.0" rx="9.0" ry="24.0" fill="#6a4ad8" opacity="0.45" filter="url(#mb2)"/><ellipse cx="211.0" cy="906.0" rx="8.0" ry="20.0" fill="#6a4ad8" opacity="0.3" filter="url(#mb2)"/><ellipse cx="154.7" cy="897.0" rx="13.0" ry="14.3" fill="#7a3fd0" opacity="0.55" filter="url(#mb)"/><ellipse cx="154.7" cy="897.0" rx="10.0" ry="11.0" fill="#2020f0"/><ellipse cx="154.7" cy="918.0" rx="13.7" ry="13.0" fill="#7a3fd0" opacity="0.55" filter="url(#mb)"/><ellipse cx="154.7" cy="918.0" rx="10.5" ry="10.0" fill="#2020f0"/><ellipse cx="153.0" cy="895.0" rx="7.8" ry="7.8" fill="#7a3fd0" opacity="0.55" filter="url(#mb)"/><ellipse cx="153.0" cy="895.0" rx="6.0" ry="6.0" fill="#2020f0"/><ellipse cx="153.0" cy="895.0" rx="4.5" ry="4.5" fill="#18b8f0"/><ellipse cx="153.0" cy="895.0" rx="3.0" ry="3.0" fill="#40e040"/><ellipse cx="146.0" cy="918.0" rx="6.5" ry="6.5" fill="#7a3fd0" opacity="0.55" filter="url(#mb)"/><ellipse cx="146.0" cy="918.0" rx="5.0" ry="5.0" fill="#2020f0"/><ellipse cx="146.0" cy="918.0" rx="3.8" ry="3.8" fill="#18b8f0"/><ellipse cx="146.0" cy="918.0" rx="2.5" ry="2.5" fill="#40e040"/><ellipse cx="162.0" cy="920.0" rx="9.1" ry="9.1" fill="#7a3fd0" opacity="0.55" filter="url(#mb)"/><ellipse cx="162.0" cy="920.0" rx="7.0" ry="7.0" fill="#2020f0"/><ellipse cx="162.0" cy="920.0" rx="6.0" ry="6.0" fill="#18b8f0"/><ellipse cx="162.0" cy="920.0" rx="4.9" ry="4.9" fill="#40e040"/><ellipse cx="162.0" cy="920.0" rx="3.9" ry="3.9" fill="#f0e020"/><ellipse cx="162.0" cy="920.0" rx="2.8" ry="2.8" fill="#e82010"/><ellipse cx="183.0" cy="897.0" rx="13.0" ry="13.0" fill="#7a3fd0" opacity="0.55" filter="url(#mb)"/><ellipse cx="183.0" cy="897.0" rx="10.0" ry="10.0" fill="#2020f0"/><ellipse cx="183.0" cy="919.0" rx="13.0" ry="13.0" fill="#7a3fd0" opacity="0.55" filter="url(#mb)"/><ellipse cx="183.0" cy="919.0" rx="10.0" ry="10.0" fill="#2020f0"/><ellipse cx="183.0" cy="894.0" rx="7.8" ry="7.8" fill="#7a3fd0" opacity="0.55" filter="url(#mb)"/><ellipse cx="183.0" cy="894.0" rx="6.0" ry="6.0" fill="#2020f0"/><ellipse cx="183.0" cy="894.0" rx="5.1" ry="5.1" fill="#18b8f0"/><ellipse cx="183.0" cy="894.0" rx="4.2" ry="4.2" fill="#40e040"/><ellipse cx="183.0" cy="894.0" rx="3.3" ry="3.3" fill="#f0e020"/><ellipse cx="183.0" cy="894.0" rx="2.4" ry="2.4" fill="#e82010"/><ellipse cx="174.0" cy="920.0" rx="6.5" ry="6.5" fill="#7a3fd0" opacity="0.55" filter="url(#mb)"/><ellipse cx="174.0" cy="920.0" rx="5.0" ry="5.0" fill="#2020f0"/><ellipse cx="174.0" cy="920.0" rx="4.2" ry="4.2" fill="#18b8f0"/><ellipse cx="174.0" cy="920.0" rx="3.5" ry="3.5" fill="#40e040"/><ellipse cx="174.0" cy="920.0" rx="2.8" ry="2.8" fill="#f0e020"/><ellipse cx="174.0" cy="920.0" rx="2.0" ry="2.0" fill="#e82010"/><ellipse cx="190.0" cy="921.0" rx="6.5" ry="6.5" fill="#7a3fd0" opacity="0.55" filter="url(#mb)"/><ellipse cx="190.0" cy="921.0" rx="5.0" ry="5.0" fill="#2020f0"/><ellipse cx="190.0" cy="921.0" rx="3.8" ry="3.8" fill="#18b8f0"/><ellipse cx="190.0" cy="921.0" rx="2.5" ry="2.5" fill="#40e040"/><ellipse cx="210.0" cy="893.0" rx="13.0" ry="7.8" fill="#7a3fd0" opacity="0.55" filter="url(#mb)"/><ellipse cx="210.0" cy="893.0" rx="10.0" ry="6.0" fill="#2020f0"/><ellipse cx="211.0" cy="899.0" rx="3.2" ry="3.2" fill="#7a3fd0" opacity="0.55" filter="url(#mb)"/><ellipse cx="211.0" cy="899.0" rx="2.5" ry="2.5" fill="#2020f0"/><ellipse cx="211.0" cy="899.0" rx="1.6" ry="1.6" fill="#18b8f0"/><ellipse cx="201.0" cy="920.0" rx="6.5" ry="6.5" fill="#7a3fd0" opacity="0.55" filter="url(#mb)"/><ellipse cx="201.0" cy="920.0" rx="5.0" ry="5.0" fill="#2020f0"/><ellipse cx="201.0" cy="920.0" rx="3.8" ry="3.8" fill="#18b8f0"/><ellipse cx="201.0" cy="920.0" rx="2.5" ry="2.5" fill="#40e040"/><ellipse cx="220.0" cy="920.0" rx="6.5" ry="6.5" fill="#7a3fd0" opacity="0.55" filter="url(#mb)"/><ellipse cx="220.0" cy="920.0" rx="5.0" ry="5.0" fill="#2020f0"/><ellipse cx="203.0" cy="908.0" rx="3.9" ry="3.9" fill="#7a3fd0" opacity="0.55" filter="url(#mb)"/><ellipse cx="203.0" cy="908.0" rx="3.0" ry="3.0" fill="#2020f0"/><ellipse cx="239.0" cy="888.0" rx="3.9" ry="3.9" fill="#7a3fd0" opacity="0.55" filter="url(#mb)"/><ellipse cx="239.0" cy="888.0" rx="3.0" ry="3.0" fill="#2020f0"/><ellipse cx="239.0" cy="888.0" rx="1.3" ry="1.3" fill="#7a3fd0" opacity="0.55" filter="url(#mb)"/><ellipse cx="239.0" cy="888.0" rx="1.0" ry="1.0" fill="#2020f0"/><ellipse cx="239.0" cy="888.0" rx="0.8" ry="0.8" fill="#18b8f0"/><ellipse cx="239.0" cy="888.0" rx="0.7" ry="0.7" fill="#40e040"/><ellipse cx="239.0" cy="888.0" rx="0.6" ry="0.6" fill="#f0e020"/><ellipse cx="239.0" cy="888.0" rx="0.4" ry="0.4" fill="#e82010"/></g><rect x="149.6" y="901.2" width="1.2" height="1.2" fill="#b090f0" opacity="0.8"/><rect x="158.0" y="914.1" width="1.2" height="1.2" fill="#d8c8f8" opacity="0.8"/><rect x="162.2" y="915.0" width="1.2" height="1.2" fill="#6040e0" opacity="0.8"/><rect x="152.2" y="899.0" width="1.2" height="1.2" fill="#9a70f0" opacity="0.8"/><rect x="158.7" y="900.1" width="1.2" height="1.2" fill="#d8c8f8" opacity="0.8"/><rect x="161.9" y="896.3" width="1.2" height="1.2" fill="#6040e0" opacity="0.8"/><rect x="157.6" y="928.1" width="1.2" height="1.2" fill="#b090f0" opacity="0.8"/><rect x="150.5" y="921.7" width="1.2" height="1.2" fill="#d8c8f8" opacity="0.8"/><rect x="155.9" y="886.1" width="1.2" height="1.2" fill="#d8c8f8" opacity="0.8"/><rect x="147.3" y="902.6" width="1.2" height="1.2" fill="#9a70f0" opacity="0.8"/><rect x="147.7" y="917.4" width="1.2" height="1.2" fill="#d8c8f8" opacity="0.8"/><rect x="160.7" y="893.2" width="1.2" height="1.2" fill="#d8c8f8" opacity="0.8"/><rect x="153.5" y="911.3" width="1.2" height="1.2" fill="#6040e0" opacity="0.8"/><rect x="148.7" y="895.8" width="1.2" height="1.2" fill="#6040e0" opacity="0.8"/><rect x="148.2" y="919.6" width="1.2" height="1.2" fill="#6040e0" opacity="0.8"/><rect x="151.3" y="916.1" width="1.2" height="1.2" fill="#6040e0" opacity="0.8"/><rect x="162.5" y="914.2" width="1.2" height="1.2" fill="#b090f0" opacity="0.8"/><rect x="159.8" y="893.0" width="1.2" height="1.2" fill="#6040e0" opacity="0.8"/><rect x="156.0" y="916.8" width="1.2" height="1.2" fill="#d8c8f8" opacity="0.8"/><rect x="151.9" y="902.8" width="1.2" height="1.2" fill="#6040e0" opacity="0.8"/><rect x="155.6" y="929.1" width="1.2" height="1.2" fill="#b090f0" opacity="0.8"/><rect x="162.2" y="899.1" width="1.2" height="1.2" fill="#9a70f0" opacity="0.8"/><rect x="157.2" y="909.1" width="1.2" height="1.2" fill="#d8c8f8" opacity="0.8"/><rect x="160.6" y="902.2" width="1.2" height="1.2" fill="#6040e0" opacity="0.8"/><rect x="162.8" y="899.2" width="1.2" height="1.2" fill="#9a70f0" opacity="0.8"/><rect x="152.9" y="895.9" width="1.2" height="1.2" fill="#b090f0" opacity="0.8"/><rect x="148.7" y="901.1" width="1.2" height="1.2" fill="#6040e0" opacity="0.8"/><rect x="157.6" y="920.8" width="1.2" height="1.2" fill="#d8c8f8" opacity="0.8"/><rect x="161.3" y="897.4" width="1.2" height="1.2" fill="#6040e0" opacity="0.8"/><rect x="153.4" y="928.3" width="1.2" height="1.2" fill="#9a70f0" opacity="0.8"/><rect x="150.9" y="884.9" width="1.2" height="1.2" fill="#6040e0" opacity="0.8"/><rect x="161.2" y="892.0" width="1.2" height="1.2" fill="#d8c8f8" opacity="0.8"/><rect x="156.2" y="885.1" width="1.2" height="1.2" fill="#d8c8f8" opacity="0.8"/><rect x="159.4" y="901.5" width="1.2" height="1.2" fill="#9a70f0" opacity="0.8"/><rect x="151.9" y="908.0" width="1.2" height="1.2" fill="#b090f0" opacity="0.8"/><rect x="154.8" y="902.9" width="1.2" height="1.2" fill="#9a70f0" opacity="0.8"/><rect x="150.5" y="913.7" width="1.2" height="1.2" fill="#6040e0" opacity="0.8"/><rect x="155.5" y="927.1" width="1.2" height="1.2" fill="#b090f0" opacity="0.8"/><rect x="151.6" y="887.4" width="1.2" height="1.2" fill="#d8c8f8" opacity="0.8"/><rect x="152.1" y="910.2" width="1.2" height="1.2" fill="#d8c8f8" opacity="0.8"/><rect x="158.0" y="901.9" width="1.2" height="1.2" fill="#d8c8f8" opacity="0.8"/><rect x="150.2" y="887.6" width="1.2" height="1.2" fill="#b090f0" opacity="0.8"/><rect x="148.9" y="900.0" width="1.2" height="1.2" fill="#9a70f0" opacity="0.8"/><rect x="156.8" y="907.6" width="1.2" height="1.2" fill="#9a70f0" opacity="0.8"/><rect x="147.4" y="915.5" width="1.2" height="1.2" fill="#d8c8f8" opacity="0.8"/><rect x="163.8" y="905.4" width="1.2" height="1.2" fill="#b090f0" opacity="0.8"/><rect x="150.4" y="888.3" width="1.2" height="1.2" fill="#b090f0" opacity="0.8"/><rect x="162.6" y="905.5" width="1.2" height="1.2" fill="#d8c8f8" opacity="0.8"/><rect x="155.4" y="896.3" width="1.2" height="1.2" fill="#9a70f0" opacity="0.8"/><rect x="152.0" y="906.7" width="1.2" height="1.2" fill="#b090f0" opacity="0.8"/><rect x="159.6" y="886.5" width="1.2" height="1.2" fill="#9a70f0" opacity="0.8"/><rect x="157.6" y="918.4" width="1.2" height="1.2" fill="#6040e0" opacity="0.8"/><rect x="161.4" y="896.6" width="1.2" height="1.2" fill="#d8c8f8" opacity="0.8"/><rect x="150.3" y="913.5" width="1.2" height="1.2" fill="#b090f0" opacity="0.8"/><rect x="160.6" y="909.0" width="1.2" height="1.2" fill="#9a70f0" opacity="0.8"/><rect x="150.9" y="891.6" width="1.2" height="1.2" fill="#b090f0" opacity="0.8"/><rect x="154.4" y="896.4" width="1.2" height="1.2" fill="#d8c8f8" opacity="0.8"/><rect x="158.9" y="907.1" width="1.2" height="1.2" fill="#9a70f0" opacity="0.8"/><rect x="158.2" y="895.0" width="1.2" height="1.2" fill="#6040e0" opacity="0.8"/><rect x="151.2" y="908.4" width="1.2" height="1.2" fill="#b090f0" opacity="0.8"/><rect x="154.2" y="928.1" width="1.2" height="1.2" fill="#d8c8f8" opacity="0.8"/><rect x="147.4" y="894.9" width="1.2" height="1.2" fill="#6040e0" opacity="0.8"/><rect x="156.6" y="896.6" width="1.2" height="1.2" fill="#b090f0" opacity="0.8"/><rect x="154.2" y="884.2" width="1.2" height="1.2" fill="#b090f0" opacity="0.8"/><rect x="151.1" y="884.6" width="1.2" height="1.2" fill="#d8c8f8" opacity="0.8"/><rect x="148.5" y="906.9" width="1.2" height="1.2" fill="#b090f0" opacity="0.8"/><rect x="154.0" y="887.8" width="1.2" height="1.2" fill="#d8c8f8" opacity="0.8"/><rect x="152.1" y="908.9" width="1.2" height="1.2" fill="#6040e0" opacity="0.8"/><rect x="157.0" y="884.1" width="1.2" height="1.2" fill="#9a70f0" opacity="0.8"/><rect x="152.4" y="893.5" width="1.2" height="1.2" fill="#d8c8f8" opacity="0.8"/><rect x="150.6" y="906.4" width="1.2" height="1.2" fill="#9a70f0" opacity="0.8"/><rect x="147.7" y="914.0" width="1.2" height="1.2" fill="#b090f0" opacity="0.8"/><rect x="155.6" y="899.9" width="1.2" height="1.2" fill="#9a70f0" opacity="0.8"/><rect x="153.2" y="907.7" width="1.2" height="1.2" fill="#6040e0" opacity="0.8"/><rect x="147.5" y="904.9" width="1.2" height="1.2" fill="#d8c8f8" opacity="0.8"/><rect x="149.1" y="914.1" width="1.2" height="1.2" fill="#b090f0" opacity="0.8"/><rect x="154.1" y="925.7" width="1.2" height="1.2" fill="#b090f0" opacity="0.8"/><rect x="151.1" y="884.5" width="1.2" height="1.2" fill="#9a70f0" opacity="0.8"/><rect x="154.6" y="904.0" width="1.2" height="1.2" fill="#d8c8f8" opacity="0.8"/><rect x="162.4" y="910.4" width="1.2" height="1.2" fill="#9a70f0" opacity="0.8"/><rect x="159.9" y="903.2" width="1.2" height="1.2" fill="#b090f0" opacity="0.8"/><rect x="162.7" y="897.5" width="1.2" height="1.2" fill="#9a70f0" opacity="0.8"/><rect x="159.6" y="904.9" width="1.2" height="1.2" fill="#d8c8f8" opacity="0.8"/><rect x="151.5" y="901.3" width="1.2" height="1.2" fill="#9a70f0" opacity="0.8"/><rect x="160.8" y="893.9" width="1.2" height="1.2" fill="#9a70f0" opacity="0.8"/><rect x="150.1" y="900.7" width="1.2" height="1.2" fill="#9a70f0" opacity="0.8"/><rect x="158.3" y="910.8" width="1.2" height="1.2" fill="#6040e0" opacity="0.8"/><rect x="148.8" y="918.3" width="1.2" height="1.2" fill="#d8c8f8" opacity="0.8"/><rect x="148.4" y="918.7" width="1.2" height="1.2" fill="#d8c8f8" opacity="0.8"/><rect x="148.8" y="916.0" width="1.2" height="1.2" fill="#6040e0" opacity="0.8"/><rect x="147.7" y="893.1" width="1.2" height="1.2" fill="#d8c8f8" opacity="0.8"/><rect x="158.0" y="919.6" width="1.2" height="1.2" fill="#6040e0" opacity="0.8"/><rect x="147.9" y="894.9" width="1.2" height="1.2" fill="#d8c8f8" opacity="0.8"/><rect x="161.2" y="918.1" width="1.2" height="1.2" fill="#6040e0" opacity="0.8"/><rect x="160.5" y="906.9" width="1.2" height="1.2" fill="#9a70f0" opacity="0.8"/><rect x="149.0" y="906.1" width="1.2" height="1.2" fill="#b090f0" opacity="0.8"/><rect x="150.2" y="912.0" width="1.2" height="1.2" fill="#9a70f0" opacity="0.8"/><rect x="150.1" y="910.0" width="1.2" height="1.2" fill="#9a70f0" opacity="0.8"/><rect x="157.8" y="900.5" width="1.2" height="1.2" fill="#6040e0" opacity="0.8"/><rect x="157.7" y="894.9" width="1.2" height="1.2" fill="#6040e0" opacity="0.8"/><rect x="155.8" y="916.3" width="1.2" height="1.2" fill="#6040e0" opacity="0.8"/><rect x="153.3" y="895.4" width="1.2" height="1.2" fill="#6040e0" opacity="0.8"/><rect x="159.3" y="912.1" width="1.2" height="1.2" fill="#9a70f0" opacity="0.8"/><rect x="152.2" y="895.1" width="1.2" height="1.2" fill="#6040e0" opacity="0.8"/><rect x="157.2" y="901.1" width="1.2" height="1.2" fill="#d8c8f8" opacity="0.8"/><rect x="159.3" y="922.0" width="1.2" height="1.2" fill="#d8c8f8" opacity="0.8"/><rect x="150.6" y="886.2" width="1.2" height="1.2" fill="#b090f0" opacity="0.8"/><rect x="158.7" y="896.2" width="1.2" height="1.2" fill="#6040e0" opacity="0.8"/><rect x="189.0" y="907.7" width="1.2" height="1.2" fill="#b090f0" opacity="0.8"/><rect x="182.9" y="916.9" width="1.2" height="1.2" fill="#b090f0" opacity="0.8"/><rect x="180.3" y="905.2" width="1.2" height="1.2" fill="#d8c8f8" opacity="0.8"/><rect x="181.6" y="911.4" width="1.2" height="1.2" fill="#d8c8f8" opacity="0.8"/><rect x="176.9" y="903.8" width="1.2" height="1.2" fill="#6040e0" opacity="0.8"/><rect x="176.4" y="898.6" width="1.2" height="1.2" fill="#6040e0" opacity="0.8"/><rect x="180.9" y="912.8" width="1.2" height="1.2" fill="#d8c8f8" opacity="0.8"/><rect x="184.3" y="927.0" width="1.2" height="1.2" fill="#6040e0" opacity="0.8"/><rect x="186.8" y="901.2" width="1.2" height="1.2" fill="#d8c8f8" opacity="0.8"/><rect x="179.3" y="914.1" width="1.2" height="1.2" fill="#6040e0" opacity="0.8"/><rect x="181.2" y="916.2" width="1.2" height="1.2" fill="#9a70f0" opacity="0.8"/><rect x="181.8" y="887.4" width="1.2" height="1.2" fill="#9a70f0" opacity="0.8"/><rect x="181.1" y="908.0" width="1.2" height="1.2" fill="#6040e0" opacity="0.8"/><rect x="185.3" y="914.2" width="1.2" height="1.2" fill="#b090f0" opacity="0.8"/><rect x="181.6" y="909.6" width="1.2" height="1.2" fill="#6040e0" opacity="0.8"/><rect x="182.4" y="927.5" width="1.2" height="1.2" fill="#b090f0" opacity="0.8"/><rect x="188.2" y="924.0" width="1.2" height="1.2" fill="#d8c8f8" opacity="0.8"/><rect x="188.4" y="891.0" width="1.2" height="1.2" fill="#b090f0" opacity="0.8"/><rect x="186.0" y="903.9" width="1.2" height="1.2" fill="#d8c8f8" opacity="0.8"/><rect x="175.1" y="916.0" width="1.2" height="1.2" fill="#6040e0" opacity="0.8"/><rect x="182.0" y="918.2" width="1.2" height="1.2" fill="#6040e0" opacity="0.8"/><rect x="176.3" y="917.9" width="1.2" height="1.2" fill="#d8c8f8" opacity="0.8"/><rect x="186.8" y="916.8" width="1.2" height="1.2" fill="#9a70f0" opacity="0.8"/><rect x="176.1" y="920.6" width="1.2" height="1.2" fill="#6040e0" opacity="0.8"/><rect x="176.2" y="910.7" width="1.2" height="1.2" fill="#9a70f0" opacity="0.8"/><rect x="185.4" y="916.5" width="1.2" height="1.2" fill="#6040e0" opacity="0.8"/><rect x="183.4" y="890.6" width="1.2" height="1.2" fill="#6040e0" opacity="0.8"/><rect x="184.0" y="893.0" width="1.2" height="1.2" fill="#b090f0" opacity="0.8"/><rect x="174.8" y="896.3" width="1.2" height="1.2" fill="#9a70f0" opacity="0.8"/><rect x="182.7" y="908.3" width="1.2" height="1.2" fill="#6040e0" opacity="0.8"/><rect x="177.5" y="893.2" width="1.2" height="1.2" fill="#d8c8f8" opacity="0.8"/><rect x="184.2" y="897.6" width="1.2" height="1.2" fill="#d8c8f8" opacity="0.8"/><rect x="187.0" y="908.5" width="1.2" height="1.2" fill="#9a70f0" opacity="0.8"/><rect x="185.7" y="899.3" width="1.2" height="1.2" fill="#d8c8f8" opacity="0.8"/><rect x="186.6" y="910.8" width="1.2" height="1.2" fill="#d8c8f8" opacity="0.8"/><rect x="179.2" y="900.5" width="1.2" height="1.2" fill="#d8c8f8" opacity="0.8"/><rect x="183.0" y="909.7" width="1.2" height="1.2" fill="#6040e0" opacity="0.8"/><rect x="182.5" y="911.5" width="1.2" height="1.2" fill="#b090f0" opacity="0.8"/><rect x="176.6" y="895.0" width="1.2" height="1.2" fill="#b090f0" opacity="0.8"/><rect x="182.9" y="903.5" width="1.2" height="1.2" fill="#9a70f0" opacity="0.8"/><rect x="175.7" y="901.4" width="1.2" height="1.2" fill="#6040e0" opacity="0.8"/><rect x="180.7" y="889.7" width="1.2" height="1.2" fill="#b090f0" opacity="0.8"/><rect x="184.0" y="915.9" width="1.2" height="1.2" fill="#b090f0" opacity="0.8"/><rect x="189.1" y="888.8" width="1.2" height="1.2" fill="#d8c8f8" opacity="0.8"/><rect x="190.2" y="902.1" width="1.2" height="1.2" fill="#b090f0" opacity="0.8"/><rect x="177.0" y="893.6" width="1.2" height="1.2" fill="#6040e0" opacity="0.8"/><rect x="179.9" y="897.2" width="1.2" height="1.2" fill="#9a70f0" opacity="0.8"/><rect x="177.6" y="906.3" width="1.2" height="1.2" fill="#9a70f0" opacity="0.8"/><rect x="184.4" y="893.9" width="1.2" height="1.2" fill="#9a70f0" opacity="0.8"/><rect x="187.7" y="903.4" width="1.2" height="1.2" fill="#6040e0" opacity="0.8"/><rect x="175.2" y="909.9" width="1.2" height="1.2" fill="#6040e0" opacity="0.8"/><rect x="190.0" y="918.3" width="1.2" height="1.2" fill="#9a70f0" opacity="0.8"/><rect x="178.4" y="913.6" width="1.2" height="1.2" fill="#d8c8f8" opacity="0.8"/><rect x="184.0" y="917.8" width="1.2" height="1.2" fill="#d8c8f8" opacity="0.8"/><rect x="175.9" y="901.2" width="1.2" height="1.2" fill="#9a70f0" opacity="0.8"/><rect x="176.3" y="897.3" width="1.2" height="1.2" fill="#d8c8f8" opacity="0.8"/><rect x="176.5" y="902.6" width="1.2" height="1.2" fill="#6040e0" opacity="0.8"/><rect x="185.3" y="896.5" width="1.2" height="1.2" fill="#b090f0" opacity="0.8"/><rect x="185.5" y="900.3" width="1.2" height="1.2" fill="#d8c8f8" opacity="0.8"/><rect x="178.1" y="889.4" width="1.2" height="1.2" fill="#b090f0" opacity="0.8"/><rect x="180.3" y="885.4" width="1.2" height="1.2" fill="#b090f0" opacity="0.8"/><rect x="177.5" y="923.8" width="1.2" height="1.2" fill="#6040e0" opacity="0.8"/><rect x="181.7" y="894.5" width="1.2" height="1.2" fill="#9a70f0" opacity="0.8"/><rect x="180.5" y="890.1" width="1.2" height="1.2" fill="#6040e0" opacity="0.8"/><rect x="184.6" y="894.9" width="1.2" height="1.2" fill="#9a70f0" opacity="0.8"/><rect x="190.6" y="911.5" width="1.2" height="1.2" fill="#b090f0" opacity="0.8"/><rect x="187.7" y="891.1" width="1.2" height="1.2" fill="#6040e0" opacity="0.8"/><rect x="185.6" y="896.6" width="1.2" height="1.2" fill="#b090f0" opacity="0.8"/><rect x="176.8" y="920.7" width="1.2" height="1.2" fill="#b090f0" opacity="0.8"/><rect x="176.4" y="899.8" width="1.2" height="1.2" fill="#b090f0" opacity="0.8"/><rect x="187.0" y="905.3" width="1.2" height="1.2" fill="#6040e0" opacity="0.8"/><rect x="181.8" y="921.5" width="1.2" height="1.2" fill="#6040e0" opacity="0.8"/><rect x="181.9" y="900.7" width="1.2" height="1.2" fill="#9a70f0" opacity="0.8"/><rect x="179.9" y="896.4" width="1.2" height="1.2" fill="#9a70f0" opacity="0.8"/><rect x="191.7" y="907.7" width="1.2" height="1.2" fill="#6040e0" opacity="0.8"/><rect x="190.5" y="894.2" width="1.2" height="1.2" fill="#b090f0" opacity="0.8"/><rect x="190.3" y="897.1" width="1.2" height="1.2" fill="#b090f0" opacity="0.8"/><rect x="184.0" y="913.3" width="1.2" height="1.2" fill="#6040e0" opacity="0.8"/><rect x="179.5" y="906.5" width="1.2" height="1.2" fill="#d8c8f8" opacity="0.8"/><rect x="179.5" y="886.1" width="1.2" height="1.2" fill="#9a70f0" opacity="0.8"/><rect x="190.6" y="897.1" width="1.2" height="1.2" fill="#d8c8f8" opacity="0.8"/><rect x="177.0" y="890.9" width="1.2" height="1.2" fill="#d8c8f8" opacity="0.8"/><rect x="180.8" y="913.3" width="1.2" height="1.2" fill="#d8c8f8" opacity="0.8"/><rect x="178.8" y="900.3" width="1.2" height="1.2" fill="#6040e0" opacity="0.8"/><rect x="186.5" y="884.0" width="1.2" height="1.2" fill="#9a70f0" opacity="0.8"/><rect x="183.6" y="892.6" width="1.2" height="1.2" fill="#6040e0" opacity="0.8"/><rect x="177.5" y="911.2" width="1.2" height="1.2" fill="#d8c8f8" opacity="0.8"/><rect x="180.3" y="926.0" width="1.2" height="1.2" fill="#6040e0" opacity="0.8"/><rect x="182.0" y="919.1" width="1.2" height="1.2" fill="#d8c8f8" opacity="0.8"/><rect x="186.6" y="923.6" width="1.2" height="1.2" fill="#b090f0" opacity="0.8"/><rect x="175.0" y="912.0" width="1.2" height="1.2" fill="#d8c8f8" opacity="0.8"/><rect x="174.2" y="901.6" width="1.2" height="1.2" fill="#9a70f0" opacity="0.8"/><rect x="183.6" y="922.1" width="1.2" height="1.2" fill="#d8c8f8" opacity="0.8"/><rect x="187.9" y="915.2" width="1.2" height="1.2" fill="#b090f0" opacity="0.8"/><rect x="186.2" y="895.0" width="1.2" height="1.2" fill="#6040e0" opacity="0.8"/><rect x="174.6" y="906.1" width="1.2" height="1.2" fill="#6040e0" opacity="0.8"/><rect x="190.1" y="892.1" width="1.2" height="1.2" fill="#d8c8f8" opacity="0.8"/><rect x="178.5" y="913.5" width="1.2" height="1.2" fill="#d8c8f8" opacity="0.8"/><rect x="183.9" y="923.1" width="1.2" height="1.2" fill="#6040e0" opacity="0.8"/><rect x="180.7" y="883.8" width="1.2" height="1.2" fill="#6040e0" opacity="0.8"/><rect x="184.3" y="891.0" width="1.2" height="1.2" fill="#6040e0" opacity="0.8"/><rect x="189.9" y="905.9" width="1.2" height="1.2" fill="#b090f0" opacity="0.8"/><rect x="179.6" y="893.6" width="1.2" height="1.2" fill="#9a70f0" opacity="0.8"/><rect x="174.2" y="900.9" width="1.2" height="1.2" fill="#6040e0" opacity="0.8"/><rect x="177.3" y="892.9" width="1.2" height="1.2" fill="#6040e0" opacity="0.8"/><rect x="180.9" y="890.0" width="1.2" height="1.2" fill="#b090f0" opacity="0.8"/><rect x="184.7" y="902.6" width="1.2" height="1.2" fill="#b090f0" opacity="0.8"/><rect x="181.2" y="904.2" width="1.2" height="1.2" fill="#b090f0" opacity="0.8"/><rect x="210.7" y="896.2" width="1.2" height="1.2" fill="#9a70f0" opacity="0.8"/><rect x="211.3" y="898.6" width="1.2" height="1.2" fill="#6040e0" opacity="0.8"/><rect x="212.6" y="922.4" width="1.2" height="1.2" fill="#b090f0" opacity="0.8"/><rect x="209.9" y="913.9" width="1.2" height="1.2" fill="#b090f0" opacity="0.8"/><rect x="207.3" y="898.3" width="1.2" height="1.2" fill="#d8c8f8" opacity="0.8"/><rect x="212.4" y="916.3" width="1.2" height="1.2" fill="#b090f0" opacity="0.8"/><rect x="211.8" y="920.4" width="1.2" height="1.2" fill="#6040e0" opacity="0.8"/><rect x="213.4" y="889.0" width="1.2" height="1.2" fill="#9a70f0" opacity="0.8"/><rect x="204.2" y="912.1" width="1.2" height="1.2" fill="#9a70f0" opacity="0.8"/><rect x="207.2" y="916.4" width="1.2" height="1.2" fill="#9a70f0" opacity="0.8"/><rect x="216.0" y="921.1" width="1.2" height="1.2" fill="#d8c8f8" opacity="0.8"/><rect x="206.4" y="916.2" width="1.2" height="1.2" fill="#6040e0" opacity="0.8"/><rect x="209.5" y="886.7" width="1.2" height="1.2" fill="#9a70f0" opacity="0.8"/><rect x="216.8" y="897.8" width="1.2" height="1.2" fill="#6040e0" opacity="0.8"/><rect x="205.2" y="904.2" width="1.2" height="1.2" fill="#6040e0" opacity="0.8"/><rect x="217.0" y="917.6" width="1.2" height="1.2" fill="#9a70f0" opacity="0.8"/><rect x="210.6" y="919.4" width="1.2" height="1.2" fill="#9a70f0" opacity="0.8"/><rect x="213.8" y="912.4" width="1.2" height="1.2" fill="#6040e0" opacity="0.8"/><rect x="207.5" y="890.0" width="1.2" height="1.2" fill="#9a70f0" opacity="0.8"/><rect x="207.7" y="921.8" width="1.2" height="1.2" fill="#b090f0" opacity="0.8"/><rect x="217.6" y="906.6" width="1.2" height="1.2" fill="#d8c8f8" opacity="0.8"/><rect x="214.8" y="894.0" width="1.2" height="1.2" fill="#9a70f0" opacity="0.8"/><rect x="212.8" y="893.1" width="1.2" height="1.2" fill="#6040e0" opacity="0.8"/><rect x="208.1" y="910.4" width="1.2" height="1.2" fill="#9a70f0" opacity="0.8"/><rect x="213.6" y="913.4" width="1.2" height="1.2" fill="#d8c8f8" opacity="0.8"/><rect x="207.8" y="908.6" width="1.2" height="1.2" fill="#b090f0" opacity="0.8"/><rect x="215.2" y="896.7" width="1.2" height="1.2" fill="#9a70f0" opacity="0.8"/><rect x="212.6" y="906.2" width="1.2" height="1.2" fill="#9a70f0" opacity="0.8"/><rect x="207.1" y="893.0" width="1.2" height="1.2" fill="#9a70f0" opacity="0.8"/><rect x="211.7" y="920.0" width="1.2" height="1.2" fill="#6040e0" opacity="0.8"/><rect x="214.4" y="903.9" width="1.2" height="1.2" fill="#b090f0" opacity="0.8"/><rect x="215.8" y="899.7" width="1.2" height="1.2" fill="#9a70f0" opacity="0.8"/><rect x="204.3" y="896.6" width="1.2" height="1.2" fill="#b090f0" opacity="0.8"/><rect x="209.9" y="920.4" width="1.2" height="1.2" fill="#6040e0" opacity="0.8"/><rect x="215.7" y="893.1" width="1.2" height="1.2" fill="#6040e0" opacity="0.8"/><rect x="216.8" y="892.9" width="1.2" height="1.2" fill="#9a70f0" opacity="0.8"/><rect x="209.8" y="899.7" width="1.2" height="1.2" fill="#9a70f0" opacity="0.8"/><rect x="204.2" y="895.4" width="1.2" height="1.2" fill="#b090f0" opacity="0.8"/><rect x="213.4" y="923.7" width="1.2" height="1.2" fill="#d8c8f8" opacity="0.8"/><rect x="212.8" y="920.8" width="1.2" height="1.2" fill="#b090f0" opacity="0.8"/><rect x="210.2" y="899.7" width="1.2" height="1.2" fill="#6040e0" opacity="0.8"/><rect x="210.5" y="899.2" width="1.2" height="1.2" fill="#6040e0" opacity="0.8"/><rect x="208.4" y="910.6" width="1.2" height="1.2" fill="#6040e0" opacity="0.8"/><rect x="214.0" y="918.5" width="1.2" height="1.2" fill="#b090f0" opacity="0.8"/><rect x="212.6" y="905.1" width="1.2" height="1.2" fill="#9a70f0" opacity="0.8"/><rect x="209.8" y="908.5" width="1.2" height="1.2" fill="#b090f0" opacity="0.8"/><rect x="207.4" y="903.9" width="1.2" height="1.2" fill="#b090f0" opacity="0.8"/><rect x="217.8" y="915.4" width="1.2" height="1.2" fill="#b090f0" opacity="0.8"/><rect x="213.4" y="918.5" width="1.2" height="1.2" fill="#6040e0" opacity="0.8"/><rect x="216.3" y="896.9" width="1.2" height="1.2" fill="#b090f0" opacity="0.8"/><rect x="210.7" y="905.3" width="1.2" height="1.2" fill="#6040e0" opacity="0.8"/><rect x="212.6" y="915.2" width="1.2" height="1.2" fill="#d8c8f8" opacity="0.8"/><rect x="210.4" y="918.6" width="1.2" height="1.2" fill="#d8c8f8" opacity="0.8"/><rect x="211.0" y="910.2" width="1.2" height="1.2" fill="#b090f0" opacity="0.8"/><rect x="206.2" y="904.7" width="1.2" height="1.2" fill="#d8c8f8" opacity="0.8"/><rect x="206.9" y="890.4" width="1.2" height="1.2" fill="#b090f0" opacity="0.8"/><rect x="211.4" y="912.8" width="1.2" height="1.2" fill="#9a70f0" opacity="0.8"/><rect x="205.4" y="894.5" width="1.2" height="1.2" fill="#b090f0" opacity="0.8"/><rect x="210.2" y="893.3" width="1.2" height="1.2" fill="#9a70f0" opacity="0.8"/><rect x="212.4" y="902.2" width="1.2" height="1.2" fill="#b090f0" opacity="0.8"/><rect x="209.3" y="911.0" width="1.2" height="1.2" fill="#b090f0" opacity="0.8"/><rect x="216.0" y="913.1" width="1.2" height="1.2" fill="#d8c8f8" opacity="0.8"/><rect x="208.2" y="903.5" width="1.2" height="1.2" fill="#d8c8f8" opacity="0.8"/><rect x="205.0" y="912.0" width="1.2" height="1.2" fill="#b090f0" opacity="0.8"/><rect x="215.0" y="896.6" width="1.2" height="1.2" fill="#6040e0" opacity="0.8"/><rect x="211.9" y="889.9" width="1.2" height="1.2" fill="#b090f0" opacity="0.8"/><rect x="218.0" y="901.6" width="1.2" height="1.2" fill="#b090f0" opacity="0.8"/><rect x="205.8" y="891.0" width="1.2" height="1.2" fill="#6040e0" opacity="0.8"/><rect x="203.8" y="899.9" width="1.2" height="1.2" fill="#d8c8f8" opacity="0.8"/><rect x="210.2" y="914.9" width="1.2" height="1.2" fill="#6040e0" opacity="0.8"/><rect x="213.7" y="920.2" width="1.2" height="1.2" fill="#d8c8f8" opacity="0.8"/><rect x="214.0" y="916.6" width="1.2" height="1.2" fill="#b090f0" opacity="0.8"/><rect x="213.1" y="895.6" width="1.2" height="1.2" fill="#9a70f0" opacity="0.8"/><rect x="207.6" y="891.9" width="1.2" height="1.2" fill="#d8c8f8" opacity="0.8"/><rect x="210.3" y="919.2" width="1.2" height="1.2" fill="#9a70f0" opacity="0.8"/><rect x="213.4" y="915.9" width="1.2" height="1.2" fill="#b090f0" opacity="0.8"/><rect x="213.0" y="900.2" width="1.2" height="1.2" fill="#6040e0" opacity="0.8"/><rect x="212.2" y="889.9" width="1.2" height="1.2" fill="#b090f0" opacity="0.8"/><rect x="210.1" y="910.8" width="1.2" height="1.2" fill="#b090f0" opacity="0.8"/><rect x="203.7" y="904.6" width="1.2" height="1.2" fill="#b090f0" opacity="0.8"/></g>
<rect x="271.6" y="784.4" width="27.6" height="15.4" fill="#fff" stroke="#444" stroke-width="0.6" />
<text x="273.0" y="789.3" font-size="3.6" font-weight="normal" text-anchor="start" fill="#222" >Image</text>
<text x="273.0" y="793.8" font-size="3.6" font-weight="normal" text-anchor="start" fill="#222" >Min = -5.20e4</text>
<text x="273.0" y="798.3" font-size="3.6" font-weight="normal" text-anchor="start" fill="#222" >Max = 1.95e5</text>
<defs><linearGradient id="cb" x1="0" y1="0" x2="0" y2="1"><stop offset="0" stop-color="#e01010"/><stop offset="0.15" stop-color="#f08010"/><stop offset="0.3" stop-color="#e8e020"/><stop offset="0.5" stop-color="#40d040"/><stop offset="0.68" stop-color="#20d0e0"/><stop offset="0.85" stop-color="#2040f0"/><stop offset="1" stop-color="#3010b0"/></linearGradient></defs>
<rect x="271.2" y="804.0" width="6.3" height="87.5" fill="url(#cb)" stroke="none" stroke-width="1" />
<line x1="277.5" y1="805.0" x2="280.0" y2="805.0" stroke="#333" stroke-width="0.5" />
<line x1="277.5" y1="809.8" x2="278.8" y2="809.8" stroke="#333" stroke-width="0.5" />
<line x1="277.5" y1="814.5" x2="278.8" y2="814.5" stroke="#333" stroke-width="0.5" />
<line x1="277.5" y1="819.2" x2="278.8" y2="819.2" stroke="#333" stroke-width="0.5" />
<line x1="277.5" y1="824.0" x2="280.0" y2="824.0" stroke="#333" stroke-width="0.5" />
<line x1="277.5" y1="828.8" x2="278.8" y2="828.8" stroke="#333" stroke-width="0.5" />
<line x1="277.5" y1="833.5" x2="278.8" y2="833.5" stroke="#333" stroke-width="0.5" />
<line x1="277.5" y1="838.2" x2="278.8" y2="838.2" stroke="#333" stroke-width="0.5" />
<line x1="277.5" y1="843.0" x2="280.0" y2="843.0" stroke="#333" stroke-width="0.5" />
<line x1="277.5" y1="847.8" x2="278.8" y2="847.8" stroke="#333" stroke-width="0.5" />
<line x1="277.5" y1="852.5" x2="278.8" y2="852.5" stroke="#333" stroke-width="0.5" />
<line x1="277.5" y1="857.2" x2="278.8" y2="857.2" stroke="#333" stroke-width="0.5" />
<line x1="277.5" y1="862.0" x2="280.0" y2="862.0" stroke="#333" stroke-width="0.5" />
<line x1="277.5" y1="866.8" x2="278.8" y2="866.8" stroke="#333" stroke-width="0.5" />
<line x1="277.5" y1="871.5" x2="278.8" y2="871.5" stroke="#333" stroke-width="0.5" />
<line x1="277.5" y1="876.2" x2="278.8" y2="876.2" stroke="#333" stroke-width="0.5" />
<line x1="277.5" y1="881.0" x2="280.0" y2="881.0" stroke="#333" stroke-width="0.5" />
<line x1="277.5" y1="885.8" x2="278.8" y2="885.8" stroke="#333" stroke-width="0.5" />
<line x1="277.5" y1="890.5" x2="278.8" y2="890.5" stroke="#333" stroke-width="0.5" />
<text x="282.3" y="806.3" font-size="4" font-weight="normal" text-anchor="start" fill="#222" >50000</text>
<text x="282.3" y="825.3" font-size="4" font-weight="normal" text-anchor="start" fill="#222" >40000</text>
<text x="282.3" y="844.3" font-size="4" font-weight="normal" text-anchor="start" fill="#222" >30000</text>
<text x="282.3" y="863.3" font-size="4" font-weight="normal" text-anchor="start" fill="#222" >20000</text>
<text x="282.3" y="882.3" font-size="4" font-weight="normal" text-anchor="start" fill="#222" >10000</text>
<text x="271.3" y="894.6" font-size="3.4" font-weight="normal" text-anchor="start" fill="#222" >p/sec/cm²/sr</text>
<rect x="271.6" y="898.8" width="26.7" height="15.7" fill="#fff" stroke="#444" stroke-width="0.6" />
<text x="273.0" y="903.6" font-size="3.6" font-weight="normal" text-anchor="start" fill="#222" >Color Bar</text>
<text x="273.0" y="908.1" font-size="3.6" font-weight="normal" text-anchor="start" fill="#222" >Min = 8.00e3</text>
<text x="273.0" y="912.6" font-size="3.6" font-weight="normal" text-anchor="start" fill="#222" >Max = 5.50e4</text>
<line x1="352.4" y1="798.4" x2="352.4" y2="899.8" stroke="#000" stroke-width="1.2" />
<line x1="349.9" y1="897.3" x2="502.2" y2="897.3" stroke="#000" stroke-width="1.2" />
<line x1="349.4" y1="897.3" x2="352.4" y2="897.3" stroke="#000" stroke-width="1" />
<text x="349.6" y="900.3" font-size="8" font-weight="normal" text-anchor="end" fill="#222" >0</text>
<line x1="349.4" y1="872.6" x2="352.4" y2="872.6" stroke="#000" stroke-width="1" />
<text x="349.6" y="875.6" font-size="8" font-weight="normal" text-anchor="end" fill="#222" >1</text>
<line x1="349.4" y1="847.8" x2="352.4" y2="847.8" stroke="#000" stroke-width="1" />
<text x="349.6" y="850.8" font-size="8" font-weight="normal" text-anchor="end" fill="#222" >2</text>
<line x1="349.4" y1="823.1" x2="352.4" y2="823.1" stroke="#000" stroke-width="1" />
<text x="349.6" y="826.1" font-size="8" font-weight="normal" text-anchor="end" fill="#222" >3</text>
<line x1="349.4" y1="798.4" x2="352.4" y2="798.4" stroke="#000" stroke-width="1" />
<text x="349.6" y="801.4" font-size="8" font-weight="normal" text-anchor="end" fill="#222" >4</text>
<line x1="372.6" y1="897.3" x2="372.6" y2="899.8" stroke="#000" stroke-width="1" />
<line x1="409.0" y1="897.3" x2="409.0" y2="899.8" stroke="#000" stroke-width="1" />
<line x1="445.3" y1="897.3" x2="445.3" y2="899.8" stroke="#000" stroke-width="1" />
<line x1="483.7" y1="897.3" x2="483.7" y2="899.8" stroke="#000" stroke-width="1" />
<text x="0" y="0" font-size="8" fill="#222" transform="translate(335.2,902.2) rotate(-90)">BLI photons/sec/mouse x 10^6</text>
<line x1="371.8" y1="813.7" x2="443.3" y2="813.7" stroke="#000" stroke-width="1.2" />
<line x1="371.8" y1="810.5" x2="371.8" y2="817.0" stroke="#000" stroke-width="1.2" />
<line x1="443.3" y1="810.5" x2="443.3" y2="817.0" stroke="#000" stroke-width="1.2" />
<text x="396.8" y="806.5" font-size="7.5" font-weight="normal" text-anchor="start" fill="#222" >p =0.03</text>
<circle cx="372.6" cy="823.1" r="2.8" fill="#000"/>
<circle cx="372.6" cy="838.0" r="2.8" fill="#000"/>
<circle cx="370.0" cy="850.3" r="2.8" fill="#000"/>
<circle cx="372.6" cy="857.7" r="2.8" fill="#000"/>
<circle cx="372.6" cy="871.3" r="2.8" fill="#000"/>
<rect x="397.9" y="859.5" width="5.4" height="5.4" fill="#000"/>
<rect x="407.4" y="861.0" width="5.4" height="5.4" fill="#000"/>
<rect x="415.9" y="853.3" width="5.4" height="5.4" fill="#000"/>
<rect x="407.4" y="878.5" width="5.4" height="5.4" fill="#000"/>
<path d="M437.6,873.0 L434.6,878.4 L440.6,878.4 Z" fill="#000"/>
<path d="M446.0,866.6 L443.0,872.0 L449.0,872.0 Z" fill="#000"/>
<path d="M446.7,878.7 L443.7,884.1 L449.7,884.1 Z" fill="#000"/>
<path d="M455.6,876.0 L452.6,881.4 L458.6,881.4 Z" fill="#000"/>
<path d="M478.8,826.1 L475.8,820.7 L481.8,820.7 Z" fill="#000"/>
<path d="M487.7,818.7 L484.7,813.3 L490.7,813.3 Z" fill="#000"/>
<path d="M483.7,862.0 L480.7,856.6 L486.7,856.6 Z" fill="#000"/>
<path d="M483.7,885.5 L480.7,880.1 L486.7,880.1 Z" fill="#000"/>
<line x1="360.1" y1="847.8" x2="385.1" y2="847.8" stroke="#000" stroke-width="1.3" />
<line x1="372.6" y1="857.7" x2="372.6" y2="839.2" stroke="#000" stroke-width="1.2" />
<line x1="368.6" y1="857.7" x2="376.6" y2="857.7" stroke="#000" stroke-width="1.2" />
<line x1="368.6" y1="839.2" x2="376.6" y2="839.2" stroke="#000" stroke-width="1.2" />
<line x1="397.0" y1="865.9" x2="422.0" y2="865.9" stroke="#000" stroke-width="1.3" />
<line x1="409.5" y1="870.8" x2="409.5" y2="861.4" stroke="#000" stroke-width="1.2" />
<line x1="405.5" y1="870.8" x2="413.5" y2="870.8" stroke="#000" stroke-width="1.2" />
<line x1="405.5" y1="861.4" x2="413.5" y2="861.4" stroke="#000" stroke-width="1.2" />
<line x1="432.8" y1="876.5" x2="457.8" y2="876.5" stroke="#000" stroke-width="1.3" />
<line x1="445.3" y1="879.0" x2="445.3" y2="874.1" stroke="#000" stroke-width="1.2" />
<line x1="441.3" y1="879.0" x2="449.3" y2="879.0" stroke="#000" stroke-width="1.2" />
<line x1="441.3" y1="874.1" x2="449.3" y2="874.1" stroke="#000" stroke-width="1.2" />
<line x1="471.5" y1="845.4" x2="496.5" y2="845.4" stroke="#000" stroke-width="1.3" />
<line x1="484.0" y1="861.4" x2="484.0" y2="830.0" stroke="#000" stroke-width="1.2" />
<line x1="480.0" y1="861.4" x2="488.0" y2="861.4" stroke="#000" stroke-width="1.2" />
<line x1="480.0" y1="830.0" x2="488.0" y2="830.0" stroke="#000" stroke-width="1.2" />
<text x="0" y="0" font-size="9.6" fill="#222" text-anchor="end" transform="translate(376.0,908.0) rotate(-45)">no NK</text>
<text x="0" y="0" font-size="9.6" fill="#222" text-anchor="end" transform="translate(411.5,908.5) rotate(-45)">Empty RV</text>
<text x="0" y="0" font-size="9.6" fill="#222" text-anchor="end" transform="translate(448.5,908.0) rotate(-45)">Eomes</text>
<text x="0" y="0" font-size="9.6" fill="#222" text-anchor="end" transform="translate(486.5,908.0) rotate(-45)">T-bet</text>
</svg></body></html>
